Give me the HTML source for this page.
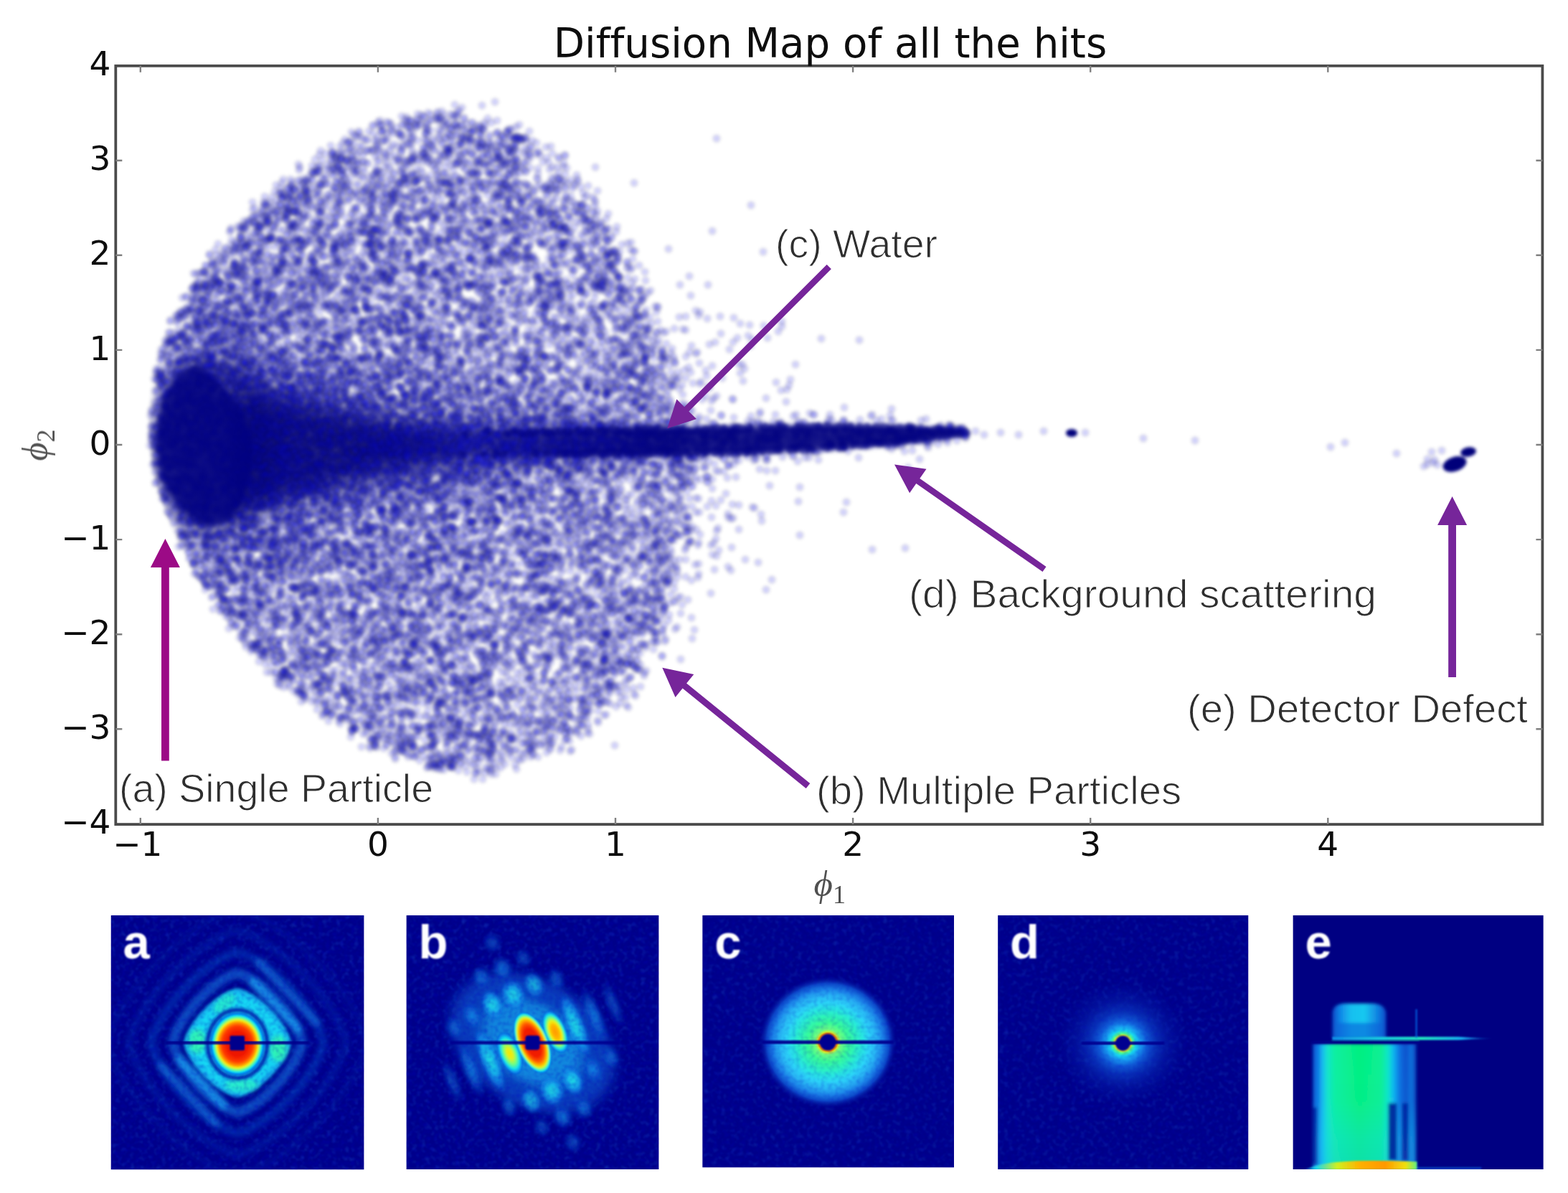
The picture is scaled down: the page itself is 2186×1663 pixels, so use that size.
<!DOCTYPE html>
<html lang="en"><head><meta charset="utf-8"><title>Diffusion Map of all the hits</title>
<style>
html,body{margin:0;padding:0;background:#fff;width:2186px;height:1663px;overflow:hidden}
svg{display:block}
.tk{font-family:"DejaVu Sans","Liberation Sans",sans-serif;font-size:47px;fill:#0a0a0a}
.ti{font-family:"DejaVu Sans","Liberation Sans",sans-serif;font-size:56.2px;fill:#0a0a0a;font-variant-ligatures:none}
.an{font-family:"Liberation Sans","DejaVu Sans",sans-serif;font-size:55.5px;fill:#2e2e2e;stroke:#fff;stroke-width:1.1px;paint-order:fill stroke}
.pl{font-family:"Liberation Sans","DejaVu Sans",sans-serif;font-size:67px;font-weight:bold;fill:#fff}
.ph{font-family:"Liberation Serif","DejaVu Serif",serif;font-style:italic;fill:#505050}
</style></head>
<body>
<svg width="2186" height="1663" viewBox="0 0 2186 1663">
<rect width="2186" height="1663" fill="#fff"/>
<defs><filter id="axb" x="0" y="0" width="2186" height="1240" filterUnits="userSpaceOnUse"><feGaussianBlur stdDeviation="0.7"/></filter></defs><defs><filter id="txb" x="-5%" y="-30%" width="110%" height="160%"><feGaussianBlur stdDeviation="0.55"/></filter></defs><defs><filter id="sb" x="0" y="0" width="2186" height="1240" filterUnits="userSpaceOnUse"><feGaussianBlur stdDeviation="1.9"/></filter><filter id="b6" x="0" y="0" width="2186" height="1240" filterUnits="userSpaceOnUse"><feGaussianBlur stdDeviation="3"/></filter><filter id="b14" x="0" y="0" width="2186" height="1240" filterUnits="userSpaceOnUse"><feGaussianBlur stdDeviation="16"/></filter><linearGradient id="tg" gradientUnits="userSpaceOnUse" x1="560" y1="0" x2="900" y2="0"><stop offset="0" stop-color="#00007e" stop-opacity="0"/><stop offset="1" stop-color="#00007e" stop-opacity="0.9"/></linearGradient></defs><defs><clipPath id="cb"><polygon points="208,620 207,594 208,568 211,543 216,517 222,491 230,466 239,442 251,417 264,394 279,372 295,350 313,329 332,309 352,289 373,270 395,251 418,232 443,213 469,196 498,181 528,169 559,160 591,153 624,150 658,151 690,158 721,172 748,191 773,213 796,237 817,261 836,286 853,311 868,337 883,362 896,387 907,412 918,438 928,463 936,489 943,514 950,540 956,566 961,593 966,620 969,648 971,676 970,704 967,732 962,761 956,790 949,819 941,848 930,878 917,907 901,935 882,961 860,985 836,1007 810,1026 782,1044 753,1059 722,1072 690,1081 657,1083 623,1080 591,1072 560,1062 530,1049 502,1035 476,1019 451,1002 428,985 406,967 385,949 365,931 347,911 331,891 315,871 301,850 287,829 275,808 263,786 252,764 242,741 232,718 224,695 216,670 211,645"/></clipPath></defs><g id="scatter" filter="url(#sb)"><g clip-path="url(#cb)"><g filter="url(#b14)" fill="#000066"><ellipse cx="295" cy="620" rx="80" ry="120" opacity="0.4"/><polygon points="330,555 520,590 820,598 820,636 520,660 330,710" opacity="0.4"/><polygon points="335,535 430,556 520,580 600,600 600,640 520,662 430,692 335,722" opacity="0.45"/></g></g><g fill="none" stroke-linecap="round"><defs><path id="l0" d="M567 174h0m20-1h0m37-2h0m8-6h0m61 20h0m-19-5h0m-14 2h0m-21-6h0m-28 15h0m-36-5h0m-20 0h0m89 6h0m11 1h0m8 5h0m8 7h0m30 2h0m17-13h0m9 0h0m13 25h0m-9-6h0m-19 0h0m-32 3h0m-17 2h0m-38-9h0m-5 9h0m-16-10h0m-14 6h0m-9 9h0m-25 0h0m-38-14h0m-29 0h0m-21 10h0m-29 3h0m24 7h0m29-5h0m2 13h0m35-13h0m33 10h0m3-10h0m71 5h0m13-3h0m30 2h0m19 5h0m9-8h0m11 8h0m21 1h0m44 18h0m-52 3h0m-42-14h0m-2 12h0m-17-13h0m-8 13h0m-4-10h0m-14 7h0m-15 5h0m-18-14h0m-3 10h0m-33-10h0m-11 9h0m-39-8h0m-20 4h0m-36 8h0m-21-7h0m-65 20h0m17-4h0m25-1h0m51 8h0m19-2h0m2-12h0m18 12h0m10-6h0m22 8h0m37-4h0m27 1h0m19 2h0m59 0h0m15-12h0m8 11h0m23 2h0m13-10h0m17 4h0m35-5h0m30 23h0m-20 4h0m-14-12h0m-20 2h0m-64 2h0m-50-1h0m-33 7h0m-42-4h0m-13-4h0m-22 6h0m-32-6h0m-12 6h0m-31-1h0m-15-6h0m-14 5h0m-20-6h0m-27 3h0m-30 10h0m-2-13h0m-2 27h0m21-8h0m14-2h0m9-3h0m19 12h0m13-7h0m13-5h0m14 3h0m20 6h0m26-9h0m0 13h0m76-3h0m10-10h0m17 0h0m21 3h0m98-2h0m11 7h0m47-8h0m8 7h0m10 8h0m4-12h0m9 23h0m-26 3h0m-35-9h0m-19 4h0m-13 4h0m-17-12h0m-30 5h0m-9-2h0m-14 1h0m-26-2h0m-12-2h0m-7 11h0m-34 3h0m-19-11h0m-9 7h0m-5-10h0m-13 1h0m-13-1h0m-5 15h0m-12-4h0m-16-7h0m-25 3h0m-9 6h0m-11-8h0m-12 3h0m-30 4h0m-9-11h0m-11 5h0m-12 0h0m-13 9h0m-5-9h0m-16 8h0m-5 10h0m40 7h0m15-15h0m45 7h0m27 4h0m28-2h0m28-2h0m10-5h0m11 2h0m27-4h0m7 8h0m21-4h0m37-4h0m4 10h0m21-5h0m18 9h0m1-13h0m16 8h0m11-9h0m11 2h0m10 7h0m12 1h0m13-8h0m15-2h0m10 9h0m16-6h0m24 7h0m28-1h0m152-7h0m-114 26h0m-88-11h0m-5 9h0m-19 4h0m-53-6h0m-16 6h0m-9-9h0m-11 4h0m-18-6h0m-43-3h0m-7 9h0m-11-4h0m-73 0h0m-5 9h0m-6-11h0m-34 2h0m-15 7h0m-19 0h0m-22-7h0m-10-5h0m-5 10h0m-17 2h0m-4-11h0m-20 6h0m-9-4h0m-8 10h0m-7-6h0m-9-5h0m-12 11h0m-14 3h0m20 14h0m10-3h0m18 4h0m5-14h0m10 2h0m4 9h0m17 1h0m20-5h0m19 1h0m19-3h0m17 8h0m16-2h0m20 1h0m13-5h0m14 6h0m24-7h0m13 5h0m19 0h0m70-8h0m25 4h0m28-5h0m3 11h0m20-2h0m1-10h0m11 10h0m57-11h0m9 4h0m37-2h0m9 22h0m-7-8h0m-28 7h0m-28-2h0m-19-4h0m-22 1h0m-57 12h0m-8-15h0m-16 0h0m-27 6h0m-16-5h0m-19 2h0m-3 11h0m-19-1h0m-10-1h0m-34-11h0m-11 10h0m-9-6h0m-71 10h0m-4-12h0m-12 12h0m-2-11h0m-14 4h0m-14-8h0m-2 10h0m-18 1h0m-13-1h0m-20 5h0m-19-3h0m-16-4h0m-16 1h0m-8-6h0m-11 8h0m-12 3h0m2 14h0m18-2h0m14 0h0m32-3h0m9 8h0m12-7h0m20-5h0m29 8h0m22-1h0m12-1h0m16 6h0m43-11h0m16 10h0m19-9h0m10-4h0m24 13h0m12-7h0m32 5h0m23-4h0m22 4h0m15-7h0m11-2h0m24 5h0m45 0h0m17 2h0m16-4h0m26 2h0m17 1h0m9 6h0m2-14h0m1 12h0m20-10h0m6 17h0m-16-1h0m-69 8h0m-3-10h0m-1 11h0m-16-12h0m-35 7h0m-14-1h0m-30-6h0m-8 13h0m-2-11h0m-50 9h0m-48-2h0m-14 2h0m-10 2h0m-22 1h0m-23-12h0m-90 1h0m-8 8h0m-12-1h0m-18 0h0m-27-10h0m-17 4h0m-27 0h0m-17 7h0m-10 2h0m-28 2h0m32 10h0m33-5h0m10-3h0m18 8h0m9-8h0m17 1h0m1 12h0m14-14h0m33 14h0m17-1h0m32-4h0m16 5h0m3-10h0m20 2h0m18 5h0m12-6h0m25 3h0m10-3h0m10-4h0m38 8h0m29-4h0m8 7h0m14 1h0m13-7h0m10-4h0m42 3h0m13-5h0m9 8h0m9-8h0m25 10h0m17 0h0m18 5h0m16-8h0m23-6h0m25 3h0m-5 22h0m-57 0h0m-28-4h0m-22 0h0m-22 6h0m-4-8h0m-72 10h0m-14 0h0m-16-3h0m-17-7h0m-47 2h0m-9 7h0m-20-1h0m-20 2h0m-21-3h0m-2-11h0m-14 15h0m-5-14h0m-14 11h0m-9-10h0m-35 12h0m-10-11h0m-2 10h0m-24-11h0m-18 7h0m-26-3h0m-15 2h0m-18 4h0m-11-8h0m-18-3h0m-9 8h0m-10-5h0m-14-4h0m-13 4h0m-4 15h0m21 5h0m11 0h0m2-2h0m10 5h0m17-7h0m3 11h0m22-9h0m32 2h0m25-5h0m27-3h0m11 7h0m13 6h0m8-13h0m51 13h0m16-5h0m20 7h0m2-7h0m20 6h0m8-2h0m12 0h0m22-2h0m28-2h0m30-3h0m117 9h0m14-7h0m23 1h0m44 4h0m10-4h0m16-2h0m42 10h0m-34 5h0m-8 6h0m-54-8h0m-16 1h0m-4 11h0m-40-8h0m-21 5h0m-14-8h0m-20 1h0m-39 7h0m-1-11h0m-12 12h0m-16-11h0m-18 4h0m-16-5h0m-22 0h0m0 5h0m-11 2h0m-11 1h0m-14-9h0m-5 9h0m-21-1h0m-17 0h0m-21-8h0m-17 4h0m-5 11h0m-13-14h0m-21 1h0m-10 10h0m-23-1h0m-21-3h0m-24 3h0m-4-11h0m-14 11h0m-2-10h0m-17 7h0m-13 4h0m-8-10h0m-3 2h0m-17 0h0m-11 2h0m-10 0h0m-10-1h0m-14 3h0m-3 20h0m15-10h0m19 1h0m21 12h0m2-15h0m12 5h0m17 8h0m11-7h0m12 6h0m8 0h0m8-7h0m12 7h0m18-3h0m14 0h0m17-8h0m2 10h0m24 0h0m11-10h0m2 12h0m39-8h0m33-1h0m1 10h0m22-9h0m12 10h0m24-11h0m10 1h0m12 9h0m5-10h0m12 11h0m6-15h0m6 7h0m10-1h0m40-1h0m16 7h0m21-2h0m27-3h0m25-5h0m8 11h0m47-1h0m27-6h0m9 8h0m7-12h0m26 3h0m37 1h0m38 20h0m-78-2h0m-12-2h0m-117-2h0m-12-1h0m-25 1h0m-36 4h0m-23-5h0m-12 9h0m-17 3h0m-32-8h0m-10 4h0m-31-4h0m-15 3h0m-15-9h0m-11 10h0m-19-9h0m-16 3h0m-17 0h0m-15 1h0m-18-1h0m-12-3h0m-6 7h0m-9-5h0m-6 9h0m-16-10h0m-12 12h0m-10-12h0m-10 7h0m-9-5h0m-17 3h0m-24-1h0m-19-1h0m-2 3h0m-4 6h0m-4-2h0m-11-7h0m-17-2h0m-7 7h0m-30 15h0m18 3h0m3-11h0m7 10h0m18-6h0m26 7h0m14-13h0m4 10h0m12 1h0m4-7h0m18 5h0m2-9h0m8 15h0m9-8h0m6 8h0m5-12h0m11 9h0m13-8h0m7 8h0m14-3h0m30-6h0m17 5h0m11-5h0m5 11h0m8-8h0m7-6h0m11 7h0m12-5h0m14 5h0m10 3h0m5-9h0m8 5h0m21 0h0m32 4h0m23 2h0m49 2h0m15 1h0m1-14h0m27 3h0m18 0h0m65-2h0m4 10h0m23-7h0m8 10h0m29-14h0m12 9h0m42 0h0m20-3h0m39-3h0m54-2h0m64 15h0m-125 3h0m-51 9h0m-12-11h0m-14 2h0m-25 6h0m-15-3h0m-10 6h0m-34-2h0m-22 3h0m-9-13h0m-11 4h0m-29-5h0m-11 14h0m-25-5h0m-30 5h0m-12-10h0m-12 8h0m-18-1h0m-13 3h0m-6-13h0m-10 6h0m-12-7h0m-12 12h0m-15-9h0m-28 10h0m-11-6h0m-15-7h0m-6 7h0m-17-2h0m-21-4h0m-10 4h0m-14-3h0m-7 7h0m-11-8h0m-2 11h0m-6-4h0m-2-6h0m-5 8h0m-3 2h0m0 0h0m-11-3h0m-11-3h0m-9 8h0m-2-11h0m-8 6h0m-11 0h0m-19-6h0m-11 1h0m-2 9h0m-2-13h0m-7 7h0m-21 5h0m-5-5h0m-14-2h0m-19 10h0m-4-10h0m-10 4h0m-1-1h0m-16-3h0m-8 9h0m14 6h0m13 10h0m1-12h0m18 7h0m21 3h0m0 1h0m7-11h0m19 1h0m14 4h0m9-7h0m6 10h0m6-9h0m9 14h0m1-12h0m4 9h0m2 3h0m3-5h0m17 1h0m12-6h0m10 6h0m0-6h0m2-2h0m2-3h0m9 8h0m0 2h0m18-8h0m10-1h0m15 1h0m20-1h0m5 12h0m14-4h0m13-5h0m5 8h0m7-9h0m6 5h0m14 3h0m18 0h0m2-2h0m12 4h0m13-4h0m18-8h0m18 9h0m13-5h0m28-4h0m21 0h0m5 10h0m19 1h0m14-6h0m9 4h0m21 2h0m10-7h0m16-1h0m18 11h0m6-12h0m26-1h0m11 3h0m29 1h0m17-6h0m20 1h0m6 9h0m49 19h0m-34-8h0m-32 2h0m-11-5h0m-7 8h0m-17-1h0m-8-7h0m-17 13h0m-15-14h0m-27 7h0m-11 2h0m-10-4h0m-29 5h0m-31-4h0m-23 8h0m-9-14h0m-4 9h0m-19-3h0m-22-2h0m-30-4h0m-7 6h0m-15-5h0m-5 7h0m-5 3h0m-8-6h0m-12-3h0m-10 5h0m-20 4h0m0-4h0m-3-1h0m-8 8h0m-9-12h0m-6 12h0m-6-9h0m-7-2h0m-1-4h0m-1 12h0m-12 1h0m-3-12h0m-7 8h0m-9-9h0m-6 5h0m-3 8h0m-8-8h0m-7 4h0m-6 6h0m-8-4h0m-10-6h0m-1 7h0m-7-8h0m-3 4h0m-7-1h0m-7-3h0m-6 8h0m-3-10h0m-12 0h0m-2 2h0m-8 10h0m-2-4h0m-11-1h0m-3-1h0m-16-8h0m-5 10h0m-6-9h0m-14 5h0m-4-2h0m-2 4h0m-4-3h0m-16-2h0m-12 10h0m-4-11h0m-17 6h0m-18-2h0m6 13h0m10 5h0m10-3h0m2 0h0m12 3h0m14 0h0m9-8h0m0 11h0m13-9h0m0 0h0m0 12h0m13-10h0m15 8h0m2-12h0m13 5h0m11 1h0m9 4h0m10-5h0m14 6h0m4-9h0m5 5h0m6-4h0m4 11h0m7-13h0m8 5h0m1 2h0m22-6h0m9 13h0m5-4h0m10 2h0m9-3h0m10 0h0m18 3h0m12-3h0m15-1h0m16 3h0m15-7h0m13 4h0m12 4h0m13-13h0m8 8h0m9 6h0m4-13h0m20 14h0m2-10h0m2 1h0m18 1h0m7 4h0m13-7h0m3 8h0m22 1h0m4-10h0m13 1h0m11 11h0m1-4h0m10-2h0m17 1h0m1-10h0m19 1h0m15 13h0m2-12h0m31 9h0m10 0h0m10-5h0m13 4h0m17 5h0m27-6h0m18 3h0m18-9h0m3 11h0m17-7h0m129 7h0m89-3h0m114-3h0m129 22h0m-79-2h0m-4 1h0m-8-4h0m-22-5h0m-15 8h0m-12-4h0m-13 1h0m-26-3h0m-27 0h0m-12 4h0m-14 5h0m-63 0h0m-4-9h0m-39 7h0m-73-8h0m-18 1h0m-28 4h0m-35 1h0m-13 4h0m-3-2h0m-3 0h0m-14-9h0m-5 11h0m-8-5h0m-10-1h0m-12 0h0m-15-5h0m-10 3h0m-11 8h0m-8-1h0m-3-7h0m-9-6h0m-3 9h0m-6-1h0m-4-2h0m-1 1h0m-16-1h0m-15-2h0m-11 6h0m-7 3h0m-13-3h0m-5-3h0m-1 6h0m-2-2h0m-12-1h0m-9 2h0m-10-1h0m-6-10h0m-2 2h0m-2 6h0m-1 3h0m-11-10h0m-2 9h0m-12 0h0m-3-10h0m-10 8h0m-12-1h0m-5-2h0m-5 0h0m-3 3h0m0-6h0m-8 4h0m-11-5h0m-1 7h0m-3-10h0m-9 11h0m-1 2h0m-16-2h0m-6 1h0m-1 0h0m-4-11h0m-2 11h0m-8-6h0m-12 5h0m-1-10h0m-10 14h0m-2-10h0m-1 3h0m-7 6h0m-3-5h0m-2-4h0m-10 7h0m-6-3h0m-1-4h0m-14 10h0m-4 0h0m-3-11h0m-23 7h0m-3-9h0m-14 0h0m0 1h0m-11-2h0m-1 10h0m-5-9h0m-6 6h0m-10 6h0m-5-9h0m-1 0h0m-2 7h0m-9 1h0m-8-12h0m-15 7h0m-3 1h0m-3-7h0m-7 2h0m-6 2h0m0 9h0m-5-10h0m-12 3h0m-13 7h0m-2-12h0m-8 7h0m-21 1h0m-14-9h0m-1 3h0m-14 0h0m-20-4h0m-1 9h0m-13 5h0m12 7h0m0-2h0m13 3h0m10-3h0m5 1h0m12-1h0m13 5h0m7 1h0m1-9h0m2 1h0m6 13h0m2-5h0m9 0h0m14 2h0m6-4h0m1-4h0m6 8h0m13 1h0m5-8h0m1-3h0m5-2h0m5 15h0m2-14h0m9-1h0m1 2h0m7 13h0m8-14h0m3 9h0m19-4h0m17-1h0m12-1h0m8-1h0m0 10h0m10-3h0m4-9h0m10 3h0m18-1h0m11 5h0m15-5h0m4 9h0m1-1h0m8-2h0m2 1h0m5 3h0m0 0h0m10-12h0m1 9h0m13-5h0m1 0h0m8 9h0m1-5h0m11-3h0m4 1h0m4-3h0m5 1h0m14 1h0m1 6h0m9-1h0m14-1h0m1-8h0m3-2h0m5 7h0m1 6h0m0-10h0m8 2h0m17 8h0m7-7h0m1 6h0m9 1h0m0-4h0m1 1h0m16-1h0m0-3h0m8 9h0m3-3h0m17-9h0m9 5h0m3-1h0m0-5h0m12 11h0m6-8h0m11 8h0m2-11h0m4 2h0m6 7h0m3-1h0m2-4h0m11-1h0m0 1h0m1 3h0m3 6h0m8-12h0m0 6h0m10 1h0m11 1h0m2 3h0m4-10h0m0-2h0m4 1h0m7 8h0m1 1h0m3-11h0m8 1h0m5 2h0m2 1h0m1 10h0m3-3h0m4-10h0m11 9h0m1-3h0m8 5h0m4 0h0m3-11h0m18 2h0m9 8h0m3-9h0m13-3h0m10 7h0m28-5h0m3 11h0m21-1h0m10-10h0m10 5h0m6 8h0m5-9h0m8 8h0m16-12h0m9 3h0m14 4h0m25 0h0m27-9h0m13 1h0m8 8h0m15 6h0m16-4h0m22-4h0m12-7h0m3 12h0m20-6h0m6-1h0m4 7h0m5-12h0m14 6h0m33-3h0m14 0h0m-78 15h0m-105 3h0m-34 0h0m-49-5h0m-32 8h0m-19 2h0m-21 4h0m-12-13h0m-11 10h0m-11 1h0m-20-3h0m-11 2h0m-5-11h0m-9 10h0m-20-4h0m-9-2h0m-6-1h0m-2 6h0m-11-4h0m-13 8h0m-13-13h0m-5 6h0m-15 3h0m-6 5h0m-2-6h0m-12-6h0m-2 12h0m-3-6h0m-8-4h0m-11 5h0m-2-5h0m-3 5h0m-11 0h0m-4-3h0m-4-4h0m-4 8h0m-2 5h0m0-13h0m-4-2h0m-10 13h0m-3-12h0m-1 6h0m-4-6h0m0 4h0m0-2h0m-6-3h0m-2 11h0m-6-8h0m-7 9h0m-9-11h0m-2 12h0m-8-8h0m-5 7h0m-7 1h0m-13-10h0m-1 0h0m-2-3h0m-6 10h0m-14-4h0m-1-4h0m0 4h0m-4 3h0m0 4h0m-2-12h0m-1 5h0m-2 2h0m-14-5h0m-5 3h0m-4 9h0m-3-10h0m-2 6h0m-8-10h0m-15 7h0m-4 4h0m-11-7h0m-3 5h0m-4-6h0m-7 2h0m-1 3h0m-11 4h0m-2-4h0m-5-3h0m-11 3h0m-10-3h0m-5-4h0m-5 8h0m-8-8h0m-19 5h0m-11 4h0m-19-7h0m0 11h0m-10-2h0m-5-10h0m-2 3h0m-12-4h0m-15 8h0m-15-7h0m-4 12h0m-1 0h0m-7-14h0m-4 0h0m-7 7h0m-7 5h0m-5-6h0m-4-2h0m-17 7h0m-3-10h0m-14 7h0m-17-6h0m-9 9h0m-6-9h0m-8 9h0m-11-12h0m-7 11h0m-20 0h0m-2-10h0m9 23h0m9 6h0m17-10h0m2 0h0m10 0h0m11 2h0m13-3h0m7 7h0m10-9h0m5 9h0m18-7h0m16-1h0m2 12h0m5-8h0m5-4h0m4 11h0m15-9h0m9-1h0m2 1h0m3 1h0m2 8h0m9-10h0m1 0h0m12 1h0m7-4h0m3 15h0m9-7h0m10 3h0m2 2h0m6-5h0m5-1h0m9 7h0m14 1h0m8-4h0m8-9h0m3 4h0m8 7h0m10-2h0m3-4h0m14-1h0m13-1h0m7 8h0m3 1h0m8-13h0m4 11h0m11 3h0m2-12h0m18 4h0m7-1h0m2-5h0m15 7h0m8-6h0m1 11h0m8-7h0m14-5h0m15 2h0m2-3h0m1 5h0m11 2h0m5 8h0m14-9h0m21 3h0m12 2h0m3 4h0m11-13h0m4 2h0m12 0h0m1 1h0m18 3h0m21-8h0m4 8h0m47 3h0m16 1h0m12 0h0m1-11h0m0 1h0m7 0h0m6 9h0m22-2h0m23 0h0m10-3h0m8 7h0m20-2h0m16-4h0m55-5h0m17 0h0m922-2h0m-992 16h0m-11 8h0m-35-6h0m-8 6h0m-26-1h0m-47-2h0m-31-3h0m-19 6h0m-5-8h0m-26 1h0m-2 11h0m-8-9h0m-20 10h0m-26-13h0m-8 6h0m-13 0h0m-6 1h0m-2 8h0m-3-9h0m-23-1h0m-11 10h0m-9-11h0m-2 6h0m-10 2h0m-6-11h0m-5 13h0m-8-5h0m-17-6h0m-14 9h0m-6-11h0m-8 7h0m-13-1h0m-27 4h0m-2-7h0m0-2h0m-13-2h0m-1 7h0m-5 8h0m-10-5h0m-13 4h0m-9-11h0m-8-3h0m-19 12h0m-2 1h0m-9 1h0m-9-5h0m-3 0h0m-8-3h0m-8 1h0m-12 1h0m-2-4h0m-2 11h0m-8-12h0m-3 1h0m0-4h0m-6 6h0m-10-2h0m-1 9h0m-5 2h0m-8-13h0m-1 4h0m-1 4h0m-14 2h0m-1 3h0m-16-9h0m-8-3h0m-1-2h0m0 12h0m-11-5h0m-10 3h0m-6-7h0m-20 9h0m-7-9h0m-5 10h0m-15-11h0m-5 12h0m-15-3h0m-6-2h0m-1 19h0m15-5h0m12 0h0m25 0h0m10 3h0m9-11h0m1 10h0m15 3h0m6-11h0m23-1h0m7 9h0m9-2h0m4 5h0m5-3h0m3-10h0m6 8h0m10 3h0m10-3h0m9 7h0m3-5h0m5-1h0m7 2h0m1 4h0m3-13h0m0 5h0m2-2h0m8 7h0m1-11h0m5 6h0m3 1h0m5-3h0m6 4h0m1 2h0m8-6h0m9 9h0m4-13h0m15 7h0m10 5h0m10-9h0m2 10h0m20-7h0m9 1h0m3-1h0m8 3h0m7-10h0m15 9h0m10-6h0m14 0h0m11 11h0m11-13h0m6 12h0m33-13h0m16 7h0m15-7h0m33 2h0m7 9h0m45-8h0m21 9h0m13-8h0m37-3h0m10 14h0m38-8h0m15 8h0m5-15h0m28 11h0m11-4h0m10-7h0m-39 26h0m-4-8h0m-25 5h0m-64-3h0m-12 1h0m-1 10h0m-11-13h0m-24 9h0m-17-4h0m-8-6h0m-13 6h0m-15 3h0m-12-7h0m-15 4h0m-25-6h0m-26 14h0m-8-7h0m-14-2h0m-10 6h0m-11-1h0m-16-11h0m-7 11h0m-11-1h0m-18 0h0m-14-8h0m-10 5h0m-9 5h0m-22-3h0m-15-1h0m-3-6h0m-7 7h0m-8 5h0m-11-14h0m-1 7h0m-10-5h0m-11 11h0m-24 0h0m-20 0h0m-2-8h0m-9 6h0m-6-9h0m-18 7h0m-10-5h0m-1 5h0m-10-9h0m-8 10h0m-6-8h0m-2 13h0m-16-5h0m-13-6h0m-12 10h0m-4-9h0m-11 1h0m-14 9h0m-11-7h0m-5 17h0m18 0h0m12 5h0m5-9h0m16 2h0m14-1h0m14 3h0m12 2h0m17 4h0m0-10h0m11 1h0m14-6h0m16 10h0m10-2h0m9 7h0m3-10h0m16 4h0m19 5h0m5-10h0m7 5h0m8 5h0m16-2h0m21-4h0m8-4h0m25 3h0m11 1h0m7-8h0m9 4h0m39 3h0m24 3h0m11-3h0m11 0h0m12 7h0m33-8h0m19-6h0m31 3h0m13 7h0m1-10h0m13 2h0m24 12h0m10-11h0m3 10h0m21-3h0m27 5h0m14-13h0m10 4h0m46 8h0m11-2h0m18-1h0m1 16h0m-14-4h0m-31 5h0m-3-9h0m-7 11h0m-21-1h0m-12-6h0m-19 1h0m-17-5h0m-10 10h0m-4-8h0m-48 4h0m-33-9h0m-12 13h0m-1-10h0m-24 10h0m-2-13h0m-37 7h0m-7 8h0m-18-15h0m-12 3h0m-27 3h0m-14 3h0m-16-3h0m-14-2h0m-29 8h0m-45-6h0m-22 0h0m-11 7h0m-11-10h0m-15 2h0m-11 8h0m-1-10h0m-14 1h0m-20 7h0m-11-3h0m-10 6h0m-15-8h0m-36 9h0m-2-10h0m-20 3h0m-13 2h0m-12-1h0m1 12h0m13 8h0m6-12h0m10 5h0m14 7h0m11-1h0m12 2h0m11-8h0m13 0h0m21-4h0m2 13h0m7-7h0m15-6h0m23 8h0m4 5h0m5-12h0m11 0h0m5 2h0m2 5h0m47-5h0m21 1h0m19-1h0m16-2h0m9 10h0m52-4h0m18-2h0m20-3h0m27-1h0m35 11h0m31-4h0m1-10h0m8 5h0m20 1h0m18 1h0m12-2h0m65 5h0m29 3h0m32 2h0m3-12h0m11 2h0m13 6h0m24-7h0m37-4h0m-28 24h0m-42-3h0m-15 5h0m-43-5h0m-23 7h0m-15 1h0m-10-7h0m-64-6h0m-43 8h0m-27-2h0m-19 1h0m-15 1h0m-39 7h0m-4-11h0m-11 8h0m-27-7h0m-13 4h0m-8-8h0m-16 7h0m-23 6h0m-12 1h0m-16-5h0m-21-9h0m-3 9h0m-17-6h0m-10 0h0m-12 1h0m-13 7h0m-13-10h0m-13 9h0m-1-1h0m-6-10h0m-7 9h0m-18 1h0m-16-5h0m-11 7h0m-37-2h0m-4-6h0m-18 4h0m-14 1h0m9 9h0m26 7h0m15 1h0m11-7h0m7 9h0m10-1h0m14-4h0m7 7h0m20-2h0m4-9h0m11 12h0m10-11h0m18 3h0m10 4h0m10-11h0m13 10h0m20-1h0m14 2h0m13-4h0m49-4h0m15 4h0m13-3h0m4 10h0m17-5h0m31-4h0m13-4h0m7 10h0m14-3h0m13-4h0m9-4h0m22 2h0m28 3h0m40 1h0m41 3h0m20 3h0m31-6h0m36 1h0m18 1h0m30 4h0m72 15h0m-45-9h0m-38 4h0m-12-3h0m-20-3h0m-12 6h0m-73 5h0m-38-7h0m-13-3h0m-9 10h0m-4-10h0m-42 1h0m-9 7h0m-27-8h0m-17 7h0m-13 3h0m-22-10h0m-13 2h0m-11 9h0m-9-9h0m-25 1h0m-13 0h0m-15-1h0m-24 9h0m-9-11h0m-5 10h0m-19 4h0m-11-10h0m-10-1h0m-2 9h0m-41-3h0m-22 4h0m-27 0h0m-3-10h0m-21 11h0m-29-7h0m-31 0h0m-16-5h0m7 15h0m24 13h0m1-14h0m22 7h0m60-8h0m1 11h0m11-1h0m54 2h0m31-3h0m34 6h0m17-7h0m9-7h0m10 11h0m9-6h0m17 0h0m22 4h0m29-4h0m42 4h0m67-1h0m7-7h0m11 9h0m36 1h0m37-8h0m10 6h0m19-9h0m12 10h0m16-11h0m40 9h0m16 3h0m136-4h0m-162 16h0m-6-8h0m-8 8h0m-10-1h0m-10-4h0m-11 4h0m-20 3h0m-52 2h0m-39-3h0m-12 6h0m-9-11h0m-10 7h0m-10-10h0m-18 4h0m-39 4h0m-20 2h0m-14-10h0m-19 0h0m-14 9h0m-11-5h0m-12 8h0m-8-11h0m-17 12h0m-13-9h0m-11 1h0m-25 9h0m-8-11h0m-16 0h0m-8 9h0m-22-10h0m-7 8h0m-13 1h0m-4-10h0m-12 0h0m-14 2h0m-5 10h0m-18-6h0m-10-3h0m-18-5h0m-27 21h0m17-1h0m11-1h0m19-2h0m14 3h0m27 4h0m6-8h0m44 4h0m28 6h0m76-8h0m44 11h0m2-13h0m11 15h0m27-8h0m12-5h0m10 10h0m1-10h0m15 11h0m15-10h0m28 10h0m32 2h0m12-8h0m13 3h0m20 1h0m18-10h0m26 3h0m10 11h0m5-9h0m16 2h0m23 3h0m18-6h0m8 7h0m2 12h0m-17 5h0m-10-7h0m-33-5h0m-20 9h0m-52-4h0m-17 7h0m-3-12h0m-28 11h0m-16-4h0m-29-4h0m-28 0h0m-35-3h0m-48 1h0m0 10h0m-18-7h0m-26 6h0m-20-6h0m-31 6h0m-48-5h0m-20-1h0m-16 1h0m-22-3h0m-9 3h0m-47 4h0m-9-9h0m-3 12h0m-11-10h0m17 22h0m23-3h0m11-4h0m12 10h0m14-11h0m1 6h0m10 4h0m12 4h0m7-14h0m17 1h0m18 2h0m8 7h0m41 2h0m10-8h0m14 6h0m15 4h0m13-12h0m30 10h0m35-4h0m24 3h0m51 0h0m11-2h0m25 1h0m28-11h0m20 8h0m16 2h0m40-9h0m50 3h0m10 6h0m37 17h0m-67-6h0m-15-1h0m-24-4h0m-21 12h0m-19-11h0m-31 14h0m-2-12h0m-13-3h0m-16 3h0m-29 12h0m-10-11h0m-10-3h0m-15 7h0m-18-2h0m-8 8h0m-15-3h0m-24-7h0m-8 6h0m-11 0h0m-23-9h0m-13 11h0m-13 0h0m-28-5h0m-17 2h0m-23 1h0m-8-7h0m-31 7h0m-60 5h0m-14-10h0m9 19h0m15 0h0m26 5h0m27-4h0m34-6h0m15 7h0m29-6h0m11 3h0m20-1h0m25 7h0m10 0h0m13-10h0m1 10h0m14-11h0m14-2h0m7 13h0m13-6h0m16-7h0m40 1h0m33 5h0m15-2h0m52 1h0m58-3h0m18 4h0m44-4h0m-21 24h0m-5-10h0m-12 8h0m-6-8h0m-14 1h0m-3 10h0m-20 4h0m-19-1h0m-16-12h0m-20 4h0m-9-3h0m-29 0h0m-15 6h0m-16-3h0m-19 1h0m-25 4h0m-52-3h0m-32 6h0m-37 0h0m-7-12h0m-41 3h0m-12-2h0m-12-2h0m-16 7h0m-17 3h0m-29-5h0m-22-2h0m22 16h0m48 0h0m6 9h0m68-5h0m14 7h0m10-12h0m14 0h0m14 10h0m30 2h0m27-15h0m4 15h0m29-12h0m11 10h0m13-10h0m28 0h0m28 3h0m18 2h0m19 4h0m14-11h0m30 14h0m22-6h0m26 0h0m17-4h0m-32 24h0m-22 0h0m-74-9h0m-21-3h0m-55 13h0m-19-9h0m-46 8h0m-22-3h0m-10 5h0m-5-10h0m-17 6h0m-58-5h0m-21-4h0m-7 8h0m-19-7h0m-17 5h0m-19-7h0m-15 2h0m-14-3h0m26 17h0m5 14h0m15-12h0m47 9h0m13-6h0m26 5h0m15-1h0m14-2h0m21-7h0m26 9h0m12 4h0m23-10h0m16 2h0m10-3h0m9 9h0m36-8h0m17 11h0m2-11h0m34 7h0m17-2h0m15 6h0m21-14h0m12 6h0m11 7h0m29-2h0m8-11h0m-51 22h0m-6 8h0m-4-10h0m-34 6h0m-36 0h0m-78-1h0m-31 5h0m-24-6h0m-48 1h0m-54-1h0m-52 4h0m20 12h0m18 4h0m22-10h0m33-3h0m25 4h0m119 5h0m22-5h0m22 10h0m13 1h0m10-7h0m12 4h0m15 1h0m20-2h0m15 20h0m-2-13h0m-27 9h0m-35 1h0m-34 1h0m-7-13h0m-37 6h0m-18 9h0m-11-3h0m-12-10h0m-4 13h0m-8-11h0m-10-2h0m-14 1h0m-22 7h0m-24 1h0m-62-3h0m-6 11h0m28 6h0m9-8h0m15 7h0m25 3h0m6-9h0m28 2h0m2 10h0m9-7h0m62-5h0m12 10h0m18-11h0m16 7h0m30 2h0m46 13h0m-28-5h0m-27 13h0m-6-7h0m-30-7h0m-41 1h0m-17-2h0m-4 15h0m-20-4h0m-20 1h0m-31-9h0m-2 12h0m-17-9h0m-27-4h0m72 27h0m10-5h0m20 3h0m3-10h0m24 4h0m16-5h0m14 1h0m41 3h0m-49 17h0m-61-5h0"/></defs><g opacity="0.178"><use href="#l0" stroke="#00003c" stroke-width="11"/><use href="#l0" stroke="#0000ff" stroke-width="7"/></g><defs><path id="l1" d="M609 159h0m-79 9h0m49 4h0m40-12h0m18 3h0m20 8h0m15 9h0m-23 3h0m-12-6h0m0 10h0m-44-10h0m-23 8h0m-80-1h0m15 20h0m20-2h0m40-8h0m26 0h0m40 3h0m25-5h0m10 11h0m13 4h0m26-6h0m8-8h0m11 2h0m7 12h0m2-15h0m54 24h0m-17-2h0m-19-1h0m-13 2h0m-26-2h0m-16 7h0m-23-3h0m-15-1h0m-10-5h0m-18-1h0m-4 10h0m-13-8h0m-18-2h0m-4 9h0m-15 0h0m-2-11h0m-91 4h0m-10 2h0m-10-2h0m-19 20h0m16 2h0m10-5h0m28 8h0m27 2h0m45-8h0m28-4h0m9 10h0m4-12h0m21 12h0m8-13h0m24 2h0m11 2h0m28 1h0m9 8h0m10-5h0m55 1h0m9-6h0m98 28h0m-93 0h0m-11-6h0m-11-1h0m-51-3h0m-35 10h0m-1-14h0m-14 12h0m-10 0h0m-15 0h0m-15-5h0m-8 7h0m-3-13h0m-37 0h0m-1 11h0m-14-4h0m-7-9h0m-12 12h0m-65-2h0m-13-10h0m-28 0h0m-22 11h0m-33 7h0m7 10h0m14-10h0m10 10h0m10-2h0m4-10h0m24 1h0m23 5h0m9 4h0m17 0h0m8-7h0m65 8h0m13-4h0m19 0h0m21-2h0m61 10h0m11-15h0m36 7h0m16-6h0m22 7h0m35-3h0m3 23h0m-18-4h0m-50 0h0m-15 0h0m-24 5h0m-37 0h0m-14-6h0m-15 1h0m-13-7h0m-11 4h0m-23 3h0m-19 2h0m-13 4h0m-3-13h0m-12 0h0m-16 13h0m-27-8h0m-26 7h0m-7-10h0m-16 1h0m-25 2h0m-30-4h0m-34 22h0m13-7h0m8 6h0m10-3h0m3 10h0m7-7h0m10-5h0m25-2h0m77 4h0m17 4h0m8-7h0m11 9h0m49-3h0m5 8h0m29-11h0m41 7h0m43-2h0m12-1h0m24-6h0m17 2h0m12 0h0m6 10h0m40-2h0m14 18h0m-30-13h0m-30 12h0m-8-12h0m-7 12h0m-2-10h0m-10 11h0m-26-12h0m-1 10h0m-19-5h0m-13 0h0m-21 2h0m-23-2h0m-11-7h0m-23 3h0m-21 4h0m-23-6h0m-10 1h0m-14 5h0m-44-7h0m-7 13h0m-15-5h0m-23 4h0m-21 1h0m-20-13h0m-18 14h0m-38-7h0m-15-3h0m-18 23h0m3-10h0m7 14h0m13-13h0m10 8h0m9-4h0m20 9h0m9-8h0m14 7h0m12-5h0m14 6h0m9-10h0m32-1h0m4 10h0m29-8h0m1-6h0m12 2h0m36 3h0m17 4h0m15 1h0m26-3h0m10 5h0m33 3h0m11-2h0m18-10h0m10-3h0m18 12h0m11-7h0m14 10h0m28-6h0m17-5h0m4 11h0m18-11h0m66 26h0m-37-13h0m-41 7h0m-21 1h0m-46-8h0m-11 6h0m-14-7h0m-43 15h0m-17 0h0m-5-11h0m-53 3h0m-26 8h0m-25-4h0m-19-8h0m-10 1h0m-11-2h0m-14 8h0m-16-9h0m-9 4h0m-4 0h0m-54-3h0m-16 11h0m-30-3h0m-24 5h0m-36 12h0m9-7h0m13-4h0m36 12h0m34-3h0m16-1h0m28 5h0m1-12h0m26 1h0m4 10h0m14 1h0m35-12h0m11 8h0m104-7h0m8 12h0m18-4h0m21 1h0m11-5h0m5 9h0m6-13h0m16 11h0m19-5h0m27 0h0m15 2h0m11 3h0m13-2h0m10-6h0m15 7h0m17-8h0m5 11h0m9-14h0m14 12h0m-33 9h0m-40 2h0m-39 2h0m-11 1h0m-19-4h0m-60-4h0m-17 8h0m-28-1h0m-20 1h0m-19-6h0m-8 6h0m-30-8h0m-20 9h0m-30 2h0m-2-12h0m-19 8h0m-17-7h0m-3 12h0m-14 0h0m-9-5h0m0-1h0m-2-2h0m-31-7h0m-11 9h0m-12-5h0m-12 0h0m-10 5h0m-15 1h0m-11-4h0m-49 4h0m-9 21h0m12-3h0m10-4h0m10 0h0m11-6h0m24 7h0m14 1h0m12-10h0m18 13h0m6-9h0m20 8h0m12 0h0m20-11h0m5 11h0m21-11h0m28 7h0m23 1h0m15 1h0m3-10h0m19 10h0m29-4h0m19-6h0m0 9h0m10-1h0m27-3h0m14 9h0m58-8h0m12 1h0m22-3h0m7 7h0m21-1h0m24 5h0m22 0h0m13-1h0m8-7h0m9 7h0m12-10h0m21 1h0m78 23h0m-56-7h0m-12-2h0m-16 1h0m-11 4h0m-8 7h0m-31 0h0m-12-6h0m-18 2h0m-36-2h0m-14-2h0m-6 8h0m-54-14h0m-15 1h0m-35-2h0m-2 15h0m-10-4h0m-6-9h0m-34 1h0m-21-2h0m-55 13h0m-6-12h0m-12 1h0m-12 5h0m-18-8h0m-46 5h0m-10 8h0m-26-2h0m-10-6h0m-11 1h0m-1 6h0m-9-7h0m-19-5h0m-9 7h0m-13-3h0m-16-2h0m-5 10h0m-19 8h0m10 11h0m3-11h0m16-1h0m10 4h0m16-4h0m11 5h0m16-1h0m7-6h0m20 4h0m42 8h0m1-10h0m11 7h0m24-2h0m8-6h0m30-2h0m44 0h0m18 4h0m10 5h0m16-4h0m20-2h0m11-1h0m7 11h0m22 1h0m4-9h0m20 9h0m10 1h0m21-7h0m63 5h0m15-12h0m11 5h0m10-1h0m14 1h0m29 5h0m15-5h0m17 1h0m15 7h0m10-11h0m5 13h0m-69 13h0m-41-2h0m-33 2h0m-35-4h0m-11-2h0m-32 5h0m-14-1h0m-16-1h0m-11 3h0m-5-9h0m-27-1h0m-22 7h0m-11 5h0m-21-2h0m-23-13h0m-4 13h0m-26-6h0m-13 5h0m-13-11h0m-11-1h0m-14 13h0m-46-7h0m-7 9h0m-23-1h0m-5-13h0m-16 4h0m-20 6h0m-34-2h0m-30-7h0m0 11h0m-15-8h0m-16 11h0m39 8h0m10 5h0m4-12h0m10 3h0m8 8h0m2-12h0m6 4h0m14 0h0m4 10h0m8-2h0m1-5h0m22 5h0m17-6h0m13 5h0m25-10h0m9 14h0m9-7h0m20 3h0m15-2h0m11 2h0m22-11h0m0 10h0m27-4h0m10-6h0m13 7h0m8-7h0m8 9h0m19-4h0m29-4h0m46 5h0m15 9h0m11-10h0m84 3h0m16 6h0m12-3h0m9-7h0m45 0h0m22 10h0m10-6h0m12 2h0m15-10h0m-26 18h0m-53 2h0m-26-3h0m0 11h0m-38-8h0m-26 6h0m-13 3h0m-17-13h0m-35 11h0m-16-7h0m-19 1h0m-20 7h0m-33-8h0m-15 0h0m-18-4h0m-16 0h0m-11 14h0m-17-9h0m-10 6h0m-33 3h0m-7-8h0m-15 4h0m-14-2h0m-22 1h0m-16-6h0m-25 1h0m-22 4h0m-15 0h0m-11 7h0m-4-9h0m-14 5h0m-3-4h0m-9 4h0m-10 4h0m-22-4h0m-15-6h0m-16 8h0m4 15h0m10-9h0m2 12h0m10-13h0m33 9h0m17-7h0m7 10h0m13-3h0m17-9h0m15 4h0m3 9h0m13-15h0m1 13h0m15-12h0m1 13h0m47-2h0m10-6h0m10-3h0m55-3h0m14 14h0m20-5h0m5-7h0m5 10h0m18-4h0m12-8h0m10 10h0m23-2h0m13-5h0m25 2h0m19 4h0m13-2h0m26 8h0m12-1h0m41 0h0m13-8h0m11 8h0m2-13h0m72 10h0m12-5h0m28-5h0m58 12h0m-14 4h0m-29 4h0m-28-5h0m-47 7h0m-25-6h0m-3 13h0m-74-14h0m-9 10h0m-45 4h0m0-13h0m-11 12h0m-18-10h0m-25 8h0m-31-6h0m-23-4h0m-10 14h0m-11-9h0m-14-2h0m-11 10h0m-28-7h0m-10-7h0m-15 4h0m-9 7h0m-12-11h0m-8 11h0m-6-11h0m-5 12h0m-15-11h0m-13 12h0m-12-13h0m-14 13h0m-12-5h0m-6 7h0m-26-9h0m-11 3h0m0-7h0m-7 8h0m-21-1h0m-16 3h0m-3-11h0m-14 2h0m-16 1h0m-11 5h0m-18 4h0m-11-8h0m-4 17h0m12 1h0m14-2h0m5 8h0m7-7h0m20 6h0m11-9h0m1 4h0m2-2h0m5 10h0m7-7h0m10-3h0m11 2h0m6 3h0m5-6h0m8 11h0m6-11h0m10-3h0m1 11h0m7-4h0m20-2h0m4 2h0m12-2h0m17 5h0m10-2h0m1-9h0m4 12h0m1 1h0m3-1h0m1-9h0m9 7h0m19-10h0m5 10h0m10 2h0m4-9h0m10 4h0m43 4h0m16-11h0m0 12h0m2-2h0m14 1h0m14 4h0m9-6h0m0 1h0m23 3h0m14-6h0m24-1h0m71-6h0m3 15h0m6-13h0m13 3h0m27-3h0m27 1h0m42 4h0m25-5h0m13 1h0m17 10h0m66 9h0m-29-4h0m-29 2h0m-15 1h0m-12 8h0m-17-1h0m-12-10h0m-20 13h0m-5-15h0m-8 10h0m-4-4h0m-15 8h0m-11-10h0m-33-2h0m-17 7h0m-27 5h0m-14-7h0m-15-4h0m-5 8h0m-13-4h0m-12 2h0m-9-8h0m-2 9h0m-13 1h0m-16-3h0m-6 7h0m-5-13h0m-5 8h0m-9 5h0m-8-5h0m-13-2h0m-16-1h0m-14-3h0m-13 8h0m-5-12h0m-5 14h0m-17-13h0m-6 9h0m-14-5h0m-8 8h0m-5-13h0m-14 4h0m-2 1h0m-8 8h0m-6-9h0m-10 4h0m-17 2h0m-1 0h0m-9 5h0m0-14h0m-4 11h0m-13 3h0m-7-9h0m-5 0h0m-10-5h0m-13-1h0m-1 10h0m-3-3h0m-4 4h0m-6-10h0m-1 13h0m-2-7h0m-10-2h0m-12-1h0m-8 10h0m-22-7h0m-7-1h0m-5-5h0m-8 8h0m-2 4h0m-11-8h0m-1 9h0m-14-14h0m-12 17h0m16 7h0m23 4h0m7-8h0m13 4h0m4 5h0m8-3h0m6 2h0m11 2h0m5-9h0m11 5h0m32 4h0m4-13h0m6 8h0m8-9h0m3 10h0m14-2h0m2-3h0m12 6h0m9-7h0m1 10h0m13-11h0m8 5h0m7 4h0m2-10h0m2 11h0m7-4h0m3-8h0m2 11h0m13-5h0m12-4h0m3 12h0m24-6h0m23-4h0m5 4h0m9 4h0m19-7h0m9 7h0m1-10h0m9 5h0m18 4h0m16-1h0m5-8h0m47 12h0m4-8h0m17-1h0m7 9h0m9-10h0m10 6h0m23-7h0m15 11h0m7-15h0m22 4h0m33 6h0m9 4h0m26-10h0m20 9h0m18 0h0m9-11h0m94 26h0m-47 1h0m-10-13h0m-1 12h0m-12 3h0m-23-9h0m-13 8h0m-38-7h0m-9 7h0m-11-4h0m-36-3h0m-12 0h0m-19 0h0m-19-5h0m-17 8h0m-11-2h0m-14 0h0m-29 2h0m-20 0h0m-7-7h0m-12 2h0m-24 2h0m-15-7h0m-11 5h0m-17-2h0m-12 3h0m-10 1h0m-12 1h0m-18 0h0m-11-1h0m-2-5h0m-13 11h0m-13-13h0m-7 6h0m-3 5h0m-19-4h0m-13-4h0m-6 7h0m-1-2h0m-2-3h0m-9 10h0m-16-10h0m-12 10h0m-1-12h0m-10-3h0m-11 8h0m-11 0h0m-6 4h0m-5-4h0m-10-7h0m-15 6h0m-15 6h0m-8-9h0m-4 9h0m-21-11h0m-14 13h0m-11-13h0m-1-1h0m-2 12h0m-11-9h0m-13-3h0m0 17h0m8 7h0m12 6h0m6-15h0m1 8h0m2-5h0m15 5h0m13 7h0m1-10h0m4-4h0m15 7h0m11 0h0m8-6h0m7 12h0m13-11h0m6-2h0m1 14h0m10-9h0m11-5h0m2 12h0m3-7h0m6-1h0m5 8h0m1-5h0m15 1h0m6-9h0m7 12h0m11-4h0m7 4h0m3-5h0m13-7h0m0 13h0m16 0h0m15 1h0m0-10h0m10 2h0m7-5h0m9 3h0m5-1h0m14 11h0m9-6h0m17 5h0m1-10h0m9 1h0m14 4h0m11 3h0m3-11h0m12 12h0m14-10h0m1 13h0m2-10h0m8 0h0m11 5h0m6 4h0m1-4h0m1-10h0m9 5h0m13 2h0m12 8h0m2-4h0m7-8h0m17 4h0m29-3h0m0 11h0m11-9h0m15 2h0m10-4h0m16-1h0m11 9h0m15-7h0m10 1h0m8 9h0m4-8h0m16 7h0m32-14h0m1 14h0m56-3h0m27-1h0m14 2h0m21 3h0m52-4h0m113-3h0m66 2h0m124 16h0m-1 1h0m-12-1h0m-6-5h0m-15 3h0m-11 7h0m-10-6h0m-9-5h0m-11-1h0m-23 9h0m-5-2h0m-5-2h0m-9 5h0m-14-5h0m-29 6h0m-9-9h0m-26 3h0m-15 3h0m-10 3h0m-37-14h0m-6 13h0m-40-3h0m-20-9h0m-8 12h0m-5-9h0m-30 10h0m-36 1h0m-29-11h0m-6 3h0m-9-1h0m-9-6h0m-8 10h0m-14-1h0m-1 0h0m-15-9h0m-6 8h0m-3-1h0m-7-6h0m-4 5h0m-15 7h0m-11-2h0m-10-9h0m-1 6h0m-4 2h0m-1-3h0m-25 2h0m-11-3h0m-10 3h0m-3 3h0m-8 2h0m0-14h0m-10 9h0m-3 4h0m-2-2h0m-9-7h0m-1 3h0m-7-1h0m-3 0h0m-1 9h0m-4-1h0m-8-2h0m-7-8h0m-11 7h0m-6-7h0m-10 5h0m0 3h0m-3-2h0m-6-8h0m-12 13h0m-9-9h0m-9 9h0m-7-6h0m-11 4h0m-1 2h0m-7-11h0m-5 11h0m-11-10h0m-12-3h0m-1 10h0m-1-5h0m-17 2h0m-15-9h0m-1 5h0m-3 8h0m-7-7h0m-3 9h0m-5-11h0m-7 7h0m-11-8h0m-9 1h0m-18 3h0m-2 7h0m-10-4h0m-2 1h0m-13-5h0m-11 2h0m-10-5h0m-3 0h0m-2 6h0m-5 4h0m-4 2h0m-1-15h0m-5 9h0m-4-8h0m0 2h0m-7 12h0m-6-7h0m-3-1h0m-13 2h0m-6 5h0m-7-6h0m-18-2h0m-3 9h0m-8-4h0m-3-4h0m-11-3h0m-1-1h0m-9 1h0m-3 8h0m-8-11h0m-10 9h0m-5 1h0m-10-7h0m-10-1h0m-19 6h0m-11 13h0m12 7h0m1-9h0m11 9h0m6-11h0m8 13h0m3-11h0m11 1h0m9-5h0m5 8h0m13 7h0m12-10h0m18 6h0m11-11h0m2 1h0m5 12h0m6-9h0m1-4h0m6 14h0m8-14h0m1 0h0m1 3h0m6 4h0m9 7h0m10-4h0m9 2h0m4 2h0m2-11h0m13 3h0m10 2h0m13-4h0m15 7h0m1 2h0m7-8h0m11-4h0m1 8h0m12-6h0m0-3h0m12 8h0m13 0h0m0 2h0m5-10h0m1 1h0m1 13h0m2 1h0m1-5h0m6-4h0m8 6h0m4-10h0m10 4h0m0 2h0m5 3h0m9-11h0m15 9h0m3 1h0m15-1h0m5-2h0m14 8h0m2-11h0m3 5h0m13 0h0m4 6h0m4-11h0m7 11h0m1 0h0m7-9h0m9 8h0m3-11h0m3-1h0m3 4h0m9 5h0m12-6h0m1-3h0m10 2h0m2 6h0m1-10h0m5 7h0m2-4h0m5 10h0m7-2h0m5 3h0m7-7h0m13-1h0m3-5h0m7 6h0m4 7h0m7-5h0m3 4h0m4-11h0m0 2h0m0-1h0m5 6h0m5 2h0m4-2h0m18 0h0m3-2h0m3-2h0m5-5h0m6 15h0m2-13h0m11 13h0m3-3h0m12-6h0m4 7h0m4 1h0m3-1h0m0-11h0m17 11h0m1-13h0m4 0h0m1 8h0m2-1h0m8-7h0m2 13h0m7-12h0m8 3h0m2-1h0m9 1h0m7 10h0m10-7h0m47-6h0m10 8h0m16-9h0m19 4h0m8 11h0m10-14h0m11 4h0m37 10h0m45-12h0m0 11h0m19-10h0m24-4h0m11 6h0m11 3h0m27 1h0m9-5h0m6 4h0m5-8h0m12 1h0m16 6h0m-123 8h0m-90 4h0m-40 9h0m-16-1h0m-70-8h0m-10 11h0m-8-2h0m-9-9h0m-11-3h0m-15 4h0m-4 9h0m-10-13h0m0 9h0m-2 4h0m-3 0h0m0-10h0m-10 4h0m-14-7h0m-7-1h0m-8 4h0m-7 6h0m-3-10h0m-7 6h0m-12-6h0m-13 11h0m-15-3h0m-2-2h0m-12 0h0m-14-6h0m-4 10h0m-5 2h0m-9 3h0m-2-14h0m-6 8h0m-1-5h0m-3 2h0m-7 9h0m-5-11h0m-1 0h0m-6-3h0m-8-1h0m-13 8h0m-10-3h0m-2 5h0m-12 3h0m-1 2h0m-1-6h0m-6-9h0m-14 13h0m0-12h0m-3 12h0m-4-10h0m-6 1h0m-5 7h0m-11-5h0m-11-3h0m-8 7h0m-1-6h0m-4 2h0m-4 0h0m-9-1h0m-11 2h0m-3-4h0m-6 8h0m0-4h0m-3-7h0m0 9h0m-6-5h0m-7 7h0m-5-3h0m-1-8h0m-4 10h0m-9 3h0m-2 0h0m-1-2h0m-12-8h0m-5-3h0m-1 12h0m-13 1h0m-1-11h0m-9 6h0m-9 4h0m-14 2h0m-4-12h0m-18 9h0m-5 4h0m-4-15h0m-17 7h0m-3 5h0m-2-4h0m-2 2h0m-2 0h0m-7-6h0m-2 4h0m-3 4h0m-8 2h0m-2 1h0m-4-8h0m-5-5h0m-7 13h0m-1-11h0m-2-2h0m-2-1h0m-2-1h0m-11 10h0m-8-9h0m0 13h0m-14 0h0m-2-11h0m-2 3h0m-8-5h0m0 9h0m-15 1h0m-6-8h0m-12 11h0m-5-8h0m-38-3h0m-3 12h0m-14-5h0m-1 11h0m19 7h0m9-4h0m8-7h0m14 2h0m32 12h0m3-10h0m6 0h0m4 4h0m3 6h0m6 0h0m12-8h0m12 6h0m2-10h0m11-1h0m1 4h0m18-5h0m2 11h0m9-6h0m11 3h0m17-3h0m14 5h0m14-1h0m5-4h0m15 5h0m14-1h0m9 4h0m2-4h0m8 2h0m6-3h0m1-9h0m3 7h0m21 7h0m18-6h0m14-2h0m0 8h0m2-12h0m4 12h0m2 0h0m11-14h0m10 4h0m0-4h0m3 5h0m3-2h0m12-1h0m8-1h0m3 13h0m6-14h0m17 15h0m8-7h0m11-2h0m4 3h0m13-6h0m11 5h0m13 7h0m3-11h0m15-1h0m3 10h0m9-9h0m13 4h0m27 5h0m1-12h0m22 4h0m22-2h0m13 2h0m25-5h0m12 0h0m4 12h0m41-3h0m12 5h0m3-11h0m17 6h0m6-8h0m18-1h0m19 10h0m282 2h0m719-2h0m-1043 10h0m-29 0h0m-18 10h0m-30-8h0m-15-6h0m0 15h0m-14-14h0m-13 6h0m-18-7h0m-12 5h0m-3 1h0m-10-6h0m-16 8h0m-9-8h0m-21 4h0m-17 6h0m-5-4h0m-8 3h0m-22 4h0m-9-8h0m-5 10h0m-10-14h0m-1 12h0m-10-4h0m-14 0h0m-3 0h0m-4-8h0m-3 10h0m-3 4h0m-22-3h0m-4-12h0m-7 3h0m-1-2h0m-3 5h0m-28-4h0m-8 6h0m-11 0h0m-20-7h0m-1-1h0m-1 12h0m-9-6h0m-4 6h0m-14-8h0m-6 5h0m-10 2h0m-2-9h0m-1 13h0m-9-7h0m-15-4h0m-8-4h0m-9 6h0m-2-5h0m-8 4h0m-12-1h0m0 11h0m-9-3h0m-1-10h0m-10 11h0m-4-12h0m-6 8h0m-3-7h0m-2-2h0m-3 11h0m-7 4h0m-6-15h0m-6 13h0m-9 1h0m-1-10h0m-3 5h0m-3 4h0m-3-11h0m-11 12h0m-35-6h0m-17 4h0m-26-3h0m-9 3h0m-5-6h0m-10-4h0m23 27h0m9-10h0m24 3h0m2 4h0m16-6h0m7 8h0m8-10h0m10 6h0m10-1h0m14 5h0m3-7h0m4 1h0m10 6h0m1 1h0m4-10h0m1 6h0m4 5h0m10-7h0m14 2h0m10-1h0m2 3h0m2-6h0m3 10h0m3-15h0m4 3h0m16-3h0m0 9h0m1-9h0m4 10h0m7-7h0m4 9h0m0-11h0m1 0h0m8 6h0m10-1h0m16 0h0m10 3h0m6-9h0m15 10h0m17-9h0m10 9h0m6-9h0m7 5h0m15 7h0m0-13h0m10 4h0m9 10h0m12-8h0m13 4h0m4-9h0m15 2h0m17 5h0m35 5h0m7-9h0m18-1h0m9 12h0m6-13h0m16 11h0m8-8h0m8 8h0m30-10h0m15 11h0m11-4h0m18-10h0m37 12h0m44-9h0m20-1h0m25 2h0m226 24h0m-67-1h0m-164-3h0m-39 7h0m-29-14h0m-7 8h0m-24-6h0m-50 8h0m-16-5h0m-11 2h0m-17 1h0m-21-2h0m-9 7h0m0-12h0m-24 8h0m0-5h0m-29 1h0m-15-6h0m-1 12h0m-11-5h0m-1 6h0m-14 1h0m-5-9h0m-12-1h0m-14-4h0m-5 10h0m-20-3h0m-22-4h0m-18 0h0m-12 4h0m-12-4h0m-12-2h0m-6 9h0m-10-5h0m-13 0h0m-5 10h0m-11-11h0m-18 0h0m-14-2h0m-8 6h0m-10-8h0m-1 10h0m-13-4h0m-5 6h0m-6-6h0m-14 5h0m-15 2h0m-3-10h0m-7 9h0m-1-7h0m-2-4h0m-9 10h0m-5-10h0m-11 9h0m-15-3h0m-12-3h0m-1 10h0m-14 1h0m-6-11h0m-14 6h0m-21-5h0m9 25h0m0-11h0m23-3h0m7 10h0m7-7h0m6-1h0m7 5h0m7 6h0m11-9h0m15-1h0m13 5h0m9-3h0m13-1h0m5-2h0m15 11h0m5-9h0m7 10h0m21-6h0m1-4h0m11-3h0m2 10h0m8-8h0m3 11h0m9-10h0m3-3h0m12 11h0m13-5h0m17 7h0m12 0h0m0-10h0m4 0h0m13-4h0m14 11h0m24-3h0m11-5h0m20 1h0m25 3h0m6 8h0m16-3h0m46-2h0m22-10h0m11 14h0m21-9h0m11-1h0m13 3h0m30-2h0m17 10h0m8-12h0m10 9h0m22-10h0m11 12h0m63-7h0m34-5h0m18 8h0m79-7h0m-27 15h0m-67-2h0m-10 7h0m-34-7h0m-35 10h0m-8-7h0m-7 11h0m-22-11h0m-27 3h0m-42 0h0m-4 9h0m-11-12h0m-29-3h0m-1 9h0m-19 2h0m-9-5h0m-9-1h0m-9 2h0m-20 1h0m-3 4h0m-26 3h0m-24-6h0m-8-8h0m-11 4h0m-10-5h0m-6 13h0m-18-5h0m-14 3h0m-25-11h0m-6 12h0m-29-1h0m-7-9h0m-11 7h0m-18-4h0m-29 3h0m-10-6h0m-6 7h0m-19 5h0m-19-12h0m-6 12h0m-5-11h0m-4 7h0m-6-8h0m-1 13h0m-9-5h0m-10-9h0m-29 4h0m-7 9h0m-8-8h0m-11-3h0m-13 3h0m3 14h0m34 8h0m16-3h0m1-2h0m12-4h0m9 7h0m12 2h0m25 3h0m6-10h0m7 8h0m14-13h0m20 5h0m14-3h0m3 10h0m12-11h0m3 12h0m16-3h0m44-4h0m14-3h0m11-3h0m13 8h0m15 3h0m12 1h0m38-8h0m4 11h0m11-7h0m23-8h0m14 2h0m17 0h0m12 8h0m4-10h0m33 7h0m11 3h0m14-3h0m28 0h0m19-3h0m23 2h0m13 9h0m21-1h0m22-8h0m30 8h0m11-5h0m56-7h0m27 13h0m-62 1h0m-10 14h0m-4-10h0m-11 6h0m-16 4h0m-27-13h0m-22 13h0m-25-12h0m-19 5h0m-10 1h0m-34-8h0m-7 10h0m-19 5h0m-8-11h0m-23-3h0m-23 1h0m-1 11h0m-11-4h0m-23 6h0m-8-5h0m-26 1h0m-23 0h0m-24-6h0m-17-2h0m-28 8h0m-16 4h0m-1-11h0m-14 1h0m-20 2h0m-20 0h0m-4 3h0m-11-1h0m-16-6h0m-13 2h0m-9-4h0m-11 4h0m-10 3h0m-19 1h0m-3-8h0m-12 5h0m-9 7h0m-15 0h0m-6-10h0m-11-3h0m-10 9h0m-16 0h0m-13-6h0m37 27h0m6-9h0m11 10h0m18-2h0m12-8h0m4 10h0m25-7h0m10-7h0m8 12h0m5-12h0m5 10h0m23-10h0m15 7h0m26-6h0m6 11h0m18-5h0m45 1h0m17-8h0m8 14h0m15-6h0m23-9h0m2 14h0m8-6h0m18 0h0m32-4h0m18 3h0m26-1h0m43 7h0m11 1h0m9-9h0m11 4h0m35 0h0m84 4h0m17-1h0m13 2h0m135 2h0m-113 13h0m-24 2h0m-33-2h0m-70-11h0m-22-1h0m-12 1h0m-16-1h0m-7 11h0m-41-9h0m-26 8h0m-7-9h0m-11 7h0m-7-8h0m-21 5h0m-14-1h0m-32 4h0m-20 3h0m-11-2h0m-50-3h0m-9 2h0m-14-6h0m-10 2h0m-41-4h0m-29 10h0m0-11h0m-12 6h0m-22-1h0m-9 4h0m-18-6h0m-3 10h0m-16 0h0m-18 0h0m-11-2h0m-11-1h0m-27-9h0m8 18h0m14 1h0m26 4h0m11 2h0m11-4h0m37 0h0m18-3h0m38 10h0m14-6h0m54 8h0m11-1h0m16-9h0m14 7h0m10-5h0m24 0h0m12-4h0m24 8h0m11 3h0m5-9h0m13 7h0m17-9h0m10 7h0m43 0h0m12-8h0m17 10h0m7-7h0m89-1h0m77 9h0m16-2h0m-11 12h0m-34 3h0m-51-9h0m-28 7h0m-11-8h0m-31 3h0m-8 6h0m-22-5h0m-37 4h0m-9-7h0m-21 7h0m-39 5h0m-16-5h0m-18-1h0m-12-7h0m-16 2h0m-17 5h0m-20-7h0m-3 9h0m-2-3h0m-65-4h0m-16 8h0m-11 0h0m-9-10h0m-13 3h0m-33 8h0m-10-1h0m-8-8h0m-10 1h0m-40-3h0m-3 12h0m14 9h0m19 1h0m10 1h0m15 4h0m26-11h0m14 1h0m19 1h0m1 12h0m21-14h0m57 5h0m69 3h0m45 2h0m36-3h0m19 3h0m51 2h0m8-12h0m10 3h0m8 11h0m22-2h0m2-10h0m10 2h0m16 11h0m6-9h0m21 2h0m25-7h0m8 5h0m15-6h0m31 11h0m1-11h0m16 1h0m6 14h0m-34 8h0m-16 6h0m-12-13h0m-19 7h0m-66 7h0m-2-12h0m-80 7h0m-24 4h0m-37-1h0m-28-9h0m-28 6h0m-17-4h0m-24-4h0m-19 3h0m-48 0h0m0 11h0m-25-6h0m-2-9h0m-29 12h0m-7-10h0m-27 7h0m-40 3h0m-7-9h0m-14 5h0m62 17h0m29 3h0m17-5h0m15-2h0m12 4h0m35-9h0m17 12h0m12-3h0m22-7h0m4 10h0m34-8h0m0 10h0m30-7h0m12-2h0m31 3h0m29 5h0m8-7h0m30 6h0m4-12h0m15 15h0m10-9h0m27 9h0m27-6h0m20 2h0m20-10h0m20 0h0m17 13h0m7-10h0m11-3h0m13 1h0m-1 16h0m-14-2h0m-25 3h0m-26 2h0m-18 1h0m-32-6h0m-29 6h0m-14 5h0m-24-2h0m-57 3h0m-1-10h0m-9 5h0m-18-2h0m-4 9h0m-7-11h0m-25 6h0m-12-3h0m-16 7h0m-23-10h0m-8 9h0m-20-6h0m-8 8h0m-19-11h0m-12-2h0m-12 1h0m-35 2h0m-27 1h0m-64-5h0m3 19h0m10-3h0m5 11h0m20-7h0m33 6h0m40-2h0m29 1h0m13 3h0m6-8h0m16 8h0m12-5h0m36-1h0m17 6h0m6-9h0m9 0h0m1 12h0m47-14h0m7 9h0m49 4h0m23-12h0m25 13h0m15-11h0m12 8h0m33-4h0m19-7h0m18 13h0m10-9h0m16 4h0m12 22h0m-16 0h0m-1-9h0m-10 6h0m-27-8h0m-5 10h0m-40-12h0m-26 9h0m-13 1h0m-28-9h0m-23 9h0m-18-5h0m-16-1h0m-39 5h0m-14-11h0m-3 11h0m-34-1h0m-10-9h0m-7 10h0m-6-11h0m-6 12h0m-15-10h0m-19-2h0m-23 7h0m-23-1h0m-13 6h0m-18-11h0m-11 14h0m-5-10h0m-37 8h0m-2-12h0m6 30h0m10-3h0m6-11h0m34 0h0m63 7h0m14-2h0m7 8h0m18-7h0m17 0h0m10 0h0m21-7h0m29 4h0m67-3h0m21 14h0m27-1h0m46-4h0m8-7h0m32 0h0m21 1h0m22 4h0m29 21h0m-41-7h0m-21 5h0m-1-11h0m-10 4h0m-46 7h0m-30 2h0m-38 2h0m-25-14h0m-13 3h0m-11 8h0m-20-9h0m-31 11h0m-6-8h0m-15 6h0m-16 2h0m-12-9h0m-26 8h0m-28-3h0m-28-4h0m-16 0h0m-12 0h0m-24 3h0m-27 5h0m27 11h0m10-7h0m14 13h0m14-14h0m26 1h0m21 8h0m38 5h0m15-8h0m17 1h0m13-4h0m35 8h0m12-4h0m10-5h0m31-3h0m6 7h0m54 8h0m53-11h0m0 10h0m11-11h0m5 10h0m12-5h0m29-7h0m24 22h0m-42-6h0m-8 14h0m-9-10h0m-45 3h0m-97-2h0m-50 0h0m-10-6h0m-12 0h0m-56 9h0m-16 3h0m-3-10h0m-9 8h0m-29 2h0m-38 10h0m26 4h0m9 2h0m37-5h0m42-6h0m14 2h0m9 4h0m10 0h0m32 3h0m76 0h0m50 5h0m21-8h0m45 17h0m-13-6h0m-12 13h0m-17-15h0m-17 6h0m-23-6h0m-13 2h0m-48 8h0m-16-9h0m-5 13h0m-16-13h0m-17 10h0m-5-10h0m-13 2h0m-18 7h0m-27-6h0m-36 6h0m-16-9h0m-15 5h0m28 16h0m30 8h0m15-6h0m40 2h0m63-4h0m13-3h0m31 3h0m29 9h0m18 0h0m9-2h0m25-4h0m-75 11h0m-20 5h0m-11-2h0m-9 3h0m-27-5h0m-9-2h0m-8 9h0m-21-1h0m-33 1h0m-46-9h0m-14-3h0m74 30h0m11-5h0m22 0h0m0-3h0m56 8h0m34-4h0m-27 13h0m-23-3h0m-49-3h0"/></defs><g opacity="0.178"><use href="#l1" stroke="#00003c" stroke-width="11"/><use href="#l1" stroke="#0000ff" stroke-width="7"/></g><defs><path id="l2" d="M634 146h0m-6 13h0m-83 13h0m42-12h0m26 5h0m62 6h0m31 12h0m-32-2h0m-22-1h0m-24-2h0m-55 3h0m-13 8h0m-34 2h0m-48 8h0m12 7h0m11-2h0m11-8h0m17 10h0m5-9h0m12 8h0m22-5h0m14-4h0m8 10h0m5-10h0m7 8h0m13-3h0m6-8h0m8 11h0m24-11h0m19 6h0m30-7h0m17 6h0m1-3h0m14 2h0m2 12h0m-27 0h0m-14 14h0m-1-12h0m-14 2h0m-26-4h0m-15 7h0m-19-1h0m-97 3h0m-34 3h0m-13-11h0m-8 10h0m-23-4h0m-29 13h0m30 8h0m19-3h0m11 4h0m10-6h0m74 5h0m8-12h0m34-1h0m36 3h0m27-1h0m10 3h0m11-1h0m26 0h0m21 10h0m32-12h0m-54 16h0m-8 7h0m-16-7h0m-18 12h0m-3-13h0m-15 12h0m-10-1h0m-8-6h0m-38 5h0m-24-5h0m-13 8h0m-9-14h0m-30 4h0m-23-2h0m-15 6h0m-55 4h0m-34 19h0m18-7h0m24-1h0m12-1h0m10 9h0m51-3h0m13-10h0m30 12h0m19-13h0m27 8h0m11-9h0m4 11h0m18 3h0m14-8h0m39 1h0m17-2h0m14-3h0m25 1h0m7 8h0m22-3h0m0 20h0m-10-5h0m-16 6h0m-16-10h0m-16 9h0m-2-10h0m-18 1h0m-28 10h0m-70 1h0m-3-10h0m-10 5h0m-11-6h0m-27-2h0m-12 5h0m-10 1h0m-20-7h0m-13 4h0m-11 5h0m-48-9h0m-17 4h0m-19 8h0m-38 8h0m18 8h0m11-7h0m14 8h0m5-12h0m10 7h0m16-8h0m21 7h0m28-2h0m46 5h0m10 3h0m2-12h0m31 8h0m39 6h0m27-14h0m14 1h0m43 6h0m12-6h0m4 13h0m27 0h0m24-5h0m3-6h0m13 5h0m15-9h0m54 22h0m-15-4h0m-41 7h0m-10-7h0m-1 12h0m-24-8h0m-19 5h0m-17-1h0m-29-6h0m-36-3h0m-7 9h0m-13 0h0m-40 5h0m-18-1h0m-15-4h0m-13 2h0m-36-3h0m-16-4h0m-46 6h0m-29-6h0m-6 9h0m-34-7h0m-11 4h0m-23-7h0m-5 24h0m42-2h0m33 5h0m30-4h0m17-2h0m35-7h0m19-1h0m4 12h0m5-11h0m62 13h0m17-2h0m9-3h0m52-8h0m3 11h0m10-3h0m16-7h0m2 11h0m28-6h0m75-4h0m24-3h0m12-1h0m14 2h0m4 13h0m35 15h0m-8-11h0m-43 3h0m-18-2h0m-26 4h0m-16-3h0m-11-4h0m-40 5h0m-42 4h0m-38-10h0m-14 2h0m-12 12h0m-17-4h0m-51 5h0m-10-5h0m-10-9h0m-9 7h0m-31-6h0m-1 13h0m-15-7h0m-20 0h0m-26-2h0m-11 2h0m-14 2h0m-5-9h0m-29 1h0m-21 5h0m-20 2h0m-33 11h0m11 11h0m4-9h0m14-3h0m18 4h0m13 6h0m8-10h0m33 6h0m1 2h0m23 2h0m26-5h0m23 7h0m14 0h0m19-3h0m11-9h0m59 0h0m51 7h0m17-6h0m17 3h0m27-3h0m6 7h0m10-1h0m17-8h0m5 10h0m65-9h0m23 3h0m31 5h0m18 4h0m6-8h0m14 12h0m-27 4h0m-17-2h0m-21-5h0m-25 1h0m-25 1h0m-14 3h0m-44-3h0m-39 1h0m-30 7h0m-10-6h0m-10 8h0m-23-11h0m-8 10h0m-8-7h0m-11 2h0m-17 0h0m-56-1h0m-38 7h0m-16 3h0m-12-11h0m-18-1h0m-9 10h0m-8-7h0m-5 8h0m-21-5h0m-23-5h0m-14-4h0m-2 15h0m-26-4h0m-11 2h0m-11-1h0m-7 18h0m27-3h0m9-4h0m28-6h0m22 14h0m38-8h0m25-3h0m18 7h0m11 0h0m15-5h0m25-1h0m18 10h0m8-11h0m18-3h0m8 8h0m6-7h0m19 3h0m16 5h0m18 4h0m26-5h0m57-7h0m13 6h0m11 5h0m4-13h0m37 0h0m14 9h0m22 2h0m53-10h0m7 8h0m53 22h0m-33-15h0m-22 3h0m-12-2h0m-18 6h0m-23-4h0m-5 9h0m-30-8h0m-17 9h0m-21-10h0m-21 7h0m-14-6h0m-30-4h0m-25 6h0m-9 7h0m-10 0h0m-65-1h0m-25-2h0m-11 5h0m-15-7h0m-55 2h0m-18-10h0m-48 12h0m-12-2h0m-14-3h0m-13 1h0m-8-6h0m-31 5h0m-10-3h0m-11 5h0m19 11h0m12-1h0m5 10h0m11-9h0m21 6h0m23-3h0m10 0h0m15-7h0m7 9h0m10 6h0m13-7h0m7-8h0m3 9h0m22 2h0m12-1h0m11 2h0m4-9h0m19 3h0m15 8h0m14 0h0m23-7h0m16-6h0m7 9h0m19 1h0m13-1h0m20 4h0m23-14h0m23 11h0m9-11h0m9 13h0m34-13h0m10 6h0m20 9h0m23-11h0m23 9h0m17-4h0m49-9h0m19 1h0m11 8h0m132 18h0m-138-6h0m-11 7h0m-15 0h0m-18-12h0m-3 12h0m-12-4h0m-44-7h0m-11 9h0m-10-9h0m-40 5h0m-27 5h0m-21 1h0m-16-12h0m-16 7h0m-24 8h0m-8-10h0m-21 9h0m-10-14h0m-16 8h0m-12-4h0m-9 6h0m-44-9h0m-14 6h0m-16 6h0m-37-2h0m-35-6h0m-6 10h0m-24-14h0m-2 13h0m-12 0h0m-5-12h0m-18 4h0m-15 7h0m-12-5h0m-13 2h0m-12-8h0m-17-1h0m-10 7h0m8 23h0m5-9h0m11-3h0m7 10h0m10-10h0m4 1h0m20 8h0m12-10h0m12 6h0m10 3h0m2 0h0m22 1h0m5-12h0m18 3h0m4 11h0m10-12h0m18 5h0m6 8h0m9-14h0m10-1h0m42 0h0m10 4h0m11-2h0m8 11h0m7-10h0m10 3h0m13-4h0m3 13h0m15-1h0m14-1h0m23-4h0m19-5h0m20-4h0m24 6h0m13-6h0m4 11h0m30 0h0m17-10h0m20 14h0m4-15h0m10 12h0m18-4h0m11 2h0m5-10h0m13 14h0m0-13h0m15 7h0m41 2h0m32 2h0m11 3h0m-31 4h0m-29 5h0m-18-3h0m-25 10h0m-35-1h0m-36-10h0m-22 11h0m-9-10h0m-9 7h0m-22-6h0m-10 1h0m-38-2h0m-15 0h0m-13 4h0m-14 0h0m-48-8h0m-14 12h0m-24-13h0m-26 1h0m-1 11h0m-2-1h0m-7-7h0m-10-1h0m-10 12h0m-59-7h0m-9 5h0m-20-8h0m-11 2h0m-13 6h0m-8-12h0m-18 12h0m-5-10h0m-9 4h0m-12 6h0m-25-1h0m-12-6h0m-2 7h0m-1-13h0m-1 26h0m11-6h0m18 1h0m12 5h0m16-10h0m5 11h0m10 2h0m11-8h0m25 2h0m17 0h0m26 5h0m33-6h0m9-3h0m9 12h0m18-1h0m1-13h0m50 12h0m40-4h0m15 2h0m24-8h0m4 11h0m6-10h0m11 10h0m23 0h0m35-13h0m16 12h0m4-11h0m42 2h0m0 10h0m47-7h0m12-7h0m22 10h0m52-8h0m3 11h0m11-3h0m20-3h0m9 6h0m84 17h0m-53-8h0m-7 7h0m-32-10h0m-15 6h0m-24-4h0m-12-5h0m-33 9h0m-25-9h0m-35 0h0m-26 9h0m-8-9h0m-13 8h0m-66 0h0m-39 1h0m-41 1h0m-24-3h0m-10-7h0m-6 10h0m-20-6h0m-24 3h0m-12-4h0m-10 6h0m-10-2h0m-7 5h0m-15-10h0m-16 5h0m-11 2h0m-18-9h0m-4 14h0m-13-13h0m-1 12h0m-11-8h0m-2 2h0m-3 5h0m-12-10h0m-11-1h0m-7 14h0m-13 0h0m-6-14h0m-5 12h0m-5-8h0m-11 1h0m-8 6h0m-10-2h0m-15 0h0m-17-8h0m-10 21h0m10 7h0m19-1h0m2-8h0m17 3h0m10-4h0m15 10h0m2-5h0m14 4h0m6-6h0m17-3h0m11 7h0m6-11h0m6 13h0m11 2h0m1-9h0m5 2h0m16 2h0m6-9h0m3 10h0m8 3h0m3-10h0m12 7h0m10-8h0m10 9h0m15-5h0m16 7h0m11-5h0m5-9h0m8 9h0m14-1h0m11 5h0m23-6h0m7 8h0m5-14h0m6 8h0m20-8h0m7 13h0m10-9h0m17-3h0m13 8h0m19-6h0m12-1h0m73 2h0m12-1h0m16 10h0m10-9h0m29 5h0m25-6h0m32-4h0m5 11h0m11-11h0m8 11h0m1-11h0m20 14h0m3-14h0m11 11h0m124 8h0m-97 7h0m-16 3h0m-17 2h0m-48-10h0m-19 4h0m-18-1h0m-1-8h0m0 14h0m-28-4h0m-19 0h0m-29-3h0m-19 5h0m-13-3h0m-14-4h0m-14 7h0m-10-10h0m-22 13h0m0-12h0m-10 3h0m-14 3h0m-11 4h0m0-13h0m-8 7h0m-24 4h0m-9-5h0m-20 4h0m-25-4h0m-14 6h0m-15 0h0m-15-11h0m-11 7h0m-11 3h0m-15 1h0m-2 1h0m-6-5h0m-19 6h0m-3-10h0m-8 11h0m-10-1h0m-11-1h0m-15-9h0m-9 5h0m-11 0h0m-2-2h0m-7 4h0m-4-7h0m-6 9h0m-9-7h0m-4 8h0m-7-12h0m-12 8h0m-6-9h0m-15 0h0m-3 10h0m-6-5h0m-8 9h0m-1-12h0m-18 6h0m-9-9h0m-20 2h0m0 16h0m9 9h0m2-11h0m2 2h0m1 6h0m4 1h0m11 1h0m0-5h0m16 7h0m5 2h0m15-7h0m2 4h0m8-10h0m11 14h0m10-13h0m8 9h0m10-1h0m15 1h0m2-2h0m7-8h0m7 10h0m4-6h0m5 3h0m3 0h0m8-8h0m4 15h0m15-4h0m13-2h0m13-1h0m10-5h0m16-1h0m5 11h0m7 0h0m6-12h0m8 8h0m32-4h0m17-4h0m11 10h0m18 0h0m16-3h0m10 3h0m6-3h0m10-1h0m10 8h0m12-3h0m18 0h0m2-10h0m18 6h0m18-3h0m18-3h0m7 8h0m29 0h0m14 1h0m14-5h0m25 0h0m48-1h0m13-3h0m14 11h0m34-5h0m104 0h0m-79 20h0m-20-8h0m-6 9h0m-6-8h0m-30 4h0m-25 1h0m-14-6h0m-19 6h0m-10-3h0m-12 8h0m-13-15h0m-19 5h0m-12 9h0m-12-11h0m-26 7h0m-9-6h0m-14-4h0m-3 14h0m-8-3h0m-21 4h0m-8-9h0m-17 3h0m-9 3h0m-11-8h0m-19 9h0m-10-11h0m-20 12h0m-26-8h0m-11 2h0m-8-7h0m-7 11h0m-6-9h0m-12 8h0m-20-10h0m-2 9h0m-3 0h0m-14-7h0m-9 4h0m-11-1h0m-4 4h0m-8 0h0m-14-1h0m-12 0h0m-11 6h0m-3-9h0m-13-2h0m-8 6h0m-9 3h0m-1-8h0m-4 10h0m-12 0h0m-7-9h0m-3 9h0m-8-6h0m-9 1h0m-10-1h0m-10-5h0m-8 10h0m-15-11h0m-9 6h0m-10 5h0m-6 8h0m23 5h0m8-8h0m5 12h0m2-1h0m13-9h0m0 10h0m2-8h0m11-3h0m17 7h0m10-2h0m30 3h0m9-12h0m9 5h0m6 10h0m8-11h0m2 9h0m3-8h0m7-2h0m0 5h0m15 6h0m0-11h0m0 7h0m14 4h0m11-13h0m1 8h0m12-7h0m13 6h0m7 2h0m1-10h0m21 3h0m10 6h0m11-1h0m10 6h0m9-11h0m2 12h0m9-12h0m14-1h0m2 13h0m9-4h0m3 4h0m0-8h0m13-4h0m2 9h0m11 0h0m18-11h0m2 14h0m6-14h0m3 14h0m12-15h0m4 10h0m2-8h0m24 12h0m0-1h0m10 2h0m11-8h0m8 6h0m10-7h0m14-4h0m21 8h0m1 2h0m14-7h0m4 9h0m5-14h0m9 6h0m16 8h0m8-14h0m6 8h0m3 2h0m12-5h0m17 5h0m0 3h0m2-9h0m4 9h0m17 0h0m27-7h0m8 7h0m17-12h0m38 4h0m81 1h0m36-5h0m19 11h0m3-10h0m48-2h0m112 3h0m104 28h0m-8-8h0m-11 4h0m-1-10h0m-13 13h0m-14-4h0m-17 2h0m-10-1h0m-18 1h0m-14 0h0m-29 0h0m-13-4h0m-10-5h0m-7 11h0m-4-11h0m-35 0h0m-17 9h0m-7-7h0m-5 9h0m-17-3h0m-11 4h0m-19-2h0m-38-10h0m-9 6h0m-1 0h0m-70 1h0m-16-5h0m-12-2h0m-13 11h0m-4-11h0m-3 10h0m0 0h0m-10-4h0m-16-8h0m-9 5h0m-21 4h0m-1-9h0m-2 9h0m-6 4h0m-6-9h0m0 2h0m-10-1h0m-3 9h0m-6-15h0m-10 8h0m-1 7h0m-6-10h0m-9 3h0m-2 0h0m-10 3h0m-9-9h0m-3 13h0m-5-14h0m-6 11h0m-11-1h0m-12-1h0m-4 3h0m-1-13h0m-15 13h0m-5-10h0m-6 3h0m-8 2h0m-4 1h0m-12 3h0m-16-6h0m-9-5h0m-6 8h0m-2-4h0m-2 6h0m-6-9h0m-6 8h0m-4 5h0m-4-13h0m-14 8h0m-6-6h0m-3 9h0m-7-7h0m-10-4h0m-9 10h0m-6-8h0m-7 6h0m-1 3h0m-2 0h0m-1 1h0m0-3h0m-9-11h0m-10 10h0m-9-2h0m-14 1h0m-7-8h0m-10 11h0m-11 1h0m-4-10h0m-6 11h0m-14-4h0m-12-3h0m-8-7h0m-6 8h0m-9 4h0m-4-11h0m-14 10h0m-1-5h0m-4-3h0m-6 1h0m-2 10h0m-4-13h0m-5 6h0m-7-3h0m-1 8h0m0-3h0m-7-3h0m-6 2h0m-2 4h0m-4-7h0m-3 9h0m-2-1h0m-9-2h0m-7-10h0m-4 4h0m-2 8h0m-8-7h0m-18-2h0m-5 10h0m-7-8h0m-15 3h0m-24-3h0m-15-2h0m-10 7h0m-6 11h0m19 7h0m4-11h0m6 8h0m3 5h0m2-13h0m8 10h0m5-11h0m11 5h0m7-1h0m10 5h0m14 5h0m10-10h0m7 8h0m10-12h0m2 4h0m4 4h0m2-3h0m2 5h0m5-3h0m9 7h0m5-15h0m7 15h0m17-1h0m1-2h0m3-1h0m8-1h0m9 1h0m11-3h0m2-4h0m9 11h0m5-10h0m7 8h0m4-4h0m1-5h0m8 9h0m5-9h0m7 7h0m11-4h0m18 7h0m7-11h0m1-1h0m2-2h0m9 3h0m1 10h0m16-9h0m1 11h0m3 0h0m6-12h0m1-3h0m1 9h0m0 6h0m7 0h0m0-5h0m2-5h0m9 4h0m10 6h0m6-13h0m5-1h0m0 0h0m6 6h0m5 7h0m3-9h0m5 7h0m7-1h0m0-2h0m7-1h0m0 5h0m1-13h0m4 15h0m7-5h0m13 0h0m10-8h0m0-1h0m6 1h0m1 5h0m1 2h0m5 3h0m3 0h0m3-7h0m3 0h0m1-3h0m7 1h0m3 3h0m9-4h0m0 13h0m8-3h0m3-2h0m7-1h0m16 1h0m0-8h0m4 8h0m5-4h0m1-1h0m7 8h0m3-7h0m20 3h0m11 3h0m5-11h0m3 7h0m6-8h0m1 15h0m2-6h0m3-8h0m5 14h0m1-13h0m1 6h0m0 7h0m0-2h0m3-2h0m7-10h0m4 10h0m2-4h0m7 7h0m6-9h0m2 6h0m0-3h0m6 0h0m3 5h0m8-3h0m4 4h0m2-3h0m2-2h0m2-4h0m1 1h0m6 6h0m5 0h0m1-12h0m12 2h0m4 2h0m0 6h0m3-10h0m3 8h0m6 3h0m13-9h0m11 13h0m7-8h0m13 6h0m7-13h0m11 9h0m15 2h0m5-11h0m11 1h0m12 1h0m10 3h0m25-3h0m12 5h0m23-2h0m38 4h0m40 4h0m17-6h0m45 1h0m13-5h0m4 11h0m9-10h0m5 9h0m4-13h0m7 7h0m27-4h0m12 5h0m710 12h0m-716-4h0m-168 0h0m-20 0h0m0 12h0m-62-10h0m-12 3h0m-29 7h0m-29 3h0m-37-2h0m0-3h0m-7-1h0m-18-1h0m-16-1h0m-13-2h0m-16 9h0m-1-13h0m-2 8h0m-10 6h0m-1-11h0m-6-4h0m-8 9h0m-14-4h0m-3 3h0m-9-8h0m-7 9h0m-4-4h0m-4 7h0m-3-12h0m-5 9h0m-13-8h0m-4 13h0m-4-10h0m-10-3h0m-10 4h0m-12-2h0m-1 10h0m-12-3h0m-7-7h0m0 1h0m-4 9h0m-8-13h0m-1 4h0m-4 6h0m-14-7h0m-3 4h0m-10 8h0m-13-7h0m-12-3h0m-4 10h0m-8-9h0m-7 7h0m-9-7h0m-2 2h0m-12-1h0m-1-7h0m-1 13h0m-5 2h0m-3-9h0m-8-4h0m-3 9h0m-2-6h0m-4-4h0m-2 0h0m-2 10h0m-8-9h0m-5 9h0m-4 0h0m-3 2h0m-9-7h0m-1 0h0m-4 4h0m-6-1h0m-4-8h0m-5-1h0m-2 4h0m-1-4h0m-9 8h0m-9-4h0m-3 11h0m-7-3h0m-12-5h0m-12 2h0m-19-1h0m-20 1h0m-10-2h0m-12 0h0m-1 1h0m-8 0h0m-1-8h0m-4 1h0m-3 7h0m-9-7h0m-2 5h0m-10 6h0m-12-3h0m-10 0h0m-10-3h0m-2 6h0m-10 1h0m-13-7h0m-15 5h0m-8-5h0m-9-6h0m-5 9h0m-11-4h0m-3 5h0m-10-2h0m-26 7h0m-3-10h0m6 18h0m16-2h0m12 3h0m2 0h0m8-2h0m15 6h0m14-5h0m14-4h0m10 10h0m1-3h0m8-10h0m7 15h0m6-12h0m0-1h0m6 6h0m3 0h0m11 0h0m4 5h0m5-4h0m5 3h0m9-4h0m0-6h0m6 1h0m1 11h0m15-9h0m0 2h0m7 0h0m5-6h0m2 6h0m13 6h0m3 1h0m1-8h0m6-2h0m4 5h0m9-4h0m4 9h0m3-10h0m11 3h0m13 0h0m9 8h0m1-11h0m6 4h0m3-3h0m7 9h0m7-12h0m2 0h0m4 9h0m9 4h0m2-13h0m5-2h0m6 11h0m1-11h0m1 13h0m3 0h0m6-5h0m9 7h0m8-10h0m9 3h0m15 2h0m16-6h0m18 2h0m7-2h0m10 8h0m7-8h0m11 6h0m16-5h0m2-4h0m3 1h0m26 3h0m17 10h0m11-9h0m4-6h0m13 5h0m3 5h0m10 4h0m12-8h0m10 3h0m13 5h0m38-6h0m12 5h0m14-12h0m1 2h0m10 1h0m14 1h0m11 2h0m23 1h0m12-8h0m5 14h0m10-14h0m0 14h0m26-11h0m37-2h0m34 13h0m931-7h0m-981 10h0m-60 8h0m-16 3h0m-26-9h0m-24 1h0m-10-4h0m-11 7h0m-19-5h0m-9 11h0m-8-9h0m-10 2h0m-26 8h0m-23 1h0m-47-13h0m-16 1h0m-10 8h0m-14-11h0m-11 5h0m-4 0h0m-5 7h0m-9-7h0m-11 6h0m-6-9h0m-11 1h0m-2 12h0m0-11h0m-25 3h0m-11 0h0m-10 1h0m-11-1h0m-10-1h0m-9 4h0m-21-4h0m-17 9h0m0-9h0m-8-6h0m-12 13h0m-2-10h0m-12-3h0m-20 9h0m-15 2h0m-4-9h0m-16 2h0m-4 7h0m-8-7h0m-13 4h0m-2 3h0m-1 2h0m-1 2h0m-7-8h0m-15-2h0m-24-4h0m-1 7h0m-10 7h0m-2-2h0m-9 1h0m-9-13h0m-8 11h0m-12 2h0m-8 1h0m-4-9h0m0 7h0m-19 2h0m-7-9h0m-8 4h0m-19-2h0m-2 12h0m1 11h0m11-3h0m14-10h0m3 10h0m18-4h0m9-3h0m14 8h0m12-2h0m5-10h0m7 9h0m18-3h0m12-2h0m10 0h0m6 8h0m3 1h0m3-13h0m6 9h0m2-7h0m2 6h0m14-4h0m15 4h0m12-7h0m0 10h0m4-11h0m2 11h0m8-7h0m5 9h0m1-10h0m4-1h0m4 9h0m4-8h0m7 10h0m3-14h0m6 6h0m12 4h0m22 0h0m2 2h0m1-5h0m13 8h0m13-1h0m1-13h0m13 3h0m10-3h0m12 4h0m11 6h0m10-10h0m4 13h0m10 0h0m5-10h0m18 3h0m38 8h0m16-1h0m5-11h0m12 1h0m15-4h0m4 13h0m12-7h0m28 3h0m25-2h0m11 5h0m20 0h0m35-7h0m43-1h0m19-1h0m25 10h0m12-7h0m46 3h0m12 16h0m-61-4h0m-18 7h0m-12-5h0m-13-7h0m-42 5h0m-6 10h0m-50-9h0m-6-5h0m-15 13h0m-9-8h0m-13 9h0m-21-13h0m-18 6h0m-23-1h0m-9 6h0m-37-3h0m-25 2h0m-9-8h0m-12 2h0m-2 7h0m-13-5h0m-19-4h0m-1 10h0m-10-11h0m-17 3h0m-37-2h0m-10 7h0m-2-11h0m-11 14h0m-7-10h0m-12 8h0m-9-4h0m-10 2h0m-9-2h0m-14-5h0m-12 1h0m-4 10h0m-2-5h0m-3 2h0m-4-9h0m-6 11h0m-5-9h0m-9 5h0m-12 0h0m-2 5h0m0-14h0m-6 15h0m-3-15h0m-3 6h0m-8 8h0m-3-12h0m-9 8h0m-12-5h0m-17 0h0m-15 3h0m-19-6h0m-1 12h0m-11-2h0m-25 1h0m22 10h0m14 4h0m18-8h0m14 4h0m18 4h0m7-9h0m10 7h0m12-3h0m18 1h0m15 2h0m23-3h0m13-2h0m22-2h0m2 11h0m14-9h0m2 11h0m17-2h0m1-10h0m13 11h0m13-1h0m3-9h0m27-3h0m9 12h0m10-6h0m13 4h0m51-1h0m19 4h0m31-4h0m11-8h0m9 11h0m24-6h0m22-2h0m39 4h0m20 3h0m6-10h0m4 13h0m13-4h0m11-3h0m22-1h0m38 5h0m33-2h0m20-9h0m63 0h0m17 11h0m-57 19h0m-46-6h0m-16-9h0m-25 3h0m-14 9h0m-10-11h0m-7 11h0m-4-10h0m-9 3h0m-14 8h0m-16-3h0m-40-2h0m-19-4h0m-20-3h0m-25 2h0m-2 10h0m-32-4h0m-39-8h0m-21 0h0m-28-1h0m-19 3h0m-41 7h0m-16-1h0m-29-4h0m-19 8h0m-26-3h0m-3-9h0m-16-1h0m-10 3h0m-8 11h0m-4-10h0m-27-3h0m-12 8h0m-3-3h0m-2-5h0m-11 4h0m-15 1h0m-18 4h0m-6-9h0m-6 14h0m-14-9h0m-14-4h0m-1 27h0m8-13h0m5 10h0m20-1h0m9-2h0m10 2h0m3 0h0m1-1h0m5-1h0m11-7h0m6 14h0m11-11h0m6 8h0m3-6h0m3-5h0m19 3h0m12 8h0m22-4h0m1 5h0m8 2h0m9-10h0m14 6h0m19-3h0m25-3h0m16-1h0m9 4h0m9 2h0m4-8h0m22 13h0m28-6h0m27 0h0m23-3h0m16-2h0m10 9h0m15-5h0m17-5h0m32 7h0m10-2h0m17 6h0m12-8h0m6 8h0m17-8h0m38 3h0m24 3h0m11 3h0m25-5h0m12-6h0m21 7h0m10-6h0m19-3h0m10 3h0m35 5h0m54-7h0m-28 29h0m-43-8h0m-33-6h0m-3 14h0m-10-10h0m-84 0h0m-12 3h0m-27-8h0m-34 8h0m-12 0h0m-13-3h0m-19 0h0m-17-4h0m-1 12h0m-13-12h0m-13 13h0m-39 1h0m-3-12h0m-9 7h0m-13-7h0m-12 2h0m-11 5h0m-27-9h0m-5 14h0m-37-6h0m-30-6h0m-12 10h0m-18 1h0m-8-8h0m-15 8h0m-7-9h0m-14 6h0m-6-10h0m-4 9h0m-7-8h0m-10 2h0m-7 9h0m-13 0h0m-1-12h0m-9 9h0m-12-2h0m-9 5h0m-20 1h0m-10-5h0m-12-7h0m-1 11h0m-23-5h0m26 15h0m14 4h0m10-2h0m33 1h0m26 0h0m11-7h0m16 5h0m21-4h0m14 7h0m26-7h0m11 9h0m17-10h0m15 1h0m19 7h0m16-2h0m34-4h0m16-5h0m22 10h0m15 2h0m12-11h0m10 8h0m6-9h0m5 9h0m17-6h0m6 8h0m21-11h0m28 1h0m11 11h0m9-7h0m15 3h0m10 2h0m39 3h0m41-5h0m41 2h0m25 6h0m-4 9h0m-76-1h0m-77 3h0m-15-7h0m-37-4h0m-15 8h0m-11-2h0m-12 6h0m-3-12h0m-24 10h0m-10 5h0m-13-8h0m-28-5h0m-10 6h0m-16-3h0m-38-1h0m-23-3h0m-5 11h0m-19-9h0m0 10h0m-40 0h0m-1-12h0m-20 9h0m-14-7h0m-20 1h0m-10 8h0m-7-8h0m-15 5h0m-23-6h0m-12 8h0m-14-8h0m-4 12h0m-26-12h0m-9 13h0m13 2h0m13 5h0m10 6h0m16-1h0m12-5h0m12-1h0m22-3h0m14 4h0m22-5h0m17 8h0m15 5h0m38-14h0m22 10h0m14 1h0m8-8h0m12 0h0m16-4h0m17 13h0m18-6h0m19-5h0m17 2h0m8 10h0m80-9h0m26-4h0m9 5h0m8 9h0m1-15h0m14 15h0m15-9h0m47 3h0m11 6h0m43-13h0m30 4h0m20 5h0m-8 12h0m-89 7h0m-4-9h0m-12-4h0m-6 10h0m-39 0h0m-31 0h0m-37 0h0m-12-4h0m-32-1h0m-8 8h0m-16-9h0m-10 4h0m-13 0h0m-11-1h0m-15-3h0m-12 0h0m-28 7h0m-6-8h0m-10-4h0m0 15h0m-16-6h0m-13-2h0m-19 8h0m-10-10h0m-3 9h0m-17-12h0m-2 10h0m-18-1h0m-20-4h0m-4-5h0m-35 13h0m-14-14h0m-14 14h0m-7-8h0m-34 0h0m-8 8h0m14 4h0m11 10h0m15-11h0m25 10h0m9-4h0m20-5h0m7 11h0m11-11h0m14-2h0m49 14h0m28-1h0m12-9h0m21 5h0m26-9h0m11 12h0m40-11h0m13 3h0m11-5h0m9 5h0m8 10h0m17-4h0m10 3h0m41-14h0m5 12h0m43 2h0m10-4h0m21 5h0m4-12h0m11 2h0m10-5h0m5 11h0m23-4h0m34-2h0m23 0h0m11-1h0m8 9h0m14-7h0m-30 24h0m-10-5h0m-17-5h0m-8 9h0m-16-11h0m-21 0h0m-32 10h0m-26-3h0m-26-6h0m-10 12h0m-51-1h0m-7-11h0m-17 8h0m-46 0h0m-13-6h0m-11-4h0m-15 13h0m-11-2h0m-23-3h0m-16 4h0m-47-5h0m-20 7h0m-22-3h0m-6-8h0m-25-4h0m-4 9h0m-35-8h0m-27-1h0m-12 12h0m-12-5h0m6 15h0m15-1h0m35 5h0m2-10h0m36 2h0m7 9h0m21 1h0m31-4h0m29 1h0m11-9h0m30 11h0m26 0h0m26-1h0m6-10h0m33 13h0m4-12h0m81 14h0m3-12h0m6 9h0m15-2h0m25-1h0m61 0h0m11 4h0m49 3h0m-11 0h0m-16 7h0m-19-1h0m-3-3h0m-6 11h0m-22-10h0m-12 2h0m-30-3h0m-61-3h0m-34 6h0m-8 6h0m-13-9h0m-29 12h0m-51-1h0m-28-6h0m-16 1h0m-14 2h0m-10 4h0m-11-11h0m-18 10h0m-22-13h0m-17 9h0m-15-3h0m-23-3h0m-30 10h0m-13-13h0m-19 0h0m9 23h0m7-8h0m11 12h0m17-8h0m34 8h0m17 3h0m9-11h0m12-1h0m34 11h0m38-2h0m10-2h0m24 0h0m18-8h0m18 1h0m10 1h0m9 8h0m20-5h0m46 7h0m19-8h0m30-6h0m45 9h0m30 5h0m21-7h0m27 2h0m21 14h0m-10 1h0m-17 1h0m-10 1h0m-19 4h0m-61-12h0m-16 2h0m-71-3h0m-67 4h0m-20 2h0m-12-7h0m-38 10h0m-28-8h0m-44 5h0m-10-4h0m-5 9h0m-28-6h0m-21-4h0m-15 11h0m-2-11h0m8 27h0m4-9h0m17 2h0m21 8h0m0-13h0m14 12h0m43-13h0m20 14h0m7-14h0m31 4h0m12-1h0m11 2h0m11 8h0m12-5h0m16 5h0m9-13h0m26 14h0m25-6h0m64-6h0m22 9h0m23-3h0m34-7h0m2 6h0m21 7h0m21-11h0m28 0h0m-32 24h0m-32 1h0m-16-6h0m-20 2h0m-14 5h0m-24-6h0m-37-3h0m-19 10h0m-12-9h0m-10 9h0m-13-13h0m-19 12h0m-7-12h0m-1 7h0m-11 0h0m-16-1h0m-10-1h0m-15 5h0m-45-11h0m-21 14h0m-12-9h0m-15-3h0m-9 11h0m-16-6h0m-16 0h0m-9 6h0m-34-11h0m7 17h0m15 0h0m23 1h0m36 6h0m10-3h0m11 6h0m21-11h0m7 8h0m11 0h0m17-9h0m3 10h0m26-1h0m26 5h0m34-10h0m36-1h0m29-3h0m79 5h0m33 5h0m20 0h0m13 14h0m-74 2h0m-13 2h0m-31-4h0m-41-8h0m-37 6h0m-14-1h0m-15 2h0m-68 7h0m-12-10h0m-30-2h0m-71 1h0m-11 9h0m14 3h0m18 8h0m46-6h0m15 7h0m13 6h0m67-8h0m20 1h0m13 1h0m43-5h0m8 5h0m65-8h0m30 5h0m48-1h0m-106 14h0m-50 12h0m-12-10h0m-19-1h0m-10 7h0m-4-11h0m-42 1h0m-31 6h0m-32 1h0m-20-4h0m-22 0h0m-1-4h0m52 24h0m14 6h0m3-12h0m8 10h0m13-10h0m22 9h0m18-2h0m30-6h0m12-2h0m18 9h0m19 3h0m10-12h0m78 5h0m-46 22h0m-3-10h0m-16 7h0m-15 1h0m-26 0h0m-15-6h0m-39 11h0m-21-5h0m-23-5h0m-40 5h0m5 8h0m34 2h0m18 10h0m13-12h0m13 11h0m19-10h0m31-1h0m12 12h0m-6 9h0m-34-3h0m-12-2h0"/></defs><g opacity="0.178"><use href="#l2" stroke="#00003c" stroke-width="11"/><use href="#l2" stroke="#0000ff" stroke-width="7"/></g><defs><path id="l3" d="M610 156h0m-50 18h0m27-7h0m25 3h0m110 20h0m-14-5h0m-64 3h0m-8-7h0m-11 7h0m-32-2h0m-21-10h0m-11 28h0m14-10h0m48 12h0m21-4h0m28-2h0m14 3h0m10-5h0m11 5h0m41-4h0m-32 24h0m-21-4h0m-68-5h0m-13 3h0m-14 4h0m-25 1h0m-39-10h0m-54 11h0m-35-13h0m-6 23h0m37 2h0m17-4h0m10-5h0m3 13h0m50-7h0m54-2h0m33-2h0m24 0h0m42 8h0m16-4h0m9-8h0m49 8h0m21 21h0m-27-12h0m-72 5h0m-11-4h0m-1 12h0m-10-11h0m-19 0h0m-14 3h0m-34 7h0m-38-8h0m-3 10h0m-14-8h0m-22-3h0m-27 3h0m-26 2h0m-12 3h0m-22-3h0m-17-6h0m-14 12h0m-35 15h0m18-11h0m19 10h0m23-11h0m19 4h0m21 6h0m64-5h0m9-5h0m17 13h0m25-6h0m24-4h0m43 0h0m9-5h0m21 8h0m17-4h0m25 10h0m19-9h0m2 10h0m14-6h0m56 1h0m-86 13h0m-22 4h0m-17-4h0m-11-3h0m-26 10h0m-11 0h0m-1-11h0m-24-1h0m-3 9h0m-56 2h0m-24-8h0m-12-4h0m-4 8h0m-15 4h0m-25-9h0m-81 0h0m-1 11h0m-12-10h0m-26 5h0m-10 12h0m10 0h0m40 5h0m19-9h0m18 10h0m41 3h0m62-5h0m40-5h0m49 4h0m87 6h0m20-3h0m1-10h0m20 9h0m43-1h0m44 18h0m-22-1h0m-14-1h0m-42-9h0m-1 14h0m-11-6h0m-54 5h0m-10-9h0m-26 4h0m-13 4h0m-21-6h0m-9 8h0m-10-12h0m-69 10h0m-25-5h0m-73-1h0m-14 3h0m-26 1h0m-12-3h0m-10-5h0m-24-1h0m-4 8h0m-13-2h0m-8-4h0m-10 5h0m5 8h0m13 10h0m14 4h0m20-2h0m17-11h0m6 9h0m22-11h0m43 15h0m27-11h0m9 1h0m12 2h0m34 1h0m30-4h0m1 10h0m10-12h0m7 9h0m18-9h0m33 6h0m8 7h0m27-10h0m71 7h0m44-5h0m35 5h0m22 9h0m-29 9h0m-14-9h0m-16 9h0m-26-7h0m-27-2h0m-18 5h0m-16 5h0m-2-15h0m-11 14h0m-18-11h0m-14 7h0m-10 3h0m-27 1h0m-21 0h0m-11-7h0m-27-4h0m-21 2h0m-12-1h0m-15-4h0m-4 10h0m-13-5h0m-25 10h0m-24-4h0m-13-7h0m-19-1h0m-16 9h0m-19-9h0m-5 10h0m-32 1h0m-20-7h0m-9 3h0m-41 8h0m20 12h0m14 0h0m16-5h0m7-8h0m9 9h0m22 3h0m9 2h0m19-11h0m10 5h0m18 3h0m36-3h0m17 3h0m27-11h0m6 10h0m18 1h0m16-11h0m6 14h0m5-14h0m21-1h0m67 8h0m25-5h0m26 5h0m16 1h0m15-4h0m45 10h0m32-7h0m11-5h0m8 5h0m11-2h0m9-5h0m3 13h0m18 8h0m-16 9h0m-38-5h0m-79-2h0m-36 6h0m-11-12h0m-21 4h0m-38-4h0m-18 6h0m-29-6h0m-1 12h0m-22-5h0m-14 1h0m-6 5h0m-8 0h0m-34-13h0m-11 3h0m-19 6h0m-14-7h0m-22 8h0m-53-3h0m-50-2h0m-10 1h0m-54 5h0m15 14h0m11 1h0m25 1h0m8-12h0m12-1h0m18 8h0m2-5h0m20 12h0m21-1h0m20-11h0m5 11h0m9-6h0m21-5h0m13 9h0m23-12h0m9 8h0m13-2h0m11-3h0m18 7h0m38 4h0m28-11h0m9 5h0m17-5h0m14 10h0m5 1h0m13 1h0m13-2h0m20-6h0m25-6h0m24 1h0m16 10h0m27 0h0m18-4h0m12 2h0m11 3h0m8-6h0m20 5h0m41 12h0m-12-4h0m-19-4h0m-23 12h0m-40-5h0m-60-4h0m-7 10h0m-42-5h0m-21 3h0m-54 3h0m-11-8h0m-30 6h0m-55-7h0m-13-2h0m-13 2h0m-16 2h0m-30 0h0m-9-2h0m-10 7h0m-13 0h0m-52 2h0m-19-5h0m-11-4h0m-11 9h0m-42-8h0m-11 9h0m-18 16h0m7-14h0m10 9h0m22 0h0m18 0h0m22 4h0m57-8h0m19 2h0m14-1h0m10 0h0m18 1h0m9 3h0m9-4h0m18 4h0m17 4h0m9 0h0m22-15h0m12 14h0m12-4h0m5-8h0m14 8h0m27 5h0m22-14h0m29 6h0m10-2h0m3 10h0m32-7h0m14-2h0m38 6h0m22-12h0m44 7h0m33-5h0m22 24h0m-18 0h0m-13-5h0m-22 0h0m-26 7h0m-60 3h0m-11-3h0m-10 0h0m-18 1h0m-14-10h0m-29 0h0m-36 4h0m-61-2h0m-23 5h0m-11 1h0m-21 3h0m-28 0h0m-34-12h0m-8 8h0m-15-2h0m-19-4h0m-12 1h0m0 8h0m-25-4h0m-12-3h0m-11 2h0m-10-2h0m-17 6h0m-10-3h0m-11 1h0m-14-4h0m-6 9h0m-20-6h0m-11-1h0m8 23h0m15-10h0m11 5h0m2 0h0m11-4h0m17-2h0m5-2h0m2 13h0m9-11h0m10 5h0m10 1h0m11-7h0m8 7h0m10-3h0m15-3h0m11 2h0m14 0h0m14-3h0m15 3h0m12 4h0m11-8h0m22 9h0m14 1h0m10-5h0m13-3h0m18 7h0m11-5h0m15 7h0m10-5h0m14 3h0m19-10h0m33-1h0m5 10h0m29-5h0m15-2h0m25 8h0m23 0h0m28-8h0m12 5h0m10 0h0m25 2h0m17-10h0m9 14h0m30-12h0m197 21h0m-154-7h0m-29 2h0m-38 10h0m-26 1h0m-79 0h0m-25-7h0m-12-6h0m-5 12h0m-20-5h0m-9-3h0m-17 11h0m-41-6h0m-10-9h0m-9 8h0m-13 4h0m-64-12h0m0 12h0m-38 0h0m-13-6h0m-41 3h0m-29-8h0m-21-1h0m-15 10h0m-8-9h0m-8 10h0m-20-3h0m-21-2h0m-2 3h0m-14 5h0m-31-1h0m-14-3h0m-1 4h0m-9-1h0m22 13h0m11-1h0m12-2h0m12-3h0m1 8h0m5 0h0m8-12h0m4 12h0m7-7h0m15 0h0m11-1h0m3 9h0m19-7h0m12-6h0m11 2h0m14 4h0m17 0h0m34-6h0m10 12h0m9-11h0m7 6h0m14-6h0m16 3h0m22 10h0m13-12h0m8 8h0m15-10h0m25 7h0m18 8h0m14-9h0m31 6h0m43-5h0m31 2h0m26-9h0m4 15h0m22-7h0m15-3h0m14-4h0m15 13h0m40-10h0m8 10h0m16-13h0m37 13h0m39-12h0m-64 16h0m-14-1h0m-39 2h0m-21 10h0m-45-8h0m-49 0h0m-2 10h0m-7-7h0m-11-6h0m-15 6h0m-17-6h0m-36 2h0m-28 2h0m-1 1h0m-3 7h0m-19-8h0m-28 9h0m-13-6h0m-32-5h0m-14-3h0m-24 10h0m-10-8h0m-26 7h0m-13 2h0m-6-4h0m-11 4h0m-8-11h0m-7 10h0m-13-9h0m-12-2h0m-18 10h0m-12-1h0m-8 6h0m-6-15h0m-10 3h0m-2 11h0m-13 1h0m-8-3h0m-3 1h0m-7-9h0m-17-1h0m-10 5h0m-12 3h0m-25-5h0m-3 11h0m2 10h0m20-3h0m15-6h0m12 1h0m6 9h0m5-9h0m4 8h0m16 1h0m12-3h0m10 6h0m0-6h0m6-7h0m3 2h0m4 9h0m13 2h0m1-13h0m8 13h0m1 0h0m4-11h0m14 0h0m5 11h0m12-5h0m11-1h0m23 3h0m16-3h0m8-8h0m21 5h0m22-3h0m13 10h0m1-13h0m15 11h0m7-10h0m5 8h0m22-1h0m24-4h0m21 3h0m23 7h0m13-5h0m22-4h0m10-1h0m9-3h0m24 3h0m25 7h0m16-10h0m8 10h0m14-6h0m11 0h0m14-2h0m11 5h0m48-8h0m10 7h0m11 8h0m5-12h0m17 5h0m20 2h0m24 4h0m46-2h0m-64 14h0m-14-10h0m-14 11h0m-5-10h0m-9 12h0m-25-6h0m-12-2h0m-24 7h0m-14-1h0m-8-8h0m-51 0h0m-18 4h0m-21 8h0m-12-11h0m-13 2h0m-24-4h0m-9 1h0m-13 2h0m-25 3h0m-20-8h0m-10 0h0m-12 6h0m-28-3h0m-15 7h0m-27 2h0m-12-7h0m-15 1h0m-11-4h0m-13 7h0m-1-4h0m-8-5h0m-8 5h0m-10 10h0m0-10h0m-13 7h0m0 0h0m-4 2h0m-11-4h0m-21 3h0m0-13h0m-9 15h0m0-6h0m-16 1h0m-11-2h0m-14 2h0m-11 2h0m-14 0h0m-5-11h0m-14 7h0m-19 0h0m-10 0h0m-16-2h0m3 14h0m11 10h0m4-10h0m20 5h0m12-3h0m20 1h0m9 4h0m2-1h0m14-7h0m6 8h0m9-2h0m10 6h0m7-7h0m13 1h0m7 1h0m3-10h0m0 15h0m3-5h0m4 2h0m7-3h0m5 4h0m7 1h0m3-11h0m15-1h0m9 12h0m2-14h0m11 2h0m9 9h0m6-10h0m6 8h0m11 0h0m4-9h0m7 14h0m12-6h0m28-4h0m7 11h0m7-15h0m5 13h0m11-12h0m9 6h0m7-6h0m16 1h0m3 13h0m0-13h0m11 2h0m10 8h0m15 1h0m7-11h0m16 1h0m4 9h0m7-11h0m3 12h0m13-10h0m34 6h0m42-7h0m54 13h0m35-13h0m28 8h0m18 0h0m20-7h0m21 10h0m309 13h0m-325-6h0m-26 5h0m-7-9h0m-16 8h0m-19 4h0m-26-10h0m-23 1h0m-16 11h0m-8-14h0m-10 15h0m-30-11h0m-13 11h0m-9-8h0m-8-7h0m-16 13h0m-4-11h0m-11 4h0m-14 5h0m-25 0h0m-27-3h0m-11 5h0m-9-5h0m-15-8h0m-17 7h0m-11-7h0m-18 1h0m-9 10h0m-1-9h0m-11-1h0m0 1h0m-2 0h0m-3 13h0m-6-12h0m-1 4h0m-16-2h0m-5 8h0m-3 0h0m-10-13h0m-1 4h0m-15 10h0m-2-3h0m-14 3h0m-9 0h0m-4-11h0m-7 3h0m-9 7h0m-3-12h0m-2 2h0m-17 0h0m-7 4h0m-11-2h0m-10 6h0m-4-2h0m-1 4h0m-16-6h0m-7 5h0m-2-9h0m-20 11h0m-6-13h0m-10 4h0m-4-5h0m-1 13h0m-9-4h0m0 0h0m-13-9h0m-7 7h0m-19 4h0m-9-5h0m-3 24h0m11 0h0m10-12h0m10 13h0m2-10h0m12 0h0m5 8h0m19-7h0m1 6h0m11 1h0m8-6h0m10-6h0m6 13h0m3-7h0m7-3h0m15 10h0m9-6h0m0-6h0m3 7h0m0-4h0m3 7h0m3-3h0m6-8h0m4 13h0m11-14h0m12 9h0m11 5h0m1-13h0m13 10h0m2 4h0m1-7h0m12-1h0m16 3h0m20-3h0m7-6h0m4 1h0m7-2h0m14 7h0m9 1h0m18-1h0m6-5h0m18 0h0m13 0h0m11 12h0m5-11h0m26-2h0m11 5h0m18-3h0m13 11h0m13-6h0m13-3h0m16 6h0m6-11h0m28 5h0m15 6h0m1-3h0m6-3h0m22 2h0m12 1h0m4 6h0m1-14h0m18 0h0m2 14h0m13-4h0m10-9h0m54 6h0m12 5h0m8-11h0m13 10h0m18 0h0m179 2h0m39-3h0m15 2h0m109-2h0m171 15h0m-115 6h0m0-9h0m-7 3h0m-4-2h0m-1 8h0m-1-13h0m-9 6h0m-12 2h0m-16-2h0m-4 3h0m-16-5h0m-33 8h0m-17-6h0m-16 6h0m-90-11h0m-4 12h0m-14-12h0m-6 12h0m-26-5h0m-20-7h0m-16 10h0m-3-10h0m-13 3h0m-7 8h0m-55-6h0m-20 6h0m-15-11h0m-10 2h0m-7 8h0m-13-10h0m-10 9h0m-7-11h0m-7 10h0m-17-7h0m-1 11h0m-8-15h0m-7 10h0m-11 4h0m-6-7h0m-13 7h0m-14 0h0m-4 1h0m-6-7h0m-10 3h0m-12-8h0m-3-3h0m-7 11h0m-4-9h0m-6 5h0m-1 6h0m-5-9h0m-9 6h0m-13 4h0m-10 0h0m-10-13h0m-5 13h0m-3-6h0m-23 2h0m-3-3h0m-4-1h0m-6-3h0m-15-1h0m0 2h0m-1 8h0m-7-2h0m-7-8h0m-8 10h0m-4-6h0m-11-3h0m-1 9h0m-10 3h0m-8-12h0m-1 1h0m-2 7h0m-2-7h0m-4-3h0m-6 8h0m-1-4h0m-2 2h0m-11-6h0m-1 10h0m-15-6h0m-21-5h0m0 12h0m-11-5h0m-9 7h0m-8-8h0m-10 1h0m-10 5h0m-1-6h0m-5-3h0m-3 11h0m-3 0h0m-6-10h0m-11 10h0m-1-9h0m-5 7h0m-2-1h0m-17 2h0m-2-1h0m-9-5h0m-1 2h0m-19 0h0m-1-9h0m-6 10h0m-6-10h0m-13 14h0m-6-13h0m-5 13h0m-5-1h0m-18-8h0m-7 10h0m-11-8h0m-11-4h0m-12 7h0m-8 5h0m-22-7h0m-14 1h0m-12 2h0m-1 10h0m7 10h0m10-14h0m3 13h0m1-10h0m10-4h0m3 6h0m7-5h0m17 12h0m8-8h0m11 9h0m1-12h0m13 8h0m10-1h0m3-1h0m11-1h0m4 2h0m6 6h0m6-7h0m4 7h0m5 0h0m3-14h0m5 14h0m5-11h0m13 5h0m7-7h0m8 7h0m20-5h0m3 0h0m7 11h0m8-11h0m13-4h0m7 9h0m17-3h0m2-5h0m3 14h0m7-6h0m7-7h0m10 5h0m11 3h0m10-10h0m2 9h0m4-1h0m1 3h0m17-6h0m1 7h0m3 2h0m10 0h0m3-9h0m1 2h0m2-4h0m9 11h0m8-5h0m12 0h0m10-6h0m2 1h0m11-1h0m7 1h0m9-2h0m1 11h0m1-1h0m13-1h0m1-10h0m9 4h0m6-4h0m0 7h0m5 4h0m5-1h0m1-8h0m4 6h0m5-4h0m2-5h0m2 1h0m0 11h0m18-6h0m15 6h0m3-4h0m8 2h0m2-8h0m6 11h0m1 2h0m2-10h0m10 10h0m4-9h0m13 0h0m9 7h0m1 2h0m12-7h0m13 2h0m3 0h0m5 5h0m8-15h0m0 11h0m2-10h0m1 12h0m14-9h0m0 5h0m5-1h0m4-5h0m5 9h0m5 1h0m6-7h0m11 3h0m10 5h0m7-12h0m7 13h0m21-10h0m12 7h0m13-7h0m19-1h0m11-2h0m2 10h0m9-2h0m1-10h0m35 0h0m9 8h0m27-2h0m10-1h0m11-1h0m6-3h0m46 2h0m32 9h0m17 0h0m11-9h0m7 7h0m37-3h0m10 3h0m12-5h0m5 9h0m12-11h0m24 4h0m53-4h0m509 12h0m92 9h0m-675-4h0m-188 0h0m-41-2h0m-19 7h0m-44 1h0m-20 5h0m-3-10h0m-12 10h0m-2-1h0m-8-11h0m-6 8h0m-12 0h0m-3-11h0m-16 4h0m-8 11h0m-4-11h0m-8 6h0m-7-8h0m-1 4h0m-2 2h0m-1-1h0m-14-2h0m-3 3h0m0-3h0m-22-2h0m-14 7h0m-12-2h0m-14-2h0m-11 4h0m0-10h0m-2 0h0m-1 1h0m-6 1h0m-8 3h0m0 10h0m-11-4h0m-1-7h0m-3 5h0m-10 5h0m0-9h0m-6 3h0m-14-1h0m-6-2h0m-10-5h0m-6 2h0m-1 11h0m-9-1h0m-2-5h0m-10 2h0m-1 3h0m-3-9h0m-10-3h0m0 5h0m-12 0h0m-9 2h0m-13 8h0m-2-11h0m-8 10h0m-6-10h0m-6 7h0m-3-11h0m-15 7h0m-6-3h0m-6 9h0m-1-2h0m-7-8h0m-2 12h0m-3-12h0m-6 6h0m-8-1h0m-3 1h0m-5-9h0m-4 3h0m-1 9h0m-1-10h0m-6 0h0m-1 1h0m-12 5h0m-2-5h0m-8 7h0m-1-10h0m-9 11h0m-5-10h0m-5 12h0m-21-13h0m-2 14h0m-13-13h0m-12 8h0m-15 1h0m-3-10h0m-2 11h0m-7-1h0m-3-9h0m-1 2h0m-8 3h0m-13 2h0m-14-6h0m-2 8h0m-11-3h0m-1-6h0m-3 13h0m-6 0h0m-15-3h0m-7-8h0m-10 6h0m-1 2h0m-8-7h0m-7 8h0m-37 1h0m-2-13h0m-15 0h0m-15 9h0m-9 1h0m5 12h0m12-6h0m1 12h0m10-12h0m15 8h0m12-1h0m15-2h0m10 7h0m3 0h0m9-6h0m0 2h0m1 7h0m16-9h0m11 3h0m0 4h0m3 0h0m2-1h0m2 0h0m1 1h0m0-2h0m13-9h0m1 12h0m5-6h0m6-2h0m9 9h0m1-10h0m6 1h0m3 0h0m2-5h0m8 11h0m0-6h0m11 7h0m4-4h0m0-4h0m5-3h0m8 13h0m6-12h0m4 9h0m0-10h0m1 12h0m8 1h0m0-11h0m13 8h0m11-12h0m4 9h0m7-7h0m5 11h0m2-8h0m4-1h0m7-3h0m10 3h0m14 0h0m17 1h0m13-2h0m2 10h0m14-7h0m6 8h0m1-14h0m11 1h0m10 5h0m18 9h0m11-9h0m14-2h0m10-3h0m0 12h0m11-12h0m9 2h0m3-1h0m9 7h0m16-9h0m1 2h0m13-2h0m13 3h0m8 1h0m6 0h0m14 3h0m9 2h0m7-7h0m5 8h0m16-1h0m13-7h0m24-1h0m16-1h0m11 4h0m14-4h0m48 14h0m19-6h0m24 3h0m9-6h0m14 8h0m1017-12h0m-1037 21h0m-49 1h0m-17 0h0m-11 2h0m-22-8h0m-8 9h0m-16-7h0m-29-3h0m-21 5h0m-8 7h0m-19-6h0m-23-4h0m-18-2h0m-18 5h0m-16 2h0m-9 5h0m-4-12h0m-11 5h0m-12 3h0m-11-7h0m-11 4h0m-12 3h0m-16-5h0m-4 2h0m-2 6h0m-6-9h0m-9 13h0m-18-10h0m-16 10h0m-4-14h0m-14 0h0m-1 14h0m-11-13h0m-10 0h0m-11-2h0m-1 10h0m-14-5h0m-10 9h0m-5-9h0m-19 6h0m-1-10h0m-26 3h0m-11 8h0m-7-6h0m-8 1h0m-1 2h0m-6-6h0m-4-1h0m-2 9h0m-9 4h0m-1-6h0m-8 5h0m-5 1h0m-24-8h0m-3-4h0m-16 7h0m-27-1h0m-6-9h0m0 4h0m-15 9h0m-9-6h0m-12 3h0m-19-2h0m0 20h0m17-1h0m7-5h0m4 9h0m0-15h0m20 5h0m11 2h0m11-7h0m5 9h0m12 1h0m3 1h0m6-11h0m11 4h0m3-2h0m10-1h0m7 7h0m10 5h0m11 0h0m5-3h0m11-9h0m12 12h0m11-11h0m1 4h0m10 6h0m2-11h0m5 11h0m4-5h0m3 4h0m4-11h0m14 9h0m22-3h0m13-2h0m16 7h0m9-3h0m18 2h0m10-1h0m12-9h0m12 4h0m8 8h0m16-4h0m7-5h0m15 8h0m18-9h0m15 1h0m8 9h0m3-10h0m29 5h0m5-4h0m10 0h0m5 9h0m9-9h0m5 9h0m14-4h0m20-4h0m36 9h0m4-13h0m8 14h0m30-2h0m13-11h0m11 7h0m26-3h0m33 5h0m43-10h0m61 31h0m-72-12h0m-27 5h0m-25-1h0m-32-4h0m-11 9h0m-2-12h0m-27 0h0m-16 13h0m-11-4h0m-31-5h0m-8 8h0m-1-12h0m-17 6h0m-14 9h0m0-10h0m-32-1h0m-11-4h0m-21 8h0m-9 3h0m-48-7h0m-15 0h0m-25 3h0m-10-6h0m-8 9h0m-12-6h0m-12-2h0m0 13h0m-20-4h0m-12-2h0m-2-4h0m-15-3h0m-1 11h0m-10 2h0m-5-9h0m-10-4h0m-11 10h0m-19-9h0m-7 4h0m-20-7h0m0 10h0m-3-4h0m-6-2h0m-2 10h0m-4-12h0m-1 10h0m-8 2h0m-4-3h0m-12-6h0m-1-5h0m-5 15h0m-8-7h0m-6-8h0m-6 6h0m-14 1h0m-20 8h0m-3-12h0m-11 3h0m-31 0h0m-13 0h0m11 15h0m16-5h0m18 4h0m5 3h0m3 0h0m20 3h0m10-8h0m8 9h0m7-11h0m2 13h0m24-9h0m11 11h0m18-14h0m7 6h0m13-5h0m16-2h0m27 9h0m14 2h0m25 2h0m9-9h0m33 4h0m15 1h0m9-6h0m5-1h0m9 2h0m10 8h0m5-8h0m35-1h0m31 7h0m15-8h0m22 1h0m17 2h0m12-4h0m41 7h0m15 1h0m7-7h0m8 6h0m24 3h0m19 1h0m13-6h0m37-1h0m50 3h0m35-6h0m-5 18h0m-23 6h0m-57 3h0m-23-9h0m-9 7h0m-9-11h0m-20 9h0m-12 4h0m-13-5h0m-33 5h0m-21 2h0m-2-10h0m-49-4h0m-11 2h0m0 12h0m-21-8h0m-19-7h0m-16 1h0m-20-1h0m-8 12h0m-20-3h0m-17-9h0m-21 2h0m-21 12h0m-14-9h0m-12 3h0m-9 3h0m-19-4h0m-13-1h0m-10 9h0m-7-15h0m-6 11h0m-5-8h0m-11 6h0m-12-5h0m-13-1h0m-23 9h0m-10-12h0m-4 13h0m-11-2h0m-3-9h0m-11 3h0m-37 1h0m0-1h0m-13 4h0m-2-9h0m-11 8h0m-10-6h0m10 21h0m32 5h0m2-10h0m10 2h0m13-2h0m0 12h0m17-3h0m11 2h0m20-5h0m11-3h0m10 2h0m13 7h0m5-10h0m8 7h0m8-6h0m11 0h0m24-2h0m42 8h0m10-7h0m5 10h0m1-11h0m23-3h0m26 8h0m24-3h0m19 10h0m14-4h0m10-6h0m35-1h0m49-1h0m8 7h0m8-8h0m24 7h0m11 6h0m31-13h0m25 11h0m23-6h0m35 5h0m36-8h0m5 11h0m13-8h0m13 3h0m13-5h0m42-1h0m217 26h0m-253-10h0m-7 7h0m-31-3h0m-12 0h0m-16 3h0m-21-4h0m-15 6h0m-10-8h0m-19 1h0m-31 1h0m-7-7h0m-40 3h0m-18-2h0m-9 4h0m-19 5h0m-21-6h0m-17-2h0m-12 11h0m-29-3h0m0-10h0m-21 10h0m-13 1h0m-27-10h0m-16 4h0m-15-1h0m-27 4h0m-21 3h0m-20 4h0m-8-14h0m-21 4h0m-7 9h0m-19-4h0m-12 3h0m-12-3h0m-3-3h0m-7 4h0m-3-10h0m-14 12h0m-8-8h0m-15 3h0m-14 0h0m-26-1h0m-15-1h0m-18 3h0m8 16h0m11 4h0m8-11h0m12-1h0m23 8h0m4-9h0m10 14h0m8-11h0m17 3h0m12 4h0m7-7h0m14 7h0m13 2h0m7-7h0m8 8h0m21-1h0m23 3h0m8-12h0m12 1h0m1 10h0m3-8h0m24-3h0m51 2h0m9-5h0m21 15h0m6-11h0m9 10h0m3-11h0m17 7h0m8-8h0m9 5h0m24-6h0m4 12h0m21-9h0m21-3h0m9 12h0m14-9h0m24-2h0m4 11h0m9-6h0m17 5h0m10-7h0m21 7h0m20-5h0m27 8h0m15-4h0m26-3h0m10-3h0m5 13h0m-17 2h0m-53 10h0m-8-6h0m-16-6h0m0 10h0m-11 1h0m-16-2h0m-58-10h0m-2 14h0m-7-9h0m-11 2h0m-36-8h0m-8 7h0m-15 8h0m-8-15h0m-15 8h0m-16 5h0m-38-1h0m-19-9h0m-34 8h0m-14 3h0m-12-11h0m-17 8h0m-49-8h0m-7 10h0m-8-8h0m-17 7h0m-18-10h0m-14 2h0m-19 4h0m-12-7h0m-9 6h0m-10 3h0m-26 3h0m-9-12h0m-12 3h0m-8 5h0m-15-6h0m15 27h0m18-14h0m24 11h0m1-9h0m27-1h0m1 12h0m13 2h0m6-12h0m30 0h0m16 11h0m13-14h0m23 10h0m10 0h0m24-5h0m29-3h0m24 4h0m27 3h0m12-6h0m12 11h0m31-9h0m35 1h0m9 7h0m40-12h0m19-1h0m27 14h0m45-2h0m113 1h0m17-6h0m-10 13h0m-28 0h0m-8 10h0m-31-13h0m-22-1h0m-24 15h0m-42-6h0m-17-3h0m-20-4h0m-27 1h0m-46 9h0m-12 2h0m-7-9h0m-10-3h0m-12 5h0m-38-3h0m-10 5h0m-11-2h0m-17-5h0m-1-1h0m-5 12h0m-15-8h0m-11-3h0m-7 11h0m-11-10h0m-30 9h0m-17 0h0m-18-1h0m-13-4h0m-19 3h0m-76-8h0m-12 0h0m0 14h0m14 11h0m5-10h0m16 8h0m9-2h0m15 1h0m9-5h0m27 8h0m10-1h0m10 5h0m10-5h0m17-2h0m49 3h0m19-4h0m22 8h0m13-1h0m17-12h0m17 12h0m23-11h0m18 10h0m10-13h0m6 15h0m28-3h0m32 0h0m14 1h0m14 1h0m23-1h0m26-7h0m8 7h0m28-3h0m18 2h0m14-8h0m35 7h0m20 1h0m2-12h0m19 2h0m27-2h0m-23 16h0m-18 10h0m-10 1h0m-13-7h0m-6 10h0m-20-12h0m-77 5h0m-13-4h0m-89 1h0m-2 10h0m-24 0h0m-20-7h0m-27-7h0m-2 12h0m-15-3h0m-17 0h0m-12-2h0m-23 2h0m-20 3h0m-4-9h0m-22 4h0m-42 4h0m-14-5h0m-21 5h0m-33-9h0m-5 10h0m-25-9h0m-13 3h0m-22-1h0m37 11h0m23 15h0m14-14h0m14 10h0m19-1h0m36-7h0m12 9h0m16 1h0m2-13h0m14 15h0m22-11h0m19 4h0m29 0h0m18-2h0m21-3h0m31-3h0m73 10h0m21-6h0m20 9h0m5-11h0m43 10h0m16-11h0m16 9h0m3-10h0m54 9h0m70 17h0m-53 5h0m-33-11h0m-35 5h0m-11-6h0m0 11h0m-20-4h0m-18 1h0m-14 0h0m-11-10h0m-26 2h0m-13 10h0m-28-1h0m-29-3h0m-11 0h0m-11-8h0m-11 7h0m-9 6h0m-7-10h0m-25 10h0m-3-13h0m-9 11h0m-13-9h0m-18 1h0m-10 5h0m-19 5h0m-11-3h0m-32 1h0m-20-6h0m-26 1h0m-8-7h0m-14 3h0m-28 9h0m-12 1h0m-9-10h0m-11 0h0m-17-3h0m2 17h0m16 4h0m21 2h0m9 4h0m17-7h0m22 4h0m35 2h0m32-1h0m22 5h0m10-5h0m25 1h0m23-5h0m5 8h0m30-7h0m19 3h0m17-4h0m27 6h0m14 3h0m3-9h0m43 5h0m36-1h0m45 6h0m31 0h0m3-9h0m14 8h0m34-13h0m28 17h0m-41 13h0m-5-15h0m-11 13h0m-53 1h0m-11-4h0m-31-7h0m-19 3h0m-7-6h0m-1 15h0m-14 0h0m-34-13h0m-7 7h0m-53-6h0m-21-3h0m-26 0h0m-15 15h0m-8-6h0m-26 4h0m-7-10h0m-7 7h0m-20 0h0m-18-9h0m-13 12h0m-12-6h0m-11-2h0m-25-3h0m-14 3h0m-6 9h0m-14-7h0m-10 3h0m-13 4h0m-4-11h0m18 22h0m11 3h0m4-5h0m20 6h0m7-9h0m19-1h0m18 4h0m14 7h0m47 0h0m21-2h0m15-5h0m18 1h0m17 2h0m22-7h0m8 11h0m53 1h0m84-15h0m31 6h0m21 7h0m18-6h0m10 1h0m10-2h0m14 2h0m32 6h0m-21 4h0m-17 9h0m-14-2h0m-50-5h0m-15 1h0m-12 2h0m-13 2h0m-37 1h0m-43 0h0m-9-10h0m-7 6h0m-8-6h0m-16 9h0m-25-5h0m-5 9h0m-16 1h0m-30 1h0m-21-9h0m-15 4h0m-18 3h0m-1-12h0m-25 10h0m-18-10h0m-4 10h0m-31 2h0m-18-8h0m-23 4h0m38 17h0m24-3h0m16-3h0m17 1h0m44 6h0m36 2h0m22-5h0m16 0h0m23 3h0m19-9h0m23-1h0m3 13h0m11-1h0m20-4h0m8 6h0m3-12h0m36-1h0m18 5h0m26-7h0m97 10h0m-22 10h0m-43 0h0m-30 1h0m-57 4h0m-41 2h0m-17 3h0m-30-8h0m-11-3h0m-16 2h0m-9 1h0m-13 0h0m-55-5h0m-12 6h0m-39-7h0m-8 25h0m18 3h0m16-2h0m28-1h0m12-8h0m20 6h0m16-1h0m17-2h0m18 6h0m13 2h0m19-4h0m13 2h0m35-3h0m22-1h0m26 5h0m28-6h0m18 5h0m8 8h0m-9 5h0m-11 1h0m-41 3h0m-14 4h0m-23-2h0m-11 1h0m-13-2h0m-11 1h0m-31 2h0m-16-2h0m-17-7h0m-11-4h0m-18 9h0m-9-6h0m-14 4h0m-20-6h0m-9 7h0m-14-2h0m-29-2h0m39 17h0m14-7h0m15 7h0m17-1h0m28-2h0m3 11h0m16-12h0m21 12h0m18-14h0m58 4h0m17 6h0m31 1h0m-4 13h0m-12 6h0m-12-11h0m-8 7h0m-47-3h0m-48 4h0m-40-12h0m-4 14h0m-16-13h0m-14 4h0m38 23h0m9-3h0m11-3h0m11 7h0m11-6h0m48 2h0"/></defs><g opacity="0.178"><use href="#l3" stroke="#00003c" stroke-width="11"/><use href="#l3" stroke="#0000ff" stroke-width="7"/></g><defs><path id="l4" d="M591 163h0m24 1h0m23-4h0m21 11h0m79 12h0m-7 8h0m-21-10h0m-10 8h0m-45-4h0m-9-4h0m-18-2h0m-10-3h0m-38 0h0m-35 6h0m-13 0h0m-43 15h0m60 4h0m10-9h0m14 10h0m17 4h0m38-9h0m12 5h0m32-9h0m13 13h0m32-13h0m44 12h0m-8 12h0m-32 5h0m-3-14h0m-9 4h0m-13 10h0m-9-1h0m-29-6h0m-16 1h0m-20-8h0m-24 6h0m-16 0h0m-32 2h0m-75 5h0m-14 2h0m-27 16h0m10-1h0m34 0h0m8-9h0m12-5h0m46 12h0m30-10h0m7 9h0m27 0h0m1-11h0m24 4h0m15 7h0m43-1h0m19-7h0m9 6h0m11-5h0m75 22h0m-34 1h0m-21-1h0m-44 1h0m-24-8h0m-4 10h0m-15-7h0m-10-3h0m-12 5h0m-28 4h0m-34 0h0m-24 2h0m-25-1h0m-12-2h0m-43 3h0m-21-9h0m-26 8h0m-37 16h0m19-5h0m15 0h0m23-7h0m11-1h0m16 9h0m34-2h0m8 7h0m30-5h0m52-6h0m5 10h0m13-5h0m7-7h0m34 4h0m11-3h0m25 9h0m15-6h0m47 3h0m25-7h0m34 19h0m-4 11h0m-54-4h0m-20-9h0m-11 10h0m-59-6h0m-16-6h0m-24 0h0m-33 5h0m-26-2h0m-21 4h0m-20-1h0m-35-6h0m-61 13h0m-13-9h0m-5 10h0m-11 0h0m-18 0h0m-5-11h0m-12 7h0m-6 16h0m16 1h0m11 2h0m6-8h0m23 2h0m11 7h0m21-9h0m9 9h0m12-12h0m32 9h0m14-1h0m18-10h0m1 15h0m8-11h0m18 2h0m14 8h0m28-8h0m5 5h0m4-11h0m10 4h0m18 4h0m75-5h0m11 10h0m28 0h0m10-2h0m67 14h0m-11-5h0m-40 8h0m-16 3h0m-8-8h0m-35 2h0m-8 5h0m-4-10h0m-9-3h0m0 10h0m-20-5h0m-12-2h0m-25 4h0m-14-6h0m-74 0h0m-56 3h0m-10 4h0m-47-6h0m-1 9h0m-20-7h0m-9 8h0m-10-2h0m-29-4h0m-26 1h0m-13 5h0m25 6h0m17 10h0m24-7h0m18 7h0m8-13h0m1 11h0m33-11h0m15 8h0m14 2h0m11-4h0m17 0h0m10-6h0m32 4h0m14 1h0m12-1h0m12 5h0m31 3h0m1-12h0m10 5h0m15 0h0m11 5h0m4-10h0m34 11h0m13 2h0m30-2h0m9-3h0m34-6h0m36-1h0m1 13h0m18-14h0m8 9h0m12 22h0m-11-1h0m-42-2h0m-8-6h0m-10 7h0m-5-12h0m-5 9h0m-6-10h0m-43 14h0m-23-8h0m-10 0h0m-25 1h0m-69-7h0m-19 14h0m-7-8h0m-24 2h0m-11-7h0m-12 6h0m-18-3h0m-42 3h0m-3 3h0m-7-9h0m-14 13h0m-2-11h0m-31 8h0m-10-8h0m-11 6h0m-33 1h0m-14 4h0m-3-10h0m-24 1h0m12 13h0m33 7h0m18-2h0m47 5h0m30-4h0m36 3h0m16-11h0m11 14h0m16-12h0m24 9h0m10 0h0m43 2h0m21-1h0m16-3h0m7-7h0m12 6h0m9 4h0m4-9h0m26-1h0m16 7h0m12-1h0m61 6h0m14 0h0m19-9h0m10 0h0m29 9h0m-21 4h0m-9 8h0m0-10h0m-46 7h0m-26-7h0m-26 2h0m-44 1h0m-43 12h0m-28-13h0m-12 6h0m-14 4h0m-9-8h0m-10-4h0m-18 8h0m-14 4h0m-13-11h0m-16 11h0m-19-7h0m-30-3h0m-8 13h0m-2-10h0m-10-2h0m-17 8h0m-22-11h0m-4 11h0m-21-10h0m-8 9h0m-33-4h0m-15-3h0m-9 9h0m-12-2h0m-15 10h0m3 10h0m48-11h0m10 10h0m20-7h0m25 5h0m19 3h0m5-9h0m11 4h0m11-8h0m2 12h0m30-11h0m10 0h0m35 6h0m12-3h0m6 8h0m20-9h0m18-2h0m4 9h0m31-4h0m32 8h0m18-4h0m40-1h0m11-7h0m11 3h0m14-4h0m9-2h0m1 8h0m14 6h0m8-8h0m13 5h0m25-7h0m14 11h0m8-7h0m10 1h0m14-7h0m19 8h0m11 10h0m-28 9h0m-1-12h0m-18 6h0m-31 7h0m-33-1h0m-32-6h0m-23 1h0m-45-2h0m-16-2h0m-26 6h0m-4-8h0m-14 4h0m-11 4h0m-19-2h0m-18 7h0m-21-3h0m-44-9h0m-22 2h0m-16 8h0m-23-3h0m-9-7h0m-11 9h0m-27-6h0m-12 4h0m-15-1h0m-8 1h0m-29 3h0m-10-2h0m-6-7h0m-33-4h0m-12 0h0m-1 10h0m8 10h0m9 3h0m18-2h0m5 10h0m7-8h0m19 1h0m35 0h0m13 3h0m24-10h0m2 14h0m10-5h0m11 2h0m18-1h0m14-2h0m9 6h0m5-12h0m28 8h0m64-1h0m46-5h0m59 5h0m12-3h0m30 1h0m18-3h0m21 6h0m8-10h0m9 11h0m46 3h0m47-8h0m78 19h0m-56-2h0m-11 4h0m-10 2h0m-24-7h0m-13 7h0m-36-13h0m-22 10h0m-16-4h0m-26 7h0m-1-10h0m-44 3h0m-19-6h0m-10 0h0m0 10h0m-22 0h0m-16-10h0m-35 5h0m-16 5h0m-9-9h0m-20 12h0m-28-9h0m-20-3h0m-24 11h0m-6-9h0m-30 2h0m-39 6h0m-11-2h0m-14-3h0m-20 4h0m-6-8h0m-8 7h0m-12-5h0m-17-2h0m-4 11h0m-7-7h0m-14 2h0m-6-9h0m-10 6h0m-12 5h0m-15 3h0m20 11h0m18-4h0m8-1h0m6-3h0m16 13h0m8-14h0m7 11h0m4-9h0m19 7h0m20-4h0m17-1h0m14 0h0m8 7h0m23-11h0m16 3h0m42 10h0m4-10h0m10 12h0m6-12h0m15 7h0m19-2h0m18-8h0m1 14h0m18 1h0m24 0h0m15-4h0m52-6h0m11 0h0m18-1h0m8 11h0m20-12h0m45 0h0m21 8h0m31-8h0m41 8h0m47-8h0m182 4h0m-198 20h0m-21 3h0m-15-4h0m-16 4h0m-3-12h0m-14 9h0m-17-1h0m-23 0h0m-37-7h0m-56 1h0m-19 9h0m-50-10h0m-4 10h0m-13-4h0m-20-3h0m-43-4h0m-53 13h0m-9-10h0m-9 5h0m-25 5h0m-60-10h0m-18-4h0m-17 0h0m-12 1h0m0 12h0m-10-12h0m-15 7h0m-14-3h0m-7 1h0m-8-4h0m-20 8h0m-11-8h0m-14 9h0m-4-12h0m18 21h0m14 6h0m15-11h0m6 11h0m12-7h0m13 9h0m15-2h0m10 0h0m10-11h0m13 4h0m11-3h0m11 14h0m5-9h0m10 1h0m28-6h0m32-1h0m10 7h0m80-4h0m8 6h0m8-9h0m8 9h0m17-8h0m21 9h0m69 3h0m17-10h0m30 3h0m28 7h0m50-9h0m17 1h0m9 8h0m47-1h0m17-5h0m14 0h0m109 0h0m-122 18h0m-10 3h0m-20-12h0m-19 0h0m-55 5h0m-10 4h0m-15-9h0m-5 9h0m-12 1h0m-12 3h0m-9-10h0m-29 7h0m-16 0h0m-65-9h0m-37 2h0m-10 7h0m-14 1h0m-21 3h0m-9-13h0m-14 1h0m-14 1h0m-15 9h0m-14-6h0m-12-4h0m-12 2h0m-11 11h0m-34-5h0m-8-6h0m-2 9h0m-3-11h0m-23 7h0m-8-7h0m-9 3h0m-5 9h0m-6-8h0m-14-2h0m-1 11h0m-11-1h0m-16-9h0m-8 7h0m-10-11h0m-4 2h0m-10 3h0m-13-3h0m-5 10h0m-25 18h0m3-7h0m16 2h0m15-6h0m15 5h0m7 5h0m11-4h0m9-4h0m2-4h0m5 12h0m12 0h0m16-3h0m12 4h0m9-15h0m4 10h0m9-3h0m16 0h0m17 6h0m1-3h0m8-5h0m19 0h0m6 6h0m15-3h0m1 3h0m20 0h0m8-8h0m9-3h0m3 6h0m5-1h0m5 4h0m15-3h0m10 4h0m20 3h0m10-7h0m7 8h0m7-9h0m22 2h0m10 7h0m20-12h0m15 6h0m20 5h0m26 2h0m14-4h0m16-4h0m13-2h0m27 0h0m28 4h0m13-5h0m40-4h0m12 6h0m19 4h0m21-4h0m9 8h0m7-8h0m13-3h0m9-3h0m2 12h0m33 3h0m76-7h0m-85 22h0m-4-14h0m-88 13h0m-7-9h0m-10 7h0m-19-1h0m-33-4h0m-39-6h0m0 10h0m-34 4h0m-8-11h0m-5-3h0m-10 4h0m-40 9h0m-11 0h0m-7-8h0m-19 1h0m-2 2h0m-21-3h0m-13 6h0m-19 1h0m-26 3h0m-9-11h0m-11-3h0m-9 9h0m-8-6h0m-15 9h0m-3-10h0m-8 11h0m-5-9h0m-3 3h0m-7 1h0m-14-6h0m-19-2h0m-9 14h0m-6-8h0m-5 5h0m-4-3h0m-5-5h0m-24 4h0m-9-6h0m-2 6h0m-5 0h0m-12 5h0m-8-9h0m0 4h0m-11-6h0m-15 12h0m-9-9h0m-5 9h0m-6-9h0m-10 3h0m-7-4h0m-8 3h0m-11-2h0m-2 2h0m-13 8h0m-4-12h0m-8 6h0m0 19h0m27-2h0m5-9h0m6 9h0m8-8h0m10 13h0m12-3h0m18-8h0m18 2h0m24 4h0m15-4h0m4 1h0m4-7h0m7 13h0m3-11h0m7 9h0m1-10h0m9 8h0m6 3h0m2-9h0m3 12h0m7-2h0m8-9h0m12-4h0m5 15h0m1-8h0m8-4h0m11 4h0m12 8h0m10-2h0m6 1h0m10-5h0m10 5h0m6-13h0m13 6h0m14 5h0m21-6h0m10 8h0m4-9h0m11 0h0m8 6h0m1-10h0m19 10h0m10 2h0m37-7h0m13-3h0m16-1h0m22 12h0m38-4h0m20 0h0m37 5h0m19-12h0m14 0h0m37-2h0m3 14h0m6-14h0m13 7h0m185-8h0m-29 30h0m-144 1h0m-9-5h0m-12-4h0m-31-6h0m-19 6h0m-10 7h0m-47-2h0m-16-7h0m-10 4h0m-13-5h0m-11 0h0m-6 9h0m-6-8h0m-18-4h0m-8 1h0m-14 11h0m-20 0h0m-17-4h0m-10 1h0m-21 3h0m-10-10h0m-6 4h0m-4 2h0m-11 3h0m-19 1h0m-5-9h0m-14 11h0m-11-4h0m-11-1h0m-19-6h0m-17 3h0m-23 5h0m-13-8h0m-9 10h0m-12-12h0m-8 9h0m-10 2h0m-18-5h0m-6 4h0m-5 3h0m-6-7h0m-8-4h0m-7 11h0m-7-13h0m-5 8h0m-8-1h0m-2-1h0m-11-5h0m-5 11h0m-17-12h0m-3 9h0m-6-5h0m-2-1h0m-6 9h0m-17-4h0m-9-6h0m-8 9h0m-16-6h0m-1 2h0m-2 4h0m-12-8h0m-3 18h0m7 8h0m4-13h0m13 3h0m5 9h0m10 2h0m9-6h0m14-2h0m14 5h0m5 0h0m18-6h0m10-6h0m4 1h0m14 11h0m4-1h0m6-7h0m4 4h0m12 4h0m4-6h0m10-2h0m1-4h0m9 1h0m3 10h0m6-1h0m1-1h0m18-1h0m10 5h0m10-3h0m12-1h0m17 4h0m2-10h0m14 3h0m8 9h0m14-12h0m12 12h0m8-6h0m11 5h0m16-7h0m14-1h0m9 7h0m0 0h0m10-10h0m6 10h0m5-6h0m0-4h0m12 8h0m13 4h0m1-10h0m3 7h0m19-7h0m13 9h0m1-10h0m16 6h0m11-2h0m11 0h0m8-8h0m15 11h0m15-3h0m9 1h0m5 5h0m24-7h0m2 7h0m20-1h0m13-12h0m14 7h0m33 1h0m14-5h0m25 5h0m11 6h0m56-7h0m23 6h0m10-11h0m151-1h0m85 8h0m106 16h0m-3-2h0m-5 6h0m-7-7h0m-10 0h0m-14-2h0m-7 9h0m-18-3h0m-11 2h0m-3-7h0m-30 2h0m-7 6h0m-6-7h0m-19 8h0m-44-6h0m-22-6h0m-11 10h0m-46-6h0m-10-1h0m-55-3h0m-3 12h0m-11-6h0m-24 4h0m-1-5h0m-36-2h0m-20 4h0m-22 4h0m-8-9h0m-10 10h0m-10-14h0m-9 7h0m-2-3h0m-9-1h0m-9 6h0m-7-8h0m-6 0h0m-18 13h0m-1-5h0m-17-10h0m-4 8h0m-2 2h0m-5-7h0m-7 10h0m-8-11h0m-3 11h0m-5-2h0m-5-1h0m-11 1h0m-6-5h0m-9 8h0m-2-10h0m-12 8h0m-5 3h0m0-6h0m-1 3h0m-11-8h0m-2 4h0m-9 6h0m-12 0h0m-1-4h0m-1-5h0m-14 9h0m-4-9h0m-2-1h0m-7-4h0m-3 15h0m-9-11h0m-1 6h0m-14-5h0m-1-5h0m-12 11h0m-7-6h0m-2-2h0m-9 11h0m-4 0h0m-15-9h0m-12 4h0m-1 6h0m-6-8h0m0 8h0m-16-10h0m-8 10h0m-11-10h0m-10 1h0m-1 9h0m-8-5h0m-8-9h0m-4 9h0m-1 5h0m-17-14h0m-6 13h0m-3-6h0m-5-6h0m-5 4h0m-2 5h0m-7 1h0m-5-8h0m-9 1h0m0-3h0m-7 8h0m-4-5h0m-6 4h0m-5-2h0m-8-6h0m-1 5h0m-1 7h0m-1-1h0m-3-11h0m-11 12h0m-11-7h0m-12-3h0m0 8h0m-3-7h0m-1-4h0m-8 15h0m-9-12h0m-1-3h0m-9 10h0m-1-5h0m-10 5h0m-18 0h0m-6-10h0m-5 15h0m-12-3h0m-11 1h0m-15-12h0m-4 13h0m-14-5h0m-3 0h0m-5 3h0m-1 3h0m-2-11h0m-8 16h0m3 10h0m22-6h0m2 2h0m2-3h0m23-1h0m15 5h0m14 3h0m15-4h0m6 2h0m8-7h0m10-4h0m9 8h0m10 3h0m7-7h0m4 9h0m9-10h0m4 9h0m0-13h0m11 6h0m3-5h0m2 5h0m9 9h0m1-5h0m7-7h0m13 7h0m7-7h0m11 2h0m10 2h0m9 2h0m3 2h0m11-8h0m2 7h0m4-10h0m11 2h0m7 7h0m13-7h0m5 9h0m7 2h0m4-3h0m16 1h0m3-11h0m1 3h0m2 1h0m7 2h0m2-6h0m14 3h0m9 2h0m2 7h0m6-9h0m3-3h0m5 2h0m4 3h0m15 7h0m4-10h0m8 1h0m1 3h0m0-1h0m12 7h0m0-8h0m14 4h0m10 0h0m5 0h0m14-3h0m1 1h0m3-5h0m8 11h0m2 2h0m10-4h0m7 4h0m1-14h0m0 11h0m4-1h0m2 1h0m10-7h0m1-3h0m6 7h0m1 6h0m1-2h0m0-5h0m0 8h0m6-5h0m2-8h0m18 11h0m10-6h0m9 3h0m5-2h0m5-4h0m4 3h0m3 4h0m3-8h0m9 6h0m4 0h0m6 2h0m3 3h0m0-12h0m6 4h0m9 2h0m0-5h0m7 8h0m4-6h0m4 9h0m4-4h0m2-9h0m2 2h0m10 8h0m7-11h0m0 15h0m1-1h0m10-14h0m3 11h0m9 3h0m16-10h0m0 11h0m10-4h0m12-11h0m2 12h0m9-5h0m11-5h0m21-2h0m1 6h0m0-3h0m24 7h0m12 3h0m2-12h0m21 12h0m13-12h0m16 2h0m2 2h0m9-3h0m5 13h0m21-15h0m8 9h0m55-4h0m20-2h0m14 9h0m22-3h0m20-9h0m12 1h0m12 2h0m15 1h0m5 9h0m20-11h0m281 1h0m-397 27h0m-21-14h0m-17 1h0m-27 1h0m-74 7h0m-18-2h0m-38-6h0m-17 6h0m-18 4h0m-14-7h0m-28 10h0m-15-5h0m-28 5h0m-10-11h0m-1-3h0m-11 14h0m-3-7h0m-3-6h0m-4 7h0m-11-1h0m-19 1h0m-16-8h0m-10 5h0m-9 4h0m-3-9h0m-9 8h0m-13 3h0m-10-9h0m-8 12h0m-2-11h0m-4-1h0m-5 0h0m-3 1h0m-3 4h0m-8 6h0m-6-12h0m-9 7h0m-12 2h0m0-10h0m-12 7h0m-10 5h0m-3-11h0m-9 3h0m-6 3h0m-5-2h0m-5 2h0m-9 4h0m-4-10h0m-5 8h0m-16-6h0m-1-2h0m-8 13h0m-7-12h0m-2 8h0m-4-9h0m-1 3h0m-1 9h0m-11-12h0m-2 0h0m0 3h0m-4 1h0m-3 5h0m-9 1h0m-2-1h0m-4-8h0m-6 10h0m-8-7h0m-5 2h0m-9 1h0m-2 1h0m-1 0h0m-2-4h0m-10 3h0m-4-6h0m-6 1h0m0 12h0m-12-14h0m-7 13h0m-7-11h0m-8 9h0m-9-6h0m-5-3h0m-6 2h0m-7 3h0m-4 7h0m-3-5h0m-3-6h0m-7 9h0m-4-8h0m-1-1h0m-10 2h0m-10-2h0m-7 6h0m-9 2h0m-1 3h0m-6-5h0m-2-3h0m-12-1h0m-1-2h0m0 0h0m-9 0h0m0 4h0m-14-5h0m-5 11h0m-6-9h0m-2 1h0m-17 0h0m-17 9h0m-4-9h0m-10-2h0m-4 6h0m-6-4h0m-2-2h0m-10 5h0m-22-9h0m0 20h0m12-4h0m9 11h0m12-8h0m15 7h0m25-9h0m7 11h0m0-3h0m5-8h0m18 12h0m7-13h0m6 10h0m4 4h0m1-13h0m12 4h0m9 5h0m12 3h0m7-12h0m1 8h0m7 5h0m0-9h0m5-1h0m10 11h0m2-2h0m5-13h0m11 8h0m15 2h0m6-2h0m13 2h0m11 3h0m9-6h0m11-6h0m1 12h0m1-10h0m7 0h0m11 10h0m14-2h0m7-7h0m11 5h0m9 3h0m13-9h0m28 7h0m11-5h0m4-5h0m11 5h0m9 8h0m11 0h0m3-12h0m19 14h0m0-10h0m2-3h0m14 7h0m2-6h0m17 4h0m11-5h0m20 8h0m2-9h0m8 7h0m13-7h0m13 4h0m17 7h0m11 3h0m5-15h0m1 2h0m4 13h0m2-14h0m10 9h0m11-9h0m15 0h0m12 10h0m17-2h0m25-7h0m42 0h0m12 1h0m68 5h0m54-7h0m934 7h0m-923 8h0m-111 14h0m-9-14h0m-14 8h0m-28-8h0m-22 2h0m-2 10h0m-10-11h0m-12 6h0m-17 1h0m-12-2h0m-13 7h0m-9-12h0m-31 9h0m-17 2h0m-14 3h0m-10-15h0m0 12h0m-17-4h0m-22 2h0m-17-1h0m-20-8h0m-18 7h0m-12-8h0m-2 12h0m-19-5h0m-5 5h0m-14-8h0m-16 5h0m0-2h0m-12 8h0m-4-10h0m-9-4h0m-11 9h0m-3-9h0m-9 3h0m-6-1h0m-14 3h0m-14 8h0m-5-11h0m-7 6h0m-8-7h0m-17 5h0m-14-4h0m-7 7h0m-14-8h0m-6 9h0m-5-9h0m-7 12h0m-15-8h0m-3-2h0m-9 4h0m-4 1h0m0-5h0m-14 1h0m-6 10h0m-3-6h0m-10 1h0m-11 1h0m-8 2h0m-6-2h0m-6-1h0m-5-10h0m-10 13h0m-8-6h0m-9-4h0m-3 11h0m-6-8h0m-20 2h0m-9 4h0m-11-6h0m-5 8h0m-13-1h0m18 9h0m7 7h0m23-3h0m5-8h0m1 4h0m1 7h0m7-6h0m12 3h0m1-8h0m14 6h0m24 1h0m4-5h0m4-4h0m1 2h0m11 1h0m0 2h0m5-1h0m3 9h0m3-11h0m10 3h0m11-5h0m2 5h0m12-1h0m2 10h0m3 1h0m3-12h0m9 8h0m10-3h0m0-5h0m14 4h0m12-4h0m11-1h0m3 11h0m12 0h0m11-2h0m9-5h0m2 9h0m13-8h0m16-1h0m17-4h0m5 8h0m9-10h0m14 9h0m9-9h0m2 10h0m8-8h0m8 8h0m5-5h0m14 3h0m11-7h0m21 3h0m12-3h0m13 3h0m8 8h0m2-11h0m8 3h0m7 8h0m11-4h0m6-7h0m11 5h0m13 1h0m22 5h0m18 1h0m10 1h0m16-2h0m45-2h0m10-1h0m24 1h0m15 0h0m12-8h0m13 6h0m13-1h0m12-6h0m10 5h0m150 1h0m-194 24h0m-9-13h0m-14 12h0m-50-4h0m-24 1h0m-20 2h0m-18-7h0m-19 1h0m-19 3h0m-9-5h0m-19 5h0m-19-1h0m-10-4h0m-9 6h0m-15-9h0m-17 10h0m-13-6h0m-16-1h0m-15 0h0m-10-5h0m-14 10h0m-14 4h0m-6-14h0m-14 12h0m-7-11h0m-13 7h0m-9 0h0m-13-1h0m-6-2h0m-9 10h0m-5-9h0m-18 4h0m-12-7h0m0 10h0m-12 1h0m-2-12h0m-15 2h0m-11 10h0m-2-10h0m-22-2h0m-7 8h0m0-8h0m-3-2h0m-3 11h0m-1-11h0m-5 1h0m-1 13h0m-7-5h0m-10-5h0m-3 10h0m0-1h0m-11 2h0m0-7h0m-3-7h0m-17 2h0m-10-1h0m-14 9h0m-9-10h0m-12 10h0m-19-11h0m-11 23h0m9 8h0m4-14h0m12 7h0m16-7h0m1 10h0m11-5h0m8 7h0m22-13h0m4 13h0m18-10h0m3 8h0m5-7h0m2 5h0m10-5h0m10 0h0m12 3h0m11-7h0m14 14h0m13-3h0m19 0h0m23-6h0m11 9h0m8-6h0m6-2h0m16-2h0m13 3h0m6-1h0m16-2h0m8 8h0m15-3h0m17 0h0m21 2h0m6-7h0m40 0h0m12 5h0m13-4h0m3 9h0m9-6h0m19-7h0m46 10h0m90-1h0m63 5h0m0-10h0m24-2h0m117 1h0m-97 26h0m-54-1h0m-12-8h0m-25-3h0m-13 9h0m-36-5h0m-25 8h0m-31-9h0m-4 9h0m-18-10h0m-18-3h0m-25 6h0m-16 2h0m-18 0h0m-32 6h0m0-14h0m-11 8h0m-21-7h0m-5 13h0m-10-13h0m-11 8h0m-20 2h0m-16-9h0m-10 11h0m-12 1h0m-20-10h0m-18 3h0m-14-4h0m-12 3h0m-28-7h0m-7 1h0m-5 0h0m-1 5h0m-5 9h0m-10-9h0m-35 5h0m-8-7h0m-3-3h0m-7 4h0m-20-3h0m-22-2h0m-10 5h0m-13 2h0m-10 3h0m-12 16h0m10 0h0m13-2h0m13 3h0m3-11h0m2 13h0m7-4h0m9 0h0m7-3h0m4 1h0m11-3h0m10-3h0m3 10h0m17 3h0m4 1h0m2-10h0m13 9h0m2-13h0m8 14h0m16-15h0m5 9h0m12 4h0m6-10h0m3 10h0m21 2h0m22-11h0m21 0h0m12-4h0m8 9h0m18 1h0m8-8h0m15 13h0m19-10h0m18 9h0m27-3h0m47-5h0m15-2h0m34 7h0m4-10h0m16 8h0m28-1h0m22 4h0m17-11h0m29 6h0m15 6h0m30-6h0m37-6h0m18 13h0m-6 13h0m-11-1h0m-68 2h0m-19-9h0m-20 10h0m-35-2h0m-15-11h0m-11 6h0m-66 9h0m-4-12h0m-23 10h0m-24-1h0m-7-7h0m-10 6h0m-10-11h0m-2 10h0m-18-1h0m-17-9h0m-25 14h0m-3-12h0m-13 6h0m-15 0h0m-34-1h0m-10 4h0m-29-2h0m-16 4h0m-20-12h0m-13 11h0m-9-6h0m-13-3h0m-7 8h0m-9-7h0m-12 0h0m-13 11h0m-13-13h0m-19 9h0m-8-7h0m-26 8h0m-11-2h0m23 9h0m29 9h0m11 2h0m35-8h0m13 7h0m17-3h0m11 2h0m22-12h0m4 10h0m10-2h0m23-4h0m10 10h0m14-5h0m8-5h0m13-1h0m18 3h0m11 0h0m46 3h0m10-6h0m18 0h0m6 9h0m15-6h0m12 2h0m16-5h0m15 9h0m10-4h0m14 4h0m46-7h0m11-5h0m12 13h0m5-10h0m21 4h0m30 5h0m12-11h0m5 10h0m30-7h0m10 0h0m8 9h0m23-7h0m22 4h0m18-7h0m103 9h0m-99 11h0m-9 6h0m-19 1h0m-28-12h0m-21 6h0m-19-4h0m-9 4h0m-16 3h0m-21-11h0m-42 9h0m-86-1h0m-11 1h0m-11-6h0m-16 10h0m-19-7h0m-20 0h0m-10-5h0m-31 8h0m-23 5h0m-7-11h0m-15 12h0m-7-8h0m-7-6h0m-11 1h0m-10 8h0m-11-3h0m-11 3h0m-9-8h0m-21 0h0m-27 5h0m-18 1h0m-16 2h0m-11-2h0m-13-7h0m-15 14h0m-10 0h0m-31-11h0m5 14h0m3 11h0m16 1h0m29-7h0m11-4h0m13 2h0m17-2h0m43-1h0m16-2h0m37 14h0m34-4h0m16 0h0m23-2h0m9-4h0m18-4h0m11 0h0m5 9h0m21-9h0m21 12h0m16-6h0m32-3h0m10 1h0m10 10h0m48 1h0m2-15h0m26 7h0m23 3h0m10-4h0m29-2h0m28-1h0m4 11h0m25-10h0m15 9h0m28-6h0m12-3h0m11 0h0m17 1h0m-50 23h0m-45 2h0m-76-12h0m-12 9h0m-12-4h0m-16-4h0m-47 2h0m-59 2h0m-20 1h0m-19-5h0m-8 8h0m-17-8h0m-26-1h0m-6 7h0m-7-9h0m-20 1h0m-11 4h0m-9 1h0m-13 8h0m-4-10h0m-21 8h0m-32-7h0m-7 8h0m-6-10h0m-11-2h0m-11 3h0m-17 5h0m-14-9h0m-11 12h0m-7-8h0m-19 1h0m-26 1h0m-9 21h0m6-8h0m30 1h0m17 8h0m28 0h0m22-1h0m10-9h0m13 5h0m8 8h0m7-7h0m7 7h0m6-13h0m13 12h0m21 0h0m38-6h0m8-6h0m45 4h0m19 4h0m40-10h0m1 10h0m10-10h0m58 4h0m16 6h0m42 0h0m11-4h0m38 7h0m12-1h0m18 2h0m19 0h0m9-6h0m24 0h0m8 6h0m50-10h0m-34 16h0m-24 5h0m-24 4h0m-24-6h0m-20 1h0m-14 3h0m-18-3h0m-13-8h0m-8 11h0m-17-9h0m-9-1h0m-10 3h0m-5 10h0m-11-2h0m-17 1h0m-24-7h0m-32-2h0m-9 8h0m-28 0h0m-29-3h0m-19-4h0m-9 4h0m-5-9h0m-19 6h0m-2 9h0m-11-8h0m-33 1h0m-11-3h0m-39 4h0m-19 2h0m-28 4h0m-12-4h0m-12 1h0m-12-3h0m-10-2h0m-12 0h0m9 11h0m8 7h0m29 4h0m29-10h0m18 7h0m19 5h0m3-9h0m43 9h0m4-11h0m29 3h0m33 3h0m19-5h0m3 10h0m13-2h0m37-3h0m58-3h0m18 3h0m17 2h0m26 2h0m16-8h0m21 8h0m28-9h0m21 2h0m25-2h0m41 10h0m11 1h0m-38 6h0m-9 4h0m-22-9h0m-14 5h0m-24-1h0m-27 0h0m-53 1h0m-16 0h0m-13 3h0m-19 2h0m-11-11h0m-10 11h0m-33-1h0m-30 5h0m-23 0h0m-6-10h0m-16 5h0m-3-10h0m-15 7h0m-24-2h0m-19 3h0m-11 5h0m-52 2h0m-5-15h0m-8 15h0m-18-7h0m-15-1h0m-9 6h0m-36-13h0m24 17h0m13 9h0m20 4h0m14-2h0m22-1h0m10 4h0m10-13h0m9 0h0m12 12h0m16-10h0m10 4h0m13-2h0m20-5h0m25 10h0m6-9h0m19 4h0m25-1h0m13 5h0m17-5h0m41 6h0m13-6h0m17-3h0m28 11h0m21-7h0m12-1h0m20 8h0m23 1h0m33-13h0m15-1h0m33 9h0m-17 21h0m-25-6h0m-28 6h0m-8-5h0m-44-8h0m-35 7h0m-27 6h0m-22-10h0m-34-1h0m-31 10h0m-34-1h0m-17 3h0m-3-9h0m-22 7h0m-10-9h0m-9 11h0m-20-10h0m-13 0h0m-11 8h0m-21-10h0m-6 11h0m-11 1h0m-22-15h0m-14 13h0m-11-5h0m-13-5h0m-13 0h0m10 22h0m19-2h0m8 7h0m17 0h0m8-9h0m106 9h0m83-5h0m12-8h0m42-1h0m7 10h0m67-10h0m17 4h0m75-4h0m6 10h0m9-4h0m26 9h0m21-8h0m-44 23h0m-7-8h0m-31 9h0m-4-9h0m-8-6h0m-38 8h0m-96 7h0m-16-5h0m0-10h0m-18 2h0m-26 0h0m-16-1h0m-22 6h0m-31 5h0m-13-6h0m-18 4h0m-60-5h0m-16 5h0m-52-9h0m34 22h0m32-4h0m29 5h0m7-8h0m18 10h0m54 1h0m8-11h0m36 0h0m42 15h0m19-1h0m21-6h0m19 6h0m11-5h0m21-8h0m16 5h0m10 7h0m110-1h0m4 14h0m-42 5h0m-14-12h0m-11 9h0m-16-11h0m-65 12h0m-7-7h0m-28 8h0m-10-10h0m-20 11h0m-45-10h0m-11-5h0m-27 2h0m-40 0h0m-21 0h0m-33-2h0m-26 4h0m-2 25h0m5-12h0m15 5h0m11 5h0m9-11h0m21 5h0m27-3h0m26-1h0m42 2h0m8 8h0m58-4h0m20 1h0m16-2h0m12 4h0m11-5h0m11 8h0m16-4h0m13-7h0m19 7h0m-48 19h0m-46-11h0m-16 7h0m-16 6h0m-19 0h0m-13-7h0m-9-5h0m-29 11h0m-16-6h0m-40-3h0m-15 11h0m-18-11h0m-19 2h0m-20-5h0m92 20h0m13-2h0m43-1h0m12 5h0m15 0h0m13-4h0m13 5h0m13 7h0m9-8h0m13 1h0m24 4h0m3-11h0m22 9h0m12 1h0m-4 10h0m-25 6h0m-49-2h0m-12 1h0m-9-4h0m-48 4h0m-18-5h0m-12-3h0m-17-1h0m-16 6h0m-8-5h0m-29-2h0m77 19h0m6 7h0m6-2h0m17 5h0m5-8h0m13 7h0m13 18h0"/></defs><g opacity="0.178"><use href="#l4" stroke="#00003c" stroke-width="11"/><use href="#l4" stroke="#0000ff" stroke-width="7"/></g><defs><path id="l5" d="M521 175h0m39-13h0m22 6h0m27-2h0m35 8h0m75 3h0m-1 13h0m-9-10h0m-41 0h0m-47-4h0m-25 4h0m-25-3h0m-18 1h0m-22 5h0m-45 15h0m87 0h0m65 5h0m5-10h0m15 1h0m19 10h0m14 0h0m5-8h0m18 8h0m18-11h0m8 11h0m39 17h0m-17-1h0m-29-3h0m-13 5h0m-17 0h0m-8-5h0m-31-9h0m-21 12h0m-13-12h0m-37 7h0m-18-1h0m-55-6h0m-22 7h0m-29 0h0m-23 16h0m27 1h0m8-7h0m10 7h0m37 6h0m37-11h0m10-3h0m12 12h0m34-3h0m29 4h0m7-9h0m7 9h0m6-11h0m12-2h0m0 15h0m48-3h0m36 0h0m-16 6h0m-121 11h0m-12 1h0m-17-10h0m-16 5h0m-13 3h0m-21-9h0m-25 5h0m-48-4h0m-14-1h0m-26-3h0m-2 10h0m-44 12h0m16-2h0m38 10h0m9-14h0m9 11h0m17-7h0m42 10h0m10-1h0m23 1h0m1-14h0m66 12h0m18-11h0m5 12h0m17 1h0m9-8h0m26 6h0m7-9h0m12-3h0m5 10h0m67-6h0m-18 18h0m-8-6h0m-12 7h0m-23 0h0m-15-2h0m-65 8h0m-15 0h0m-22-12h0m-16 7h0m-30 6h0m0-14h0m-22 13h0m-31-12h0m-44 11h0m-38-5h0m-9-7h0m-14 2h0m-55 29h0m4-13h0m17 10h0m13-6h0m13 2h0m11 0h0m15 4h0m50-1h0m21-5h0m13 8h0m10 1h0m18-9h0m20 4h0m11 5h0m19-7h0m14 2h0m20-3h0m54-4h0m39-3h0m6 8h0m14-4h0m19 2h0m3 3h0m9-3h0m22-3h0m25 4h0m8-6h0m26 16h0m-15 1h0m-13 4h0m-29 7h0m-7-12h0m-4 12h0m-15-6h0m-25-4h0m-18 0h0m-11 4h0m-19 3h0m-18 4h0m-1-13h0m-13 12h0m-6-8h0m-42-3h0m-6 10h0m-18-10h0m-20 10h0m-13-9h0m-10 6h0m-11 5h0m-8-6h0m-31 3h0m-25-4h0m-19 0h0m-39 3h0m-27 1h0m-21-9h0m-6 9h0m20 17h0m12 1h0m13-6h0m15-5h0m17-2h0m12 14h0m11-10h0m25 6h0m29-4h0m12 8h0m27-5h0m26-8h0m19 14h0m19-1h0m9-5h0m19-9h0m67 4h0m21 3h0m16-5h0m51 9h0m28-7h0m10 6h0m9-7h0m90 24h0m-76 1h0m-16-1h0m-19-11h0m-14 14h0m-22-12h0m-21 6h0m-31 1h0m-12-5h0m-5 10h0m-7-10h0m-32-4h0m0 12h0m-12-3h0m-19 6h0m-35-7h0m-30-8h0m-18 5h0m-12 3h0m-18-1h0m-25 2h0m-19-9h0m-13 11h0m-14-1h0m-40-1h0m-5-9h0m-12 14h0m-3-12h0m-53 0h0m-10 0h0m-5 13h0m-6-14h0m-15 10h0m-17 16h0m56 2h0m4-11h0m17 1h0m21-1h0m23 10h0m16-8h0m5 10h0m34 1h0m48-15h0m4 11h0m30-10h0m14 11h0m1-10h0m32 3h0m54 4h0m30 6h0m9-7h0m5-8h0m10 5h0m25 3h0m77 3h0m18-3h0m20 5h0m6 10h0m-14 5h0m-22-12h0m-21 15h0m-25-13h0m-25 13h0m-9-15h0m-5 13h0m-30-5h0m-43-8h0m-35 8h0m-2-5h0m-16 8h0m-25-5h0m-12 4h0m-13 4h0m-11-10h0m-9 8h0m-10-5h0m-14 0h0m-10-5h0m-13 5h0m-44 6h0m-14 1h0m-26-1h0m-14-13h0m-9 8h0m-11-6h0m-40 7h0m-9-7h0m-14 9h0m-20 4h0m-16 11h0m10 5h0m17-5h0m19-8h0m11 2h0m18 5h0m12-3h0m19 9h0m9-5h0m9-3h0m12 6h0m10-6h0m35 4h0m10-11h0m23 7h0m53-2h0m57-1h0m30 5h0m27 6h0m6-7h0m7-6h0m8 11h0m29-4h0m28-2h0m17 4h0m22-4h0m37-1h0m9-5h0m20 14h0m0-2h0m23-9h0m100-3h0m26 12h0m-97 10h0m-20-3h0m-63 0h0m-28 2h0m-11 8h0m-14-8h0m-14-1h0m-19 9h0m-7-9h0m-14 1h0m-46-5h0m-14 2h0m-23 1h0m-25-4h0m-34 10h0m-45-5h0m-21-4h0m-10 0h0m-10 7h0m-12-4h0m-23 4h0m-12-3h0m-20 4h0m-32 0h0m-12-8h0m-6 12h0m-15-10h0m-22 0h0m-18-3h0m-24 14h0m-9-11h0m-7 10h0m7 16h0m16 0h0m21-2h0m13-6h0m18-5h0m27 9h0m16-7h0m5 12h0m12-12h0m25 7h0m13 5h0m19-6h0m16 2h0m16-10h0m11 15h0m16-10h0m6 10h0m11-3h0m17-11h0m29 1h0m15-2h0m16 6h0m10 6h0m5-11h0m35 2h0m6 8h0m17-2h0m7-9h0m17 1h0m55 0h0m1 10h0m25-2h0m39-1h0m21 4h0m32-4h0m99 16h0m-89 5h0m-3-13h0m-46 15h0m-14-5h0m-26-6h0m-55 10h0m-19-14h0m-42 13h0m-1-9h0m-9 6h0m-16-4h0m-12 4h0m-57-1h0m-8-8h0m-11 11h0m-5-12h0m-10 4h0m-8 10h0m-9-9h0m-20 9h0m-38-13h0m-62 4h0m-15-2h0m0 10h0m-3-1h0m-9 2h0m-13-6h0m-10 1h0m-14-7h0m-9-2h0m-12 7h0m-11-4h0m-4 11h0m-3-4h0m-12 0h0m-20-1h0m-32-2h0m24 21h0m9-9h0m18 2h0m5 10h0m9-9h0m13 3h0m1-4h0m10 0h0m1 8h0m9-8h0m13 3h0m13-3h0m12 10h0m16-2h0m22-8h0m27-1h0m9-3h0m22 0h0m17 12h0m5-13h0m21 7h0m9 2h0m12 5h0m11-11h0m26 7h0m13 1h0m40-8h0m38 2h0m15 7h0m11-10h0m53 10h0m11-11h0m13 6h0m27 1h0m29 3h0m43 2h0m55 1h0m-17 7h0m-10-4h0m-38 12h0m-10-3h0m-25 5h0m-25-2h0m-56-1h0m-10-1h0m-40-10h0m-24 7h0m-22-2h0m-5 8h0m-35-6h0m-18 3h0m-9-6h0m-23 5h0m-5-10h0m-35 10h0m-18-4h0m-18 5h0m-9-3h0m-16-5h0m-10 1h0m-7 8h0m-15-2h0m-37-6h0m-13 6h0m-13 2h0m-26-7h0m-19 9h0m-7-9h0m-9 10h0m-3-13h0m-8 6h0m-13 6h0m-20-9h0m-5 10h0m-9-7h0m-10 2h0m-11 20h0m34-5h0m28-1h0m24 0h0m18-4h0m10 1h0m8-4h0m14 12h0m8-8h0m12 1h0m9 4h0m13-9h0m5 13h0m12-13h0m24 6h0m17 3h0m13-6h0m53 6h0m22-7h0m14 1h0m27 2h0m14 1h0m18-6h0m14-1h0m53 7h0m12-7h0m24 9h0m21 6h0m9-9h0m24-4h0m11 12h0m38 0h0m13-3h0m12-3h0m11 3h0m31-10h0m17 7h0m10 12h0m-11 11h0m-14-7h0m0-4h0m-53 4h0m-14 5h0m-13-6h0m-40 7h0m-19 0h0m-1-13h0m-23 4h0m-15-2h0m-21-2h0m-4 13h0m-10-3h0m-18 2h0m-26-3h0m-26-4h0m-37-6h0m-10 8h0m-36 4h0m-17-4h0m-14-6h0m-19 11h0m-11 2h0m-5-11h0m-26 6h0m-9-10h0m-8 14h0m-26-9h0m-2 10h0m-15-10h0m-6 2h0m-22-2h0m-4 10h0m-5-13h0m-3 8h0m-10 3h0m-3-12h0m-16 7h0m-14 7h0m-3-14h0m-14 10h0m-1-11h0m-12 3h0m-10 2h0m-9 1h0m-18 19h0m15-4h0m11-3h0m16 1h0m6 10h0m9-11h0m20 3h0m17 0h0m3 5h0m4 1h0m6-7h0m7 10h0m17-11h0m1 11h0m16 0h0m5-12h0m10 7h0m10 4h0m20-2h0m8-3h0m5 1h0m20 3h0m2-10h0m22 8h0m10-3h0m13 2h0m16-6h0m7 10h0m17-10h0m12 10h0m33-7h0m10 6h0m12-12h0m14 0h0m22 11h0m11-2h0m11 4h0m20-8h0m16 10h0m5-15h0m10 0h0m5 10h0m7-9h0m21 9h0m47-3h0m48 0h0m11-4h0m12 9h0m10-7h0m11 7h0m12-5h0m44 7h0m60 1h0m-73 9h0m-16-5h0m-74 8h0m-24-4h0m-25-2h0m-4 10h0m-13-1h0m-16-2h0m-17-6h0m-11-6h0m-13 5h0m-18 4h0m-11-5h0m-8 10h0m-23-8h0m-13 3h0m-11 1h0m-12-3h0m-21-2h0m-5 8h0m-21-13h0m-40 4h0m-8 5h0m-17-8h0m-3 10h0m-10-6h0m-16 0h0m-15 5h0m-4-9h0m-2 12h0m-10-7h0m-15-3h0m-10 10h0m-16-6h0m-8 5h0m-17-10h0m-11 10h0m-10-4h0m-10 2h0m-8-9h0m-2 14h0m-5-7h0m-10 6h0m-2-7h0m-12-4h0m-10 2h0m-10 8h0m-3-13h0m-9 11h0m-1-3h0m-16 2h0m-13 2h0m-7-10h0m-9 13h0m-11-10h0m3 20h0m3-1h0m29 0h0m9 7h0m14-7h0m2 3h0m24-8h0m22 7h0m25 4h0m4 0h0m2-8h0m22-4h0m16 5h0m10 7h0m0-1h0m2-11h0m8 12h0m10-1h0m11-12h0m2 14h0m8-10h0m11-2h0m1 8h0m19-6h0m1 10h0m8 0h0m9-7h0m20-5h0m2 10h0m11-11h0m14 7h0m11-6h0m15-2h0m1 11h0m1-4h0m11 3h0m4 0h0m7-4h0m16-1h0m8 9h0m7-13h0m14 7h0m10 6h0m1-10h0m14 6h0m5-10h0m20 12h0m25-9h0m22-3h0m11-1h0m13 10h0m28 0h0m54-1h0m13-9h0m14 1h0m12 0h0m9 5h0m9 5h0m25-4h0m22-1h0m27 7h0m43 0h0m74 3h0m-176 10h0m-9-2h0m-18 3h0m-11-4h0m-35 7h0m-6-12h0m-16-1h0m-17 1h0m-20 8h0m-9-7h0m-34 0h0m-27-3h0m-10 3h0m-19 3h0m-15 3h0m-14 1h0m-20 4h0m-7-9h0m-17 9h0m-3-14h0m-9 4h0m-12 5h0m-10 4h0m-20-12h0m-19 10h0m-3-11h0m-1 2h0m-11 5h0m-7-1h0m-2 9h0m-6-9h0m0-2h0m-12 9h0m-10 0h0m-20-8h0m-14 4h0m-17 1h0m-10-1h0m0-2h0m-13 3h0m-4 5h0m-2-4h0m-4-3h0m-17-5h0m-11-2h0m-3 13h0m-18-4h0m-5 4h0m-1 0h0m-2 0h0m-1-12h0m-16-1h0m-6 2h0m-1 12h0m-11-1h0m-1-12h0m-14 9h0m-9-7h0m-2 9h0m-9-4h0m-4-9h0m-12 3h0m-2-1h0m-2 11h0m-8-13h0m-15 2h0m-13 25h0m12 2h0m1-10h0m12 0h0m0 11h0m12-4h0m13-3h0m20-1h0m10 7h0m17-5h0m15-7h0m15 13h0m4-5h0m5 1h0m11 4h0m6-7h0m7 8h0m0 0h0m1 0h0m5-11h0m5 8h0m5 1h0m3-8h0m4 1h0m12 7h0m4-9h0m7 7h0m2 4h0m10-4h0m14-6h0m7 9h0m4-14h0m4 11h0m10-4h0m14 1h0m2-8h0m12 7h0m9 8h0m18-14h0m24 8h0m12 3h0m2-8h0m22-1h0m13 6h0m9 6h0m14-10h0m14 8h0m17-1h0m4-1h0m18-11h0m10 5h0m2 9h0m14-4h0m11-9h0m10 12h0m6-4h0m8-7h0m8 6h0m31 2h0m11-1h0m31-5h0m30 2h0m10-4h0m9 4h0m56 8h0m43-9h0m30-2h0m45 12h0m13-1h0m47-12h0m11 11h0m55-4h0m173 21h0m-12-8h0m-12-3h0m0 10h0m-13-6h0m-5 0h0m-14 2h0m-17 4h0m-10-2h0m-21 0h0m-12-1h0m-29 4h0m-10-1h0m-32-4h0m-6-8h0m-7 9h0m-12-7h0m-15 12h0m-31-14h0m-7 9h0m-9-7h0m-1 9h0m-25-3h0m-71 4h0m-33 1h0m-20-1h0m-18-1h0m-16-11h0m-1 12h0m-14 0h0m-10-3h0m-2-9h0m-4 13h0m-10-6h0m-5 5h0m-8-13h0m-3 4h0m-6 10h0m-2-6h0m-1-4h0m-12 6h0m-1 4h0m-5-5h0m0-3h0m-7-2h0m-1 10h0m-14-14h0m-3 5h0m-14 10h0m-1-10h0m-12 7h0m0-10h0m0-2h0m-10 2h0m-8 6h0m-9 7h0m-10-8h0m-11-4h0m-13 12h0m-10-8h0m-6 6h0m-2-13h0m-2 10h0m0 1h0m-12-8h0m-1 10h0m0-9h0m-2 0h0m-4-1h0m-4-1h0m-3 5h0m-4 2h0m-14-6h0m-1 9h0m-11-3h0m-10-6h0m-6 10h0m-1-1h0m-3 2h0m-3-12h0m-3 5h0m-4 1h0m-6 4h0m-2-6h0m-10-5h0m-6 12h0m-7-11h0m-4 7h0m-7 4h0m-4-4h0m-3-7h0m-2 10h0m-11 2h0m-10-2h0m-10-7h0m-3 9h0m-7-11h0m-4 4h0m-12-1h0m-15 9h0m-12-14h0m-7 8h0m-7 6h0m-2-2h0m-14-4h0m-6-4h0m-13-3h0m-16 8h0m-14 2h0m-3-7h0m-11 0h0m-18 5h0m-10-9h0m-11 9h0m-7-10h0m-16 8h0m-7-8h0m-2 14h0m-3-2h0m-15-3h0m-10 3h0m-7-1h0m-17 1h0m-13 0h0m-8-8h0m-1 11h0m12 7h0m15 3h0m21-9h0m14 5h0m8 7h0m4-1h0m1-11h0m12 1h0m2 10h0m21-7h0m12 7h0m1-4h0m1 0h0m1-5h0m6-1h0m4 12h0m1-4h0m4-5h0m0 6h0m10-3h0m1-2h0m11 8h0m7-10h0m3 12h0m10-15h0m3 11h0m1-2h0m1 0h0m5-7h0m10-1h0m3 5h0m18 8h0m8-2h0m2-3h0m9-5h0m2 5h0m16 5h0m3-2h0m1-11h0m2 7h0m3 1h0m1 5h0m13-10h0m1-2h0m0 12h0m22-6h0m3 7h0m7-7h0m6-5h0m8 6h0m4-8h0m6-1h0m3 9h0m17-4h0m5 8h0m1-4h0m1-9h0m3 15h0m9-9h0m0-1h0m10 3h0m8-7h0m0 7h0m1-6h0m0 9h0m13 4h0m6-3h0m4-6h0m9-3h0m2 10h0m8-4h0m0-4h0m1 9h0m2-7h0m11 2h0m6-1h0m2 0h0m5-5h0m16 5h0m10 6h0m4-12h0m6 6h0m1 6h0m1-5h0m1-1h0m12 4h0m4 1h0m1-10h0m5 6h0m14 3h0m5-9h0m8-1h0m8-1h0m9 5h0m10-4h0m5 10h0m3-3h0m15 1h0m11 1h0m9-9h0m2 7h0m4 5h0m3-8h0m1 7h0m4-10h0m8 1h0m11 5h0m11 1h0m5-2h0m8 5h0m4-10h0m16 3h0m23 3h0m15 1h0m9-3h0m13 4h0m20-3h0m7-8h0m9 9h0m6-9h0m5 15h0m16-5h0m17-2h0m15-2h0m19-6h0m18 3h0m45 9h0m9-8h0m21 0h0m30-2h0m14 1h0m22 5h0m13-4h0m9 6h0m17-2h0m23-3h0m563 4h0m-697 7h0m-49 2h0m-1 12h0m-41-12h0m-35 4h0m-10-1h0m-25 7h0m-34-5h0m-14 8h0m-23-8h0m-3 8h0m-9-12h0m-6 7h0m-8-10h0m-17 11h0m-5-11h0m-1 3h0m-3 2h0m-18 3h0m-2-3h0m-7-4h0m-6 13h0m-2-13h0m-4-1h0m-5 4h0m-8-2h0m-10 7h0m-12-7h0m-12 10h0m-2-4h0m-12-6h0m-2 8h0m-1-1h0m-4 0h0m-7-8h0m-6 8h0m-2 6h0m-3 0h0m0-13h0m-3 0h0m-9 5h0m-14-2h0m-7 9h0m-6-5h0m0 2h0m0-7h0m-6-3h0m-5 9h0m-9-3h0m-4 0h0m-6-7h0m-6 4h0m0 10h0m-8-14h0m-6 12h0m-5 1h0m-6 0h0m-3-6h0m-5 0h0m-8 6h0m-10-1h0m-4-11h0m-9 0h0m-4 12h0m0-10h0m-2 1h0m-7-4h0m-1 2h0m-10-1h0m-13 7h0m-1 0h0m-19-2h0m-9 4h0m-13-4h0m-12-2h0m-11-2h0m-2-2h0m-7 11h0m-5-8h0m0 2h0m-3-1h0m-2 11h0m-1-11h0m-12 11h0m-12-1h0m-8-5h0m-21 0h0m-22 1h0m-5-8h0m-2 12h0m-2-9h0m-10-2h0m0 0h0m-1 10h0m-9-3h0m-4-4h0m-5-1h0m-5 4h0m-1-7h0m-9 9h0m-3-11h0m-8 2h0m-3 6h0m-7-8h0m0 1h0m-1 14h0m-3-8h0m-8 4h0m-3 0h0m-9 2h0m-2-13h0m-10 5h0m-7 8h0m-3-3h0m-1-7h0m-20 0h0m-12 0h0m-11 2h0m0 9h0m-10-1h0m-5-10h0m-10 5h0m-9-8h0m-12 2h0m-2 18h0m17 1h0m11-4h0m13 11h0m30-11h0m11 9h0m12 4h0m7-6h0m10 5h0m0-6h0m5 7h0m15-12h0m3 6h0m6 2h0m2-8h0m4 9h0m9-7h0m15 1h0m9 8h0m1-5h0m2-4h0m5-1h0m9 7h0m14 3h0m9-6h0m4-1h0m4-4h0m7 11h0m12-13h0m1 14h0m6-7h0m12 2h0m18-1h0m9-8h0m3 12h0m3-11h0m3 3h0m4-2h0m2 2h0m15-4h0m7 9h0m9 6h0m4-1h0m4-13h0m1 0h0m12 2h0m6 9h0m10 1h0m2-12h0m5 14h0m6-11h0m18-1h0m9 12h0m5-5h0m15 2h0m9-9h0m3-1h0m7 5h0m10-3h0m1 9h0m14-1h0m2 3h0m2-14h0m7 0h0m15 7h0m10-1h0m10-3h0m2-2h0m13 6h0m4-5h0m9 7h0m2-8h0m24 6h0m11-2h0m10-5h0m21 5h0m9 5h0m26-5h0m13-4h0m28 6h0m62-7h0m43 6h0m89-4h0m886 2h0m-1005 23h0m-23-3h0m-12-2h0m-21-4h0m-35-2h0m-41 3h0m-17 0h0m-14 8h0m-16-2h0m-7-8h0m-12 3h0m-18 0h0m-21 0h0m-21 1h0m-16 9h0m-8-6h0m-15 0h0m-15-3h0m-10 4h0m-6-9h0m-15 13h0m-8-10h0m-11 6h0m-11 0h0m-19 1h0m-12 0h0m-14 1h0m-2-11h0m-19 14h0m-9-14h0m-6 10h0m-14-9h0m-4 10h0m-12-3h0m-6-7h0m-8 9h0m-14-9h0m-19 3h0m-18 1h0m-6 6h0m-3-6h0m-3-3h0m-12 6h0m-6 0h0m-20 5h0m-2-3h0m-1-3h0m0-3h0m-2 9h0m-16-11h0m-24 5h0m-4-8h0m-6 9h0m-8-7h0m-1 6h0m-9-3h0m-8 7h0m-16 2h0m-12 1h0m0-10h0m-25 8h0m-12-1h0m-10 0h0m-11 0h0m-5-12h0m10 23h0m15 7h0m26-3h0m2-10h0m9 10h0m5 0h0m25 3h0m4-10h0m13-2h0m8 8h0m12-8h0m11 2h0m1-3h0m9 10h0m1-11h0m9 3h0m1-3h0m2 8h0m12 6h0m7 0h0m2-14h0m7 10h0m17-5h0m1 8h0m3-4h0m10 1h0m6-8h0m12 12h0m9-2h0m0-12h0m10 5h0m10 2h0m7 8h0m7-10h0m11 2h0m14-5h0m20 8h0m4-9h0m5 0h0m5 3h0m23 8h0m19-6h0m29 9h0m10-5h0m12-4h0m22 7h0m14-8h0m22 6h0m1-4h0m14-7h0m22 14h0m2-9h0m26-4h0m8 5h0m10 1h0m32 8h0m10-12h0m12 9h0m38-6h0m20 0h0m12 7h0m36 0h0m115-8h0m-131 25h0m-53-4h0m-36 1h0m-25-2h0m-23-6h0m-4 10h0m-59-2h0m-15-7h0m-13 6h0m-17-5h0m-12 7h0m-23-11h0m-6 12h0m-6-7h0m-12 3h0m-16-9h0m-11 8h0m-13-2h0m-26 0h0m-9 6h0m-7-8h0m-11-2h0m-10 9h0m-3-10h0m-16 11h0m-3-10h0m-20 8h0m-10-4h0m-13 9h0m-3-13h0m-16-1h0m-13 5h0m-17 2h0m-9-4h0m-21 10h0m-8-9h0m-2 0h0m-3 10h0m-3-2h0m-12-12h0m-11-1h0m-5 10h0m-15-7h0m-3 5h0m-34-4h0m-5 10h0m-9-11h0m-11 9h0m-11-5h0m-29-1h0m16 11h0m9 5h0m21-3h0m4 3h0m22 2h0m11 7h0m0-15h0m9 12h0m5-11h0m11 11h0m16-4h0m6-8h0m11 6h0m11 1h0m10 1h0m16-7h0m14 8h0m13-6h0m11 7h0m15-7h0m12 12h0m14-14h0m14 0h0m5 7h0m26 0h0m18-7h0m1 10h0m1-2h0m0 6h0m6-9h0m24 6h0m0-11h0m26 12h0m10-10h0m22 5h0m14 1h0m13 2h0m20-4h0m19-7h0m10 6h0m12-3h0m2 11h0m40-1h0m21-7h0m15 5h0m10-8h0m15 12h0m18-8h0m10-3h0m14 9h0m46-3h0m10-5h0m18 1h0m114 7h0m-135 7h0m-18 6h0m-16 2h0m0-12h0m-38 9h0m-8-5h0m-28 6h0m-15 5h0m-24-14h0m-15 11h0m-10-4h0m-63-5h0m-8 8h0m-8-5h0m-19 0h0m-23-6h0m-15 0h0m-44 3h0m-29 5h0m-9-6h0m-8 5h0m-8 7h0m-5-14h0m-6 8h0m-9-8h0m-32 9h0m-17-3h0m-12 6h0m-17-12h0m-9 12h0m-13-12h0m-3 13h0m-11 0h0m-4-9h0m-9 3h0m-16-3h0m-10 9h0m-2-5h0m-5-1h0m-2 7h0m-14-4h0m-3-3h0m-9 5h0m-16-1h0m-7-8h0m-6-3h0m-6 13h0m-5-11h0m-2 1h0m-22-3h0m3 21h0m9 9h0m6-14h0m4 11h0m18-9h0m9 9h0m9-3h0m17-1h0m16 8h0m0-11h0m17 3h0m13-2h0m9-2h0m15 9h0m17-5h0m12 3h0m9-9h0m2 9h0m18 3h0m4-12h0m20 0h0m18 0h0m6 10h0m10-7h0m6 0h0m1 0h0m9 7h0m17-3h0m15-2h0m17 1h0m15-7h0m8 8h0m23-6h0m11 2h0m3 10h0m10-5h0m44-7h0m29 1h0m24 4h0m5 8h0m45-8h0m18 8h0m11-10h0m9-5h0m19 6h0m25 2h0m10 2h0m12-2h0m28-6h0m36 3h0m61 22h0m-29-3h0m-17-4h0m-10-2h0m-9 13h0m-19-14h0m-19 3h0m-14 8h0m-35-9h0m-14 0h0m-13 5h0m-19 3h0m-13 2h0m-16-2h0m-13-6h0m-12-1h0m-43 8h0m-23-11h0m-30 10h0m-19-4h0m-20 4h0m-12-9h0m-10 7h0m-8-9h0m-36 0h0m-16 0h0m-16 5h0m-19 2h0m-11-4h0m-12 12h0m-11-11h0m-16 10h0m0-12h0m-23 8h0m-13 5h0m-8-3h0m-6-11h0m-9 1h0m-2 0h0m-10 5h0m-11-6h0m-5 10h0m0-5h0m-16-2h0m-3 0h0m-3 9h0m-9-13h0m-1 10h0m-7-6h0m-2 4h0m-11 2h0m-10-1h0m-13-6h0m-1 7h0m-17-9h0m-7 9h0m-9-3h0m4 13h0m10 9h0m15-7h0m9 3h0m11 2h0m23-2h0m24 6h0m13-2h0m9-7h0m19-1h0m8 8h0m36-2h0m15-2h0m53-3h0m7 7h0m14-10h0m18 1h0m12-2h0m6 11h0m8-7h0m11 7h0m1-9h0m22 7h0m31-4h0m28 2h0m10-9h0m16 15h0m48-12h0m11 7h0m10 0h0m19-3h0m19 0h0m11 6h0m12 0h0m7-10h0m10 0h0m24 7h0m12-1h0m13-3h0m35 5h0m9 10h0m-32 4h0m-29-6h0m-16 3h0m-8 6h0m-29 1h0m-21-9h0m-11 1h0m-30 3h0m-21-4h0m-10-2h0m-15 13h0m-47-7h0m-10 2h0m-12 3h0m-51-1h0m-24-1h0m-9-8h0m-21 3h0m-7 8h0m-25-11h0m-10 9h0m-15-8h0m-10-3h0m-13 3h0m-15 3h0m-9 0h0m-17-4h0m-23 7h0m-5-8h0m-6 1h0m-11 4h0m-10 6h0m-13-6h0m-31 7h0m-12-11h0m-9 10h0m-27 9h0m19 1h0m19-6h0m7 8h0m13-8h0m3 14h0m20-5h0m19-7h0m14-2h0m18 10h0m72 0h0m10-5h0m5 9h0m10-8h0m17-3h0m12 5h0m45 2h0m18-4h0m43-1h0m43 7h0m4-11h0m8 12h0m49-12h0m18 2h0m36 3h0m16 7h0m23-4h0m74 2h0m11-8h0m39 5h0m-49 19h0m-13 2h0m-25-6h0m-24-8h0m-47 5h0m-8 6h0m-14-10h0m-9 5h0m-17 1h0m-97 5h0m-13 3h0m-15-9h0m-20-3h0m-47 0h0m-3 10h0m-12-7h0m-31-3h0m-16 6h0m-14 0h0m-29-3h0m-14-4h0m-6 12h0m-4-9h0m-23 0h0m-51 3h0m-9-5h0m-13 7h0m-30-8h0m-18 0h0m18 14h0m10 10h0m14-1h0m10-4h0m17 1h0m30 7h0m18-1h0m12-10h0m42 5h0m11-3h0m12 1h0m26 2h0m17 0h0m17-3h0m8 7h0m24-8h0m21 5h0m11-8h0m25 6h0m38 0h0m43 0h0m21 8h0m17-5h0m16-4h0m14-2h0m12 9h0m15-12h0m11 10h0m16-10h0m40 3h0m12 4h0m19 7h0m23 11h0m-7-6h0m-51 12h0m-23-7h0m-13 0h0m-25 2h0m-21-1h0m-8-7h0m-23 1h0m-11 2h0m-9 8h0m-18-10h0m-27-1h0m-16 1h0m-18 6h0m-21 1h0m-15 0h0m-20-5h0m-13 3h0m-12 4h0m-6-9h0m-18 2h0m-18 6h0m-9-10h0m-20 7h0m-11 5h0m-6-9h0m-13 0h0m-16 8h0m-15-7h0m-8 9h0m-13-13h0m-16 7h0m-33-3h0m-23-1h0m-3 10h0m-9-9h0m-12 6h0m-17-5h0m3 22h0m10-3h0m14 3h0m32-10h0m9 1h0m27 0h0m43 4h0m29-7h0m10 8h0m26 4h0m15 2h0m19-11h0m33 4h0m51 2h0m17-9h0m11 10h0m23 4h0m7-8h0m14-4h0m7 13h0m4-9h0m18 0h0m17 7h0m5-11h0m14 2h0m3 11h0m13-10h0m15-2h0m12 10h0m50-5h0m32-8h0m2 9h0m40 4h0m-27 5h0m-36 12h0m-19-14h0m-15 11h0m-1-10h0m-36 4h0m-22 9h0m-44-2h0m-35-5h0m-10 3h0m-13-2h0m-22 0h0m-35-7h0m-50 11h0m-12-7h0m-20 1h0m-9 9h0m-7-7h0m-10-1h0m-15-7h0m-8 12h0m-26-12h0m-42 5h0m-36 8h0m-9-8h0m-10 1h0m-23 13h0m10-2h0m4 9h0m4 3h0m11 0h0m18 0h0m9-12h0m11 4h0m26-4h0m13 3h0m8 8h0m16-12h0m38 14h0m11-8h0m17-4h0m17-1h0m4 9h0m19 0h0m25-4h0m18-6h0m4 9h0m36 2h0m21-9h0m20 6h0m17 6h0m3-10h0m43 10h0m61-8h0m28-3h0m4 26h0m-22-5h0m-13-4h0m-17 8h0m-1-9h0m-27-1h0m0 12h0m-22-8h0m-13 8h0m-22-4h0m-18-1h0m-9-9h0m-11 8h0m-13-7h0m-32 7h0m-25 7h0m-2 0h0m-7-15h0m-52 12h0m-12 2h0m-17-7h0m-34-5h0m-25 3h0m-14 5h0m-8-6h0m-9 7h0m-17-9h0m0 13h0m-45 0h0m-6 10h0m22-1h0m4 5h0m9 1h0m1-13h0m45 13h0m74 1h0m5-11h0m36-2h0m64-1h0m20 4h0m8 6h0m9 4h0m10-14h0m1 11h0m15-10h0m14 1h0m31 3h0m91 2h0m25 6h0m36-8h0m-9 25h0m-33-2h0m-14-11h0m-18 8h0m-16-10h0m-27 5h0m-31 1h0m-10 2h0m-11 4h0m-21-5h0m-40-2h0m-8 10h0m-10-6h0m-13-3h0m-33 5h0m-10-11h0m-21 8h0m-52-3h0m-8 5h0m-17-7h0m-43 9h0m-31 8h0m27 3h0m17 6h0m20-9h0m10 11h0m2-14h0m29-1h0m9 13h0m9-4h0m7-7h0m14 3h0m19 6h0m29-10h0m12 3h0m40 9h0m7-12h0m18 7h0m100 2h0m7 5h0m24-4h0m16-10h0m19 20h0m-12 0h0m-29 0h0m-25 3h0m-19-8h0m-28 12h0m-30-4h0m-26 0h0m-23 6h0m-9-11h0m-12-3h0m-14 12h0m-12-1h0m-42 3h0m-1-12h0m-62 5h0m-19 1h0m-16-1h0m-21 13h0m13 1h0m18 0h0m32-3h0m11 6h0m20-6h0m66 13h0m15-6h0m50 6h0m14 0h0m19-8h0m12 6h0m13 2h0m10-3h0m18-9h0m0 11h0m13-2h0m17-10h0m18 8h0m35-6h0m-57 26h0m-35-11h0m-7 9h0m-10-1h0m-84-9h0m-18-2h0m-31 7h0m-23 4h0m-20-10h0m-5 14h0m-16 0h0m-26-13h0m-7 13h0m-15-6h0m37 8h0m30 10h0m10-11h0m5 10h0m31-9h0m23 1h0m10 0h0m11 12h0m23-14h0m11 12h0m28-7h0m35 3h0m10 6h0m-45 7h0m-34 2h0m-24 1h0m-71 0h0m-13 2h0m35 7h0m10 10h0m9-5h0m40 4h0m6-10h0m28 3h0m-13 16h0m-20 2h0"/></defs><g opacity="0.178"><use href="#l5" stroke="#00003c" stroke-width="11"/><use href="#l5" stroke="#0000ff" stroke-width="7"/></g><defs><path id="l6" d="M644 150h0m-47 7h0m-65 17h0m10-3h0m25-8h0m29 8h0m12-6h0m23-4h0m19 11h0m63 8h0m-14 9h0m-87-8h0m-17 3h0m-49-3h0m-60 26h0m7-7h0m18-6h0m52 9h0m9-11h0m32 2h0m10 0h0m11 13h0m17-9h0m13 4h0m11-3h0m12 7h0m41-1h0m4-13h0m27 19h0m-46 5h0m-11-3h0m-21 7h0m-26-6h0m-40-4h0m-14 10h0m-19-1h0m-82 0h0m-16-1h0m-10 18h0m8-8h0m38-1h0m15 11h0m0-13h0m10 8h0m108-1h0m49 3h0m8-10h0m31 1h0m54 26h0m-63 3h0m-2-15h0m-56 3h0m-10-2h0m-15 10h0m-17-3h0m-11-1h0m-25 1h0m-9 6h0m-3-9h0m-7 10h0m-17-4h0m-31 3h0m-45-12h0m-4 9h0m-31-11h0m-9 6h0m-26 4h0m-9 19h0m9 0h0m21-9h0m12 1h0m46-3h0m25 8h0m25-4h0m11 7h0m80-1h0m7-9h0m9 6h0m30-3h0m23-6h0m11 0h0m9 14h0m12-2h0m33-5h0m21 1h0m33 5h0m-23 9h0m-36 6h0m-24-2h0m-32-8h0m-20 12h0m-11-13h0m-34 1h0m-41 5h0m-21-4h0m-8 10h0m-18-2h0m-25-8h0m-9 5h0m-9 1h0m-60-7h0m-20 9h0m-2-10h0m-13 6h0m-34 7h0m-17 14h0m49-5h0m10 4h0m30-11h0m22 15h0m25-13h0m26 3h0m80 5h0m13 2h0m24-12h0m10 10h0m18 0h0m47-5h0m8 8h0m17 0h0m27 1h0m13-6h0m17 4h0m9-6h0m29 22h0m-7-9h0m-19 2h0m-14 10h0m-18-7h0m-16 7h0m-13-3h0m-10-1h0m-9 2h0m-20-13h0m-9 9h0m-13 0h0m-9-8h0m-11 3h0m-11-2h0m-5 11h0m-22-11h0m-39 12h0m-2-14h0m-13 0h0m-10 2h0m-14 6h0m-19-2h0m-10 9h0m-8-8h0m-30 7h0m-11-3h0m-13 2h0m-11-9h0m-6-2h0m-22 5h0m-12 3h0m-20-8h0m-14-1h0m-8 9h0m-23 4h0m-17 3h0m23 9h0m18 0h0m14 1h0m15 3h0m3-13h0m30 2h0m18 5h0m28 2h0m17-8h0m11 1h0m17 7h0m21-3h0m16-5h0m15 2h0m31 0h0m24 9h0m3-12h0m11 1h0m19 9h0m13-10h0m9 11h0m31-11h0m171 17h0m-39 10h0m-7-12h0m-24 3h0m-21-2h0m-6 7h0m-13 1h0m-12-3h0m-35-2h0m-14 9h0m-3-1h0m-25-7h0m-10 10h0m-24-11h0m-28 11h0m-9-15h0m-16 1h0m-5 9h0m-17-2h0m-8-6h0m-9 11h0m-3-13h0m-15 3h0m-3 9h0m-14-8h0m-9 0h0m-29-1h0m-1 3h0m-16 2h0m-14-3h0m-32-3h0m-3 10h0m-14-3h0m-58-4h0m-9 6h0m-22 15h0m35-3h0m8 8h0m14 0h0m11-10h0m15-3h0m33 11h0m7-12h0m25 1h0m9 7h0m12-8h0m13 7h0m24-5h0m19 8h0m12-3h0m23-5h0m41 6h0m51 1h0m14 1h0m4-9h0m11 13h0m17-6h0m15-4h0m12-1h0m32 3h0m16-4h0m4 12h0m33-15h0m13 14h0m24-8h0m19 18h0m-26 0h0m-29-8h0m-13 2h0m-33 12h0m-10 0h0m-34-14h0m-24 12h0m-24-6h0m-12 7h0m-42-1h0m-2-11h0m-24 0h0m0 11h0m-16-12h0m0 11h0m-19-6h0m-15 2h0m-14 4h0m-17 4h0m-17-7h0m-21 3h0m-19-6h0m-31 2h0m-8 8h0m-14-15h0m-19 5h0m-8 8h0m-20-4h0m-29-6h0m-13 0h0m-10 11h0m-12-9h0m-18 5h0m10 11h0m8 5h0m10-2h0m9 7h0m2-12h0m18-3h0m15 9h0m17-2h0m33-1h0m31-6h0m9 8h0m17 6h0m29 1h0m2-9h0m14 9h0m13-6h0m10-8h0m5 10h0m14-3h0m34 2h0m32-7h0m23 11h0m9-4h0m52-1h0m14-5h0m39-2h0m11 10h0m14 2h0m53-5h0m14-7h0m17-1h0m11 2h0m5 28h0m-15-14h0m-16 9h0m-9-5h0m-30-5h0m-16 2h0m-22 5h0m-19-1h0m-68-5h0m-12 0h0m-32 14h0m-9-12h0m-5 12h0m-12-11h0m-24 10h0m-10-9h0m-31 10h0m-19-2h0m-34-1h0m-19-7h0m-24 10h0m0-10h0m-18-3h0m-14-2h0m-20 1h0m-5 13h0m-27-9h0m-38 9h0m-12-4h0m-15-1h0m-12-6h0m-12-1h0m-12-1h0m-2 19h0m10 2h0m8 7h0m28-5h0m17 5h0m19-9h0m9 6h0m3-10h0m5 15h0m6-14h0m12 4h0m26 5h0m4-9h0m16 10h0m55-5h0m9 6h0m15 0h0m36 3h0m22-7h0m7 7h0m10-2h0m17-8h0m44 7h0m14-1h0m15-5h0m11-6h0m24 1h0m8 9h0m9-7h0m25 9h0m8-8h0m8 10h0m12-12h0m5 13h0m57-6h0m12-3h0m36-3h0m26 16h0m-16 6h0m-12-3h0m-16 2h0m-7-8h0m-7 12h0m-99-1h0m-42 0h0m-17 3h0m-4-13h0m-22 2h0m-15 12h0m-5-9h0m-15 1h0m-14-4h0m-29 7h0m-13-1h0m-18-3h0m-8 5h0m-19-2h0m-6-8h0m-10 9h0m-12 5h0m-31-11h0m-10 2h0m-50 0h0m-26 0h0m-12 7h0m0-12h0m-28 3h0m-12-2h0m-11 10h0m-12-8h0m-10 6h0m-8-7h0m-39 2h0m-12 7h0m27 7h0m13 10h0m1-12h0m11 2h0m9 6h0m8-8h0m16 1h0m4 4h0m10-3h0m4 9h0m6-10h0m7 11h0m4-10h0m6 1h0m25 2h0m6 8h0m13-14h0m4 13h0m21 2h0m7-11h0m26 0h0m46 7h0m10-4h0m16-2h0m16 8h0m18-8h0m49 4h0m14-7h0m2 10h0m28-9h0m9-3h0m52 12h0m21-3h0m19-6h0m18 5h0m32-7h0m8 13h0m35 1h0m4-12h0m10-1h0m38 10h0m144-6h0m80 18h0m-102-4h0m-38-3h0m-113 13h0m-12-2h0m-18-1h0m-17-6h0m-42 5h0m-13-9h0m-54 8h0m-51-8h0m-16 13h0m-12-1h0m-19 2h0m-25-14h0m-9 7h0m-16-3h0m-3-2h0m-14 3h0m-42 7h0m-9 1h0m-11-6h0m-23-5h0m-10 2h0m-44 10h0m-40-11h0m-16-3h0m-2 11h0m-27-5h0m-8-7h0m-8 12h0m-5-12h0m-12 5h0m-18-1h0m0 11h0m-5-8h0m-1 7h0m-10-8h0m-8-6h0m-19 4h0m-13 11h0m-3-8h0m-2 19h0m11-3h0m16-7h0m15 9h0m3 2h0m14 4h0m10-5h0m11 0h0m7-8h0m14 8h0m27-10h0m62 8h0m13 2h0m11-2h0m8-7h0m14 6h0m42 8h0m18-3h0m11-12h0m12 9h0m15-9h0m13 4h0m11 9h0m1-10h0m15 5h0m43 3h0m137-2h0m22-6h0m12 10h0m15-8h0m18 0h0m16 6h0m22-1h0m29-3h0m49 4h0m74-9h0m-122 15h0m0 14h0m-23-4h0m-40-11h0m-6 13h0m-9-4h0m-9-6h0m-26-2h0m-65-1h0m-15 10h0m-3-10h0m-30 4h0m-57 2h0m-8 8h0m-7-10h0m-11-4h0m-4 12h0m-16 2h0m-14 1h0m-12-2h0m-8-6h0m-15 0h0m-8 8h0m-13-9h0m-19 0h0m-16 5h0m-4-9h0m-23 1h0m-13 8h0m-12-1h0m-10 0h0m-18 5h0m-10-13h0m-12 4h0m-7-1h0m-6 10h0m-3-13h0m-21 12h0m-10-3h0m-10 1h0m-6-10h0m-15 5h0m-16 5h0m-3-4h0m-15 3h0m-4-10h0m-11-1h0m-13 11h0m-12-2h0m-11 22h0m8-11h0m12 11h0m8-10h0m10-5h0m10 14h0m8-6h0m4-7h0m8 5h0m2 5h0m8-5h0m2 4h0m1 1h0m4-9h0m10 0h0m2 9h0m1 4h0m9-8h0m12 2h0m2-2h0m18-5h0m15 4h0m9 7h0m9 0h0m4-13h0m2 10h0m9 5h0m16-1h0m1 1h0m9-4h0m12-1h0m23 2h0m14-4h0m10 1h0m27 2h0m22 1h0m5-10h0m9 4h0m14 9h0m12-7h0m34-5h0m47 11h0m10-2h0m8-10h0m18-2h0m15 5h0m12-1h0m16 8h0m1-11h0m17 1h0m12 2h0m25 5h0m34 6h0m4-15h0m40 6h0m30-2h0m17 11h0m62 12h0m-74 2h0m-16-11h0m-18 11h0m-6-13h0m-8 12h0m-4-11h0m-5 12h0m-11 0h0m-25-10h0m-5 9h0m-27-7h0m-10-1h0m-9 10h0m-15-9h0m-13 6h0m-10-10h0m-28 5h0m-6-3h0m-4 10h0m-48-12h0m-22 1h0m-18 9h0m-21-8h0m-12 9h0m-14-2h0m-15 0h0m-12-9h0m-2 10h0m-13-2h0m-10-2h0m-13-5h0m-13 11h0m-25-9h0m-10 6h0m-12-3h0m-13 0h0m-17 4h0m-7-2h0m-24-1h0m-7-8h0m-10 4h0m-5 8h0m-12-5h0m-4 5h0m-1-3h0m-12-7h0m-1 9h0m-10 0h0m-7-7h0m-8 11h0m-5-10h0m-6 2h0m-2 7h0m-29-8h0m-5-2h0m-12 8h0m-12-3h0m-10-9h0m11 25h0m23 0h0m2 4h0m11-7h0m5 9h0m4-13h0m17 9h0m22-6h0m9 5h0m10-10h0m13 8h0m9 4h0m5 2h0m8 1h0m1-15h0m2 8h0m12-5h0m2 10h0m16-5h0m8-7h0m2 9h0m6-3h0m7 2h0m19-1h0m15 1h0m16-7h0m11 9h0m13-5h0m10 6h0m2-10h0m11 8h0m14-5h0m5 8h0m12-3h0m15-6h0m5 11h0m13-12h0m2 12h0m11-4h0m2-8h0m1 3h0m26 3h0m29-8h0m7 12h0m20-13h0m7 14h0m17-6h0m10-3h0m14-5h0m22 3h0m7 12h0m26-11h0m10-4h0m31 4h0m8 8h0m13-3h0m53-5h0m12 11h0m12-7h0m10-6h0m29 20h0m-30 4h0m-9-6h0m-40-3h0m-42 7h0m-31 2h0m-18-4h0m-4 9h0m-12-6h0m-16 1h0m-20-7h0m-19 3h0m-10-6h0m-6 10h0m-19 4h0m-23-6h0m-17 1h0m-12-5h0m-20 10h0m-1-13h0m-12 0h0m-22 9h0m-19-4h0m-7 7h0m-3-12h0m-17 11h0m-7-1h0m-5-2h0m-6-3h0m-3-4h0m-3 0h0m-18 4h0m-19-6h0m-11 7h0m-7-1h0m-5 4h0m-12-4h0m-17-2h0m-8-4h0m-4 10h0m-3 1h0m-7 2h0m-3-5h0m-35 2h0m-3-7h0m-6 10h0m0 0h0m-18-7h0m-17-2h0m-17 5h0m-20-2h0m-31 0h0m-15-2h0m-13 12h0m18 0h0m13 10h0m10 0h0m1-11h0m9 13h0m4-13h0m5 7h0m7-7h0m4 10h0m13-1h0m9 5h0m6-14h0m6 11h0m9-8h0m2 10h0m3 0h0m14-2h0m7-7h0m6 9h0m4-11h0m8 6h0m8 3h0m3-4h0m1-6h0m10 6h0m2-3h0m5 3h0m6 6h0m5-10h0m4 9h0m7 1h0m7-12h0m6 14h0m8-9h0m11-3h0m9-3h0m8 7h0m11-4h0m13 5h0m14-3h0m5 3h0m21-2h0m25 8h0m6-11h0m8 2h0m12 7h0m15-9h0m1 12h0m3-15h0m6 2h0m13 0h0m3 2h0m2 9h0m9-3h0m27-7h0m26 2h0m10 9h0m11-14h0m12 5h0m20-5h0m4 9h0m19 6h0m26-6h0m19 6h0m5-15h0m12 13h0m8-12h0m13 11h0m7-12h0m13 1h0m11 14h0m20-4h0m25 2h0m29-4h0m25-1h0m127 4h0m22-10h0m379 25h0m-170-3h0m-1-3h0m-9 6h0m-12-5h0m-14-2h0m-23 8h0m-12-8h0m-8 8h0m-13 3h0m-11-4h0m-4 0h0m-39 0h0m-10-3h0m-7-8h0m-9 3h0m-8 6h0m-22-8h0m-15 7h0m-39-7h0m-18 1h0m-10-1h0m-14 3h0m-20 6h0m-6 4h0m-24-8h0m-11 2h0m-17 1h0m-14 6h0m-3-12h0m-7 10h0m-9-4h0m-10 4h0m-11-6h0m-8 6h0m-10-2h0m0 3h0m-12 1h0m-7-3h0m-10-9h0m-9 5h0m-15 1h0m-9 4h0m-10-4h0m-4-1h0m-2 2h0m-6-4h0m-2 5h0m-4-4h0m-12 4h0m-2-11h0m-8 6h0m-9 6h0m-10 1h0m-9-10h0m-5 3h0m-7 2h0m-7 4h0m-2-11h0m-4 11h0m-6-3h0m-3-3h0m-5-1h0m-23 1h0m-1 2h0m-14-4h0m-5 2h0m-5-3h0m-12-1h0m-2 4h0m-5 8h0m-9-6h0m-5 4h0m-5 3h0m-12-11h0m-3 6h0m-2-9h0m-10 12h0m-15-6h0m-2 3h0m-3 3h0m-3-7h0m-1 8h0m-7-5h0m0-1h0m-7-1h0m-6 4h0m-3-9h0m-14 0h0m-1 5h0m-2 3h0m-8-10h0m-5 7h0m-4-3h0m-13 5h0m-1-9h0m-2 14h0m-8-8h0m-12 8h0m-1-2h0m-3-12h0m-10 3h0m-12 12h0m0-11h0m-9 0h0m-2 10h0m-1-7h0m-2 2h0m-9-1h0m-14 5h0m-12-10h0m-2-2h0m-13 2h0m0 10h0m-9-3h0m-1-10h0m-1 5h0m-7 7h0m-10-6h0m-7 9h0m-5-14h0m-9 8h0m-10 5h0m-4-12h0m-5 5h0m-6-6h0m-5 5h0m-8 7h0m-11-2h0m-15-4h0m-3 0h0m-5 7h0m-2-1h0m0 1h0m-9-6h0m-5 2h0m-10 3h0m-7-10h0m-8 7h0m-6-9h0m0 10h0m-17-7h0m9 14h0m17-1h0m2 2h0m10 5h0m10 0h0m25 1h0m3-5h0m1 9h0m7 2h0m4-7h0m8 4h0m15 1h0m8-3h0m2-4h0m5-5h0m7 12h0m3-8h0m1 1h0m7 8h0m3 0h0m0-8h0m11-2h0m11 5h0m8-5h0m1 10h0m3-1h0m7 2h0m14-14h0m1 10h0m2 1h0m15-7h0m10 6h0m8-9h0m6 13h0m4-1h0m1 0h0m5-2h0m7-12h0m2 2h0m3 10h0m4-10h0m12 11h0m7-13h0m0 1h0m11-1h0m5 7h0m2 6h0m2-11h0m2 12h0m4-11h0m1-2h0m2 13h0m2-11h0m9 4h0m0 3h0m2 2h0m4-12h0m3 13h0m0-10h0m11 0h0m2 5h0m4 2h0m10 1h0m9-8h0m0 10h0m10-7h0m1 4h0m1-4h0m1 1h0m5 4h0m1 1h0m6 1h0m5-7h0m2-1h0m0-1h0m9 0h0m2-3h0m1 0h0m11 3h0m3 7h0m5-9h0m0 5h0m2 2h0m0 1h0m5 4h0m3-11h0m6 3h0m1 8h0m5-11h0m11 11h0m2-11h0m9 3h0m2 4h0m6-1h0m2-4h0m3 10h0m2-14h0m1 12h0m7 2h0m6-15h0m3 13h0m6-6h0m2-3h0m7 2h0m1 5h0m2-3h0m6-4h0m16 5h0m11-8h0m4 10h0m2-4h0m14 4h0m10-4h0m7 0h0m3-3h0m10 6h0m1 4h0m5-2h0m5-6h0m1-3h0m0 0h0m5 6h0m1-9h0m0 4h0m9 9h0m3-10h0m17 6h0m15 2h0m3-3h0m2 3h0m5-1h0m9-4h0m20 8h0m7-7h0m36 2h0m15-2h0m11-7h0m11 7h0m12-5h0m19 7h0m19 3h0m8-10h0m4 10h0m14-11h0m20-1h0m9 14h0m15-10h0m32 5h0m15-7h0m12 3h0m27-4h0m0 13h0m13-4h0m14-3h0m18 2h0m17-6h0m34 8h0m10-11h0m28 0h0m-164 21h0m-44 2h0m-9-5h0m-7 12h0m-38-10h0m-16 10h0m-26-11h0m-62 5h0m-11 4h0m-15 3h0m-9-5h0m-10-5h0m-17-1h0m-14-2h0m-21 9h0m-13 1h0m0-9h0m-1 8h0m-9-5h0m-11 1h0m-3 5h0m-6-2h0m-10 2h0m-7-8h0m-6 7h0m-1-8h0m-2 0h0m0-3h0m-7 2h0m-4 9h0m-3-6h0m-6-4h0m-4 5h0m-10-5h0m-4 6h0m-1-3h0m-3 6h0m-9-6h0m-11 4h0m-4-2h0m-4 1h0m-12-5h0m-2 6h0m0-6h0m-11 7h0m-6-9h0m-3 9h0m-1 0h0m-2 2h0m-3-10h0m-1 1h0m-6 12h0m-6-10h0m0 8h0m-6 3h0m-18-7h0m-14-5h0m-7 8h0m-2-7h0m-4-3h0m-1 11h0m-8-8h0m-1 9h0m-12-9h0m-4 9h0m-9-10h0m-5 2h0m-4-4h0m-3 14h0m-4-6h0m-2-9h0m-6 6h0m-9 3h0m-6-8h0m-1 7h0m-1 3h0m-2 0h0m-5 3h0m-7-13h0m-4 10h0m-8-4h0m-5 8h0m-6-4h0m-4-8h0m-1 3h0m-8 8h0m-1 0h0m-1-11h0m-2-1h0m-8 5h0m0 2h0m-5 6h0m-14-11h0m-11 7h0m-20-3h0m-3-2h0m-12 1h0m-11-3h0m-3 5h0m-1-2h0m-4 3h0m-9-5h0m-6 7h0m-4 0h0m-1-3h0m-7 1h0m-4 2h0m-7 0h0m-1-2h0m-3-3h0m-6 6h0m-4-10h0m-8 5h0m-10 2h0m-1-1h0m-16 2h0m0-6h0m-13 4h0m-8 1h0m-21-2h0m-9 4h0m-2-12h0m-16 2h0m-10 8h0m-10 4h0m-5-12h0m-12 11h0m-4-10h0m17 21h0m18 0h0m13-3h0m22 9h0m6-8h0m8-5h0m3 1h0m6 13h0m11 0h0m4-11h0m9 0h0m1-4h0m0 12h0m1-11h0m11 3h0m0 11h0m9-9h0m16 3h0m16 0h0m2 5h0m0-9h0m11 1h0m1 3h0m6-2h0m1-4h0m16 1h0m10 1h0m5 8h0m2-8h0m9-2h0m1 11h0m19-6h0m6-8h0m5 12h0m6-8h0m12 8h0m10 1h0m1-10h0m10 11h0m2-12h0m19-1h0m3 4h0m7 8h0m10-2h0m3-3h0m4-5h0m7 6h0m18-2h0m2 2h0m0-4h0m7 2h0m17 0h0m11 3h0m5 1h0m2 0h0m16-3h0m11 0h0m3 2h0m6-1h0m4-7h0m7 8h0m12 4h0m13-5h0m10-3h0m9 6h0m3-12h0m3 4h0m8 2h0m10 5h0m10-9h0m0 10h0m9-3h0m13-8h0m18 10h0m2-6h0m12 6h0m10 4h0m8-11h0m13 8h0m19-6h0m11 8h0m11-7h0m50-1h0m67-6h0m20 2h0m39 14h0m-55 10h0m-36 2h0m-44-12h0m-10 12h0m-66 0h0m-19-6h0m-36 6h0m-20-1h0m-2-10h0m-12 6h0m-46 1h0m-9 6h0m-5-8h0m-14 2h0m-23 5h0m-9-6h0m-8-3h0m-4 3h0m-6 7h0m-14-7h0m-10 8h0m-1-11h0m-17-2h0m-12 11h0m-4-12h0m-21 5h0m-9 9h0m-4-12h0m0 6h0m-1-8h0m-14-1h0m-5 11h0m-13-4h0m-11-1h0m-15 3h0m-16-7h0m-10 11h0m-2-13h0m-22 11h0m-1-2h0m-4 5h0m-9-13h0m-8 7h0m-6-2h0m-2-1h0m-7 1h0m-2-1h0m-5 8h0m-1-4h0m-9-3h0m-3 3h0m-2 2h0m-9-6h0m-8-2h0m-3 6h0m-12 5h0m-13-6h0m-19 2h0m-17-5h0m-20 5h0m-7-9h0m-6 13h0m-9-14h0m-14 14h0m-18-6h0m1 14h0m14 2h0m19-3h0m14 1h0m15 0h0m19 3h0m3-4h0m13-2h0m5 11h0m11-12h0m9 6h0m3-4h0m10 0h0m5 5h0m0 5h0m8-10h0m5 3h0m0-1h0m11-6h0m11 10h0m3-2h0m10-7h0m5 4h0m4 10h0m3-2h0m2-3h0m0-9h0m12 12h0m10-9h0m19 0h0m3 0h0m10 11h0m4-1h0m3-11h0m8 6h0m19-1h0m19 1h0m8-6h0m8 3h0m2 2h0m7-7h0m3 4h0m14 10h0m6-2h0m5 0h0m9-8h0m12 1h0m16 9h0m7-8h0m27-2h0m27 2h0m11-3h0m9 4h0m11-2h0m20 1h0m19 3h0m6-10h0m24 10h0m31 4h0m3-13h0m14 0h0m46 8h0m7-9h0m10 9h0m17-4h0m16 2h0m15-7h0m-4 31h0m-22-8h0m-19 5h0m-10 2h0m-23-6h0m-16-5h0m-37 8h0m-13 3h0m-3-10h0m-7 11h0m-4-11h0m-63 4h0m-26-1h0m-20-7h0m-16 14h0m-19 1h0m-1-15h0m-31 9h0m-5-8h0m-19 6h0m-13 5h0m-19-9h0m-1 4h0m-38 6h0m-13-12h0m-1 12h0m-19-4h0m-21 2h0m0-9h0m-11 5h0m-15 2h0m-26-4h0m-13 7h0m-10-3h0m-2-1h0m-2-6h0m-10 7h0m-2 6h0m-6-5h0m-8-7h0m-19 6h0m-7 0h0m-8-8h0m-31 4h0m-4 3h0m0 5h0m-2-5h0m-8-8h0m-14 6h0m-12-5h0m-12 2h0m-16 5h0m29 14h0m13-3h0m4 5h0m6 4h0m5-12h0m8 7h0m10 4h0m8-9h0m3 11h0m12 0h0m2-13h0m9 5h0m21-3h0m4 1h0m21 0h0m13 12h0m5 0h0m13-2h0m7-10h0m8 9h0m21-6h0m12 7h0m14-13h0m16 3h0m8 11h0m33-9h0m13 6h0m6 3h0m3-13h0m11 0h0m15 5h0m25 9h0m10-6h0m15 6h0m29-9h0m12 0h0m18 4h0m12-3h0m11-2h0m22-5h0m16 7h0m21-2h0m58 1h0m16 9h0m13-12h0m31 4h0m31 5h0m19-4h0m15-5h0m106 19h0m-102 9h0m-42-5h0m-21-6h0m-13 7h0m-56-10h0m-10 1h0m-8 9h0m-19-9h0m-31 13h0m-16-2h0m-16-13h0m-33 7h0m-19 0h0m-11-4h0m-8 11h0m-9-6h0m-17 6h0m-40-8h0m-18 5h0m-28-5h0m-34-1h0m-15 9h0m-16-8h0m-6 9h0m-4-10h0m-19-3h0m-3 10h0m-14 1h0m-17-6h0m-16-1h0m-15-6h0m-2 13h0m-28 2h0m0-12h0m-1 1h0m-14 11h0m-1-14h0m-16 14h0m-5-10h0m-24-2h0m-16 8h0m-17-9h0m-11-1h0m1 17h0m9 6h0m11-2h0m16 3h0m19-6h0m1 10h0m17-3h0m9-4h0m11 7h0m22-9h0m18 6h0m17 1h0m0-10h0m2-1h0m24 5h0m15 3h0m21-2h0m29 5h0m14 3h0m4-9h0m16-2h0m2 12h0m9-8h0m12 0h0m30 4h0m4-11h0m13 0h0m1 13h0m19-3h0m2-9h0m16 11h0m1-10h0m16 6h0m53 4h0m18-6h0m9 3h0m12-2h0m10 7h0m19-14h0m44 5h0m26 6h0m9-10h0m34 7h0m15-3h0m23 5h0m23-1h0m-7 8h0m-25 14h0m-17-13h0m-15 10h0m-15 0h0m-9-9h0m-20 11h0m-13-8h0m-7 8h0m-9-9h0m-28 0h0m-18-1h0m-17 2h0m-10 6h0m-46 3h0m-19-8h0m-13-1h0m-5 8h0m-14-8h0m-8 8h0m-29-6h0m-28 4h0m-14-7h0m-11 10h0m-31-3h0m-10-5h0m-25 1h0m-13-5h0m-7 7h0m-10-7h0m-15 6h0m-7-7h0m-9 7h0m-12-7h0m-21 3h0m-12 6h0m-4-11h0m-13 2h0m-9-1h0m-7 12h0m-11-6h0m-18-5h0m-14 11h0m-13-6h0m-10-5h0m-14 23h0m10-7h0m13 5h0m16 7h0m3-9h0m19 4h0m44 1h0m5-1h0m13 0h0m11 4h0m1-10h0m13-2h0m6 10h0m7-6h0m35 7h0m15-11h0m10 10h0m4-11h0m1 2h0m12 5h0m17 3h0m15-6h0m12 11h0m22-2h0m12-8h0m10-4h0m14 13h0m13-4h0m26-10h0m9 9h0m26-4h0m40 1h0m11 0h0m29 3h0m20-2h0m19 1h0m10-8h0m24 9h0m85 4h0m16-6h0m60-2h0m-101 14h0m-29-1h0m-15 3h0m-24-5h0m-55 8h0m-17-6h0m-15 1h0m-35 1h0m-16 10h0m-15-11h0m-13 0h0m-9 6h0m-14-7h0m-45 0h0m-14 5h0m-11 0h0m-10 6h0m-32-5h0m-12 6h0m-23-8h0m-17-6h0m-11 7h0m-11 6h0m0-11h0m-11 0h0m-3 9h0m-10-8h0m-15 4h0m-13 2h0m-12-7h0m-10 2h0m-16-1h0m-4 8h0m-10-10h0m-15 5h0m-14-2h0m-2 0h0m-9-4h0m-21 27h0m6-11h0m18 0h0m1 14h0m11-12h0m12 3h0m11 0h0m18 3h0m12-6h0m18 1h0m15 1h0m11 0h0m61 5h0m8-5h0m4 10h0m16-2h0m24 0h0m3 2h0m8-14h0m29 4h0m15 0h0m11 9h0m3-13h0m26 15h0m1-14h0m17 3h0m22 0h0m18 9h0m12-3h0m44-5h0m96 8h0m0-11h0m11 11h0m9-2h0m43-5h0m27 0h0m66 21h0m-76-10h0m-15 8h0m-20-2h0m-9 5h0m-17-4h0m-36-1h0m-27-2h0m-13 1h0m-11-3h0m-10 7h0m-10-6h0m-15 0h0m-12 1h0m-16 4h0m-38-6h0m-6 11h0m-24-1h0m-24-12h0m-7 6h0m-46-6h0m-1 13h0m-39-14h0m-19 7h0m-8 8h0m-15-5h0m-14-4h0m-24 3h0m-14-7h0m-3 12h0m-8-13h0m-22 12h0m-22-8h0m-16-2h0m-16 3h0m-11 1h0m-11-2h0m-11 5h0m-13-8h0m18 25h0m8-5h0m12 0h0m14 8h0m11-8h0m6 3h0m7 3h0m45 3h0m14-4h0m44 1h0m37-4h0m29 3h0m73 4h0m14-14h0m8 6h0m64-6h0m3 10h0m11-3h0m23 5h0m23 2h0m10-9h0m6 8h0m24-10h0m19-1h0m27 9h0m45-3h0m22-7h0m36-1h0m-29 19h0m-15 5h0m-19 2h0m-10-3h0m-16-2h0m-30 6h0m-3-10h0m-11 1h0m-16 5h0m-3-7h0m-27 1h0m-40 3h0m-12 4h0m-23-3h0m-38 4h0m-27-2h0m-24 2h0m-13-4h0m-13 2h0m-15-5h0m-1 11h0m-11-9h0m-16-1h0m-14 4h0m-28 0h0m-14 0h0m-29 7h0m-11-15h0m-24 10h0m-14 0h0m-12 3h0m-21-7h0m-28 2h0m-14-3h0m-17-1h0m-10-3h0m25 18h0m26 2h0m15 9h0m50-10h0m24 9h0m20-10h0m34-1h0m0 10h0m25 2h0m14-3h0m42-1h0m16 0h0m13 5h0m28-2h0m24-2h0m28 0h0m21-6h0m16 6h0m25-8h0m42 8h0m21-8h0m6 12h0m35-11h0m10-1h0m21 3h0m29 3h0m25-8h0m-8 19h0m-10 3h0m-24-6h0m-40 5h0m-11-4h0m-13 9h0m-19 1h0m-16-4h0m-25-4h0m-15 3h0m-44 5h0m-21-9h0m-9 9h0m-6-8h0m-17 7h0m-24-2h0m-50-4h0m-18 4h0m-15-1h0m-8 4h0m-10-7h0m-8 6h0m-23-4h0m-27 8h0m-13-3h0m-33 2h0m-27-5h0m-32-1h0m-8 17h0m22-1h0m41 2h0m10-2h0m11 6h0m37-4h0m2-10h0m31 0h0m18 1h0m10 10h0m10-6h0m10 5h0m15-9h0m2 2h0m31 9h0m16-4h0m22-7h0m19 11h0m25 1h0m2-11h0m30 10h0m11-5h0m15-6h0m35 2h0m12 3h0m16 8h0m10-3h0m26-11h0m23 6h0m30 1h0m23 12h0m-40 12h0m-18-6h0m-12 5h0m-12-12h0m-23 7h0m-30-3h0m-28-3h0m-26 12h0m-6-11h0m-24-1h0m-8 5h0m-14 3h0m-38-3h0m-15 0h0m-11-1h0m-23 3h0m-26-10h0m-4 11h0m-40-5h0m-26 2h0m-9-8h0m-29 5h0m-27 4h0m-12 1h0m-55-9h0m31 21h0m9 9h0m8-11h0m10 0h0m59-2h0m9 2h0m15-2h0m24 13h0m23-12h0m17-2h0m36 3h0m11 2h0m13 7h0m18-2h0m33 2h0m22-4h0m54 4h0m2-11h0m14 11h0m36-8h0m17-4h0m0 14h0m9-7h0m31-4h0m4 21h0m-27-6h0m-8 12h0m-23 0h0m-44-9h0m-28 6h0m-3-10h0m-78 3h0m-13 9h0m-9-6h0m-24-6h0m-13-1h0m-16 0h0m-16 7h0m-42 6h0m-14-10h0m-56 3h0m-9-3h0m-10 7h0m-6-10h0m-13 13h0m-25-11h0m63 14h0m13 8h0m8-9h0m10 5h0m28 6h0m10 1h0m26-4h0m17 7h0m12-11h0m16 10h0m9-7h0m17 5h0m13-9h0m17 5h0m12 5h0m17-2h0m14-4h0m18 5h0m12-9h0m7 9h0m32-12h0m61 2h0m11 13h0m12-9h0m34 1h0m-37 12h0m-36-2h0m-3 14h0m-13-4h0m-26-10h0m-12 8h0m-18-5h0m-32 6h0m-29-6h0m-17 8h0m-31-1h0m-22-2h0m-27-7h0m-33 6h0m-8-6h0m-11 9h0m-43 0h0m-19-3h0m-13-2h0m-19-4h0m-15 0h0m36 14h0m36 15h0m16-13h0m5 9h0m17 4h0m16-5h0m13-1h0m14-3h0m54 1h0m20-5h0m36 6h0m40 0h0m19 2h0m21 1h0m23 4h0m33-7h0m-24 19h0m-19-3h0m-9-4h0m-40 7h0m-16-9h0m-35 3h0m-21 10h0m-13-15h0m-10 14h0m-35-9h0m-13-1h0m-31 0h0m-46 0h0m13 19h0m33-4h0m2 9h0m10 0h0m36-12h0m25 9h0m43-2h0m13-7h0m5 13h0m6-8h0m19 0h0m27 4h0m6 10h0m-61 9h0m-8-9h0m-11 6h0m-20 6h0m-33-2h0m-11-10h0m-1 11h0m-11-10h0m-32 3h0m50 22h0m12-8h0m11-3h0m37 5h0m13 8h0m50-14h0m-57 29h0"/></defs><g opacity="0.178"><use href="#l6" stroke="#00003c" stroke-width="11"/><use href="#l6" stroke="#0000ff" stroke-width="7"/></g><defs><path id="l7" d="M640 154h0m-113 16h0m12 0h0m23 4h0m7-7h0m12-1h0m9-4h0m12 5h0m45-3h0m29 11h0m17-7h0m14 16h0m-24 4h0m-12 0h0m-11-10h0m-30 2h0m-33 9h0m-49-3h0m-13-5h0m-39 8h0m-22 15h0m7-10h0m74 10h0m43-2h0m23-9h0m5 14h0m16-8h0m6-7h0m18 14h0m20-7h0m11 5h0m30-8h0m13 10h0m48 11h0m-72-7h0m-18 8h0m-13-7h0m-36 1h0m-11-2h0m-47 4h0m-13 4h0m-22 3h0m-12-3h0m-25-7h0m-10 0h0m-31 4h0m-9 7h0m-34 9h0m7 7h0m29-6h0m28-3h0m25 5h0m18-2h0m29-8h0m24 1h0m28 0h0m16 2h0m27-3h0m39 5h0m14 2h0m29 17h0m-29 4h0m-59-11h0m-24 4h0m-44 2h0m-11 5h0m-19-10h0m-17 7h0m-45-4h0m-15 10h0m-1-15h0m-19 5h0m-30 6h0m-11 3h0m-17 0h0m11 8h0m25 4h0m23-4h0m13 5h0m18 1h0m33-8h0m21 7h0m5-9h0m43-1h0m13-1h0m10 0h0m2 13h0m37-8h0m40 5h0m4-10h0m13 15h0m51-14h0m51 2h0m227 27h0m-229-14h0m-14 15h0m-18-7h0m-58 2h0m-34-8h0m-28 6h0m-34 2h0m-27 0h0m-16-10h0m-25 4h0m-18 3h0m-15-6h0m-15-1h0m-2 13h0m-43-2h0m-1-10h0m-10 5h0m-24-1h0m-13 3h0m-13 0h0m-15-6h0m-4 13h0m-22-1h0m-17-4h0m6 20h0m16-5h0m11 0h0m16 3h0m9-6h0m37 1h0m50-6h0m37 7h0m33-6h0m14 12h0m10-1h0m5-4h0m15 2h0m10-5h0m3 9h0m10-3h0m12-7h0m14 3h0m16 2h0m9-6h0m11 7h0m12-11h0m41 4h0m16-3h0m11 11h0m17 2h0m13-4h0m9 2h0m33-2h0m-12 13h0m-20 4h0m-30 2h0m-12-6h0m-34-7h0m-14 6h0m-24-3h0m-19 10h0m-6-8h0m-5 9h0m-7-13h0m-62 1h0m-41 10h0m-2-11h0m-9 6h0m-16-5h0m-12-2h0m-10 0h0m-5 9h0m-23-1h0m-23-8h0m-19 6h0m-27 8h0m-7-9h0m-43-5h0m-1 7h0m-11 0h0m-32 7h0m40 4h0m19 1h0m10 11h0m12-14h0m39 3h0m4 12h0m29-10h0m13 5h0m17-6h0m12 11h0m6-14h0m17 1h0m5 13h0m44-13h0m3 12h0m4-4h0m18 4h0m7-14h0m14 12h0m5-11h0m13 4h0m11 6h0m22 3h0m18-11h0m29 6h0m21-5h0m79 1h0m-40 13h0m-14-2h0m-1 10h0m-9 4h0m-17-12h0m-29-1h0m-23 14h0m-25-9h0m-14-1h0m-12-4h0m-9 3h0m-9 5h0m-7-9h0m-33 8h0m-10 3h0m-15-10h0m-20 13h0m-27-2h0m-38-4h0m-13-6h0m-4 10h0m-38-9h0m-23-3h0m-4 9h0m-49-7h0m-15 4h0m-8 8h0m-27-2h0m43 18h0m17-14h0m2 13h0m17-6h0m14 7h0m45-1h0m32-7h0m48 1h0m9-5h0m16 7h0m10 2h0m18-10h0m25 14h0m32-12h0m26 10h0m34 1h0m17-7h0m13-1h0m12-1h0m15 3h0m26 2h0m37-1h0m17-5h0m21 0h0m11-2h0m4 10h0m21-3h0m9 9h0m-31 11h0m-12-9h0m-14 3h0m-62 8h0m-59-8h0m-34 2h0m-35 5h0m-12-5h0m-4-3h0m-18 5h0m-24-8h0m-12 2h0m-25 6h0m-11 4h0m-4-14h0m-6 11h0m-19-11h0m-3 10h0m-29-8h0m-34 6h0m0 0h0m-55-1h0m-46 1h0m-8-7h0m-2 11h0m-13 2h0m-6-15h0m-19 4h0m-8 27h0m13-14h0m6 8h0m14 1h0m23-6h0m0 10h0m17-4h0m3 5h0m12-9h0m2 9h0m7-12h0m20 2h0m4 9h0m11-9h0m28-3h0m25 4h0m14-5h0m10 5h0m15 0h0m13 2h0m22 3h0m39-11h0m11 4h0m6 11h0m18-4h0m10-9h0m14 11h0m7-7h0m8 8h0m12-11h0m36 3h0m45-5h0m18 12h0m12-6h0m33-6h0m14 4h0m12 2h0m60 0h0m48 6h0m-87 9h0m-25-2h0m-26-4h0m-29 12h0m-16-3h0m-15-9h0m-16 9h0m-10-7h0m-41 10h0m-10-3h0m-5-9h0m-36 6h0m-8 8h0m-34-13h0m-31 0h0m-32 6h0m-14 0h0m-11 0h0m-12 3h0m-11-1h0m-15-8h0m-12-1h0m-5 15h0m-9-12h0m-59 8h0m-13-1h0m-13-8h0m-29 2h0m-9 4h0m-16 1h0m0-9h0m-25 3h0m-15 11h0m23 3h0m8 5h0m22 9h0m12-13h0m11 2h0m10 9h0m27-11h0m12 11h0m7-8h0m14 9h0m1-13h0m14 4h0m37 9h0m7-9h0m14 10h0m4-8h0m35 0h0m30-6h0m10 6h0m9 3h0m5-10h0m9 10h0m9 5h0m11-7h0m25 5h0m10-10h0m14 3h0m69 3h0m4-9h0m31 8h0m10-4h0m35 11h0m36-5h0m18 1h0m28-9h0m14 0h0m76 15h0m-95-1h0m-23 9h0m-42 5h0m-58-8h0m-51-4h0m-19 8h0m-85 3h0m-15-7h0m-17 3h0m-17 4h0m-18-4h0m-11 4h0m-7-13h0m-15 8h0m-67-3h0m-9-5h0m-3 13h0m-18-6h0m-10 2h0m-27-8h0m-14 1h0m-10 5h0m-21 3h0m-12 3h0m-5-13h0m-8 8h0m-10-4h0m0 11h0m-10-3h0m-11-11h0m-16 14h0m15 8h0m12-1h0m18 0h0m31 3h0m13 3h0m5-11h0m6 14h0m5-9h0m15 2h0m8-7h0m15 3h0m8 6h0m8 5h0m0-12h0m21 2h0m20 4h0m9-9h0m15 2h0m9 7h0m20 0h0m7-9h0m7 14h0m10 0h0m8-9h0m17 8h0m10 1h0m6-10h0m23-3h0m7 14h0m78-9h0m90-6h0m10 11h0m23-7h0m45 6h0m18-9h0m8 9h0m13-7h0m21 6h0m40 1h0m150-10h0m-62 23h0m-118 4h0m-10-7h0m-18 1h0m-15 8h0m-9-6h0m-10 3h0m-62-1h0m-4-9h0m-63 0h0m-11 10h0m-12-5h0m-18 3h0m-11 1h0m-16-8h0m-6 8h0m-13 6h0m-18 0h0m-1-11h0m-27 2h0m-16 5h0m-89-8h0m-12-1h0m-30-1h0m-11 7h0m-12-6h0m-5 12h0m-36-10h0m-42 4h0m-10-5h0m-10 7h0m-11-7h0m-8 10h0m-20-11h0m-9 7h0m-8-7h0m-15 7h0m-11 7h0m18 9h0m35 6h0m27-9h0m10-1h0m19 1h0m31-4h0m5 11h0m21-4h0m31-5h0m19 3h0m9-6h0m9 4h0m9-2h0m46-2h0m39 0h0m14 5h0m10-6h0m14 12h0m13-4h0m10 3h0m32-6h0m15 2h0m36 8h0m86-11h0m2 11h0m29-9h0m34 8h0m23 1h0m1-11h0m14-4h0m9 14h0m31 6h0m-11-3h0m-16 14h0m-17-11h0m-3 11h0m-12-6h0m-6-9h0m-10 14h0m-12 0h0m-16-6h0m-43 5h0m-10 0h0m-17-13h0m-12 3h0m-10 2h0m-8 7h0m-8-8h0m-74 6h0m-19-5h0m-14 8h0m-5-10h0m-22 6h0m-16 2h0m-11-9h0m-22 3h0m-11-1h0m-11 10h0m-10-10h0m-16 6h0m-19-5h0m-5 4h0m-9-4h0m-13 1h0m-9 6h0m-11-3h0m-23-1h0m-13-8h0m-1 10h0m-15-2h0m-12-3h0m-3 6h0m-9-6h0m-4 7h0m-11-11h0m-14-1h0m-4 14h0m-8-6h0m-11 3h0m0 2h0m0-11h0m-8-2h0m-3 11h0m-1 3h0m-2 1h0m-12-11h0m-11-3h0m-7 7h0m-16 3h0m-4-11h0m-9 22h0m1 9h0m14-4h0m13-3h0m8 7h0m9-5h0m11 3h0m12-1h0m8 3h0m5-13h0m17 5h0m1 7h0m10-12h0m18 12h0m1-7h0m9-5h0m2 12h0m0-10h0m12 3h0m8-5h0m3 5h0m16 8h0m1-10h0m2 1h0m10-2h0m1 9h0m26-13h0m2 1h0m5 13h0m11-14h0m6 11h0m11-11h0m10 12h0m15-1h0m17 4h0m3-5h0m11 4h0m12-6h0m16-4h0m10 2h0m22-1h0m29 5h0m15-3h0m39 3h0m22 5h0m21-15h0m7 9h0m30-8h0m112 3h0m10 4h0m11 4h0m10 2h0m10-1h0m12-6h0m40-7h0m140 25h0m-111 3h0m-96-3h0m-21-7h0m-5 11h0m-37-7h0m-9 8h0m-6-11h0m-31 3h0m-12 1h0m-18-4h0m-25 3h0m-22 5h0m-25-5h0m-15-6h0m-12 15h0m-42-1h0m-3-13h0m-31 2h0m-22 8h0m-11-9h0m-2 10h0m-19-6h0m-24-1h0m-17 3h0m-19 6h0m-3-9h0m-13 4h0m-5 6h0m-6-7h0m-9-8h0m-7 15h0m-2-3h0m-13 3h0m-1-2h0m-9-4h0m-7-8h0m-24 5h0m-5 4h0m-4 1h0m-7-10h0m-5 1h0m-6 3h0m-8 8h0m-5-13h0m-12 5h0m-13 3h0m-8 5h0m-17-6h0m-25 5h0m-18-9h0m-6-2h0m-3 8h0m6 14h0m3-2h0m8 1h0m17 8h0m6-14h0m12 1h0m15 6h0m19 1h0m10 7h0m9-8h0m14-7h0m7 11h0m12 1h0m8 2h0m2 1h0m6-11h0m1 4h0m11-5h0m2 0h0m12 6h0m3 4h0m13 0h0m16-5h0m8 6h0m12-13h0m6 9h0m17-8h0m22 9h0m2-10h0m9 5h0m7 7h0m11-4h0m4-9h0m12 9h0m18-6h0m0 11h0m9-10h0m18 2h0m9-4h0m2 13h0m18 0h0m8-7h0m22 1h0m14 2h0m12-2h0m28 0h0m15 0h0m7-9h0m12 8h0m11 2h0m29 0h0m53-8h0m14 5h0m40-2h0m16 3h0m24 5h0m37 14h0m-10-1h0m-10-3h0m-12 6h0m-19-6h0m-10-5h0m-2 10h0m-21-11h0m-4 14h0m-16-6h0m-9-5h0m-18 3h0m-15 6h0m-21-4h0m-23-8h0m-8 7h0m-12-3h0m-12 4h0m-17-6h0m-7 7h0m-3-1h0m-21-3h0m-10-1h0m-6 9h0m-19 1h0m-13-10h0m-6 10h0m-14-7h0m-10 2h0m-4-4h0m-12 3h0m-8-8h0m-8 12h0m-17 1h0m-11-12h0m-9 7h0m-11 6h0m-9-8h0m-10 4h0m0 2h0m-9-5h0m-6 7h0m-15-13h0m-3 10h0m-8 3h0m-3-3h0m-1-12h0m-8 6h0m-2-2h0m-18 10h0m-13-6h0m-9 5h0m-3 1h0m-7-4h0m-8-7h0m-1 12h0m-4-2h0m-5-8h0m-1 10h0m-9-7h0m-15 3h0m-9-8h0m-4 2h0m-8 5h0m-2 5h0m-8-8h0m-19 4h0m-9-9h0m-12 5h0m-11-2h0m-11-3h0m-1 1h0m-12 0h0m-7 10h0m-5-8h0m-7-5h0m-11 5h0m-11-5h0m-10 19h0m13 11h0m17-10h0m7 7h0m14-1h0m4 4h0m3 0h0m5-12h0m11 13h0m4-8h0m0-5h0m12 12h0m1-14h0m9 11h0m13 3h0m1-11h0m10 3h0m22-2h0m0-1h0m3 0h0m1 12h0m7-8h0m2 4h0m4 0h0m13-1h0m5-10h0m7 9h0m3 5h0m9-1h0m1-11h0m19 6h0m14 3h0m14-9h0m0 10h0m2-1h0m8-8h0m14 7h0m11-3h0m10 0h0m0 4h0m17-4h0m20 7h0m4-10h0m11 1h0m10 6h0m10-8h0m9 9h0m9-6h0m13-5h0m6 0h0m14 5h0m15-6h0m1 11h0m24-4h0m18 8h0m13-15h0m0 14h0m15-3h0m12 2h0m17-5h0m9 6h0m25 0h0m2-13h0m15 5h0m21 0h0m13 5h0m4 3h0m15-12h0m12 12h0m9-4h0m31 4h0m36-3h0m14-3h0m48 6h0m52-10h0m9 7h0m79-9h0m81 0h0m144 23h0m-18 3h0m-7-8h0m-10 1h0m-9 5h0m-6-8h0m-16 8h0m-11 3h0m-11-1h0m-4-10h0m-16 13h0m-9-8h0m-11 4h0m-19-1h0m-21-2h0m-22 2h0m-53 4h0m-7-11h0m-14 2h0m-18 9h0m-36-13h0m-22 12h0m-40 2h0m-5-9h0m-23 4h0m-9-3h0m-27-3h0m-11 7h0m-14-1h0m-2 0h0m-7-5h0m-9 8h0m-10-3h0m-9 4h0m-8-14h0m-5 10h0m-6-9h0m-4-1h0m-3 13h0m-4-5h0m-4 3h0m-6-11h0m-2 15h0m-8-14h0m-11-1h0m-9 12h0m-11-4h0m-12 0h0m-26 2h0m-17 4h0m-2-7h0m-11-7h0m0 14h0m-1-9h0m-21 3h0m-17-6h0m-13 8h0m-6-8h0m-2 12h0m-1 1h0m0-10h0m-9 2h0m-1 3h0m-9 1h0m-7-9h0m-8 6h0m-3-7h0m-8 13h0m-5-14h0m-2 7h0m-5 7h0m-6-2h0m-4-9h0m-4 2h0m-2 10h0m-11-10h0m-4 10h0m-9-3h0m-9-4h0m-8 4h0m-5-11h0m-11 7h0m-2-3h0m-2 10h0m-15-9h0m-9 8h0m-3-10h0m-8 6h0m-7-8h0m-2 10h0m-14-6h0m-5 3h0m0-1h0m-12-8h0m-11 11h0m-3-11h0m-10 0h0m-5 10h0m-7 2h0m-5-3h0m-14 3h0m-4-9h0m-9 9h0m-15-6h0m-3 7h0m-4-8h0m-4-1h0m0 8h0m-11-7h0m-1-4h0m-4 2h0m-5 6h0m-26 5h0m-17-5h0m-8 1h0m-5 4h0m-17-8h0m-11-3h0m-8 12h0m-17-13h0m22 23h0m9-9h0m5 5h0m11 7h0m13-7h0m1 1h0m9-1h0m3-4h0m8 8h0m8 1h0m13-8h0m16-2h0m10 2h0m3 12h0m4-2h0m5 1h0m4 2h0m1-10h0m3 2h0m0-5h0m4 9h0m0-11h0m7 7h0m15-4h0m10 8h0m1-3h0m8 7h0m6-10h0m4-5h0m15 11h0m13-8h0m2 10h0m8-2h0m5-7h0m3 3h0m4 7h0m13-6h0m13 5h0m6-13h0m7 7h0m10-2h0m10 10h0m11 0h0m1-3h0m1 2h0m2-12h0m6 10h0m10-3h0m10-2h0m2 0h0m11 8h0m2-11h0m8 7h0m5-2h0m11 1h0m6-9h0m2 2h0m9 5h0m9 4h0m7-8h0m10 1h0m10 10h0m0-3h0m0-9h0m2 1h0m6 8h0m4-11h0m1 3h0m3 9h0m10 1h0m0-11h0m1 9h0m3-12h0m5 9h0m2 1h0m3-10h0m10 11h0m2 1h0m5-5h0m8-7h0m6 12h0m4-9h0m3 9h0m12-11h0m0 14h0m1-9h0m1 5h0m0 1h0m10-3h0m5-8h0m3 13h0m3-11h0m7 8h0m10 0h0m9-8h0m7 9h0m8-1h0m10-3h0m2 0h0m1 3h0m7 0h0m3-10h0m6 1h0m2 1h0m3 6h0m13 5h0m12-5h0m8 0h0m8 0h0m2-4h0m6 6h0m5-2h0m17-8h0m5 6h0m5-7h0m1 11h0m15-8h0m2 11h0m9-10h0m15 9h0m21-4h0m8-8h0m13 7h0m16-1h0m30 4h0m3-9h0m10 6h0m17 1h0m15-2h0m9 8h0m10-6h0m38 2h0m13-6h0m13-4h0m9 6h0m20 2h0m20-1h0m16-1h0m12 0h0m33 1h0m-244 16h0m-46-6h0m-24 8h0m-16 4h0m-17 1h0m-5-2h0m-12-7h0m-10 2h0m-16-4h0m-8-4h0m0 0h0m-6 7h0m-10 6h0m-1-9h0m-8-2h0m-9 6h0m-16-7h0m-2 6h0m-15 0h0m-9-5h0m-1 3h0m-8 1h0m-4 4h0m-4-9h0m-5 10h0m-2-4h0m-6 7h0m-7-9h0m-6 1h0m-3 5h0m-9 4h0m-1-5h0m-5 5h0m-11-5h0m-10-7h0m-16 4h0m-12-7h0m-3 3h0m-3-2h0m-1 12h0m-8-1h0m-3-1h0m-1-7h0m-13 8h0m-11 1h0m-19-10h0m-11-1h0m-1 9h0m-4-1h0m-9-10h0m-4 2h0m0 2h0m-10-1h0m-1 0h0m-4 5h0m-1-6h0m-3 2h0m-14 1h0m-13 4h0m-4 0h0m-7-8h0m-3 13h0m-12-3h0m-3 0h0m-10-6h0m-3 2h0m-1 0h0m-4-1h0m-8 5h0m-1-1h0m0-9h0m-9 0h0m-6 11h0m-4-9h0m-8 9h0m-9-9h0m-1 11h0m-17-5h0m-5-8h0m-7 11h0m-4 0h0m-7 1h0m-11-7h0m-11-1h0m-12 4h0m-7-9h0m-5 7h0m-6 7h0m-1-11h0m-2 12h0m-3-11h0m-18 0h0m-8 1h0m-8-3h0m-1 5h0m-8 2h0m-2-1h0m-2-8h0m-3 11h0m-13 4h0m-2-10h0m-1-4h0m-9 2h0m-9 12h0m-16-8h0m-18-2h0m-19-3h0m-12 13h0m-12-13h0m-1 21h0m12 1h0m12-1h0m11 0h0m4-1h0m6 0h0m8 6h0m31 1h0m2-11h0m2 0h0m15 7h0m12-7h0m12 0h0m6 9h0m6-10h0m4 9h0m3 3h0m5-8h0m16 9h0m1-1h0m1-12h0m9-1h0m0 12h0m5 1h0m6 1h0m3-13h0m0 2h0m1-1h0m3 7h0m5-6h0m5-3h0m9 14h0m0-14h0m6 8h0m11 0h0m13-2h0m0 7h0m11 0h0m11-1h0m12-5h0m4 0h0m5-2h0m1 2h0m15 2h0m0-5h0m3 1h0m1 2h0m23-3h0m2 10h0m7-3h0m2-4h0m6 0h0m12-1h0m17-2h0m15 8h0m8-11h0m3-1h0m9 9h0m11 2h0m1 3h0m1-7h0m13 2h0m8-7h0m14 9h0m7-7h0m9 10h0m5-13h0m4 9h0m29-6h0m19-1h0m17 8h0m11 4h0m7-15h0m8 8h0m12-8h0m1 12h0m29-1h0m1-10h0m9 5h0m9 5h0m37-9h0m19-1h0m14 10h0m11 1h0m12-1h0m20 3h0m57 11h0m-42-1h0m-33 2h0m-20-4h0m-44 8h0m-19-1h0m-1-11h0m-23 4h0m-9 9h0m-39-11h0m-4 3h0m-14 2h0m-19 5h0m-24-12h0m-30 3h0m-16 3h0m-9-2h0m-11 7h0m-5-12h0m-7 14h0m-7-11h0m-13 5h0m-11 3h0m-5-10h0m-23 4h0m-4 1h0m-15-2h0m-2 9h0m-15-8h0m-12 6h0m-2-6h0m-2 5h0m-2 0h0m-2-11h0m-2 3h0m-3-3h0m-13 4h0m-11-2h0m-8-1h0m-3 11h0m-1-11h0m-5 6h0m-20 0h0m-11-6h0m-6 10h0m-1 4h0m-2-1h0m-10-3h0m-3-9h0m-18-2h0m-5 15h0m-3-15h0m-4 8h0m-11-6h0m-2 8h0m-7 3h0m-8-6h0m-6 5h0m-8-8h0m-5 8h0m-8-8h0m-13 0h0m0 11h0m0-10h0m-9-3h0m-3 0h0m-5 9h0m-17-6h0m-4 8h0m-10 2h0m-11-13h0m-26 6h0m-8 6h0m-1-10h0m-15 10h0m-5-11h0m-14 15h0m27 11h0m28-9h0m7 10h0m3-14h0m12 11h0m13-4h0m13 1h0m13-4h0m1 4h0m5-7h0m12 11h0m6-9h0m15 2h0m4-3h0m2 7h0m12-9h0m1 12h0m14-4h0m12 4h0m8 0h0m8-9h0m2 11h0m1-1h0m5-10h0m5 8h0m9-9h0m6-2h0m18 0h0m11 1h0m17 12h0m0-5h0m9-4h0m4 11h0m10-13h0m12 5h0m11-3h0m6-3h0m10 10h0m1-4h0m15 5h0m6-7h0m10 7h0m6-10h0m11 1h0m18 6h0m48-3h0m10 1h0m24-3h0m25 9h0m24-4h0m37-6h0m13 1h0m9 10h0m73-10h0m18 7h0m25 4h0m11-8h0m12-1h0m47 10h0m-20 10h0m-31-3h0m-60 0h0m-39-7h0m-9 6h0m-25 3h0m-20 6h0m-6-14h0m-12 12h0m-10-6h0m-54 1h0m-14 7h0m-9-4h0m-9-5h0m-10 7h0m-28-4h0m-10 0h0m-4-8h0m-21 0h0m-9 4h0m-1 0h0m-11 5h0m-14 2h0m-10-7h0m-9 5h0m-9-3h0m-24-7h0m-5 15h0m-21-7h0m-8 7h0m-2-4h0m-6-6h0m-12 6h0m-1-3h0m-13 5h0m-1-5h0m-1 4h0m-8-12h0m-2 1h0m-1 3h0m-4 5h0m-13 1h0m-15-2h0m-3-7h0m-3 5h0m-5 8h0m-2-11h0m-10 1h0m-13 8h0m-9-7h0m-8 10h0m-3-13h0m-19 13h0m-6-10h0m-13 5h0m-24-6h0m-14 4h0m-11 7h0m-14-15h0m-24 15h0m-5-8h0m17 9h0m4 12h0m7-8h0m12-4h0m5 13h0m7-10h0m16 1h0m17 2h0m11 3h0m5-9h0m20 5h0m10-1h0m14 9h0m23 2h0m10-5h0m13-1h0m25-6h0m17 3h0m12 9h0m14-13h0m18 11h0m18 2h0m2-10h0m19 6h0m2-4h0m33 7h0m22-9h0m12-2h0m6 11h0m9-7h0m20-3h0m14 0h0m10 5h0m24 3h0m32 1h0m49-7h0m25 7h0m22-9h0m10-2h0m10 13h0m11-12h0m34 2h0m15-2h0m7 11h0m17-14h0m8 15h0m-11 5h0m-33 0h0m-15 10h0m-3-13h0m-17 4h0m-30-4h0m-7 11h0m-36 1h0m-2-12h0m-48 11h0m-34-4h0m-18-5h0m-10 3h0m-9 6h0m-12-5h0m-35 4h0m-4-11h0m-15 1h0m-18 8h0m-11-3h0m-5 1h0m-5-1h0m-20 0h0m-14 7h0m-23-4h0m-13-6h0m-8 10h0m-27-11h0m-15 3h0m-14 8h0m-14-9h0m-12 8h0m-17-5h0m-12 8h0m-13-8h0m-7-7h0m-9 8h0m-10-5h0m-3 10h0m-17-11h0m-33 11h0m-10-8h0m-5-5h0m-4 9h0m-9 18h0m12-3h0m17-2h0m7 9h0m19 0h0m6-6h0m6-2h0m25-3h0m16 2h0m8 6h0m13-6h0m23 7h0m8-12h0m22 4h0m31-5h0m2 15h0m31-11h0m15 3h0m18 4h0m13-10h0m20 1h0m16 4h0m19 1h0m6 8h0m11-12h0m13-3h0m1 12h0m16-7h0m33 1h0m15 9h0m23-5h0m14 3h0m68-2h0m35 2h0m9-3h0m12-3h0m24 3h0m23-2h0m44 3h0m312 17h0m-368-9h0m-13 12h0m-15-8h0m-31-1h0m-10 3h0m-11 1h0m-9-4h0m-41 1h0m-23 1h0m-60 6h0m-11-13h0m-9 4h0m-11 0h0m-47 7h0m-23-11h0m-11-1h0m-22 13h0m-13 1h0m-13-6h0m-18 2h0m-11 1h0m-9-6h0m-29-3h0m-7 8h0m-9 5h0m-13-9h0m-3 1h0m-22 2h0m-17-5h0m-8 11h0m-9-10h0m-14-2h0m-3 2h0m-3 9h0m0-3h0m-8-10h0m-12 1h0m-26 8h0m-12 0h0m-14-9h0m9 18h0m10 7h0m17-1h0m3-6h0m14 4h0m8-7h0m15 11h0m17-2h0m14 0h0m5-8h0m9 6h0m9-3h0m15 1h0m7 9h0m30-12h0m10 4h0m12 6h0m20 0h0m16 2h0m56-6h0m10-1h0m7-7h0m8 8h0m3 7h0m24-7h0m10-3h0m9 0h0m31 5h0m14-2h0m22 1h0m14-8h0m13 10h0m20-8h0m15 5h0m50-6h0m3 11h0m36-3h0m33-3h0m13-6h0m24 7h0m11 5h0m-10 12h0m-24 2h0m-24-6h0m-9-5h0m-1 10h0m-16-1h0m-22 2h0m-26-5h0m-25 8h0m-25-12h0m-11 8h0m0-10h0m-61 10h0m-21-3h0m-14 0h0m-20-6h0m-20-1h0m-13 11h0m-13-8h0m-47 8h0m0-10h0m-19 7h0m-33-6h0m-29-1h0m-12 10h0m-10-3h0m-15 6h0m-10-4h0m-2-10h0m-19 1h0m-1 11h0m-10-7h0m-16-1h0m-17-1h0m-4 11h0m-9-13h0m-12 7h0m-11 4h0m-5-9h0m-15 6h0m-20-7h0m13 21h0m13-7h0m15 7h0m14 4h0m1-10h0m17 9h0m13-6h0m1 9h0m21-11h0m6 10h0m19-12h0m24 15h0m4-12h0m27 8h0m50-9h0m7 12h0m33-9h0m5 10h0m11-15h0m5 13h0m10-9h0m26 1h0m42 3h0m24-2h0m13-3h0m10 7h0m12 5h0m13-14h0m22 6h0m36 6h0m48 1h0m8-9h0m21 6h0m45-6h0m10 6h0m12-4h0m17-6h0m131 21h0m-138-6h0m-32 14h0m-27-3h0m-27-6h0m-55 7h0m-18-7h0m-6-2h0m-6 5h0m-8-8h0m-3 11h0m-33-6h0m-32-5h0m-18 10h0m-24-1h0m-20-8h0m-28 10h0m-50-9h0m-16-2h0m-36 12h0m-8-8h0m-11 11h0m-4-10h0m-11 8h0m-16-5h0m-11 2h0m-20-5h0m-42-3h0m-11 8h0m-25-8h0m-22 9h0m-9-5h0m-12-6h0m21 21h0m7 10h0m19-14h0m13 12h0m14 1h0m16-7h0m47 8h0m25-2h0m26-2h0m25-10h0m29 12h0m5-11h0m21 8h0m43-1h0m13 0h0m18-5h0m22 0h0m62 1h0m16 5h0m23 5h0m9-11h0m1 10h0m12-5h0m29 5h0m14-2h0m7-7h0m27-1h0m2 11h0m26-10h0m33 2h0m37 4h0m-2 12h0m-39 1h0m-40 4h0m-42 1h0m-33-7h0m-11-4h0m-26 6h0m-7-3h0m-6 6h0m-10-7h0m-19-3h0m-18 1h0m-7 10h0m-15-6h0m-12 9h0m-22-2h0m-11-7h0m-37 6h0m-18-3h0m-14 2h0m-10-4h0m-9-7h0m-14 15h0m-3-9h0m-11 9h0m-22-8h0m-11 1h0m-17-3h0m-58 5h0m-11-8h0m-6 11h0m-34-7h0m-10 8h0m-15-7h0m29 10h0m37 3h0m12 6h0m9-10h0m14 15h0m32-3h0m17-7h0m58 6h0m13-3h0m23-3h0m12 10h0m53-5h0m25 1h0m12 2h0m36-13h0m12 4h0m43-2h0m13 3h0m20 5h0m10-6h0m50 8h0m12 1h0m15-13h0m8 6h0m19-4h0m9 11h0m20-3h0m-29 20h0m-5-14h0m-15 5h0m-10 2h0m-16 2h0m-13 3h0m-12-6h0m-23 2h0m-16-4h0m-12 11h0m-8-10h0m-27 7h0m-48 3h0m-1-13h0m-20 1h0m-32-1h0m-10 3h0m-22 7h0m-20 2h0m-24-1h0m-9-12h0m-16-1h0m-16 8h0m-35 5h0m-5-9h0m-5 10h0m-46 1h0m-23-4h0m-10 2h0m-28-1h0m-17-12h0m-26 10h0m-2 12h0m12 2h0m21-7h0m6 10h0m28 0h0m32 2h0m18 1h0m12-1h0m47-13h0m90 8h0m12-3h0m11 5h0m19-2h0m26 4h0m11-10h0m19 7h0m12-3h0m53-6h0m11 2h0m47 13h0m10-15h0m16 10h0m26 0h0m-21 15h0m-14-9h0m-4 12h0m-24-12h0m-15 8h0m-15-4h0m-26 3h0m-34 1h0m-38-6h0m-19 2h0m-73 4h0m-31-6h0m-7 12h0m-45-12h0m-18-2h0m-43 15h0m-25-12h0m-8 8h0m-28-10h0m-24 5h0m14 19h0m16 0h0m10-7h0m4 9h0m15-9h0m37 11h0m13-5h0m21 4h0m9-4h0m24 2h0m20 1h0m31-2h0m22 2h0m18-7h0m27 10h0m31-4h0m45-2h0m11-5h0m8 10h0m48-1h0m10 3h0m9-8h0m12-4h0m12 7h0m51-6h0m-39 25h0m-47 0h0m-44-11h0m-21 1h0m-73-3h0m-8 7h0m-13-3h0m-4 0h0m-9 6h0m-15-3h0m-23-4h0m-9 10h0m-14 2h0m-5-15h0m-38 0h0m-10 13h0m-67-9h0m-4 10h0m-26-5h0m-23-7h0m19 16h0m41-2h0m27 7h0m18-4h0m33 7h0m36 1h0m21-7h0m10 9h0m6-12h0m19 7h0m23-8h0m8 7h0m19 8h0m5-9h0m12 1h0m15-4h0m1 11h0m9-7h0m28 5h0m28 3h0m10 0h0m48-8h0m3 15h0m-80 9h0m-19-11h0m-7 9h0m-37-2h0m-25-1h0m-51-6h0m-9 7h0m-26 3h0m-4-10h0m-70 4h0m-12-5h0m-15 9h0m-11-11h0m-27 3h0m31 18h0m31 5h0m22-9h0m14 5h0m14-6h0m13 0h0m62 7h0m7-8h0m18 0h0m25 1h0m2 10h0m17-5h0m16-6h0m17 6h0m20 5h0m19 4h0m21-8h0m19-1h0m9-5h0m-31 29h0m-1-14h0m-26 9h0m-18-6h0m-22 1h0m-25 10h0m-22-2h0m-17-7h0m-22 2h0m-24 8h0m-9-10h0m-5 9h0m-70-11h0m-10 0h0m-26 9h0m30 5h0m1 14h0m17-10h0m39 9h0m44-3h0m6-11h0m13 3h0m27 10h0m16-8h0m31-1h0m23 8h0m28-4h0m8-5h0m9 14h0m-66 5h0m-9-3h0m-24 2h0m-15 3h0m-28 2h0m-64 4h0m-17-13h0m-10 7h0m48 17h0m15-3h0m13-4h0m1 11h0m15-4h0m44-8h0m-1 16h0m-22 5h0"/></defs><g opacity="0.178"><use href="#l7" stroke="#00003c" stroke-width="11"/><use href="#l7" stroke="#0000ff" stroke-width="7"/></g><defs><path id="l8" d="M532 175h0m41-7h0m22 6h0m29-1h0m11-1h0m30 3h0m56 15h0m-39 1h0m-14-4h0m-33 2h0m-42-3h0m-25-9h0m-12 9h0m-11-10h0m-47 15h0m-37 12h0m25-5h0m36-2h0m18-4h0m29 9h0m25 5h0m51-14h0m11 4h0m14 11h0m32-15h0m16 10h0m61 17h0m-41-4h0m-23-2h0m-21 1h0m-14 2h0m-13 7h0m-31-2h0m-12-9h0m-27 8h0m-38-9h0m-21 6h0m-11-2h0m-13-6h0m-28 14h0m-10-2h0m-12-4h0m-8 13h0m9 6h0m10 1h0m24-10h0m7 8h0m50-10h0m33 0h0m110 1h0m5 10h0m17-10h0m29 9h0m40-1h0m40-1h0m-51 16h0m-54-8h0m-22 7h0m-23-8h0m-6 14h0m-14-12h0m-38 0h0m-7 13h0m-18-5h0m-30-8h0m-6 8h0m-27-10h0m-83 10h0m-7-10h0m-21 9h0m-14 15h0m18 3h0m12 3h0m31-1h0m7-10h0m11 7h0m32 2h0m7-10h0m10 12h0m10 0h0m0-12h0m33 4h0m52-3h0m28 6h0m33-5h0m17 4h0m16-7h0m18 8h0m15-4h0m16-3h0m23 5h0m31 24h0m-3-12h0m-37 0h0m-18 8h0m-49-5h0m-14 7h0m-8-13h0m-6 13h0m-9-2h0m-5-11h0m-31 8h0m-19 2h0m-15 4h0m-11 0h0m-55-4h0m-11 3h0m-18-4h0m-52 6h0m-9-15h0m-5 11h0m-18 4h0m-11-3h0m-7-11h0m-15 0h0m-4 10h0m-7-7h0m-23 9h0m-16 17h0m20 1h0m28-8h0m15 0h0m27 2h0m22-1h0m16 7h0m15-13h0m15-1h0m29 8h0m20 3h0m13-12h0m7 14h0m11-10h0m41 8h0m21-11h0m14 5h0m20 1h0m16 0h0m16-1h0m30-5h0m9 8h0m10-1h0m9-5h0m12 1h0m11 3h0m10-7h0m28 29h0m-18-9h0m-32 10h0m-21-11h0m-22 0h0m-21-2h0m-21 5h0m-9 6h0m-13-4h0m-10-4h0m-65-4h0m-50 6h0m-43 2h0m-10 6h0m-2-9h0m-42 7h0m-7-7h0m-5 9h0m-24-13h0m-14 5h0m-10-4h0m-17 12h0m-24-3h0m-13-5h0m-9 19h0m14 2h0m28 3h0m41 0h0m17-12h0m12 6h0m10 2h0m25-5h0m33 5h0m10-9h0m21 13h0m21-12h0m46 2h0m11 10h0m9-12h0m8 10h0m10-10h0m11 8h0m22 1h0m35-1h0m58-10h0m80 29h0m-13-5h0m-40 1h0m-20-7h0m-12 8h0m-19-8h0m-21 7h0m-26 0h0m-23-2h0m-23-1h0m-48-4h0m-2 12h0m-8-10h0m-10-3h0m-15-1h0m-17 0h0m-30 9h0m-4-9h0m-17 4h0m-19-1h0m-25 1h0m-16 0h0m-9 8h0m-11-12h0m-10 14h0m-20-2h0m-5-8h0m-12 4h0m-24 7h0m-18-5h0m-10-7h0m-27 1h0m22 23h0m24 0h0m40-5h0m7 9h0m20-3h0m33-6h0m17-6h0m8 13h0m50-4h0m21-3h0m22 3h0m53-7h0m17 4h0m3 9h0m21-3h0m11-1h0m12-1h0m16-9h0m21 9h0m20-4h0m28 7h0m7-10h0m22 7h0m49-9h0m14 6h0m-7 19h0m-35-5h0m-40 6h0m-101-8h0m-34 12h0m-11-2h0m-11-1h0m-30-6h0m-9 7h0m-9-8h0m-32-3h0m-17 5h0m-21 1h0m-63 2h0m-3-9h0m-9 13h0m-12-4h0m-11 2h0m-18 3h0m-2-11h0m-15 9h0m-28-7h0m-7 7h0m-12-5h0m-24 1h0m-13-7h0m-11 23h0m23-5h0m12 9h0m32 2h0m2-13h0m13 6h0m11-1h0m19 2h0m26 0h0m31-6h0m11 5h0m11 4h0m26-1h0m16 3h0m9-10h0m13-4h0m15 1h0m39 12h0m18-12h0m19 6h0m27 4h0m11 2h0m26-3h0m1-10h0m24 0h0m42 5h0m10-5h0m14 7h0m51 6h0m4-11h0m8 13h0m2-14h0m24 11h0m16 5h0m-11 8h0m-7-7h0m-12 2h0m-23 3h0m-12 2h0m-9-5h0m-27 4h0m-7-7h0m-6 10h0m-10-5h0m-14 4h0m-74 1h0m-32-5h0m-17 1h0m-62-7h0m-18 2h0m-4 11h0m-10 2h0m-40-2h0m-6-4h0m-22-7h0m-21 10h0m-6-10h0m-23 3h0m-14 0h0m-18 9h0m-1-4h0m-19-1h0m-29-9h0m-10 10h0m-17-9h0m-19 2h0m-10 3h0m-4 23h0m3-12h0m11 1h0m13 7h0m39-4h0m10-5h0m4 11h0m8-8h0m10 12h0m3-10h0m14-2h0m21 3h0m6 8h0m15-4h0m23-5h0m11 6h0m29 3h0m6-12h0m18 11h0m49-9h0m43 3h0m19 4h0m24 1h0m12 0h0m22 1h0m5-13h0m45 11h0m10-7h0m11 4h0m8-7h0m6 9h0m22 3h0m34 1h0m16-1h0m15 0h0m12-8h0m47 6h0m73 17h0m-30-3h0m-68-1h0m-8 7h0m-28-2h0m-36-3h0m-56-6h0m-42 1h0m-17 2h0m-8-7h0m-77 5h0m-27 3h0m-8-6h0m-17 4h0m-8 8h0m-5-11h0m-79 1h0m-37 2h0m-26 4h0m-8-8h0m-10 3h0m-9 9h0m-22-7h0m-15 1h0m-14-6h0m-12-2h0m-9 15h0m-1-3h0m-11-7h0m-20-4h0m-6 14h0m-15-3h0m-6-10h0m25 24h0m11-7h0m36 0h0m8 8h0m9-5h0m12-1h0m13 6h0m35-4h0m9-3h0m14 6h0m8-7h0m12 3h0m22 2h0m34-5h0m28-3h0m16 13h0m21 2h0m4-12h0m29-2h0m31 3h0m30 10h0m13-9h0m16 8h0m30-3h0m44-2h0m9-7h0m18 8h0m22-2h0m11 5h0m17-4h0m37 0h0m13 4h0m10 1h0m54-2h0m80-8h0m-10 26h0m-105 2h0m-39-6h0m-17-1h0m-25-4h0m-23-3h0m-19 14h0m-18-12h0m-22 11h0m-35-2h0m-13-3h0m-15-3h0m-39 5h0m-25-7h0m-27-3h0m-5 8h0m-12-6h0m-12 11h0m-29-7h0m-18 3h0m-16-9h0m-21 4h0m-11-3h0m-3 10h0m-20 1h0m-24-4h0m-46-6h0m-31 1h0m-9 5h0m-9-5h0m-13 0h0m-4-2h0m-3 9h0m-11 2h0m-4-10h0m-10 7h0m-27 4h0m-10-12h0m-6 5h0m-6 1h0m-3 10h0m10 1h0m13 7h0m26-6h0m22 9h0m17-1h0m7-9h0m15 6h0m9-8h0m4 13h0m16-3h0m13 3h0m7-9h0m14-4h0m10 5h0m12 6h0m17-5h0m15 0h0m16 5h0m28-5h0m19-1h0m23-5h0m5 13h0m30-7h0m11-3h0m21 0h0m36 11h0m5-10h0m11-4h0m25 3h0m13 0h0m28 6h0m15 1h0m16-11h0m26 10h0m21-10h0m9 7h0m47 0h0m24-3h0m15 0h0m16 4h0m11 4h0m95 16h0m-109-7h0m-21-2h0m-10 7h0m-8-10h0m-2 11h0m-49-3h0m-25-2h0m-29 2h0m-16-7h0m-31 2h0m-15-3h0m-13 7h0m-36 0h0m-26 0h0m-22-5h0m-22 0h0m-11 9h0m-13-1h0m-26-1h0m-17-7h0m-11-2h0m-13 4h0m-12 5h0m-23-4h0m-19 4h0m-17 4h0m-17-7h0m-5 9h0m-5-9h0m-17 2h0m-9-4h0m-12 6h0m-13 1h0m-14-3h0m-8-6h0m-22 11h0m-10 2h0m-4-13h0m-8 11h0m-3-12h0m-10 8h0m-10-6h0m-5-2h0m-6 9h0m-7-4h0m-10-3h0m-16 25h0m25-7h0m5 8h0m15-10h0m16 4h0m10 6h0m21-2h0m8-11h0m1 5h0m12 0h0m11-5h0m0 14h0m14-1h0m16-7h0m21 7h0m1-9h0m2 11h0m10-6h0m15 1h0m4-1h0m14 4h0m7-9h0m23 2h0m17-3h0m0 7h0m16-9h0m17 12h0m36-4h0m28 3h0m10-3h0m22-9h0m10 0h0m3 9h0m32 6h0m9-13h0m9 7h0m37-3h0m34 5h0m84-10h0m20 2h0m9 8h0m8-7h0m12 7h0m21-8h0m43 22h0m-15 0h0m-37-2h0m-41 7h0m-24-10h0m-13 2h0m-13-5h0m-9 10h0m-43 4h0m-9-11h0m-16-4h0m-9 10h0m-22-7h0m-16 1h0m-35 10h0m-41-8h0m-8 9h0m-28-12h0m-30-3h0m-1 9h0m-14 2h0m-27-7h0m-17 4h0m-2 4h0m-3-11h0m0 1h0m-11 10h0m-15-9h0m-6 8h0m-10-7h0m-20-1h0m-5 8h0m-19 3h0m-3-6h0m-6-8h0m-15 10h0m-6 4h0m-13-2h0m-9-5h0m-7-6h0m-4-1h0m-14 5h0m-14 4h0m-2-9h0m-18 1h0m-4 3h0m-14 1h0m-18 9h0m-9-9h0m-10 4h0m0 8h0m4 7h0m11-7h0m18 9h0m1-7h0m7-1h0m1 12h0m9-6h0m13 5h0m7-9h0m3 10h0m11-2h0m7-4h0m0-4h0m8 8h0m11-11h0m2 12h0m12-6h0m10 1h0m2-5h0m8 7h0m1 5h0m5-7h0m4-3h0m2 3h0m5 5h0m5-5h0m9 3h0m3-4h0m1-1h0m12 2h0m2 6h0m10-13h0m1 10h0m10 1h0m6-2h0m21 0h0m10-5h0m1 9h0m10 1h0m8-7h0m8 7h0m2-15h0m14 4h0m13 1h0m6 9h0m26-7h0m8-6h0m17 8h0m39-4h0m13 3h0m25-4h0m12 2h0m59 0h0m23 8h0m13 1h0m7-10h0m25-1h0m22 2h0m15-6h0m3 11h0m5-4h0m15-2h0m3 9h0m13-5h0m5-9h0m8 11h0m10-8h0m115 9h0m-67 7h0m-11 8h0m-16-2h0m-26-2h0m-53 4h0m-54-2h0m-10-2h0m-28 0h0m-11 2h0m-12 2h0m-18-11h0m-7 9h0m-12 4h0m-3-13h0m-25 9h0m-30-8h0m-4 13h0m-8-14h0m-13 13h0m-8-7h0m-9 9h0m-3-7h0m-19 2h0m-11-2h0m-17-8h0m-6 7h0m-13-1h0m-11 0h0m-4 0h0m-14 0h0m-13 4h0m-11-2h0m-12-3h0m-7 7h0m-11-5h0m-1-3h0m-9 3h0m-11 8h0m-9-14h0m-10 5h0m-3 2h0m-18-5h0m-2 7h0m-12-1h0m-14-4h0m-4-2h0m-6 3h0m-11 9h0m-7-7h0m-10-1h0m-10 0h0m-16-1h0m-9-2h0m-27-2h0m-2-2h0m-5 15h0m-3-12h0m-11 11h0m-14-6h0m-9 6h0m4 17h0m16-6h0m12 3h0m11-2h0m9 5h0m4-15h0m7 8h0m7-8h0m6 9h0m9-4h0m1 10h0m10-3h0m11-10h0m0 2h0m2 0h0m13 7h0m7-1h0m11-7h0m4 11h0m2-2h0m6-11h0m3 7h0m5-1h0m4-3h0m2 4h0m7-7h0m7 2h0m5 11h0m10-2h0m1-11h0m11 7h0m16 5h0m1-12h0m8 7h0m2 7h0m8-5h0m11-9h0m4 7h0m11 1h0m8-5h0m15 9h0m2-12h0m2 6h0m8 0h0m10-7h0m6 10h0m12-7h0m14 12h0m0-12h0m15 6h0m16 4h0m15-2h0m10-1h0m7 5h0m10-7h0m0-1h0m11-1h0m13-3h0m10 5h0m13-8h0m3 15h0m5-8h0m20 4h0m13-3h0m12 1h0m12-3h0m8 7h0m9-6h0m15 7h0m11-11h0m1 10h0m14-1h0m30-7h0m16 6h0m15 3h0m13-2h0m13-7h0m20-4h0m17 9h0m11-3h0m19 5h0m8-9h0m122 12h0m32-3h0m84-3h0m15-5h0m181 23h0m-50-1h0m-1-2h0m-4 3h0m-14 0h0m-15-6h0m-18 2h0m-13 3h0m-2 3h0m-10-12h0m-21 8h0m-22 1h0m-12-1h0m-13 1h0m-23 0h0m-49-3h0m-17 6h0m-24 1h0m-21-8h0m-24 6h0m-16-3h0m-12 5h0m-38-12h0m-15 9h0m-10-2h0m-13 0h0m-25 5h0m-3-7h0m-4-2h0m-10 10h0m-5-14h0m-7 7h0m-21 3h0m-10-5h0m-11 6h0m-4-11h0m-19 5h0m-13 2h0m-1-8h0m-13 4h0m0 11h0m-1-4h0m-5 1h0m-5-5h0m-14 5h0m-6-2h0m0 2h0m-4-3h0m-10 1h0m-9 4h0m-6-10h0m-2 7h0m-6 0h0m-10-6h0m-7 7h0m-8-8h0m-5 11h0m-1-2h0m-2-1h0m-8-4h0m-8 5h0m-3-4h0m-4-7h0m-8 5h0m-13 0h0m-3 8h0m-3-15h0m-10 8h0m-1 6h0m-1-1h0m-23-2h0m-5-6h0m-5 8h0m-1 1h0m-16-7h0m-3 2h0m-2 1h0m-1 1h0m-3-8h0m-5 6h0m-5 4h0m-1-1h0m-10-2h0m-2 3h0m-9 1h0m-4-9h0m-12-2h0m-11 2h0m-16 3h0m-15 6h0m-4-6h0m-12-7h0m0 9h0m-17 2h0m-6-1h0m-16-11h0m-1 15h0m-2 0h0m-7-11h0m-16 5h0m0-3h0m-3 7h0m-8-9h0m-3 0h0m-3-2h0m-4 9h0m-1-10h0m-2 3h0m-1 10h0m-10-8h0m-10 2h0m-14 4h0m-6-11h0m-2 0h0m-9 14h0m-5-8h0m-17 3h0m-18-5h0m-17 4h0m-22 2h0m-8-8h0m-5 10h0m-5-10h0m-5 12h0m-3 10h0m24-1h0m14-4h0m11 0h0m11-4h0m0 11h0m10 0h0m1-10h0m16 13h0m7-9h0m15 0h0m8 2h0m10 1h0m9 5h0m5-8h0m6 5h0m13-7h0m13 4h0m2-3h0m1 10h0m3 0h0m7-9h0m4 7h0m27-3h0m10-1h0m11 0h0m2-4h0m15 3h0m2-3h0m13-3h0m6 8h0m7-6h0m2-2h0m9 8h0m7-4h0m7 6h0m7 0h0m5-11h0m10 6h0m1 7h0m1-4h0m2 6h0m0-6h0m1-7h0m8 11h0m9-13h0m15 3h0m8 8h0m1-4h0m7 8h0m0-6h0m3-7h0m0 3h0m1 3h0m3-7h0m5 5h0m1-4h0m5 0h0m0 12h0m14-5h0m8-7h0m2 9h0m6 2h0m3-6h0m10 7h0m6-5h0m1-6h0m12 4h0m7 7h0m9-14h0m5 10h0m3 2h0m1 3h0m2-11h0m8 11h0m4-6h0m14 6h0m1-1h0m10-9h0m2 0h0m9 10h0m14-9h0m17 6h0m2-7h0m13 4h0m3 6h0m9-5h0m4 3h0m3-13h0m13 12h0m2-7h0m9 2h0m3-1h0m11-2h0m11 2h0m0 5h0m9-11h0m10 13h0m38-10h0m6 8h0m9-2h0m9 4h0m11-7h0m23-6h0m18 10h0m27 1h0m32 1h0m2-11h0m17 4h0m8 7h0m42-3h0m27 2h0m13-6h0m26 3h0m13-4h0m11 3h0m12 3h0m20-2h0m11-3h0m27 2h0m43-1h0m332 0h0m330 16h0m-819-6h0m-72 11h0m-53 4h0m-13-7h0m-39-2h0m-21-6h0m-14 13h0m-5-11h0m-24 2h0m-9 5h0m-4-9h0m-18 2h0m-5 1h0m-4 10h0m-10-2h0m-8-7h0m-1 3h0m-1-2h0m-2-3h0m-14 11h0m-8-9h0m-3 5h0m-4 3h0m-3-12h0m-7 14h0m-3-13h0m-14 8h0m-3-1h0m-13-3h0m0 0h0m-11 1h0m-18-2h0m-4 1h0m-3 9h0m-10-4h0m-8-6h0m-2 11h0m-13-5h0m-1 0h0m-6-5h0m-6-1h0m-1 3h0m-8 7h0m-3-1h0m-1-12h0m-12 4h0m-15 9h0m-5-10h0m-12 11h0m-11-5h0m-9 1h0m-12-6h0m-9 5h0m-14 3h0m-2-9h0m-4-2h0m-5 9h0m-10-7h0m-9 10h0m-7-13h0m0 10h0m-2-2h0m-1 5h0m-3-6h0m0 4h0m-9-7h0m-4 7h0m0-6h0m-2-5h0m-9 2h0m-9 2h0m-7 8h0m-3-2h0m-4-6h0m-4 8h0m-1-12h0m-7 6h0m-1 0h0m-9-5h0m-13 4h0m-16 6h0m-7-12h0m-11 1h0m-10 8h0m-10 5h0m-8-8h0m-6 8h0m-3-1h0m-2-9h0m-2 0h0m-7 2h0m-5 0h0m-1-6h0m-1 8h0m-2 1h0m-5-9h0m-3 12h0m-6-9h0m-2 8h0m-9-6h0m-12 3h0m-1 0h0m-12-2h0m-1 2h0m-2 4h0m-12-11h0m0 5h0m-10 0h0m-18 5h0m-10 1h0m-9-6h0m-7 8h0m-8-7h0m-13-4h0m-21 12h0m-8-14h0m-5 23h0m17 0h0m7-8h0m7 13h0m11-10h0m4 9h0m15-3h0m20 2h0m9 2h0m2-10h0m12-2h0m6 5h0m9-3h0m2 10h0m1-1h0m6-10h0m5 2h0m2 6h0m4 1h0m5-9h0m2 9h0m5-2h0m2-3h0m10 0h0m10-4h0m2 4h0m9 4h0m1-9h0m2 14h0m0-3h0m13-1h0m2-5h0m4-3h0m6 7h0m10-3h0m8-5h0m1 4h0m3 3h0m4 2h0m15-2h0m10 2h0m6 1h0m5-12h0m0 0h0m7 4h0m3 11h0m2-14h0m9 5h0m7 2h0m12 0h0m10-2h0m12 3h0m2-7h0m9 11h0m0-3h0m1 1h0m2-10h0m19 10h0m10 4h0m5-9h0m15-3h0m5-2h0m8 13h0m2-13h0m5 2h0m5 8h0m13-5h0m13 4h0m10-6h0m6 3h0m9 8h0m2-15h0m4 5h0m9 10h0m5-9h0m18-2h0m6 10h0m21-10h0m10 5h0m22-4h0m11 0h0m6 8h0m5-13h0m29 15h0m12-1h0m15 1h0m11-12h0m14 7h0m16-4h0m24-1h0m9-4h0m8 6h0m19 6h0m-20 18h0m-11-13h0m-11 13h0m-11-10h0m-19-2h0m-13-1h0m-44 13h0m-16-14h0m-26 11h0m-4-10h0m-8 6h0m-10-4h0m-28 5h0m-10 3h0m-30-6h0m-1 3h0m-30-5h0m-19-4h0m-7 10h0m-8-1h0m-4 6h0m-2-8h0m-11 1h0m-9 6h0m-1-12h0m-22 0h0m-12 12h0m-5-12h0m-24 0h0m-2 10h0m-14-8h0m-1 11h0m-16-14h0m-1 2h0m0 3h0m-6-6h0m-21 12h0m-19-10h0m-8 13h0m-3-11h0m-17 1h0m-10-2h0m-7 6h0m-11-3h0m-8 4h0m-10-8h0m-3 3h0m-6 4h0m-13-3h0m-9-2h0m-4-1h0m-16 11h0m0-8h0m-2 3h0m-10-1h0m0 4h0m-15-9h0m-9 5h0m-10-2h0m-11 2h0m-11 3h0m-9 4h0m-4-9h0m-9 3h0m-9 5h0m-20-5h0m8 13h0m9 7h0m13-5h0m10 1h0m16-3h0m8 0h0m3 5h0m14-5h0m3 7h0m10-10h0m15 4h0m10 4h0m1-5h0m0-4h0m12 3h0m8 8h0m4-10h0m2 12h0m8-6h0m11-7h0m9 1h0m5 9h0m11-5h0m17-5h0m1 12h0m1-7h0m10-3h0m3-3h0m1 12h0m8-6h0m13-3h0m18 3h0m17 3h0m3-10h0m14 2h0m17 5h0m10-1h0m1 4h0m4-3h0m14-6h0m14 13h0m8-14h0m2 12h0m4-2h0m5 4h0m6-9h0m22 4h0m15 6h0m12-15h0m14 6h0m13-5h0m27 0h0m12 2h0m6 7h0m12 4h0m11-11h0m10 12h0m28-5h0m30-1h0m15 1h0m26-8h0m27 5h0m14-3h0m10 4h0m3-4h0m34 4h0m35-8h0m-52 26h0m-27-9h0m-4 11h0m-28-10h0m-26 11h0m0-13h0m-18 9h0m-23-2h0m-10 8h0m-27-7h0m-39 0h0m-10-2h0m-20-4h0m-2 11h0m-9-9h0m-9 4h0m-7-6h0m-21 9h0m-32-11h0m-11 11h0m-40-9h0m-9 13h0m-5-13h0m-14 8h0m-10-8h0m-13 2h0m-19 8h0m-5-5h0m-14-4h0m-14 8h0m-1-7h0m-12 6h0m-35-7h0m-9 8h0m-11 2h0m-5-11h0m-15 9h0m-3-6h0m-14 7h0m-2-7h0m-5 0h0m-8 6h0m-13-5h0m-6 9h0m-8-5h0m-2-1h0m-20 3h0m-3-3h0m-8-7h0m-8 9h0m-18-6h0m-32-3h0m12 21h0m10-7h0m1 13h0m14-8h0m10 8h0m1-1h0m8-7h0m32 0h0m17 8h0m6-1h0m2-8h0m20-1h0m10 1h0m14 5h0m31 1h0m8-9h0m6 9h0m18-2h0m13 0h0m11-4h0m19-3h0m21 6h0m8-6h0m9 12h0m3-6h0m16-1h0m26 6h0m5-8h0m31 2h0m9-4h0m31 3h0m25-4h0m11 2h0m17 9h0m9-12h0m11 6h0m11 1h0m16-6h0m25 5h0m12 0h0m9 6h0m13-6h0m24 4h0m10-2h0m130 2h0m11-8h0m-21 28h0m-6-13h0m-38 6h0m-18 8h0m-3-10h0m-52 7h0m-13 3h0m-9 0h0m-37-7h0m-10-4h0m-10 8h0m-21-2h0m-27 5h0m-24-10h0m-11-1h0m-14-3h0m-12 5h0m-11-4h0m0 10h0m-15-9h0m-3 11h0m-16-7h0m-9-1h0m-8-5h0m-2 14h0m-27-6h0m-20-1h0m-14 6h0m-12 1h0m-4 0h0m-9-3h0m-15-9h0m-20 5h0m-11-4h0m-8 7h0m-15-1h0m-20 4h0m-8-2h0m-4-12h0m-5 6h0m-2 1h0m-13-4h0m-30 0h0m-7 8h0m-8-9h0m-27 6h0m-31 4h0m-11-4h0m-11 3h0m-1-8h0m-9 21h0m10-5h0m10 8h0m10-1h0m21-1h0m0 0h0m11 6h0m14-2h0m10-13h0m8 13h0m11-5h0m22-7h0m19 13h0m11-13h0m7 11h0m13-2h0m35-7h0m28-1h0m6 10h0m14-2h0m22-3h0m39-1h0m26 8h0m11-11h0m9-3h0m24 12h0m46 2h0m28 1h0m5-9h0m5 3h0m10-5h0m59 5h0m15-5h0m21 10h0m46-12h0m9 9h0m66-5h0m160 4h0m-154 7h0m-25-1h0m-31 11h0m-24-2h0m-9-7h0m-16 12h0m-13 0h0m-22-4h0m-27 3h0m-10-4h0m-7-6h0m-14-3h0m-18 5h0m-16 9h0m-55-8h0m-63 4h0m-10 4h0m-19-2h0m-11-3h0m-8-7h0m-7 8h0m-16-2h0m-11-8h0m-7 12h0m-6 1h0m-6-1h0m-16 1h0m-11-5h0m-16-4h0m-13 1h0m-7 6h0m-8-3h0m-2-1h0m-14-2h0m-10 1h0m-28-6h0m-5 9h0m-12-9h0m-10 2h0m-4 10h0m-13-1h0m-12 3h0m-11-3h0m-11-7h0m-12-2h0m-3 5h0m-10 4h0m-5 18h0m9-5h0m8-8h0m16 2h0m10 2h0m13 7h0m38-6h0m4 10h0m13-9h0m7 8h0m14-1h0m16-12h0m9 12h0m5-8h0m21 2h0m9-6h0m3 12h0m8-11h0m19 5h0m19-3h0m3 10h0m8-6h0m16-2h0m12 2h0m27 0h0m15 5h0m21 1h0m18-7h0m11-4h0m13 4h0m17-2h0m10-5h0m9 1h0m6 12h0m7-11h0m31 9h0m7-6h0m11 2h0m18-5h0m7 11h0m40-1h0m13 2h0m36-4h0m19-6h0m32 2h0m90 16h0m-71 3h0m-39-9h0m-3 14h0m-17-6h0m-24 4h0m-32 3h0m-15-13h0m-19 10h0m-33-11h0m-9 8h0m-2 6h0m0-11h0m-23-3h0m-13 12h0m-4-9h0m-18 10h0m-42-2h0m0-12h0m-17 4h0m-41 2h0m-10 0h0m-22 4h0m-19-1h0m-22-1h0m-19 7h0m-8-12h0m-20 6h0m-49 1h0m-14 1h0m-17-2h0m-12-2h0m-20-3h0m-13-2h0m-3 12h0m-7-9h0m-19 9h0m0-14h0m-10 0h0m-4 10h0m-19 20h0m5-10h0m5 9h0m11 2h0m18-10h0m18 3h0m13 4h0m32-11h0m4 11h0m37 1h0m6-13h0m14 8h0m31-8h0m48 8h0m13-4h0m30-1h0m21 1h0m38 8h0m21-3h0m24-2h0m19 3h0m45-9h0m41 9h0m45 1h0m25-5h0m50 8h0m12-10h0m9 8h0m10 2h0m4 15h0m-50 1h0m-9-7h0m-13 6h0m0-10h0m-15-3h0m-40 7h0m-24 5h0m-9-9h0m-10 6h0m-11-1h0m0-2h0m-8-4h0m-11-1h0m-30 0h0m-37 6h0m-19 0h0m-9 5h0m-19-7h0m-22 9h0m-42-13h0m-17 0h0m-8 11h0m-11-12h0m-29 12h0m-3-11h0m-20-1h0m-3 12h0m-7-12h0m-22 3h0m-13 5h0m-10-4h0m-23 10h0m-33-6h0m-10-6h0m-8 13h0m-26-9h0m-4 11h0m16 3h0m15 4h0m17-1h0m22 0h0m13 4h0m51-8h0m63 2h0m31 7h0m20-12h0m26 0h0m15 10h0m32-9h0m15 5h0m63 2h0m39 5h0m27-2h0m13 4h0m17-7h0m19 2h0m22-3h0m37 3h0m13-2h0m14-4h0m15 2h0m-10 25h0m-5-13h0m-34 13h0m-10-12h0m-15-3h0m-11 13h0m-12-3h0m-8-8h0m-2 11h0m-10 1h0m-6-12h0m-10 7h0m-30-1h0m-10 6h0m-13-9h0m-12 1h0m-48-5h0m-32 9h0m-15-2h0m-15 7h0m-4-15h0m-23 3h0m-22 10h0m-8-9h0m-6 11h0m-3-14h0m-23 4h0m-9 5h0m-5-10h0m-16 13h0m-6-10h0m-16 9h0m-2-11h0m-15 0h0m-8 6h0m-6 8h0m-10-4h0m-22-5h0m-47-6h0m-9 8h0m-18 3h0m-11-6h0m-14-1h0m9 16h0m40 9h0m15-12h0m15 8h0m3-9h0m10 7h0m10-3h0m40 5h0m12-5h0m15 10h0m24-13h0m17 5h0m24 4h0m11 1h0m26-7h0m4 11h0m46-10h0m1 10h0m25-13h0m25 2h0m16 4h0m12 4h0m9-9h0m34 4h0m50 0h0m18-2h0m67 2h0m17 4h0m14 4h0m45-1h0m-51 17h0m-30-14h0m-18 6h0m-9 4h0m-11-9h0m-25 8h0m-11-7h0m-16 10h0m-12-6h0m-16 1h0m-12 2h0m-15-5h0m-2 10h0m-63-12h0m-22 0h0m-15 9h0m-48 0h0m-8-4h0m-27-3h0m-19-4h0m-1 13h0m-65-6h0m-37-7h0m-7 14h0m-22-1h0m-28-2h0m-14 3h0m-25-5h0m13 8h0m7 8h0m12-3h0m10 0h0m9-3h0m25 0h0m33-2h0m10 6h0m37 4h0m26-2h0m0-10h0m44 0h0m13 1h0m10 7h0m18-2h0m13 4h0m44-7h0m28 5h0m31 4h0m58-2h0m37 0h0m26-2h0m56-5h0m-12 21h0m-13 5h0m-24-10h0m-9 5h0m-16-7h0m-9 12h0m-12-6h0m-15 3h0m-26 2h0m-81-1h0m-11-1h0m-7-10h0m-8 15h0m-28-1h0m-29-7h0m-27-6h0m-2 0h0m-6 9h0m-19-4h0m-34-6h0m-20 12h0m-37-10h0m-11 0h0m-13 1h0m-15 10h0m0-13h0m-22 4h0m-32 6h0m32 14h0m36 5h0m7-12h0m5 9h0m11 2h0m42-7h0m35 10h0m16-3h0m6-9h0m19 2h0m13-3h0m8 9h0m31-3h0m10 6h0m40 1h0m12-6h0m102-6h0m11 0h0m14 8h0m37-10h0m8 7h0m22 9h0m-34 9h0m-15 1h0m-39-8h0m-22 2h0m-29-4h0m-19 1h0m-20 11h0m-26-4h0m-18-4h0m-11-2h0m-6 8h0m-35-1h0m-50-8h0m-47-1h0m-61 13h0m-8-7h0m-20 1h0m-29-5h0m25 14h0m11 7h0m46 2h0m7-7h0m13 3h0m32 5h0m30 1h0m14-8h0m11-3h0m11 6h0m8 8h0m23 0h0m14-7h0m15-4h0m10 10h0m18-5h0m24 2h0m10-11h0m6 12h0m29 2h0m34-13h0m21 14h0m36-10h0m3 12h0m-21 12h0m-29 1h0m-16-6h0m-9-4h0m-61 1h0m-94-2h0m-14 12h0m-58-5h0m-18 2h0m-12-7h0m-8 7h0m-5-9h0m-22 6h0m-20-9h0m7 21h0m12 8h0m41 0h0m47-4h0m11 0h0m35 0h0m19-8h0m3 12h0m13-1h0m19-7h0m5 8h0m14-3h0m7-9h0m17 0h0m17 8h0m9 6h0m66-9h0m20 3h0m18 3h0m-49 7h0m-20-1h0m-5 9h0m-11 2h0m-63-1h0m-10-1h0m-21 1h0m-16-2h0m-28 0h0m-13 3h0m-22-10h0m-29-2h0m-14 1h0m-22 12h0m-13-6h0m19 13h0m8 6h0m16 4h0m34-3h0m28 3h0m27-13h0m7 7h0m49-2h0m28-1h0m17 6h0m35-6h0m22 2h0m23-6h0m47 13h0m-116 8h0m-29 0h0m-25-4h0m-7 10h0m-119-6h0m-45-4h0m-12-2h0m92 18h0m16-3h0m1 10h0m10-2h0m11-5h0m64 11h0m-33 2h0"/></defs><g opacity="0.178"><use href="#l8" stroke="#00003c" stroke-width="11"/><use href="#l8" stroke="#0000ff" stroke-width="7"/></g><defs><path id="l9" d="M672 147h0m-153 28h0m49-6h0m31-1h0m19 3h0m18 2h0m49-2h0m39 3h0m-30 10h0m-25 1h0m-12-1h0m-29 4h0m-15-1h0m-32-9h0m-23 7h0m-19 1h0m-36 5h0m-10-3h0m40 8h0m66 5h0m23 6h0m22-6h0m11-3h0m12-2h0m7 6h0m24 1h0m12-11h0m2 14h0m7-13h0m8 0h0m272 0h0m-287 25h0m-20 3h0m-36-8h0m-39 3h0m-28-2h0m-29-2h0m-23 3h0m-8-4h0m-28 0h0m-19 12h0m-18-10h0m-10 1h0m-36 19h0m51-7h0m2 12h0m22-14h0m5 14h0m15-10h0m37-3h0m33-1h0m19 7h0m27 0h0m31 3h0m38-4h0m20 6h0m52-3h0m18 10h0m-13 3h0m-66-4h0m-22 9h0m-47 3h0m-59-1h0m-6-10h0m-12 5h0m-31 2h0m-9-9h0m-45 3h0m-85 11h0m9 7h0m0 6h0m0-7h0m10 5h0m19 3h0m14-13h0m21 5h0m12-4h0m10 2h0m12-1h0m18 7h0m20-3h0m20 1h0m16 5h0m13-3h0m40-8h0m20 10h0m13-8h0m43 6h0m10-2h0m22-6h0m34 4h0m20 11h0m-2 11h0m-36 0h0m-23-8h0m-19 2h0m-20 0h0m-25 1h0m-4 9h0m-15 0h0m-12-9h0m-85 0h0m-2 9h0m-11-5h0m-62 0h0m-21-3h0m-20 1h0m-36-6h0m-11 6h0m-14 2h0m32 10h0m20 6h0m24 2h0m2-11h0m21 13h0m20-3h0m25-3h0m36 5h0m8-10h0m14 1h0m12 3h0m12-2h0m16-2h0m16-2h0m64 7h0m19-4h0m14 0h0m26 6h0m11-8h0m15 8h0m34-1h0m16-1h0m-1 17h0m-18-3h0m-16 4h0m-12 1h0m-9-4h0m-18-3h0m-18 1h0m-10 1h0m-7 8h0m-13-7h0m-20 6h0m-12-3h0m-42-1h0m-28-9h0m-3 12h0m-21-9h0m-48 6h0m-8 6h0m-18-13h0m-39 6h0m-56 2h0m-11-10h0m-25 3h0m-13 9h0m-16-9h0m-9 9h0m-17 7h0m35 4h0m17 7h0m3-13h0m7 12h0m32-2h0m14 4h0m12-14h0m7 13h0m55-11h0m11-3h0m16 12h0m62-3h0m21 5h0m14-10h0m23-4h0m36 8h0m42 0h0m13-1h0m37 0h0m38-5h0m13 11h0m17 0h0m14-10h0m205 28h0m-217 0h0m-22-7h0m-26 0h0m-19-4h0m-27-1h0m-14 2h0m-23-5h0m-33 9h0m-10-5h0m-18 0h0m-26 7h0m-6-9h0m-33 1h0m-8 7h0m-30-7h0m-9 2h0m-13 4h0m-12-1h0m-36-5h0m-11-2h0m-29 8h0m-21-2h0m-47 1h0m-9 7h0m-3-12h0m-21 6h0m-12 1h0m-33 20h0m12-3h0m47-6h0m38 9h0m14-11h0m14 2h0m15 7h0m29-1h0m5-9h0m36-2h0m18 4h0m23-1h0m15-3h0m22 3h0m27-1h0m20 10h0m5-9h0m12 4h0m14 8h0m20-4h0m17 3h0m4-12h0m8 11h0m9-10h0m11 0h0m12 1h0m27 3h0m39-6h0m16 14h0m30-9h0m-31 19h0m-50 5h0m-3-10h0m-7 8h0m-70-6h0m-17-2h0m-15 8h0m-20 0h0m-19-5h0m-21 8h0m0-15h0m-10 12h0m-5-10h0m-40 6h0m-12 5h0m-16 2h0m-8-11h0m-18 11h0m-39-10h0m-13 4h0m-11 0h0m-18-5h0m-18 5h0m-11 5h0m-3-13h0m-26 2h0m-25 9h0m-3-10h0m-26 12h0m-16-2h0m-8 19h0m11-7h0m19 3h0m16 4h0m32-8h0m5-5h0m4 9h0m3-1h0m36 4h0m20 1h0m15 0h0m17-7h0m12 1h0m35-1h0m10-5h0m20 5h0m14-1h0m70-4h0m17-2h0m29 8h0m64 6h0m25-8h0m19 8h0m5-2h0m29-5h0m16-6h0m15 0h0m4 9h0m2 3h0m13-3h0m46 18h0m-23 0h0m-10-3h0m-38-9h0m-18 0h0m-27 2h0m-7 12h0m-9-10h0m-43 6h0m-24-4h0m-22-1h0m-13-4h0m-26 3h0m-18 0h0m-26-1h0m0 11h0m-10-14h0m-18 14h0m-1-13h0m-10 5h0m-18-7h0m-4 15h0m-15-10h0m-26 1h0m-13-2h0m-67 6h0m-18 3h0m-18 1h0m-3-11h0m-13 3h0m-22 8h0m-36-4h0m-8-9h0m-10 3h0m-27 26h0m15-8h0m7 7h0m3-10h0m21 7h0m12-9h0m11 5h0m12 8h0m18-13h0m13 9h0m13 2h0m22-8h0m8 7h0m13-8h0m2 12h0m12-13h0m18 4h0m22 8h0m21-13h0m8 10h0m33-6h0m16 4h0m28 5h0m37-1h0m23-9h0m8 7h0m13 4h0m12-11h0m32 3h0m14 0h0m18-6h0m19 11h0m23-7h0m54 7h0m47-1h0m20 15h0m-11 0h0m-66-10h0m-33 4h0m-44 2h0m-39 1h0m-15-7h0m-1 14h0m-18-4h0m-35 1h0m-24-4h0m-15-5h0m-2 13h0m-23-10h0m-15 9h0m-6-10h0m-13-1h0m-12 11h0m-9-2h0m-35-11h0m-11 12h0m-21-13h0m-61 5h0m-22 4h0m-10-1h0m-14-4h0m-7 2h0m-23 2h0m-9-7h0m-14 13h0m-10-10h0m-4 11h0m-11-6h0m-23 3h0m10 10h0m10 7h0m5 0h0m0-11h0m7 0h0m15 11h0m18-7h0m10-4h0m9 13h0m8-15h0m9 9h0m19 2h0m8-8h0m13 7h0m8-8h0m27-1h0m9 3h0m15 10h0m18-4h0m10 4h0m23-2h0m4-9h0m9 10h0m3-9h0m19 6h0m7-9h0m13 5h0m13 8h0m13-13h0m17 8h0m71-9h0m9 8h0m29-3h0m35-3h0m24 2h0m16 5h0m26 3h0m29-10h0m22 6h0m15-3h0m26-1h0m55 8h0m-38 14h0m-21-5h0m-11-2h0m-47 8h0m-67-9h0m-11 5h0m-10-3h0m-16 0h0m-16 4h0m-29-2h0m-12 0h0m-23-4h0m-28 0h0m-10 3h0m-23-3h0m-5 11h0m-21-2h0m-8-8h0m-42 10h0m-32-10h0m-16 4h0m-40 4h0m-46-3h0m-29 7h0m-14-3h0m-9-3h0m-12 2h0m-13 1h0m-12 1h0m-12-6h0m-15 7h0m-11-4h0m-2-9h0m-15 9h0m-10 1h0m-2 11h0m47 3h0m12 0h0m19 0h0m14-1h0m9-1h0m27 8h0m36-5h0m11 5h0m14-12h0m10 9h0m22-12h0m15 5h0m30 2h0m55 0h0m19 4h0m13-1h0m9-3h0m12 3h0m4-9h0m18 14h0m27-8h0m20-6h0m2 10h0m25-1h0m51-3h0m47 1h0m54-7h0m20 3h0m10-4h0m22 5h0m7 8h0m14-2h0m112 17h0m-96-11h0m-13 6h0m-27 7h0m-1-9h0m-21 6h0m-53-8h0m-15 9h0m-40-11h0m-33 2h0m-5 12h0m-54-4h0m-18-6h0m-18 10h0m-6-8h0m-22 8h0m-1-13h0m-34 5h0m-20-4h0m-3 11h0m-9-10h0m-3 11h0m-16-8h0m-15-6h0m-12 7h0m-20-3h0m-9-5h0m-28 7h0m-14 2h0m-3 6h0m-1-9h0m-28 7h0m-10-8h0m-12-3h0m-23 6h0m-12-8h0m-1 10h0m-9-4h0m-12 8h0m-2-10h0m-13 8h0m-8-11h0m-3 12h0m-2-10h0m-3 12h0m-11-9h0m-12 0h0m-10-4h0m-15 10h0m-5-12h0m-10 24h0m15-1h0m18 7h0m20-9h0m10 9h0m8-7h0m13 1h0m5 5h0m12-2h0m8-9h0m15 12h0m1-4h0m7-2h0m12-7h0m1 10h0m1-6h0m8 10h0m1-10h0m10 1h0m14 6h0m7-9h0m10 8h0m16 2h0m8-12h0m10 0h0m6 10h0m11-11h0m5 10h0m12-4h0m12-1h0m36 1h0m16 5h0m19-1h0m12 2h0m1-10h0m22 5h0m14 6h0m12-9h0m17 5h0m17-9h0m8 13h0m51-4h0m20-7h0m13 12h0m11-11h0m9-3h0m13 3h0m37 8h0m18-8h0m36 8h0m32-2h0m40-5h0m-19 23h0m-4-9h0m-37 0h0m-16 9h0m-10 0h0m-10-8h0m-14 3h0m-25-4h0m-16 11h0m-8-13h0m-28 14h0m-16-7h0m-33 6h0m-21-8h0m-32 7h0m-12-1h0m-25-1h0m-20-8h0m-11-1h0m-19 7h0m-18 4h0m-21-11h0m-13 1h0m-1 9h0m-19-11h0m-12 3h0m-10 2h0m0 3h0m-11 4h0m-17 0h0m-9-11h0m-8 12h0m-12-6h0m-16-2h0m-3 10h0m-17-4h0m-20 0h0m-12-5h0m-20-6h0m-3 10h0m-14-2h0m-2 3h0m-11-4h0m-10 3h0m-3-10h0m-10 9h0m-10-3h0m-18 3h0m-14-8h0m-16 12h0m-6-10h0m10 25h0m13-11h0m7 7h0m10-2h0m0 7h0m9-3h0m4-10h0m5 14h0m8-8h0m29 2h0m10-2h0m10 4h0m9-10h0m10 9h0m15-3h0m9 2h0m4-3h0m11-5h0m0 7h0m10-2h0m3 10h0m11-11h0m1 11h0m10-9h0m0 3h0m16-3h0m17 5h0m3-3h0m9 6h0m6-10h0m12 4h0m6 7h0m3-5h0m12-3h0m25 2h0m13 2h0m10 1h0m2-3h0m16-8h0m8 13h0m5-12h0m16-2h0m27 8h0m12 1h0m31-9h0m18 10h0m10 5h0m35-14h0m30 6h0m10 5h0m32-7h0m30 1h0m12-6h0m12 10h0m19-2h0m21 0h0m87 3h0m182 13h0m-224 4h0m-16-6h0m-44 5h0m-13-10h0m-16 10h0m-7-10h0m-14 8h0m-42-5h0m-7 7h0m-12-2h0m-8-6h0m-25 10h0m-10-8h0m-21 7h0m0-12h0m-33 1h0m-2 10h0m-14-8h0m-22 0h0m-19-2h0m-14 14h0m-8-14h0m-21 11h0m-8-10h0m-14 6h0m-25-2h0m-12 6h0m-2-2h0m-3-9h0m-14 12h0m0-13h0m-12 15h0m-6-9h0m-19 3h0m-10-9h0m-9 14h0m-9-12h0m0 7h0m-1-9h0m-11 5h0m-7 10h0m-2-13h0m-11 10h0m-15-3h0m-1 2h0m-5-10h0m-9 8h0m-8 6h0m-5-13h0m-7 8h0m-13-5h0m-11-1h0m-1 7h0m-4 3h0m-12-8h0m-11-4h0m-1 10h0m-13-8h0m-6 4h0m-9 2h0m-8 5h0m-15-7h0m-8-1h0m-7 8h0m-10-8h0m-19 4h0m18 14h0m9-9h0m8 10h0m10-5h0m16 9h0m10-14h0m3 7h0m4 3h0m3-6h0m1-4h0m7 8h0m10-3h0m7 10h0m2-14h0m8 7h0m9-2h0m9-4h0m3-2h0m4 12h0m12-1h0m5-9h0m3 13h0m1-3h0m9 3h0m8-13h0m6 2h0m8 3h0m13 7h0m13-5h0m1 1h0m6-8h0m6 11h0m9-4h0m5 1h0m6 5h0m5-6h0m11-5h0m11 7h0m13 4h0m6-9h0m10-3h0m16 0h0m6 9h0m6-9h0m10 6h0m16-6h0m20 3h0m5 9h0m5-13h0m2 13h0m3 0h0m7-7h0m14-7h0m2 12h0m9-7h0m13 0h0m12-4h0m2 13h0m15-5h0m16-5h0m14 6h0m14-2h0m6-8h0m10 7h0m13-4h0m2 11h0m16-10h0m18 6h0m12-11h0m18 6h0m18-3h0m30 5h0m17-4h0m24 4h0m9-3h0m10-5h0m0 13h0m13-10h0m142 12h0m287 15h0m-28 1h0m-2-11h0m-9 4h0m-10-8h0m-8 7h0m-17 2h0m-10 6h0m-4-11h0m-16 1h0m-19 7h0m-33-5h0m-17 6h0m-10-4h0m-25 4h0m-21-3h0m-18 2h0m-18-3h0m-51 6h0m-36-7h0m-21-5h0m-19 11h0m-11-13h0m-13 2h0m-13 3h0m-8 8h0m-23 0h0m-7-3h0m-4 1h0m-12 2h0m-1-11h0m-19 10h0m-9-13h0m-3 10h0m-8-8h0m-9-1h0m-2 4h0m-3 9h0m-12-5h0m-5 5h0m-1-14h0m-7 8h0m-1-1h0m-4 5h0m-4-11h0m-2 14h0m-7-13h0m-4 2h0m0 11h0m0-11h0m-13-2h0m-7 11h0m-13-4h0m-2 5h0m-14-3h0m-3-5h0m-6 7h0m0-5h0m-1 4h0m-3-12h0m-1 4h0m-4-1h0m-7 10h0m-4-1h0m-7-12h0m-6 10h0m0 3h0m-17-2h0m-9 1h0m-14-10h0m-5 3h0m-1-2h0m-11 2h0m-13 4h0m-12 5h0m0-10h0m-13 10h0m0-10h0m-9 0h0m-3 10h0m-5-14h0m-6 15h0m-8-8h0m-17-3h0m-9 8h0m-8-7h0m-4-2h0m-3 11h0m-15-6h0m-7-8h0m-5 11h0m-21-1h0m-8-6h0m-9 8h0m-2-4h0m-1 0h0m-15-2h0m-6 2h0m-10-4h0m-11 11h0m-1-7h0m0-8h0m-14 4h0m-4 8h0m-8-12h0m-14 2h0m-2 8h0m-4-10h0m0 0h0m-6 8h0m-11 2h0m-9 4h0m-8-8h0m-10 2h0m-5-7h0m-23 1h0m-3 6h0m-7-8h0m-11 7h0m-16-5h0m-1 13h0m-8-15h0m-10 9h0m-13 0h0m-10 4h0m-5-9h0m-2 25h0m9-5h0m9-4h0m8 6h0m9-3h0m23-7h0m0 12h0m8-3h0m12-3h0m13-6h0m5 13h0m6-12h0m12 3h0m8 4h0m1-3h0m2 6h0m6-4h0m6 4h0m3 3h0m2 1h0m15-2h0m2-12h0m4-1h0m8 2h0m6-1h0m6 13h0m17-6h0m10 1h0m15-7h0m11 11h0m5-11h0m6 6h0m2 1h0m10-5h0m7 10h0m7-10h0m4-4h0m10 5h0m0 2h0m10-2h0m5 9h0m6-3h0m0-1h0m0-5h0m2 10h0m5-4h0m1-1h0m13-1h0m8-6h0m3 0h0m2 5h0m3-4h0m5 10h0m0-13h0m9 8h0m15-4h0m5 7h0m5-6h0m15 8h0m11-3h0m2-7h0m2 10h0m1-1h0m9-6h0m3-6h0m1 6h0m2 8h0m3-14h0m2 6h0m1 6h0m3-10h0m11 12h0m1-10h0m3 4h0m9-2h0m2 2h0m5 0h0m13 5h0m8-5h0m11 3h0m18 0h0m4-11h0m0 5h0m2 8h0m0-13h0m4 3h0m2 11h0m16-6h0m4-2h0m6-1h0m7 4h0m11 0h0m10-1h0m2-5h0m3-4h0m5 14h0m0-7h0m3 5h0m7 2h0m10-1h0m4-5h0m6-2h0m5-2h0m2 4h0m3 6h0m5-6h0m1-5h0m5 5h0m11 5h0m10-3h0m14-3h0m13 5h0m16-9h0m15-1h0m11 2h0m31 8h0m17-9h0m10 5h0m14-2h0m16-3h0m29 0h0m7 0h0m8-1h0m2 11h0m19-2h0m12 1h0m38-1h0m20-7h0m39-1h0m11 5h0m8-7h0m15 12h0m11-10h0m15 0h0m25 1h0m21 1h0m-59 16h0m-88-3h0m-30 3h0m-21 1h0m-31 7h0m-28-8h0m-18 1h0m-17 0h0m-19-1h0m-48 8h0m-13 1h0m-5-13h0m-15 6h0m-26 2h0m-10-2h0m-14 6h0m-1 1h0m-9-7h0m-14-4h0m-7-2h0m-3-1h0m0 6h0m-4-6h0m-12 6h0m-16 1h0m-1 6h0m-5-11h0m-1 4h0m-4-2h0m-3 10h0m-9 0h0m-4-13h0m-1 2h0m-13 2h0m-8 9h0m-6-12h0m-11 5h0m-7 4h0m-1-10h0m-3 6h0m-4-6h0m-14 14h0m-3-10h0m-1 0h0m-12 9h0m-7-5h0m-14 2h0m-2 1h0m-16-2h0m-13 2h0m-8-10h0m-2-2h0m-2 13h0m-10 1h0m0-8h0m-9-1h0m-8 3h0m-3 0h0m-4-6h0m-2 12h0m0-12h0m-6 1h0m-11 4h0m-14 4h0m-3-2h0m-1 4h0m0 2h0m0 0h0m-9-12h0m-4 5h0m-7 1h0m-8-7h0m-2 13h0m-4-12h0m-7 3h0m-5-2h0m-7 9h0m-4-9h0m-7 5h0m-8-8h0m-9 6h0m-14 4h0m-10 3h0m-6-8h0m-3 1h0m-16-7h0m-8 8h0m-1-2h0m-14 5h0m-1-3h0m-1-7h0m-8 9h0m-7-4h0m-2 7h0m-2-9h0m-7-1h0m0-3h0m-3 14h0m-5-10h0m-2 3h0m-10-3h0m-3 1h0m-1 5h0m-8 4h0m-3-13h0m-5 9h0m-14-1h0m-7-8h0m-3 12h0m-11 2h0m-10-9h0m-11-3h0m-17 0h0m-5 7h0m-3-10h0m-5 3h0m-29 5h0m-5 12h0m12 10h0m7-14h0m11 2h0m0 12h0m14-4h0m14 0h0m12-9h0m14-1h0m3 2h0m6 13h0m7-6h0m13-9h0m8 6h0m6 5h0m4-2h0m1-1h0m6-8h0m6 11h0m1-4h0m11 5h0m7-4h0m3-1h0m5 0h0m0 3h0m2-10h0m9 4h0m12-2h0m1 1h0m9 10h0m4-9h0m3 11h0m6-13h0m6 12h0m2-6h0m10 3h0m19-6h0m7 8h0m10-10h0m1-2h0m9 11h0m5 0h0m8-3h0m6-8h0m3 2h0m2 6h0m8 6h0m10-5h0m1-7h0m9 8h0m11 0h0m10-8h0m11-3h0m19 15h0m6-13h0m11-1h0m9 7h0m12-1h0m8-7h0m8 5h0m3 10h0m8-9h0m6-1h0m12-2h0m6 10h0m7-9h0m15 8h0m10 2h0m3-13h0m13 0h0m3 4h0m11 3h0m12-2h0m11 9h0m15-4h0m8-7h0m8 9h0m4-8h0m10 0h0m11 1h0m9-1h0m25 3h0m23-6h0m13 6h0m30-4h0m70-4h0m7 10h0m125-9h0m-139 16h0m-35 0h0m-13 5h0m-10-3h0m-34 7h0m-15 0h0m-52-9h0m-23 11h0m-30-6h0m-16 5h0m-22 1h0m-45-10h0m-14 12h0m-11-13h0m-11 7h0m-20-3h0m-14-2h0m-5 11h0m-13-3h0m-22-10h0m-4 1h0m-1 12h0m-15-5h0m-13-6h0m-6 5h0m-1 2h0m-10-6h0m-5 10h0m-15-6h0m-4-4h0m-17 7h0m-8-10h0m-1 0h0m-12 8h0m-9-6h0m0-2h0m-9 6h0m-16 1h0m-1-4h0m-8 6h0m-1 4h0m-10-2h0m-7-10h0m-12-1h0m-11 13h0m-2-7h0m-3-4h0m-8 6h0m-4 5h0m-6 1h0m-7-7h0m0-6h0m-8 5h0m-3-5h0m-3 11h0m-10-13h0m0 11h0m-10-10h0m-3 0h0m-7 2h0m-2 7h0m-1-2h0m-15-1h0m-8-7h0m-8 9h0m-14 3h0m-16-4h0m-31 4h0m-8-9h0m7 25h0m12-12h0m1 10h0m13-4h0m10-4h0m12 6h0m3 1h0m10 2h0m22-3h0m10-3h0m2-5h0m7 6h0m3 5h0m3-9h0m0-2h0m5 5h0m5 8h0m1-8h0m2 9h0m1-8h0m4-1h0m8 5h0m3 1h0m1-6h0m6 4h0m5 4h0m5 0h0m7-12h0m18 7h0m5-8h0m4 1h0m0 14h0m6-5h0m3-4h0m2-1h0m18 4h0m4 4h0m4-9h0m8 10h0m15-13h0m8 8h0m11-4h0m8 7h0m16-10h0m12 2h0m1 10h0m9-4h0m5-4h0m2-2h0m8 8h0m5-12h0m10 5h0m11 6h0m12-1h0m9-3h0m11 5h0m14 2h0m11-12h0m9 12h0m2-11h0m21 9h0m14 0h0m16-12h0m18 1h0m17 7h0m27-5h0m28-2h0m1 9h0m9 3h0m24-1h0m90-7h0m31-4h0m21 21h0m-55 3h0m-16-7h0m-11 12h0m-37-8h0m-99 8h0m-11-13h0m-16 14h0m-6-7h0m-23 0h0m-23 3h0m-17 0h0m-11 1h0m-12-3h0m-16-5h0m-5 1h0m0 6h0m-12-7h0m-13 11h0m-5-11h0m-15 11h0m-7-7h0m-45 7h0m-15-4h0m-16-3h0m-15-2h0m-7 9h0m-6-9h0m-10-4h0m-6 1h0m-2 9h0m-5-8h0m-25 1h0m-5 9h0m-13-6h0m0 2h0m-14-7h0m-18 3h0m-2 1h0m0 6h0m-11-5h0m-15 7h0m-1-12h0m-10 11h0m-13-13h0m-1 13h0m-25-4h0m-11-9h0m-12 1h0m-14 13h0m-11-4h0m22 20h0m7-13h0m11-2h0m17 0h0m22 6h0m5 3h0m18 4h0m13-12h0m9 9h0m9-9h0m11 1h0m28 7h0m13-6h0m7 7h0m18 2h0m12-7h0m14 2h0m9 6h0m1-13h0m17 8h0m10 3h0m29-7h0m13 11h0m4-12h0m1 9h0m6 1h0m9-4h0m52-6h0m2 12h0m27-14h0m30 4h0m51 10h0m52 0h0m21-9h0m7-6h0m37 2h0m59-1h0m18 3h0m15 2h0m21 8h0m217-4h0m-184 7h0m-38 12h0m-29-7h0m-22 1h0m-33 0h0m-20 1h0m-14 7h0m-5-14h0m-12-1h0m-12 2h0m-67-1h0m-46 5h0m-14 1h0m-13-7h0m-11 7h0m-44 5h0m0-10h0m-16 5h0m-8-7h0m-12 11h0m-12-6h0m-28 1h0m-21 8h0m-17-4h0m-23 4h0m-7-12h0m-10 0h0m-25 8h0m-14-1h0m-10 3h0m0-11h0m-10 4h0m-9 7h0m-5-9h0m-19 6h0m-10 1h0m-11-6h0m-20 1h0m-13 5h0m-19 0h0m-9-7h0m-5 2h0m0 9h0m-15-8h0m-13 2h0m6 18h0m16-1h0m12 4h0m10-1h0m17-5h0m10-7h0m13 13h0m6-11h0m9 4h0m15 0h0m16-2h0m17 7h0m15 4h0m12-14h0m9 6h0m25 0h0m23 2h0m28-3h0m24 7h0m2-13h0m14 13h0m11-9h0m40 6h0m20-7h0m9 7h0m0-10h0m29 6h0m18 5h0m37 2h0m9-10h0m10 4h0m10-1h0m17 4h0m10 2h0m24-7h0m10 10h0m36-6h0m14-7h0m32 3h0m9 4h0m35-5h0m13 5h0m-8 20h0m-16-13h0m-6 9h0m-50 0h0m-10-9h0m-17 6h0m-20 6h0m-53-3h0m-29 0h0m-53-3h0m-40-3h0m-28 1h0m-3 9h0m-12-2h0m-22-5h0m-31 7h0m-24-13h0m-36 9h0m-11 2h0m-11-4h0m-17 1h0m-23 3h0m-20-7h0m-10 11h0m-5-9h0m-10 0h0m-12 5h0m-11-10h0m-7 10h0m-1-6h0m-2-3h0m-14 7h0m-7-6h0m-6 8h0m-18 0h0m-19-3h0m-16-8h0m-1 11h0m-11-4h0m19 14h0m12-1h0m16 2h0m8 6h0m13 2h0m11-5h0m17-2h0m12 6h0m15-3h0m19 1h0m9-5h0m25 2h0m8-7h0m26 2h0m1 10h0m8-7h0m28-6h0m3 13h0m14-9h0m12 1h0m19 2h0m27 1h0m16-4h0m4 11h0m15-5h0m34-8h0m24 5h0m18 0h0m47-2h0m25 10h0m7-12h0m14 8h0m16-8h0m35 4h0m39 6h0m27-5h0m10-6h0m12 4h0m9 4h0m69 16h0m-87-10h0m-52 6h0m-26 8h0m-16-11h0m-30 6h0m-11-2h0m-19-4h0m-15 2h0m-21 10h0m-6-8h0m-15-7h0m-35 5h0m-12 1h0m-26-1h0m-8 9h0m-16-6h0m-3-3h0m-11 0h0m-16 5h0m-15-4h0m-9 7h0m-10-9h0m-17 3h0m-27-7h0m-20 2h0m-63-1h0m-17 0h0m-3 10h0m-11-8h0m-13 5h0m-19-6h0m-29 6h0m-17-5h0m-6 12h0m-21-4h0m-4-11h0m13 19h0m2-1h0m14 6h0m24-4h0m15-2h0m12 2h0m25 9h0m5-9h0m21 7h0m10-7h0m49 11h0m28-12h0m0 10h0m25 0h0m6-9h0m20 4h0m17-1h0m33-5h0m48 13h0m9-14h0m12 6h0m52-7h0m31 1h0m43 11h0m21-11h0m16 12h0m15 1h0m4-12h0m14 6h0m45-4h0m10 8h0m20-2h0m3-10h0m42 0h0m-34 21h0m-63-1h0m-7 7h0m-21 3h0m-7-6h0m-56-2h0m-17 3h0m-10-7h0m-18 2h0m-14 4h0m-15 2h0m-7-8h0m-11 10h0m-23-9h0m-34 12h0m-19-13h0m-21 8h0m-15-2h0m-14-3h0m-9 8h0m-7-8h0m-26 6h0m-40-1h0m-16-5h0m-8 7h0m-8-5h0m-13-7h0m-13 1h0m-17 1h0m-11 13h0m-37-3h0m-20-4h0m-38 6h0m-19-8h0m28 14h0m19 6h0m22-9h0m8 14h0m12-7h0m74-6h0m11 12h0m37-2h0m4-11h0m11 1h0m32 5h0m9-1h0m26-3h0m14 11h0m7-10h0m6 9h0m10-4h0m35 6h0m27-15h0m39 3h0m53 11h0m36-1h0m6-9h0m11 6h0m23 5h0m15-10h0m16 4h0m11-6h0m10 2h0m19-4h0m10 12h0m-14 10h0m-38 8h0m-6-12h0m-59 12h0m-19-11h0m-41 2h0m-13 8h0m-2-12h0m-19-2h0m-55 10h0m-16 3h0m-12-4h0m-16-2h0m-28 4h0m-23-4h0m-9-7h0m-18 4h0m-24 7h0m-20-1h0m-11-4h0m-11-1h0m-25-4h0m-30 5h0m-19 9h0m-13-7h0m-46 5h0m-1-10h0m-13-3h0m-15 0h0m46 22h0m12-5h0m14 1h0m24 5h0m9 3h0m9-7h0m10 11h0m13-2h0m9-11h0m36 5h0m13 0h0m35-6h0m16 7h0m13-1h0m16 3h0m9-3h0m14 6h0m22-7h0m46 5h0m15 3h0m3-12h0m21-1h0m41 1h0m66 4h0m45 1h0m16-2h0m16 7h0m16-7h0m11 26h0m-12-12h0m-6 12h0m-45-11h0m-11 7h0m-4-9h0m-10 3h0m-1 11h0m-11-4h0m0-10h0m-33 4h0m-18 0h0m-44-2h0m-22 2h0m-29 3h0m-13-6h0m-9 5h0m-10 2h0m-29-5h0m-30 1h0m-30 9h0m-8-12h0m-17 12h0m-15-12h0m-30-1h0m-1 10h0m-10-8h0m-15 8h0m-59 1h0m-26-3h0m-19-1h0m-20-6h0m-1 10h0m11 5h0m0 11h0m37-9h0m35-1h0m2 11h0m13-8h0m26 8h0m15 0h0m57-3h0m35 1h0m4-9h0m10 5h0m10 5h0m15-10h0m1 1h0m17 11h0m24-6h0m41-5h0m14-1h0m17 8h0m32-9h0m7 14h0m24-13h0m22 5h0m21 8h0m61-7h0m21 1h0m-29 21h0m-23-6h0m-17-1h0m-19 1h0m-17-4h0m-83 0h0m-16 11h0m-13-12h0m-17 0h0m-4 11h0m-6-13h0m-26 5h0m-13 8h0m-16-10h0m-12 5h0m-102-3h0m-44-3h0m-9-3h0m-7 7h0m-23 2h0m-22 0h0m-13-8h0m-17-1h0m28 30h0m10-2h0m33-6h0m11 6h0m48-12h0m1 13h0m15-4h0m38-5h0m21-1h0m20-2h0m47 6h0m13-4h0m15 9h0m12-4h0m25 1h0m21 1h0m13-5h0m7 9h0m46-10h0m29 1h0m21-1h0m13-1h0m7 6h0m15 11h0m-8 8h0m-14-1h0m-33-10h0m-23 11h0m-7-9h0m-71 12h0m-19-9h0m-28 0h0m-13 9h0m-2-11h0m-9 5h0m-12 0h0m-34-2h0m-18 4h0m-25 0h0m-5-9h0m-22 8h0m-8-7h0m-55-3h0m-11 14h0m-65-2h0m25 12h0m5 0h0m6 4h0m11 1h0m10-7h0m24 6h0m10-8h0m44 0h0m15 7h0m16 4h0m11-1h0m6-12h0m27 7h0m19-6h0m29 6h0m37-8h0m15 4h0m25 7h0m3-10h0m9 7h0m13-6h0m18-1h0m2 12h0m30-1h0m10 1h0m23-6h0m11 10h0m-11 2h0m-51 2h0m-21 3h0m-14 0h0m-64 1h0m-16 1h0m-13-9h0m-1 10h0m-20-11h0m-7 10h0m-13-8h0m-17-1h0m-63 11h0m-7-9h0m-12 8h0m-14-2h0m-8 5h0m-1-11h0m-39 5h0m10 11h0m20 2h0m39 7h0m12-4h0m25-7h0m14 0h0m38-2h0m3 10h0m17-3h0m41 1h0m12 3h0m14-10h0m16 5h0m70-3h0m31-3h0m20 15h0m-15 14h0m-14 1h0m-15-9h0m-8 5h0m-11-3h0m-9-4h0m-57 11h0m-15-9h0m-14 2h0m-23-4h0m-11 7h0m-8-10h0m-13 6h0m-23-2h0m-15 5h0m-24 4h0m-11 0h0m-38-9h0m-14 4h0m27 16h0m12-2h0m12 4h0m18 3h0m10 0h0m26-12h0m7 8h0m28-7h0m13 10h0m18-11h0m11 2h0m32 10h0m18-9h0m24 10h0m15-12h0m23 3h0m7 16h0m-16 1h0m-44 0h0m-53-6h0m-9 7h0m-13-2h0m-25-3h0m-39 0h0m-10 4h0m-10 9h0m-19-11h0m-44-4h0m93 31h0m9-12h0m15 11h0m3-12h0m23 8h0m5-9h0m14 13h0m7-8h0m29-6h0"/></defs><g opacity="0.178"><use href="#l9" stroke="#00003c" stroke-width="11"/><use href="#l9" stroke="#0000ff" stroke-width="7"/></g><defs><path id="l10" d="M616 155h0m-88 19h0m45-5h0m11 5h0m26-11h0m11 4h0m13-7h0m9 15h0m4-9h0m33-1h0m32 24h0m-20-2h0m-23-9h0m-11 6h0m-33 2h0m-24-4h0m-25 9h0m-17-4h0m-39-1h0m-19-1h0m25 17h0m10-8h0m67 9h0m14-4h0m33-7h0m21 14h0m10-5h0m20-1h0m16 2h0m8-10h0m17 4h0m-32 13h0m-19 1h0m-1 10h0m-43 3h0m-23-11h0m-37 5h0m-25 5h0m-19-13h0m-6 12h0m-31-5h0m-12-5h0m-20 11h0m-12-6h0m-45 21h0m38-1h0m16-3h0m13-8h0m8 12h0m74-6h0m39-2h0m53 10h0m9-9h0m14 1h0m21 0h0m13-6h0m42 1h0m-37 29h0m-4-15h0m-18 14h0m-4-11h0m-27 11h0m-19-1h0m-25 1h0m-4-13h0m-10 4h0m-41 4h0m-10 5h0m-27-6h0m-10-3h0m-52 9h0m-41-4h0m-23 19h0m13-11h0m9 7h0m16 5h0m1-12h0m38 2h0m29 2h0m10 3h0m18-6h0m12 5h0m21 0h0m9 5h0m13 0h0m2-12h0m40 10h0m23 0h0m18-2h0m15 5h0m16-10h0m14 5h0m40-7h0m7 7h0m6-8h0m27-1h0m8 29h0m-10-3h0m-57 1h0m-8-9h0m-12 2h0m-21-1h0m-5 12h0m-11-7h0m-28 0h0m-9 4h0m-22 2h0m-23-8h0m-46-3h0m-10-2h0m-9 4h0m-21 8h0m-11-9h0m-22 4h0m-7-8h0m-31 10h0m-17-7h0m-15 5h0m-22-5h0m-2 11h0m-1 17h0m11-4h0m3-10h0m9 6h0m15-3h0m18 4h0m17-3h0m6 9h0m28-12h0m18 10h0m44 2h0m16-11h0m15 7h0m12-10h0m6 8h0m50-1h0m19-2h0m10-1h0m24 0h0m15-1h0m1 11h0m26-11h0m12 6h0m42 0h0m19-1h0m23 23h0m-34-13h0m-29 5h0m-14 2h0m-14 2h0m-25 3h0m-24-7h0m-28-2h0m-77-2h0m-45 7h0m-6-8h0m-27-1h0m-12 6h0m-68 1h0m-63 0h0m-11-3h0m-7 9h0m-23 0h0m-10-3h0m22 9h0m12 8h0m12 1h0m31-1h0m11 2h0m19-9h0m57 7h0m12-8h0m11 7h0m1-11h0m12 7h0m15 8h0m6-11h0m28-3h0m11 7h0m22 6h0m12-2h0m10-2h0m38 3h0m8-6h0m38 8h0m4-13h0m40 11h0m21-10h0m71 28h0m-23-15h0m-20 5h0m-16 2h0m-13-5h0m-46 6h0m-25-1h0m-7 7h0m-7-9h0m-21 1h0m-48 5h0m-8-5h0m-38-3h0m-21 10h0m-20-5h0m-14-1h0m-13-3h0m-32 4h0m-9-8h0m-7 7h0m-17-7h0m-10 3h0m-54 0h0m-35 1h0m-13-1h0m-10 2h0m-14 4h0m-13 10h0m13 0h0m12 12h0m26-6h0m9-5h0m38 5h0m13 4h0m9-10h0m13 3h0m10-4h0m33 1h0m17 3h0m11 7h0m16-10h0m11 11h0m13-12h0m9 5h0m14 1h0m12-8h0m11 14h0m15-4h0m9-5h0m39 3h0m41 3h0m25-9h0m12 7h0m15 2h0m55-1h0m8-7h0m18 11h0m18-8h0m52 21h0m-18-6h0m-31-4h0m-21 13h0m-10-10h0m-19 5h0m-37 3h0m-29-5h0m-76 4h0m-9-4h0m-19 1h0m-25 2h0m-15-1h0m-10-1h0m-10-4h0m-18 5h0m-16 0h0m-15 5h0m-24-3h0m-14-8h0m-11 3h0m-26 0h0m-16 2h0m-16 7h0m-13-10h0m-17 4h0m-27 1h0m-19-4h0m-9 3h0m0 1h0m-30-10h0m-18 12h0m4 16h0m6-8h0m3 10h0m8-12h0m5 10h0m11-10h0m5 11h0m13-12h0m18 13h0m12-10h0m8 7h0m29-3h0m28 0h0m16-7h0m2 11h0m26-11h0m12 0h0m9 5h0m15-5h0m13 11h0m8-8h0m12 3h0m9 7h0m20-7h0m21 5h0m2-10h0m16 0h0m23-2h0m0 10h0m19 1h0m13-8h0m13 10h0m21-4h0m35-6h0m14 9h0m27 1h0m30-3h0m21 2h0m11-1h0m13-3h0m21 13h0m-9 10h0m-28-13h0m-24 3h0m-16-2h0m-2 10h0m-16-6h0m-15-4h0m-13 10h0m-33-13h0m-15 5h0m-35 3h0m-28 6h0m-10-5h0m-6-8h0m-24 4h0m-35 10h0m-18-5h0m-11 0h0m-13 3h0m-10-9h0m-30-1h0m-21 2h0m-24-5h0m-10 7h0m-25 7h0m-21-2h0m-21-1h0m-17-4h0m-32 0h0m-23 6h0m-19-11h0m-1 12h0m-5 12h0m29 4h0m9-2h0m15-3h0m10-7h0m12-2h0m4 12h0m27 3h0m2-10h0m13 3h0m20 0h0m27-2h0m9-6h0m13 11h0m17 3h0m12-3h0m8-8h0m6 12h0m13-11h0m6 10h0m53-4h0m10 2h0m20 2h0m45-7h0m16-3h0m27 6h0m22 5h0m2-13h0m28 5h0m19 3h0m11-1h0m12 4h0m25-2h0m37-4h0m16 0h0m29 5h0m30 1h0m87 12h0m-106-5h0m-7 8h0m-24-2h0m-19-8h0m-20 4h0m-33 7h0m-9-5h0m-40-2h0m-16 0h0m-33-3h0m-15 1h0m-13 2h0m-32 2h0m-36 4h0m-13-2h0m-23 5h0m-6-12h0m-12 2h0m-18 1h0m-42-3h0m-14 8h0m-36 2h0m-22-12h0m-11 6h0m-23-4h0m-33 3h0m-15 0h0m-17 9h0m-19-1h0m-10-2h0m-16-8h0m-16-2h0m8 25h0m13-10h0m0 12h0m15-7h0m27 7h0m9-10h0m9 9h0m2 1h0m5-10h0m13 1h0m10 0h0m3 10h0m19-11h0m6 10h0m19 0h0m26-3h0m30 0h0m22-1h0m24 4h0m21-2h0m12-9h0m6 10h0m11 0h0m11 0h0m34-4h0m19 0h0m12-6h0m39 9h0m23-5h0m52 9h0m21-13h0m32 9h0m29-4h0m31 3h0m25-2h0m13 2h0m139-5h0m40 9h0m113 12h0m-269 5h0m-47-12h0m-85 5h0m-27 2h0m-20 2h0m-12-8h0m-35 9h0m-15-8h0m-16 1h0m-6 8h0m-11-8h0m-52-5h0m-11 3h0m0 4h0m-8 6h0m-17-6h0m-23-7h0m-20 13h0m-18-4h0m-35-6h0m-20 0h0m-2 10h0m-10-5h0m-16-4h0m-45 8h0m-22-13h0m-3 15h0m-42-11h0m-6-1h0m-2 3h0m-6 8h0m-2-11h0m-20 7h0m-19 0h0m-10-6h0m-9 10h0m-12 9h0m20-1h0m27 6h0m16-9h0m7 10h0m18-5h0m11 3h0m1 4h0m4-14h0m11 2h0m10 8h0m11-5h0m12 2h0m20 3h0m11 0h0m8-8h0m10 6h0m8-7h0m13 4h0m18-3h0m26 8h0m22-4h0m12 0h0m15-4h0m22 4h0m11-1h0m25 1h0m11 8h0m2-11h0m18-4h0m12 1h0m16-1h0m22 7h0m37 6h0m33-6h0m48-3h0m8 9h0m14 1h0m16-5h0m43-6h0m0 12h0m19-2h0m4-10h0m92-3h0m-48 27h0m-12-9h0m-18 1h0m-12 4h0m-45 3h0m-70 3h0m-8-10h0m-13 3h0m-11 5h0m-15-6h0m-12-5h0m-24 0h0m-21 0h0m-24 5h0m-14-2h0m-28-1h0m-26 5h0m-8-6h0m-14 2h0m-9 10h0m-20-4h0m-9-9h0m0 11h0m-21-1h0m-10 5h0m-1-14h0m-12 7h0m-17-5h0m-2 10h0m-8-9h0m-19 2h0m-13 3h0m-17 4h0m-16-6h0m-8 8h0m-3-9h0m-1-3h0m-25 5h0m-13-3h0m0 5h0m-10-3h0m-11 0h0m-22 0h0m-5-1h0m-1 8h0m-7 0h0m-6-9h0m-10-5h0m-10 15h0m-2-13h0m-7 7h0m-15-1h0m-10 19h0m4-10h0m14 9h0m11 1h0m16 0h0m2 2h0m13-4h0m3-3h0m3-2h0m0 8h0m3 2h0m10-7h0m13-3h0m0 10h0m1-10h0m9 4h0m13-2h0m14 0h0m10-6h0m1 13h0m2-3h0m12-8h0m2 7h0m15-3h0m18 4h0m15 3h0m14-12h0m31 11h0m12-7h0m14 9h0m30 0h0m8-7h0m9-6h0m5 12h0m20-9h0m11 5h0m13 1h0m10-8h0m9 9h0m18-10h0m9 10h0m29 2h0m6-7h0m15 9h0m20-13h0m10 1h0m16-3h0m35 2h0m10 12h0m38-1h0m16-12h0m9 14h0m17-3h0m7-8h0m14 8h0m19-3h0m193 22h0m-154-12h0m-16 1h0m-20 6h0m-40-5h0m-38 1h0m-10 8h0m-18 1h0m-17-3h0m-17-7h0m-5 8h0m-6-10h0m-15 8h0m-10-2h0m-27 1h0m-18 5h0m-22-6h0m-24 3h0m-16-11h0m-4 10h0m-40 4h0m-12-13h0m-8 11h0m-18-10h0m-22 8h0m-1-10h0m-21 13h0m-7-7h0m-14 4h0m-13-8h0m-8 5h0m-8-5h0m-21 12h0m-13-9h0m-10 5h0m-6 3h0m-1-13h0m-5 13h0m-5-9h0m-12-1h0m-8 8h0m-8-6h0m-1 7h0m-1-12h0m-9 11h0m-3-9h0m-2 3h0m-3-4h0m-1 0h0m-5 1h0m-5 9h0m-15 2h0m-8-10h0m-17 10h0m-7-2h0m-12-2h0m-7-6h0m-14 5h0m-12 5h0m-4-10h0m-15-3h0m6 30h0m5-13h0m2 4h0m12 1h0m9 8h0m3-11h0m2-1h0m3 2h0m1 9h0m21-4h0m1-1h0m3-1h0m30-5h0m4 11h0m5-5h0m4 6h0m16-7h0m11 0h0m1-1h0m10 3h0m12-4h0m15 3h0m12-9h0m5 14h0m2-7h0m2 1h0m1-2h0m10 2h0m10-1h0m9-6h0m11 8h0m9-7h0m8 3h0m10 5h0m12 1h0m14-10h0m1 14h0m7-7h0m16 6h0m2-11h0m11 9h0m15-9h0m5 6h0m12 6h0m12-2h0m12-7h0m26-5h0m11 6h0m14-6h0m1 11h0m19-11h0m35 12h0m1-6h0m12-1h0m13 6h0m18 1h0m57-2h0m23-8h0m11 2h0m22 7h0m10-10h0m30 11h0m15-1h0m72 3h0m76-4h0m-114 14h0m-25-4h0m-34 5h0m-9-9h0m-44 13h0m-13-5h0m-35-1h0m-8-8h0m-13 3h0m-8 6h0m-18-3h0m-20 3h0m-8 6h0m-4-12h0m-15 7h0m-30 0h0m-11-2h0m-28-6h0m-10 10h0m-12-9h0m-2-2h0m-2 14h0m-1-14h0m-14 7h0m-21 0h0m-14-3h0m-6 9h0m-10-7h0m-17-4h0m-10 10h0m-14-4h0m-10-4h0m-23 2h0m-11-4h0m-12 3h0m-10-5h0m-14 13h0m-4-13h0m-10 6h0m-7 8h0m-2-12h0m-10 1h0m-3 10h0m-15-4h0m-11-8h0m-9 10h0m-6-7h0m-6 10h0m-9-6h0m-14-1h0m-12-1h0m-5 8h0m-6-13h0m-5 9h0m-9-11h0m-3 13h0m-25-8h0m-18 6h0m-10 3h0m17 15h0m2-10h0m19 3h0m8 7h0m10-6h0m13 4h0m19-6h0m10-5h0m10 6h0m6 5h0m13-7h0m9-4h0m2 12h0m1-10h0m3 4h0m8 5h0m2 3h0m1-10h0m2 11h0m8-2h0m1 2h0m7-9h0m11 8h0m6-3h0m2 1h0m6 2h0m15-8h0m13 3h0m8 2h0m6-9h0m9 2h0m6 10h0m4-14h0m5 10h0m8-8h0m7 10h0m10-6h0m11 6h0m13-12h0m8 8h0m0 4h0m3-3h0m2-2h0m16 3h0m23-2h0m10-5h0m13 9h0m21 2h0m9-6h0m14-7h0m16 10h0m11 4h0m2-12h0m12 12h0m10-9h0m22 6h0m11-2h0m15-4h0m8 4h0m5 2h0m9-1h0m17-9h0m17 7h0m22-7h0m0 12h0m25-1h0m15 2h0m8-10h0m31-3h0m9 13h0m6-15h0m22 8h0m8 5h0m99-1h0m39 0h0m66 0h0m192 14h0m-12-1h0m-11-7h0m-1 8h0m-10-9h0m-12 12h0m-15-9h0m-15 11h0m-2-12h0m-8 9h0m-10 2h0m-11-6h0m-17 4h0m-13-2h0m-15-2h0m-25 7h0m-45-4h0m-10-1h0m-35 0h0m-10 2h0m-34-7h0m-14 5h0m-34 4h0m-4-9h0m-39 10h0m-31-2h0m-9 0h0m-5-11h0m-6 13h0m-1-5h0m-3 3h0m-3 2h0m-1-14h0m-13 7h0m-27 3h0m-5-4h0m-4-6h0m-6 12h0m-18-5h0m-3-2h0m-4 6h0m-9-10h0m-7 11h0m-5-12h0m-17 11h0m-10-2h0m-13-3h0m-13 0h0m-13-1h0m-8 7h0m-2-13h0m-8 7h0m-6 7h0m-2 0h0m-1-2h0m-9-5h0m-3 2h0m-2 5h0m-3 1h0m-11-1h0m-6-14h0m-7 12h0m-2 3h0m0-1h0m-1-10h0m-11 2h0m-17 9h0m-2-2h0m-4-10h0m-9 10h0m-8-12h0m-3 8h0m-3-5h0m-1 4h0m-13-7h0m-5 10h0m-3 4h0m-1-9h0m-1 5h0m-11-8h0m-15 3h0m-4-5h0m-8 8h0m-2-5h0m-3 2h0m-10 5h0m-4 4h0m-4 0h0m-4-9h0m-12 4h0m-14 0h0m-15-1h0m-7-9h0m-6 15h0m-10-13h0m0 12h0m-13-5h0m-1-2h0m-8-1h0m-5 2h0m-13-1h0m-8-3h0m-3-4h0m-2 2h0m-2 12h0m-5-6h0m-2-2h0m-8 9h0m-2-12h0m-2-3h0m-1 14h0m-10-8h0m-11 9h0m-4-7h0m-12-7h0m-12 10h0m-13 3h0m-1-10h0m-13 8h0m-4-9h0m-9-2h0m-5 5h0m-19-1h0m-14 7h0m-5-9h0m-12 2h0m-8 9h0m5 11h0m12-7h0m1-2h0m3 11h0m12 0h0m10-11h0m14 13h0m2-9h0m13 8h0m7-3h0m15 0h0m6 6h0m5-3h0m3-2h0m8-6h0m3 5h0m14-3h0m14 9h0m2-1h0m7-11h0m6-3h0m5 10h0m8-10h0m3 13h0m7-11h0m2 13h0m7-1h0m1 1h0m2-2h0m1-11h0m1 12h0m7-6h0m2 7h0m15-6h0m14 3h0m8-4h0m3-2h0m3 9h0m1-3h0m9-2h0m8-6h0m11 10h0m19-8h0m12-1h0m0-3h0m9 8h0m3-4h0m7 0h0m2 2h0m8 1h0m0-7h0m2 5h0m5 2h0m3 1h0m9 0h0m5-8h0m8 3h0m7 9h0m2-7h0m10-1h0m13 1h0m8 6h0m10-13h0m2 9h0m6 5h0m14-5h0m21-9h0m1 4h0m7 2h0m3-1h0m3 10h0m6-15h0m2 5h0m10 5h0m1-2h0m3 0h0m4 1h0m5-8h0m9 3h0m1-4h0m6 5h0m4-4h0m2 4h0m2 5h0m6-8h0m10 6h0m9-8h0m2 10h0m5-2h0m6 0h0m9 3h0m9-9h0m4 3h0m12 6h0m0-7h0m0-4h0m23 5h0m1-4h0m6 12h0m0 1h0m2-7h0m7-7h0m7 7h0m16 7h0m7-9h0m6 10h0m0 0h0m5-9h0m1 4h0m3-2h0m8 7h0m11-12h0m3 12h0m12-9h0m20 2h0m26-3h0m16-3h0m10 11h0m5-10h0m11 8h0m32-9h0m11 4h0m19-1h0m28 1h0m15 2h0m19 7h0m1-12h0m30 12h0m1-9h0m23-5h0m5 11h0m11-7h0m10 5h0m11 5h0m15-8h0m29 1h0m6-5h0m33 6h0m5-9h0m20 0h0m-189 17h0m-28 6h0m-18-5h0m-42 10h0m-13-6h0m-15-2h0m-68 0h0m-4 10h0m-25-5h0m-9-7h0m-7 11h0m-41-1h0m-11-1h0m-1-4h0m-1-2h0m-6-3h0m-2 10h0m-10-11h0m-9 1h0m-6 9h0m-2-3h0m-1 2h0m-5-8h0m-10 11h0m0-11h0m-8 5h0m-10 5h0m-2-6h0m-1-4h0m-2 3h0m0-1h0m-6-2h0m-5 1h0m-1 5h0m-14-4h0m-5 5h0m0 6h0m-15-5h0m-14-6h0m-10 7h0m-1-11h0m-1 1h0m-12 7h0m-3 1h0m-2-9h0m-9 2h0m-4 0h0m-5 12h0m-6-4h0m-9 5h0m-1-14h0m-3 3h0m0 6h0m-2 2h0m-5 2h0m-1-12h0m-12 2h0m-5 7h0m-8-9h0m-3 3h0m-7-2h0m-3 4h0m-7-7h0m-2 11h0m-9-8h0m-10 0h0m-4-3h0m-1 7h0m-7-1h0m-1-6h0m-3 8h0m-2 6h0m-6-8h0m-5 7h0m0-11h0m-2-1h0m0 6h0m-3 6h0m-4-12h0m-6 5h0m-2 4h0m-10 0h0m-4-9h0m-1-1h0m-4 1h0m-1 9h0m-10 0h0m-8-6h0m-7 8h0m-3-11h0m-7 11h0m-3-7h0m-11 5h0m-7 5h0m-1-11h0m-13 6h0m-16-3h0m-16-1h0m-8-6h0m-8 13h0m-13 2h0m-2-6h0m-6-8h0m0 12h0m-4-13h0m-3 7h0m-8 2h0m-1-1h0m-10 6h0m0-10h0m-15 4h0m-11-7h0m-3 9h0m-9-6h0m-4 10h0m-10-1h0m-2-10h0m-3 12h0m-10-12h0m-5 12h0m-1-7h0m-5-1h0m-10-7h0m-10 10h0m-10 0h0m-3-8h0m-18 8h0m-9 4h0m-7-11h0m-6 17h0m21 6h0m12-4h0m13 6h0m1-10h0m9 11h0m11-10h0m3 9h0m9-11h0m16-1h0m8 8h0m17 6h0m2-5h0m0-9h0m8 4h0m2 10h0m10-13h0m3 8h0m0 5h0m7-6h0m13-2h0m5-5h0m3 11h0m1 2h0m9-7h0m13-6h0m9 13h0m9-13h0m1 13h0m8-14h0m0 6h0m3 6h0m2-4h0m0 6h0m16-10h0m5 3h0m17 1h0m2-7h0m8 8h0m4-8h0m9 7h0m4 1h0m7 1h0m5-2h0m4-3h0m14 8h0m6-3h0m4 4h0m10-8h0m29-5h0m0 10h0m3-10h0m4-1h0m2 10h0m25-1h0m9 1h0m7 3h0m1-9h0m2-2h0m15 4h0m7 8h0m2-14h0m5 3h0m12 6h0m10-8h0m10 4h0m13 7h0m6-10h0m14 1h0m4 2h0m6 2h0m15-1h0m2-5h0m8 13h0m31-11h0m2 10h0m16 0h0m15 2h0m16-8h0m34 4h0m16-7h0m16 5h0m18 4h0m10-5h0m9 2h0m60-2h0m40-8h0m227 0h0m-342 25h0m-33-6h0m-33-2h0m-27 11h0m-36 2h0m-19-4h0m-2 1h0m-10-6h0m-15 8h0m-13-11h0m-16-1h0m-5 0h0m-24 4h0m-26 4h0m-17 1h0m-12 4h0m-2-9h0m-1 10h0m-9-13h0m-15 3h0m-2 3h0m-10 5h0m-1-11h0m-14-2h0m-3 12h0m-8-6h0m-12 6h0m-5-11h0m-16 4h0m-10-1h0m-4 3h0m-8-6h0m-3 11h0m-10-6h0m-4 1h0m-10-3h0m-9-1h0m-2 3h0m-15-5h0m-11 12h0m-5-9h0m0 3h0m-6-4h0m-6 3h0m-11 1h0m-18 2h0m-10-3h0m-4-3h0m-14 3h0m-15-3h0m-2 5h0m-7-3h0m-4 1h0m-13 4h0m-7 4h0m-2-8h0m-2-2h0m-8 10h0m-4-14h0m-7 8h0m-5-6h0m-12-1h0m-1 11h0m-23-3h0m-13-3h0m-8 7h0m-4-9h0m-18 11h0m-9-1h0m-4-11h0m14 17h0m2-4h0m5 13h0m1-9h0m1-3h0m8 5h0m21 3h0m5-6h0m7 12h0m6-2h0m12-3h0m5 4h0m8-13h0m7 6h0m6 8h0m14-12h0m12 7h0m1-1h0m7 6h0m5-13h0m2 4h0m5 9h0m4-11h0m9 10h0m10-10h0m7-3h0m6 14h0m1 0h0m4-12h0m2 6h0m6 6h0m1-5h0m1-10h0m6 4h0m1 3h0m17-7h0m14 10h0m9-6h0m9 9h0m3-12h0m12 5h0m10 7h0m11-2h0m10 3h0m7-13h0m14 0h0m1 4h0m16 0h0m13 10h0m3-13h0m6-2h0m0 10h0m16-3h0m14-6h0m3 10h0m44 1h0m10-7h0m6-4h0m9 7h0m25-6h0m16 13h0m2-11h0m8 9h0m23-4h0m30 6h0m51-5h0m53-8h0m10 8h0m2-2h0m13-8h0m7 8h0m25-7h0m27-1h0m-70 19h0m-20 12h0m-3-12h0m-31 9h0m-20-8h0m-22-2h0m-2 10h0m-30-9h0m-30-2h0m-11 6h0m-24 8h0m-12-3h0m-12-4h0m-13-1h0m-37 0h0m-13 7h0m-2-13h0m-17 2h0m-4 9h0m-7-9h0m-29 8h0m-21-5h0m-25 2h0m-14-1h0m-17 6h0m-2-13h0m-11 15h0m-12-5h0m-8-4h0m-3-1h0m-9-5h0m0 0h0m-13 10h0m-7-7h0m-9-3h0m-16 7h0m-6-1h0m-3 9h0m-15 0h0m-9-1h0m-8-3h0m-12 2h0m-7-13h0m-3 12h0m-6-5h0m-4 3h0m-16-7h0m-15 10h0m-5-10h0m-9 5h0m-2 5h0m-13-10h0m-10-3h0m-19 14h0m-18-13h0m22 15h0m17 5h0m0 4h0m6 3h0m8-8h0m5 8h0m11-6h0m15 1h0m13-7h0m3 15h0m11-8h0m11-5h0m14 3h0m9-4h0m33 7h0m11-7h0m18 2h0m6 11h0m15-8h0m17-2h0m22 10h0m14-11h0m7 12h0m9-8h0m4 2h0m17-5h0m1 10h0m12-9h0m27-4h0m29 7h0m32 2h0m3-10h0m17 5h0m14 6h0m56 0h0m10-4h0m17 1h0m16-7h0m13 2h0m4 12h0m8-10h0m23-4h0m22 7h0m20-8h0m67 3h0m13 4h0m77-7h0m-15 17h0m-56 0h0m-28 10h0m-12 3h0m-20-5h0m-19 1h0m-12 4h0m-1-12h0m-21 2h0m-43 5h0m-23-5h0m-18 2h0m-68-2h0m-5 9h0m-23-7h0m-12 9h0m-4-12h0m-20-3h0m-7 10h0m-16-5h0m-15 7h0m-1-12h0m-20 1h0m-10-1h0m-37 13h0m-29-4h0m-18-8h0m-14-1h0m-11 8h0m-23-7h0m0 12h0m-9-6h0m-5-5h0m-2 9h0m-6-2h0m-4-9h0m-10 0h0m-12 2h0m-14 1h0m-16-1h0m0 10h0m-3-12h0m-9 5h0m-16 2h0m-15-3h0m-6 8h0m-7-8h0m-12-2h0m-2 11h0m-16-8h0m-10 1h0m-16-5h0m14 27h0m19-7h0m11 9h0m15 0h0m12 1h0m9-11h0m9 7h0m11 4h0m2-15h0m10 13h0m10-10h0m7 9h0m9-8h0m16 0h0m12 2h0m13-1h0m5-3h0m9-1h0m12 11h0m3-10h0m15 6h0m12-4h0m26 1h0m14-2h0m9 10h0m14-11h0m1 11h0m15-4h0m31 0h0m14 6h0m4-11h0m10-1h0m11 7h0m48-5h0m12 7h0m18-4h0m10-3h0m13-4h0m15 0h0m12 4h0m14 8h0m18-3h0m7-8h0m42-2h0m70 3h0m12 5h0m26-2h0m19 0h0m1 13h0m-46 2h0m-36-3h0m-20 2h0m-17-1h0m-11 8h0m-12-8h0m-66 0h0m-12-1h0m-1 13h0m-17-12h0m-13 2h0m-37 7h0m-24-5h0m-12-2h0m-26 5h0m-13-1h0m-40 1h0m-15 0h0m-18-3h0m-16 8h0m-19-14h0m-9 6h0m-10 6h0m-8-5h0m-11-4h0m-13 8h0m-16-8h0m-15 1h0m-6 10h0m-12-3h0m-7-8h0m-1 8h0m-4-4h0m-23 2h0m-2 2h0m-3-3h0m-12 4h0m-13 2h0m-16-4h0m-17-3h0m-30-2h0m2 12h0m7 12h0m10-1h0m8-12h0m12 0h0m8 11h0m21-2h0m38-5h0m8 8h0m9-5h0m13 5h0m12-5h0m16 7h0m31-8h0m26-4h0m13-2h0m13 11h0m9-5h0m58-2h0m23 5h0m20-10h0m2 13h0m31-11h0m20 8h0m11-6h0m20 11h0m22-15h0m11 12h0m13-6h0m12-1h0m12-2h0m11 12h0m10-9h0m30-3h0m11 12h0m25-8h0m44 5h0m25 1h0m71-6h0m-86 18h0m-51 1h0m-13-7h0m-41-2h0m-29 7h0m-8-6h0m-4 8h0m-10-7h0m-11-1h0m-4 0h0m-19 11h0m-72-7h0m-40 3h0m-13-2h0m-10-3h0m-8 10h0m-5-10h0m-13-3h0m-10-1h0m-8 12h0m-8-12h0m-18 4h0m-29-1h0m-25 9h0m-10-3h0m-20 1h0m-24-3h0m-19 6h0m-20-7h0m-20-4h0m-33 4h0m-18 6h0m-14 2h0m40 8h0m18 3h0m24-3h0m13-2h0m10 6h0m38-3h0m7 7h0m66 0h0m25-5h0m7-7h0m11 8h0m14-3h0m13 5h0m49 1h0m25 2h0m19-11h0m20 11h0m16-14h0m7 11h0m39-9h0m12-2h0m2 13h0m21 0h0m23-6h0m22 0h0m10-6h0m2 10h0m37-3h0m50-9h0m-22 21h0m-15 3h0m-19 2h0m-13 1h0m-17-5h0m-35 1h0m-11 7h0m-23 0h0m-1-12h0m-17 4h0m-20-3h0m-12 0h0m-14 3h0m-33 5h0m-1-11h0m-33 12h0m-5-9h0m-18 8h0m-11-4h0m-18 3h0m-24-8h0m-12 2h0m-29 0h0m-32 9h0m-4-11h0m-18 3h0m-8 8h0m-15-7h0m-4 0h0m-21 6h0m-14-10h0m-20 4h0m-19 6h0m-16-3h0m-44 0h0m-6-8h0m-14 0h0m17 26h0m13-8h0m15-3h0m4 9h0m23 4h0m69 1h0m15-7h0m16 6h0m40-11h0m19 1h0m20-3h0m3 14h0m28-8h0m26 5h0m1-11h0m44 13h0m14-12h0m4 14h0m10-3h0m30-5h0m70 1h0m5 6h0m27-7h0m20-5h0m10 11h0m13-8h0m11 7h0m17 1h0m11-12h0m20 2h0m20-1h0m16 5h0m-50 19h0m-27 0h0m-15-8h0m-13 9h0m-15-9h0m-16 10h0m-17-8h0m-25-1h0m-9 5h0m-8-6h0m-12 2h0m-13 9h0m-8-12h0m-25 12h0m-9-11h0m-50 8h0m0-10h0m-68 7h0m-28 5h0m-20-3h0m-15 0h0m-2-6h0m-8 6h0m-10-2h0m-9 7h0m-17-11h0m-15 12h0m-21-12h0m0 11h0m-23-1h0m-4-12h0m-25 6h0m-22 2h0m-14 5h0m-4-12h0m-7 9h0m27 10h0m15 3h0m29-1h0m45 2h0m26 1h0m21-9h0m11 1h0m9 10h0m16-9h0m18 12h0m15-4h0m11-11h0m15 10h0m7-7h0m18 8h0m13-1h0m21-5h0m13-5h0m42 14h0m21-5h0m26-8h0m10 6h0m18-5h0m32 8h0m17-5h0m19-1h0m21 9h0m39-5h0m10-7h0m15 1h0m-1 23h0m-36 5h0m-5-14h0m-31 1h0m-8 6h0m-12-4h0m-28 6h0m-12-3h0m-10-3h0m-33 11h0m-22-5h0m-11 2h0m-21 0h0m-19-9h0m-17 2h0m-10-2h0m-1 13h0m-12-6h0m-15-3h0m-26-3h0m-17 0h0m-16 3h0m-26 9h0m-7-11h0m-38-4h0m-29 12h0m-15-9h0m-29 5h0m-23 6h0m-23-4h0m-28-1h0m21 10h0m10 8h0m70 1h0m7-7h0m16 9h0m17 0h0m16-7h0m22-5h0m6 9h0m31 2h0m16 0h0m13-9h0m7 7h0m17-9h0m4 8h0m12 4h0m24-6h0m14-8h0m47 12h0m8-9h0m12 12h0m11-2h0m16-9h0m36 4h0m26-1h0m24 4h0m55 4h0m4-13h0m53 21h0m-60 3h0m-14 4h0m-32-6h0m-31 7h0m-9-6h0m-23-6h0m-15 4h0m-16-2h0m-27 5h0m-37-8h0m-10 10h0m-4-10h0m-22-1h0m-13 1h0m-23 9h0m-10 1h0m-40 0h0m-15 1h0m-38-3h0m-21-3h0m-43-5h0m-15 3h0m-15 10h0m-33-6h0m13 17h0m29-4h0m20 3h0m4-8h0m13 12h0m44 1h0m30-12h0m39-1h0m23 14h0m16-9h0m16-6h0m12 1h0m0 12h0m15-11h0m19 6h0m82 1h0m87-2h0m16-7h0m30 5h0m-41 17h0m-7 8h0m-25-9h0m-33 4h0m-56-7h0m-46 7h0m-9-7h0m-3 13h0m-11-10h0m-11 4h0m-18-2h0m-16-2h0m-14 4h0m-10 5h0m-32-7h0m-30-1h0m-42 7h0m-35-13h0m-9 11h0m-40 2h0m-13-5h0m31 16h0m54-3h0m35 2h0m27 0h0m32-2h0m9 3h0m37-2h0m44-1h0m13 6h0m8-5h0m27 0h0m50-2h0m22-1h0m36 12h0m17-6h0m33-5h0m-49 27h0m-34-14h0m-26 4h0m-12 8h0m-50 1h0m-8-7h0m-28-5h0m-10 2h0m-10 1h0m-23-1h0m-26 0h0m-67 6h0m-11-6h0m-7 9h0m-15-11h0m-3 11h0m-25-3h0m-9-4h0m-9-5h0m9 16h0m111 4h0m42 5h0m31 0h0m22-5h0m26 10h0m98-11h0m12-1h0m18 17h0m-9 7h0m-20-5h0m-14 0h0m-12-2h0m-55 6h0m-14 3h0m-21 2h0m-28-11h0m-10 4h0m-10 5h0m-1-13h0m-25 6h0m-15-3h0m-21 4h0m-30-7h0m-11 5h0m-25 7h0m27 10h0m27-5h0m15 14h0m2-13h0m12 2h0m18 3h0m11 4h0m26-9h0m26 5h0m20 2h0m68-9h0m25 1h0m-29 18h0m-51 1h0m-34-2h0m-13 12h0m-3-12h0m-16 0h0m-47 0h0m-2 11h0m-8-4h0m-14 6h0m51 10h0m4-9h0m19 0h0m7 9h0m30-9h0m38 4h0m22-2h0m-110 14h0"/></defs><g opacity="0.178"><use href="#l10" stroke="#00003c" stroke-width="11"/><use href="#l10" stroke="#0000ff" stroke-width="7"/></g><defs><path id="l11" d="M690 142h0m-52 14h0m-56 3h0m-18 8h0m15 7h0m21-14h0m14 6h0m19 9h0m36 0h0m-9 7h0m-30 8h0m-14-8h0m-21-2h0m-62 4h0m-19-1h0m-14 0h0m-16 17h0m23-6h0m18 13h0m1-11h0m13 1h0m56 1h0m10 0h0m44-2h0m22 2h0m10 0h0m27 9h0m10-15h0m6 3h0m44 9h0m-21 10h0m-25-2h0m-3 10h0m-45-6h0m-48-1h0m-12 7h0m-19-2h0m-21 1h0m-14-13h0m-6 13h0m-42-11h0m-22 7h0m-13 5h0m-13-10h0m-1 11h0m-14 0h0m11 15h0m47-13h0m32 2h0m97 1h0m17-1h0m23 5h0m10-8h0m20 2h0m98 18h0m-8 7h0m-17-1h0m-13 5h0m-33-15h0m-23 5h0m-89 9h0m-32-13h0m-5 10h0m-22-8h0m-23 12h0m-9-13h0m-23 7h0m-13-8h0m-58 0h0m-21 11h0m-20-2h0m8 14h0m26 4h0m19-11h0m22 6h0m36 4h0m8-10h0m12 1h0m12 12h0m19-1h0m8-13h0m19 10h0m17-4h0m13 0h0m15 7h0m9 1h0m14-9h0m24 3h0m9-5h0m13-3h0m11 9h0m24-6h0m30 7h0m12 3h0m13-6h0m41 15h0m-25 7h0m-67-11h0m-17-1h0m-12 8h0m-14-6h0m-32 5h0m-82-2h0m-23 5h0m-8-7h0m-30-1h0m-32 3h0m-14 0h0m-27 4h0m-18-2h0m-20 1h0m-9 6h0m-6-9h0m-27 12h0m15 9h0m17-1h0m12-4h0m8 8h0m58-7h0m44-2h0m36 10h0m23-8h0m10 7h0m12 0h0m23-4h0m0-10h0m10 4h0m17-3h0m12 4h0m27 7h0m15-8h0m17 4h0m17-6h0m1 12h0m16-7h0m11 4h0m66-5h0m-10 25h0m-11-13h0m-16-1h0m-15 12h0m-11-2h0m-51-7h0m-14 1h0m-22-1h0m-50-2h0m-20 4h0m-33-3h0m-12-1h0m-45 13h0m-17-9h0m-21 4h0m-49-3h0m-31 1h0m-17-4h0m-8 8h0m-7-8h0m-11 9h0m-19-3h0m-20 20h0m11-13h0m3 11h0m26-3h0m16 2h0m54 4h0m18-5h0m17 2h0m11 0h0m18-11h0m13 3h0m12 10h0m7-12h0m3 2h0m39-1h0m61 5h0m10 0h0m47-3h0m29-4h0m4 14h0m71-10h0m38 4h0m22 3h0m-3 19h0m-5-15h0m-15 3h0m-26 3h0m-20-3h0m-25 0h0m-24 9h0m-26 1h0m-27-12h0m-15 0h0m-11 11h0m-6-10h0m-38 8h0m-14-8h0m-9 12h0m-41-8h0m-27 6h0m-10-5h0m-14-5h0m-9-2h0m-16 5h0m-7 6h0m-21 2h0m-23-9h0m-9-4h0m-17 9h0m-25-9h0m-13 2h0m-14 8h0m-15-1h0m-9 4h0m-4 11h0m23 6h0m17-8h0m11 6h0m24-7h0m9 10h0m13-6h0m22-2h0m18-2h0m11-3h0m10 11h0m9-6h0m20-1h0m17 3h0m20-6h0m30-1h0m30 13h0m7-9h0m19-4h0m22 12h0m8-6h0m45-3h0m18-2h0m63 2h0m24 4h0m11-3h0m45 7h0m-15 3h0m-12 13h0m-12-2h0m-5-8h0m-43-1h0m-36 4h0m-12-1h0m-29 9h0m-16-14h0m-23 12h0m-29-6h0m-18 9h0m-20-5h0m-12-4h0m-22-6h0m-7 10h0m-16-2h0m-28-4h0m-10-2h0m-41 5h0m-9 5h0m-9-7h0m-52-2h0m-26 7h0m-29 5h0m-1-12h0m-34-3h0m-9 2h0m-7 17h0m9 10h0m14-7h0m11 8h0m11 1h0m14-8h0m21 2h0m18-8h0m30 12h0m19-7h0m16 0h0m13-2h0m5 8h0m13 0h0m13-10h0m2 10h0m13 2h0m0-12h0m11 5h0m23-4h0m9 2h0m32 8h0m13 1h0m31-11h0m6 11h0m18-14h0m20 10h0m11 1h0m0-10h0m11 11h0m18-2h0m12-4h0m16 6h0m20-10h0m6 9h0m17 0h0m27 4h0m20-8h0m40-6h0m32 27h0m-16-5h0m-15-1h0m-19-5h0m-11-1h0m-24 6h0m-32 3h0m-22 2h0m-30 0h0m-15 0h0m-11-1h0m-45-10h0m-14 2h0m-35 3h0m-15 9h0m-20-1h0m-10-10h0m-21 9h0m-25-8h0m-18 11h0m-9-6h0m-33 1h0m-6-10h0m-15 11h0m-13-10h0m-9 9h0m-30 0h0m-10 2h0m-17-8h0m-24 9h0m-23-8h0m-17 10h0m-15-12h0m-8 27h0m22-2h0m19-1h0m8-7h0m23 6h0m14 4h0m8-14h0m14 7h0m39 2h0m10 6h0m14-10h0m71-4h0m1 10h0m28 1h0m35 3h0m29-9h0m25-4h0m26 6h0m16 2h0m15-8h0m41 13h0m11-14h0m26 6h0m82 0h0m14 8h0m8-13h0m51 9h0m59 8h0m-77 3h0m-8 6h0m-4-9h0m-54 4h0m-11-6h0m-29 0h0m-34 3h0m-68 7h0m-38-2h0m-26-4h0m-12 3h0m-8 7h0m-21-7h0m-21 5h0m-14-7h0m-18 3h0m-19 3h0m-19-12h0m-15 6h0m-13 2h0m-61-3h0m-14 6h0m-20-6h0m-29 5h0m-16-7h0m-17 5h0m-14-1h0m-19-5h0m-3 7h0m-16-2h0m-21 24h0m12-2h0m19-4h0m14 3h0m5-12h0m14 5h0m5 10h0m10-15h0m11 8h0m8-8h0m5 15h0m28-5h0m0 2h0m29-7h0m17 5h0m10-5h0m10 5h0m13-8h0m40 12h0m44-10h0m12 6h0m14-1h0m12-2h0m31 3h0m20-4h0m53 2h0m24-4h0m20 10h0m9-14h0m23 0h0m12 7h0m7 7h0m10-3h0m14-7h0m16 10h0m60-8h0m24 0h0m10 6h0m147 13h0m-52 4h0m-94-4h0m-16 0h0m-70-5h0m-25-4h0m-35 9h0m-28-5h0m-21 11h0m-16-3h0m-14-6h0m-14 1h0m-25 5h0m-20-7h0m-6 8h0m-18-9h0m-8 8h0m-11-6h0m-30 8h0m-10-10h0m-16 1h0m-8 9h0m-5-13h0m-24 6h0m-10-2h0m-1 6h0m-8-3h0m-11 7h0m-3-14h0m-19 6h0m-30 5h0m-26-8h0m-19-2h0m-2 10h0m-21 0h0m-4-7h0m-15 7h0m-8-2h0m-8-2h0m-23 2h0m-10-4h0m-10 1h0m-31 22h0m8-12h0m15 4h0m19 1h0m11 5h0m11 3h0m3-12h0m5 8h0m21 4h0m9 1h0m10-12h0m14 12h0m13-11h0m9 9h0m21-3h0m15-6h0m9 2h0m15 8h0m8-14h0m9 9h0m14-3h0m14 0h0m15 5h0m32-8h0m38 5h0m24-4h0m1 2h0m25 5h0m13-11h0m7 10h0m18 1h0m5-10h0m7 14h0m16-10h0m31 9h0m27-6h0m17-3h0m53-5h0m40 9h0m54 6h0m22-3h0m39-1h0m148 17h0m-168-3h0m-21 6h0m-32-1h0m-19-1h0m-12-3h0m-37-5h0m-20-5h0m-19 14h0m-6-11h0m-17-2h0m-7 9h0m-19 3h0m-16-3h0m-24 2h0m-25-4h0m-13-1h0m-10 1h0m-22 3h0m-13-1h0m-19-10h0m-24 3h0m-8 7h0m-14 3h0m-27-8h0m-15 2h0m-19 4h0m-9-11h0m-11 1h0m-2 0h0m-8 6h0m-15 1h0m-12 0h0m-22 7h0m-13-5h0m-10-9h0m-3 5h0m-10 2h0m-18 4h0m-9-3h0m-41-5h0m-3 7h0m-2-9h0m-4 11h0m-2-1h0m-11 2h0m-19-7h0m-11 3h0m-6-8h0m-8 5h0m-16 11h0m6 10h0m15-9h0m10 1h0m16 7h0m13 4h0m20-8h0m13-6h0m14 7h0m9-8h0m11 7h0m11 8h0m1 0h0m8-9h0m23-2h0m7 7h0m34-2h0m13-1h0m9 0h0m8 5h0m18-8h0m14-4h0m24 9h0m6-10h0m4 12h0m7-9h0m16 9h0m18-7h0m14 1h0m28 6h0m17-5h0m15-4h0m23 11h0m4-9h0m10-4h0m4 10h0m17-1h0m12-1h0m14-7h0m20 6h0m39 7h0m21-1h0m6-12h0m7 11h0m32-4h0m28 1h0m24-2h0m35-1h0m27 0h0m119 14h0m-106 2h0m-37 2h0m-30-2h0m-13-4h0m-8 9h0m-11-1h0m-24-6h0m-26 8h0m-29-6h0m-43 8h0m-10-5h0m-12-10h0m-34 5h0m-51 6h0m-11 3h0m-12-13h0m-17 10h0m-9-11h0m-1 15h0m-22-8h0m-9-5h0m-12 10h0m-36 2h0m-11-5h0m-9-3h0m-12-3h0m-13-1h0m-17 13h0m-11-1h0m-5-11h0m-9 2h0m-12-4h0m-2 7h0m-12-8h0m-1 13h0m-10-5h0m-17 0h0m-15 3h0m-16-8h0m-9 8h0m0-11h0m-13 5h0m-14 4h0m-6-7h0m-4 2h0m-13-3h0m-12 13h0m-13-5h0m-14 5h0m-5-6h0m-21-1h0m-3 19h0m14-8h0m7-1h0m5 1h0m14 9h0m4-8h0m17 10h0m13-13h0m3 13h0m19-6h0m14 6h0m2-10h0m11 9h0m7-11h0m3 14h0m16 0h0m6-12h0m13 1h0m8 7h0m14-2h0m18 2h0m3-7h0m3-1h0m5 9h0m17-2h0m18-9h0m6 10h0m22-4h0m9 8h0m11-3h0m7-11h0m10 2h0m3 11h0m24-6h0m12-1h0m17 5h0m4-7h0m12 0h0m14-3h0m8 7h0m22-2h0m8-5h0m28 4h0m11 5h0m10-5h0m10-5h0m16 10h0m17 4h0m12-10h0m11 7h0m8-11h0m9 12h0m37 1h0m16-13h0m27 11h0m12 3h0m13-8h0m12-2h0m10 6h0m62-3h0m-31 20h0m-3-9h0m-26 3h0m-11-5h0m-21 8h0m-30-7h0m-25 8h0m-15-3h0m-21 4h0m-39 0h0m-18 0h0m-27-7h0m-7 8h0m-12 1h0m-26-2h0m-18-7h0m-13 8h0m-19-6h0m-11 0h0m-9 5h0m-2 4h0m-10-7h0m-19 3h0m-7-7h0m-8 0h0m-36 3h0m-9-3h0m-3 5h0m-15 2h0m0-10h0m-2 12h0m-22-2h0m-6-8h0m-5 1h0m-2 9h0m-7-9h0m-9 4h0m-10-3h0m-9 0h0m-12-2h0m-1 11h0m-6-11h0m-4 4h0m-9 8h0m-3-12h0m-14 6h0m-13-9h0m-10 12h0m-12-7h0m-12 1h0m-5 9h0m-11-14h0m-7 14h0m-1-7h0m-13-3h0m-7 10h0m-9-12h0m-5 10h0m-11-6h0m-11-1h0m-15-1h0m-12 3h0m8 14h0m13 1h0m18 1h0m11 7h0m28-3h0m1-5h0m9 6h0m5-10h0m7 9h0m5-11h0m3 2h0m4 10h0m10-13h0m18 6h0m14 7h0m9-8h0m18 0h0m3 9h0m21-3h0m13 3h0m11-4h0m1-9h0m9 8h0m15-1h0m8 7h0m3-13h0m10 7h0m8-5h0m27 1h0m4 10h0m6-2h0m11-11h0m17 5h0m11-3h0m7 10h0m24-5h0m10 2h0m0-1h0m9-6h0m9 0h0m3 4h0m0 5h0m15-4h0m8-5h0m9 3h0m10 3h0m16 3h0m11-3h0m10-10h0m3 12h0m13-6h0m4 3h0m18-5h0m7 6h0m9-10h0m8 11h0m2-10h0m7 10h0m3-11h0m12 11h0m19-9h0m3 4h0m27-6h0m3 9h0m10 2h0m32 2h0m6-13h0m30 13h0m123 1h0m49-10h0m123 4h0m16 2h0m96 15h0m-2-4h0m-11 3h0m-7 6h0m-6-8h0m-17 6h0m-18-2h0m-3 3h0m-8-7h0m-14 2h0m-11-1h0m-33 1h0m-17 2h0m-64 0h0m-17-2h0m-87-4h0m-13 6h0m-24 5h0m-10 0h0m-8-7h0m-19-2h0m-17 4h0m-20 2h0m-5-12h0m-19 8h0m-9 6h0m-16-1h0m-19-11h0m-7 9h0m-1 1h0m-5-10h0m-11 0h0m-3 11h0m-6-7h0m0-6h0m-8 11h0m-6-8h0m-9 6h0m-25 0h0m-11 1h0m-4 2h0m-4-12h0m-13 3h0m-7 10h0m-10 1h0m-2-11h0m-8 6h0m-15 4h0m-14-5h0m-3 5h0m-4 0h0m-2 2h0m-5-12h0m-5 0h0m0 5h0m-11-5h0m-3 4h0m-3 4h0m-2 0h0m-2 1h0m-12-10h0m-4 5h0m-1 0h0m-1 2h0m-11 3h0m-9-7h0m-5 10h0m-2-1h0m-11-1h0m-3-6h0m-10-5h0m-1-1h0m0 11h0m0-6h0m-12-6h0m-1 10h0m-9 4h0m-9-9h0m-9 10h0m-7-7h0m-9-7h0m-1 2h0m-2 5h0m-10 4h0m-2-9h0m-12 11h0m-1-4h0m-9-3h0m-13 1h0m-3 5h0m-7-7h0m-19 5h0m-3-4h0m-2 2h0m-15-7h0m-11 11h0m-3-4h0m-7-8h0m-7 13h0m-3-7h0m-6 8h0m-2 0h0m-6-9h0m-1 4h0m-4-5h0m-1 7h0m-1-2h0m-8-8h0m-5 11h0m-2-3h0m-9-6h0m-8 7h0m-9 2h0m-6-4h0m-3-3h0m-13 5h0m-7 3h0m-5-2h0m-6-10h0m-4 13h0m-5-2h0m-5-1h0m-1-12h0m-1 13h0m-15-6h0m-2-4h0m-7 2h0m-5-3h0m-2 13h0m-8-5h0m-16 19h0m7-12h0m22 12h0m7-8h0m13 1h0m10 0h0m13 3h0m8 6h0m9-6h0m10 0h0m14-3h0m16-1h0m8 10h0m7-9h0m9 3h0m4-4h0m23 0h0m4 10h0m0 0h0m11-2h0m16-12h0m11 1h0m1 10h0m10-2h0m7-8h0m1 8h0m5 3h0m5-9h0m13 9h0m1-12h0m13 3h0m15 1h0m6-1h0m7 7h0m1-8h0m6 8h0m11-2h0m5 0h0m3-8h0m1 6h0m1 6h0m4-12h0m2 0h0m2 14h0m4-2h0m2-1h0m4-10h0m8 6h0m15-4h0m10 0h0m2 3h0m2 4h0m6 2h0m2-4h0m6-3h0m15-4h0m3 0h0m2 11h0m8 0h0m1-6h0m2 8h0m1-5h0m3-1h0m5-2h0m7 7h0m2-5h0m3-6h0m11 5h0m12-2h0m2-4h0m11 7h0m5 6h0m10-5h0m3-2h0m10 5h0m5-6h0m3 6h0m1-2h0m0-11h0m10 0h0m4 12h0m18-3h0m3-6h0m16 4h0m3-4h0m2 12h0m9-10h0m2 10h0m9-3h0m5 3h0m6-9h0m8 0h0m4-4h0m0 2h0m12 10h0m2-10h0m9 1h0m7 8h0m3-4h0m15 5h0m15-13h0m0 11h0m2 0h0m22-9h0m3 1h0m14 9h0m7-10h0m10 3h0m21 6h0m21-12h0m12 9h0m11-6h0m20 8h0m12 1h0m14-6h0m0-6h0m12 10h0m0-5h0m28-5h0m13 7h0m6 8h0m11-12h0m14 2h0m8 9h0m23-10h0m23 11h0m5-11h0m13 5h0m20 5h0m8-8h0m2-6h0m8 3h0m17 3h0m-103 10h0m-41 5h0m-28-4h0m-44 0h0m-11 10h0m-26-2h0m-22-1h0m-50 1h0m-11 6h0m-9-8h0m-11-3h0m-6-2h0m-7 3h0m-13 1h0m-10 3h0m-12 6h0m0-3h0m-4-8h0m-9 4h0m-21 2h0m-5-10h0m-10 1h0m-7 8h0m-5 2h0m-9 3h0m-1-9h0m-4 7h0m-5-3h0m-1-5h0m-4-4h0m-4 10h0m-3-2h0m0-8h0m-10 3h0m-13-2h0m-7 12h0m0-7h0m-1 4h0m-5 5h0m-10-7h0m0-3h0m-12-1h0m-8 8h0m-1-3h0m-7 2h0m0-8h0m-7 9h0m-3-7h0m-7 0h0m-17-1h0m-7-4h0m-1 14h0m-5 0h0m-9-11h0m-5-1h0m-11 5h0m-5-5h0m-5 1h0m-5-2h0m-5 8h0m-12-4h0m-8 8h0m-3-9h0m-2 9h0m-2-13h0m-2 1h0m-1 2h0m-1 6h0m-2 5h0m-16-10h0m-1 9h0m-6-7h0m-3-1h0m-12 3h0m-1-2h0m-4-2h0m-5 11h0m-9-11h0m-16 11h0m-3-9h0m-4-4h0m-9 3h0m-2 9h0m-3 0h0m-7-14h0m0 8h0m-18 6h0m-1-5h0m-4-3h0m-13 8h0m-15-6h0m-13-7h0m-12 14h0m-9-1h0m0-3h0m-2-10h0m-2 9h0m-4-4h0m-9-5h0m-1 11h0m-5-1h0m-13 0h0m0-10h0m-3 11h0m-3-9h0m-5 8h0m-1 3h0m-3-13h0m-11 5h0m-8 6h0m-5-12h0m-7 14h0m-3-9h0m-8 5h0m-31 4h0m-1-11h0m-8 8h0m-5-11h0m-12 7h0m-19 8h0m-6-15h0m-10 24h0m12 0h0m8 5h0m12-12h0m3 10h0m3-10h0m14 8h0m15 6h0m14-9h0m13 9h0m5-15h0m6 15h0m1-11h0m15 3h0m4-4h0m2 11h0m16-2h0m9 0h0m13 1h0m10-11h0m5 2h0m3 6h0m4 2h0m6 3h0m8-1h0m2-11h0m3-1h0m15 8h0m2 0h0m9-2h0m11-4h0m8 7h0m24-4h0m12-7h0m3 9h0m7-2h0m1 8h0m8-6h0m2-9h0m5 9h0m8 6h0m17-11h0m11 4h0m6-8h0m4 11h0m6-8h0m16-3h0m4 12h0m8-7h0m1-3h0m4 11h0m8-7h0m6-6h0m13 3h0m4 12h0m0-11h0m11 2h0m10-3h0m5 1h0m2 1h0m1-3h0m3 8h0m3-5h0m1 4h0m7 2h0m2-8h0m15 1h0m17 10h0m8-9h0m6-3h0m5 8h0m6-8h0m19 0h0m3 8h0m16 5h0m19-7h0m0-7h0m6 10h0m6-7h0m9 4h0m6-8h0m12 12h0m12-8h0m13 0h0m6-3h0m18 5h0m9-2h0m14 4h0m22-3h0m16 4h0m12 0h0m24 16h0m-29 4h0m-11-7h0m-31-4h0m-35-2h0m-2 13h0m-17-9h0m-18 6h0m-25-8h0m-17 2h0m-11 3h0m-24 7h0m-17-14h0m-26 15h0m-16-14h0m-25 1h0m-2 12h0m-17-4h0m0-10h0m-10 1h0m-5 3h0m-6 0h0m-7 5h0m-3-8h0m-4 8h0m-11-3h0m-22 8h0m-5-6h0m-8-7h0m-6 10h0m-12-8h0m-9 8h0m-5-11h0m-13 14h0m-17-5h0m-10 0h0m-11-7h0m-4 13h0m-1-11h0m-6-3h0m-8 2h0m-4 10h0m-1-13h0m-7 7h0m-17 4h0m-1-10h0m-8 14h0m-1-12h0m-11 12h0m-4 0h0m-6 0h0m-1-15h0m-6 7h0m-10 2h0m-11-6h0m-7 9h0m-1-10h0m-5 4h0m-6 1h0m-4 0h0m-24-5h0m-14 0h0m-5 2h0m-8 8h0m-16-4h0m-17 2h0m-10-3h0m-9 7h0m-11-3h0m-32-3h0m-6 8h0m18 7h0m10 1h0m24-1h0m6 8h0m13-4h0m4 3h0m22-8h0m2 8h0m6-14h0m1 10h0m5-7h0m3 1h0m11-2h0m14 11h0m9-13h0m4 11h0m3-1h0m6-2h0m9-6h0m8-2h0m7 11h0m0-1h0m1-3h0m9-3h0m11 7h0m12-5h0m8 5h0m2 0h0m13-3h0m6-6h0m6 9h0m15 3h0m2-10h0m2-4h0m14 13h0m2-11h0m10 11h0m14-5h0m7 5h0m12-4h0m19-4h0m11 2h0m12 0h0m10 3h0m13-8h0m2 7h0m9 2h0m6-9h0m20-2h0m12 4h0m12 4h0m18-8h0m21 2h0m4 10h0m21 2h0m5 1h0m9-4h0m32-8h0m6 9h0m9-11h0m2 10h0m45-3h0m66-3h0m25 0h0m8 7h0m29 11h0m-27 4h0m-38-9h0m-57 5h0m-21 2h0m-28-3h0m-15 1h0m-31 1h0m-15 0h0m-14 2h0m-19-7h0m-6 9h0m-7-7h0m-19 7h0m-13-2h0m-10-8h0m-6 12h0m-6-2h0m-19 1h0m-12-4h0m-18 2h0m-11 1h0m-17-3h0m-1-9h0m-10 6h0m-1 0h0m-13 7h0m-13-3h0m-18 5h0m-9-9h0m-9 0h0m-19 3h0m-6 0h0m-9-5h0m-20 7h0m-5-11h0m-5 12h0m-9-7h0m-7 7h0m-1-12h0m-16 10h0m-8-10h0m-3 1h0m-2 9h0m-2-9h0m-6 14h0m-9-13h0m-1 11h0m-15-6h0m-10-6h0m-6 12h0m-7-2h0m-7 4h0m-4-12h0m-10 3h0m-18 0h0m-21 3h0m-1-9h0m-10 7h0m-10 4h0m-18-4h0m9 20h0m18-5h0m13 5h0m12-8h0m9 12h0m2-9h0m0-6h0m16 4h0m9 8h0m13-10h0m7 12h0m10-8h0m14 0h0m26-3h0m13 0h0m9 11h0m10-2h0m15 3h0m20-15h0m2 10h0m12 5h0m2-13h0m4 1h0m11 3h0m12-5h0m3 9h0m32-5h0m3 8h0m12-4h0m5-9h0m5 8h0m12 4h0m23-3h0m20 0h0m16 2h0m12 0h0m34 0h0m14-6h0m35 9h0m41-8h0m11 3h0m53-4h0m22 6h0m172 8h0m-67 1h0m-10 2h0m-20 8h0m-20-2h0m-12-2h0m-19 0h0m-29-5h0m-25-1h0m-10 2h0m-12 1h0m-10 5h0m-5-9h0m-13 8h0m-23-9h0m-16 13h0m-15-7h0m-21 0h0m-14-6h0m-22 5h0m-28 6h0m-9-8h0m-13 2h0m-25 0h0m-14-1h0m-16-4h0m-31 0h0m-2 13h0m-30-6h0m-16-2h0m-24 0h0m-28 1h0m-32-1h0m-12 6h0m-24 0h0m-2-11h0m-8 13h0m-6-1h0m-10 0h0m-3-10h0m-19-4h0m-6 8h0m-14 1h0m-9-7h0m-7 7h0m-13-1h0m-13 1h0m12 19h0m19-4h0m18-1h0m9 5h0m6-5h0m14 0h0m41 1h0m22 4h0m2-9h0m19-1h0m6 13h0m7-7h0m4-7h0m6-1h0m7 2h0m2 8h0m32-5h0m40-5h0m31 2h0m16 3h0m11 6h0m12 3h0m18-3h0m30-2h0m25 4h0m12-10h0m22 10h0m29 2h0m23-2h0m22-5h0m20 5h0m15-9h0m1 11h0m10-9h0m33-4h0m3 12h0m20-11h0m10 7h0m41-7h0m23-3h0m60 21h0m-73-2h0m-14 3h0m-23-5h0m-20 3h0m-8 10h0m-3-10h0m-25 0h0m-12 1h0m-54-4h0m-57 4h0m-11-3h0m-19 9h0m-14-10h0m-13 13h0m-18-8h0m-23-4h0m-8 9h0m-48-1h0m-20 2h0m-16-4h0m-23 3h0m-11 3h0m-9-6h0m-14-4h0m-12-1h0m-8 0h0m-8 7h0m-10 2h0m-27-10h0m-9 9h0m-10-6h0m-7 10h0m-4-11h0m-1-2h0m-8 11h0m-6-12h0m-4 9h0m-9-10h0m-4 2h0m-5 12h0m-12-3h0m-18-3h0m-11 1h0m-18 1h0m-5-8h0m1 25h0m11 2h0m12 2h0m5-12h0m15 9h0m24 1h0m14 1h0m31-3h0m16 3h0m10-12h0m10 13h0m18-9h0m21-4h0m19 1h0m6 10h0m20-9h0m9 3h0m17-3h0m12 2h0m14 3h0m11-6h0m2 12h0m14-10h0m32 6h0m12-1h0m15-9h0m19 6h0m9 5h0m11-2h0m12 2h0m18-1h0m25-5h0m31 2h0m17 5h0m19-11h0m20 7h0m22-8h0m33 0h0m7 8h0m11 5h0m8-7h0m9 2h0m8-8h0m12 13h0m31-2h0m13 7h0m-53-1h0m-3 11h0m-87-10h0m-15 2h0m-48-5h0m-21 6h0m-33 9h0m-16-8h0m-41-3h0m-27-2h0m-27 1h0m-2 10h0m-12 2h0m-7-8h0m-37-3h0m-14 0h0m-11-3h0m-8 10h0m-12-4h0m-37 1h0m-17 5h0m-10-7h0m-28 2h0m-26-3h0m-13-1h0m-11 0h0m-31 10h0m-9-9h0m-11 4h0m-29 5h0m12 11h0m10 5h0m9-8h0m15 4h0m10-1h0m13-8h0m4 9h0m34-3h0m15 3h0m28-5h0m9 7h0m73 0h0m15 1h0m19-4h0m31-1h0m48-4h0m23-4h0m32 12h0m12 1h0m49-2h0m9 2h0m7-12h0m10 0h0m24 11h0m37-6h0m19 1h0m15-2h0m78 5h0m-19 12h0m-21 4h0m-38 4h0m-60 0h0m-15-8h0m-8 6h0m-14-9h0m-31 1h0m-21-4h0m-24 11h0m-26-10h0m-11 8h0m-6-9h0m-4 9h0m-18-7h0m-13-1h0m-3 9h0m-9-4h0m-16 3h0m-13-5h0m-3 11h0m-22-7h0m-10 4h0m-9-8h0m-10 7h0m-17-1h0m-11-7h0m-6 8h0m-23 0h0m-15-3h0m-9 4h0m-8-7h0m-18 0h0m-11 1h0m-13-1h0m-10-5h0m-8 12h0m-52-7h0m-13 12h0m16 14h0m1-11h0m16-1h0m12-3h0m20 7h0m5 2h0m9-5h0m10 1h0m54 3h0m23 0h0m14 2h0m19 2h0m10-6h0m64 3h0m17-9h0m15 6h0m12-5h0m24 6h0m18 6h0m3-13h0m26 7h0m34 4h0m19-1h0m13 4h0m0-14h0m25 14h0m37-4h0m7-7h0m4 10h0m29-1h0m14-4h0m22-5h0m27-2h0m4 12h0m15-4h0m31 20h0m-43 2h0m-16-1h0m-13-12h0m-11 10h0m-5-9h0m-79 2h0m-13-1h0m-27 0h0m-26 7h0m-24-8h0m-24 1h0m-37 7h0m-17-2h0m-28-2h0m-20 3h0m-10-3h0m-10-1h0m-16-2h0m-25 2h0m-12 7h0m-20-2h0m-43-2h0m-23 1h0m-9-4h0m-10-5h0m-16 7h0m-15-6h0m-21 8h0m-9-5h0m-7 8h0m-12-7h0m6 18h0m16 4h0m17-2h0m25-2h0m65-7h0m19 4h0m9-5h0m22 14h0m41-11h0m7 10h0m27 2h0m20-2h0m19-3h0m44 1h0m16 0h0m56 4h0m6-13h0m12 1h0m58 4h0m18 0h0m19-1h0m27 7h0m14 2h0m10-9h0m9 4h0m21-2h0m-60 13h0m-21-1h0m-11 8h0m-20-11h0m-24 1h0m-25 11h0m-21 2h0m-19-6h0m-45-5h0m-18 2h0m-9-2h0m-45 8h0m-39-4h0m-12-2h0m-14 9h0m-19-14h0m-11 8h0m-19-5h0m-35 3h0m-15-3h0m-11-4h0m-19 9h0m-43 0h0m-34-3h0m24 13h0m9 9h0m8-7h0m13 6h0m42 0h0m17-11h0m14 10h0m22 5h0m17-1h0m21-9h0m53-4h0m36 4h0m58 6h0m17-8h0m1 10h0m42-7h0m50 8h0m13-7h0m11 2h0m37-1h0m9-6h0m31 4h0m9-4h0m-5 15h0m-12 11h0m-7-9h0m-25 4h0m-22 5h0m-14 1h0m-12-1h0m-28-7h0m-12-2h0m-26 7h0m-13 4h0m-13-4h0m-12 3h0m-12-6h0m-27-1h0m-15 6h0m-20-9h0m-4 10h0m-11-3h0m-10-10h0m-21 1h0m-18 2h0m-6 10h0m-23-13h0m-18 9h0m-22 5h0m-27-4h0m-28-6h0m-19 8h0m-48-12h0m33 24h0m9 7h0m15-13h0m50 4h0m10 5h0m47-1h0m13-7h0m27 1h0m15-1h0m0 12h0m29-1h0m61 1h0m7-11h0m147 1h0m7 7h0m9-1h0m15-11h0m29 2h0m14 8h0m-95 7h0m-45 4h0m-102-3h0m-11 7h0m-9-8h0m-14 6h0m-21 0h0m-40-3h0m-6 10h0m-41-12h0m-22 8h0m-13 3h0m-12-4h0m-12-6h0m-13 7h0m-39-1h0m16 11h0m51 5h0m14 2h0m10 2h0m6-11h0m8 12h0m9-7h0m21 6h0m4-9h0m10 3h0m11 7h0m3-14h0m9 6h0m17 0h0m41 2h0m22-3h0m30 0h0m16 5h0m11 0h0m15-4h0m57 4h0m28 3h0m13-3h0m14-7h0m11-1h0m11 2h0m-25 17h0m-26 3h0m-35 3h0m-17-11h0m-53 11h0m-41-10h0m-16-1h0m-9 12h0m-5-10h0m-22 4h0m-82 4h0m-63 3h0m-11 3h0m32 5h0m21-5h0m12 11h0m10 3h0m29-11h0m41 7h0m8-9h0m11 6h0m38 7h0m39-1h0m11-4h0m32-4h0m29 7h0m45-6h0m-2 12h0m-7 7h0m-15-3h0m-10 4h0m-48-7h0m-31 8h0m-40 4h0m-14-12h0m-9 7h0m-27-7h0m-17 2h0m-10-1h0m-23 2h0m-16-2h0m-33 6h0m-22 0h0m33 19h0m3-10h0m12 11h0m17-10h0m49-1h0m20 11h0m6-9h0m16 9h0m3-12h0m18 4h0m13-2h0m0 10h0m10-1h0m6-9h0m32 9h0m13-9h0m4 11h0m12-13h0m-56 14h0m0 14h0m-36-14h0m-23 12h0m-11-6h0m-28-6h0m-27 1h0m-11 0h0m39 25h0m11-1h0m16 0h0m73 0h0m16 7h0"/></defs><g opacity="0.178"><use href="#l11" stroke="#00003c" stroke-width="11"/><use href="#l11" stroke="#0000ff" stroke-width="7"/></g></g><g clip-path="url(#cb)"><g filter="url(#b14)" fill="#00006e"><polygon points="335,545 430,566 520,588 640,604 640,636 520,656 430,682 335,710" opacity="0.42"/><ellipse cx="300" cy="622" rx="85" ry="118" opacity="0.25"/></g></g><g filter="url(#b6)"><polygon points="272,505 247,523 227,554 219,590 218,620 222,655 233,685 252,710 278,730 306,734 326,720 340,698 348,670 352,640 350,600 342,578 328,558 302,530" fill="#000080" opacity="0.82"/><polygon points="560,604 640,601 720,599 800,598 900,596 1000,595 1100,593 1180,592 1260,594 1310,597 1342,600 1342,606 1310,611 1260,618 1180,625 1100,630 1000,634 900,635 800,636 720,636 640,636 560,636" fill="url(#tg)"/></g><path d="M1348 604h0m-1-2h0m-1 0h0m-3 2h0m-1 0h0m0-3h0m0 0h0m-2 0h0m0 0h0m-1 4h0m-1-4h0m0 0h0m0 0h0m-2 5h0m-2 0h0m-1 0h0m-3 0h0m-3-6h0m-1 0h0m-3 7h0m-2-7h0m-3 0h0m-4-1h0m-5-1h0m-1 2h0m0-2h0m-2 0h0m-1 1h0m-1-1h0m-1 1h0m-1 0h0m0-1h0m-1 1h0m0-1h0m-1 1h0m-8 0h0m-7 0h0m-2 0h0m-9-3h0m-3 2h0m-1-1h0m0 1h0m-1-1h0m-3-2h0m-4 1h0m-5 0h0m-1 1h0m-1-2h0m0 0h0m-1 0h0m-1 1h0m-3 0h0m0 1h0m-1 1h0m-3-2h0m-6 1h0m-3-2h0m-1 1h0m-3-1h0m0 1h0m-1-2h0m-4 1h0m0 2h0m0-3h0m-2 1h0m-2 0h0m0 1h0m-2-2h0m0 0h0m0 0h0m-2 1h0m-11-1h0m-5 2h0m-3 2h0m-1-3h0m-1 1h0m-1-2h0m-11 3h0m-1-4h0m-4 3h0m-3 2h0m0-3h0m-10-2h0m-3 2h0m-1 0h0m-1 1h0m0 1h0m-1 0h0m-2 0h0m-5-2h0m-4 2h0m0-5h0m-3 5h0m-5-2h0m-3-2h0m-1 2h0m-3 0h0m-1 0h0m-2-2h0m-3 2h0m-1 1h0m-2-2h0m-7 1h0m-1-1h0m-3 4h0m-1-4h0m-4-1h0m-7 6h0m-11-4h0m0 2h0m-5 1h0m-3-4h0m-4 5h0m-1 0h0m-1-2h0m-5-1h0m-4 1h0m-2 0h0m-2-3h0m0 2h0m-2 1h0m-2-1h0m-1-1h0m-16 0h0m-1 3h0m-6 1h0m-2-2h0m0 3h0m-3-3h0m-2 3h0m-1-5h0m-1 5h0m-1-3h0m-2-1h0m-1 2h0m0-2h0m-4 2h0m-3 2h0m-9-2h0m-1-2h0m-4 5h0m-3-5h0m0 2h0m-1-2h0m-2 4h0m-1-4h0m-1 4h0m-3-3h0m-4 0h0m-3 2h0m-3-2h0m-9 3h0m-3-1h0m0 0h0m-3 2h0m-9-1h0m0 2h0m-2-2h0m-6 1h0m0-4h0m-2 1h0m0 3h0m-4-1h0m-2-2h0m0-2h0m-4 2h0m-1 3h0m-2-5h0m-5 5h0m-3 0h0m-3 0h0m0 0h0m-1-4h0m-2 5h0m-1-5h0m-2 4h0m-2-5h0m0 2h0m-2 0h0m-4 3h0m-1-2h0m-4-3h0m0 5h0m-7-5h0m-1 5h0m-8-3h0m-3-1h0m-10 6h0m-1-4h0m-2 4h0m-2-4h0m0 4h0m-2-2h0m-7 0h0m-2 2h0m-2-1h0m-1-1h0m0-3h0m-1 0h0m-2 3h0m0-1h0m0 1h0m-2-4h0m-6 2h0m-2 1h0m-3 2h0m-4-4h0m-5 1h0m-10 3h0m-1-3h0m-3 0h0m-2 3h0m0 1h0m-9-1h0m-4-4h0m-10 4h0m-5 2h0m-2-3h0m-7 2h0m-1-2h0m-2-1h0m-5 4h0m-8-2h0m-1 3h0m-2-1h0m-4-2h0m-10 0h0m-3 1h0m-5 2h0m-2-3h0m-9 3h0m-4-2h0m-8-2h0m-8 4h0m-2 0h0m-27-4h0m-3 0h0m-28 4h0m500 18h0m13-1h0m10-1h0m2 1h0m1 1h0m2-3h0m1 3h0m11-1h0m1-3h0m0 0h0m6 2h0m2 0h0m0-1h0m2 2h0m2-1h0m0 0h0m3-1h0m0-1h0m2 2h0m1-2h0m1 0h0m1 1h0m3-1h0m2-1h0m2 1h0m0 0h0m2-1h0m1-1h0m4 1h0m2-1h0m3 2h0m6-1h0m3 1h0m3-3h0m5 1h0m2 1h0m5-2h0m2-1h0m2-1h0m8 0h0m0 0h0m3-1h0m1 0h0m4 0h0m0 1h0m2-1h0m2 0h0m0 1h0m3-2h0m0 0h0m2 1h0m1 0h0m7-1h0m7-1h0m0 0h0m2-1h0m4-1h0m0 0h0m7 0h0m3-1h0m5 0h0m-142 16h0m-6 0h0m-1 1h0m-16 1h0m-3-2h0m-17 3h0m-6-3h0m-2 4h0m-2-1h0m-2-3h0m-2 4h0m-4-4h0m-3 2h0m-1-1h0m-1 2h0m-1-2h0m-5 0h0m0 0h0m-1-1h0m-1 2h0m-1 2h0m0 0h0m-1-2h0m-13 2h0m-3 0h0m-6-3h0m-1 4h0m-1-4h0m-1 1h0m-1 3h0m0 0h0m-1 0h0m-1-1h0m-1-1h0m-7 0h0m-1 3h0m-6-3h0m-6 4h0m-3-4h0m0 2h0m-3 1h0m0 0h0m-1-1h0m-3 3h0m-6-4h0m-4 4h0m-2-3h0m-1 2h0m-2-1h0m-6-3h0m-1 4h0m-3 1h0m-2-2h0m-6-2h0m0 1h0m-1 3h0m-1 0h0m-1-2h0m-6-3h0m-3 5h0m0-5h0m-2 2h0m-7-1h0m-2 3h0m-2 1h0m-1-2h0m-8 0h0m-1 0h0m-1 2h0m-1-3h0m-9 5h0m-4-3h0m-8 1h0m-5-2h0m-4 3h0m-3 0h0m-1-4h0m-2-1h0m-3 5h0m0-5h0m-7 0h0m-4 1h0m-1 3h0m0-2h0m-9 1h0m-4 3h0m-1-4h0m-3 4h0m-2 0h0m-4 0h0m-2 0h0m-3-1h0m-8-1h0m-3 2h0m-1-4h0m-5 2h0m-9-3h0m-4 5h0m-1 0h0m-3 0h0m0 1h0m0-4h0m-2-2h0m-3 3h0m-3-2h0m-3 2h0m0 2h0m-1-4h0m-1-1h0m-3 2h0m-2 4h0m-2-2h0m-4-4h0m-1 0h0m-1 1h0m-6-1h0m-2 1h0m-4 3h0m-3-3h0m0 2h0m-1 3h0m-5-3h0m-1 0h0m0 2h0m0-2h0m-1 1h0m-6-1h0m0 2h0m-1-1h0m-2 0h0m-2-2h0m0 3h0m-3-2h0m0 0h0m-3-2h0m-3 4h0m-2-2h0m-4-1h0m-2 4h0m-1-3h0m-2 3h0m-15-3h0m-16-1h0m0 2h0m-44 0h0m-3 1h0m-8-3h0m-2 4h0m-16-2h0m-28 1h0" fill="none" stroke="#000082" stroke-opacity="0.55" stroke-width="9.5" stroke-linecap="round"/><g fill="#00007a"><ellipse cx="1494" cy="603.5" rx="8" ry="5.5"/><ellipse cx="2028" cy="647" rx="17" ry="10" transform="rotate(-18 2028 647)"/><ellipse cx="2047" cy="630" rx="11" ry="6.5" transform="rotate(-10 2047 630)"/></g></g><g fill="none" stroke="#4c4c4c" stroke-width="3.8" filter="url(#axb)"><rect x="161.3" y="91.8" width="1989.1" height="1057.3"/></g><path d="M195.8 1149.1v-9M195.8 91.8v9M526.9 1149.1v-9M526.9 91.8v9M858.0 1149.1v-9M858.0 91.8v9M1189.1 1149.1v-9M1189.1 91.8v9M1520.2 1149.1v-9M1520.2 91.8v9M1851.3 1149.1v-9M1851.3 91.8v9M161.3 1016.3h9M2150.4 1016.3h-9M161.3 884.2h9M2150.4 884.2h-9M161.3 752.1h9M2150.4 752.1h-9M161.3 620.0h9M2150.4 620.0h-9M161.3 487.9h9M2150.4 487.9h-9M161.3 355.8h9M2150.4 355.8h-9M161.3 223.7h9M2150.4 223.7h-9" stroke="#808080" stroke-width="2.4" fill="none" filter="url(#axb)"/><g class="tk" text-anchor="middle" filter="url(#txb)"><text x="191.8" y="1193">−1</text><text x="526.9" y="1193">0</text><text x="858.0" y="1193">1</text><text x="1189.1" y="1193">2</text><text x="1520.2" y="1193">3</text><text x="1851.3" y="1193">4</text></g><g class="tk" text-anchor="end" filter="url(#txb)"><text x="154.5" y="105.2">4</text><text x="154.5" y="237.3">3</text><text x="154.5" y="369.4">2</text><text x="154.5" y="501.5">1</text><text x="154.5" y="633.6">0</text><text x="154.5" y="765.7">−1</text><text x="154.5" y="897.8">−2</text><text x="154.5" y="1029.9">−3</text><text x="154.5" y="1162.0">−4</text></g><text class="ti" x="1157.5" y="80" text-anchor="middle" filter="url(#txb)">Diffusion Map of all the hits</text><text class="ph" x="1134.5" y="1249" font-size="51">ϕ<tspan font-style="normal" font-size="36" dy="10">1</tspan></text><text class="ph" transform="translate(66,642.5) rotate(-90)" font-size="50">ϕ<tspan font-style="normal" font-size="36" dy="10">2</tspan></text><polygon fill="#9c0a86" points="235.8,1060.5 235.8,791.0 250.9,791.0 230.4,751.0 209.9,791.0 225.0,791.0 225.0,1060.5"/><polygon fill="#76259a" points="1129.3,1092.1 957.1,952.6 967.3,940.1 923.3,930.8 941.5,971.9 951.6,959.4 1123.7,1098.9"/><polygon fill="#76259a" points="1152.7,368.7 954.1,567.2 943.4,556.5 930.3,597.2 971.0,584.1 960.3,573.4 1158.9,374.9"/><polygon fill="#76259a" points="1458.5,789.9 1282.3,666.9 1291.5,653.7 1247.0,647.6 1268.1,687.3 1277.3,674.1 1453.5,797.1"/><polygon fill="#76259a" points="2030.0,944.0 2030.0,732.0 2045.1,732.0 2024.6,692.0 2004.1,732.0 2019.2,732.0 2019.2,944.0"/><text class="an" x="166" y="1117.5" textLength="438" lengthAdjust="spacingAndGlyphs" filter="url(#txb)">(a) Single Particle</text><text class="an" x="1138" y="1121" textLength="509" lengthAdjust="spacingAndGlyphs" filter="url(#txb)">(b) Multiple Particles</text><text class="an" x="1081" y="359" textLength="226" lengthAdjust="spacingAndGlyphs" filter="url(#txb)">(c) Water</text><text class="an" x="1267" y="846.5" textLength="652" lengthAdjust="spacingAndGlyphs" filter="url(#txb)">(d) Background scattering</text><text class="an" x="1655" y="1006.5" textLength="475" lengthAdjust="spacingAndGlyphs" filter="url(#txb)">(e) Detector Defect</text><defs><clipPath id="cp0"><rect x="154.5" y="1275.8" width="353.1" height="354.7"/></clipPath><clipPath id="cp1"><rect x="566.4" y="1275.8" width="352.2" height="354.2"/></clipPath><clipPath id="cp2"><rect x="979.2" y="1275.8" width="350.8" height="351.8"/></clipPath><clipPath id="cp3"><rect x="1391.1" y="1275.8" width="349.4" height="354.2"/></clipPath><clipPath id="cp4"><rect x="1802.4" y="1275.8" width="349.4" height="354.2"/></clipPath><filter id="pb2" x="-20%" y="-20%" width="140%" height="140%"><feGaussianBlur stdDeviation="2"/></filter><filter id="pb4" x="-20%" y="-20%" width="140%" height="140%"><feGaussianBlur stdDeviation="3.5"/></filter><filter id="pb8" x="-30%" y="-30%" width="160%" height="160%"><feGaussianBlur stdDeviation="8"/></filter><filter id="pb1" x="-10%" y="-10%" width="120%" height="120%"><feGaussianBlur stdDeviation="1.1"/></filter><filter id="nz" x="0" y="0" width="100%" height="100%"><feTurbulence type="fractalNoise" baseFrequency="0.16" numOctaves="2" seed="7" result="t"/><feColorMatrix in="t" type="matrix" values="0 0 0 0 0.02  0 0 0 0 0.18  0 0 0 0 0.8  2.4 0 0 0 -1.2"/><feGaussianBlur stdDeviation="0.8"/></filter><filter id="nz2" x="0" y="0" width="100%" height="100%"><feTurbulence type="fractalNoise" baseFrequency="0.2" numOctaves="2" seed="3" result="t"/><feColorMatrix in="t" type="matrix" values="0 0 0 0 0  0 0 0 0 0  0 0 0 0 0.55  0 2.4 0 0 -1.0"/><feGaussianBlur stdDeviation="1"/></filter><radialGradient id="ga"><stop offset="0" stop-color="#e01000"/><stop offset="0.38" stop-color="#f01800"/><stop offset="0.56" stop-color="#ff3c00"/><stop offset="0.67" stop-color="#ff9000"/><stop offset="0.75" stop-color="#f4f010"/><stop offset="0.825" stop-color="#60ff90"/><stop offset="0.89" stop-color="#00dcff"/><stop offset="0.95" stop-color="#0060e8"/><stop offset="1" stop-color="#0028b8" stop-opacity="0"/></radialGradient><radialGradient id="gb"><stop offset="0" stop-color="#e81400"/><stop offset="0.45" stop-color="#f21c00"/><stop offset="0.62" stop-color="#ff5a00"/><stop offset="0.73" stop-color="#ffb000"/><stop offset="0.81" stop-color="#e8f010"/><stop offset="0.88" stop-color="#58ff98"/><stop offset="0.94" stop-color="#00d8ff"/><stop offset="0.98" stop-color="#0058e8"/><stop offset="1" stop-color="#0030c0" stop-opacity="0"/></radialGradient><radialGradient id="gb2"><stop offset="0" stop-color="#ff9800"/><stop offset="0.3" stop-color="#ffb400"/><stop offset="0.5" stop-color="#f0f010"/><stop offset="0.66" stop-color="#70ff80"/><stop offset="0.8" stop-color="#10e0f0"/><stop offset="0.92" stop-color="#0878e8"/><stop offset="1" stop-color="#0040d0" stop-opacity="0"/></radialGradient><radialGradient id="gb3"><stop offset="0" stop-color="#f8e800"/><stop offset="0.25" stop-color="#e0f020"/><stop offset="0.5" stop-color="#70ff80"/><stop offset="0.72" stop-color="#10e0f0"/><stop offset="0.9" stop-color="#0878e8"/><stop offset="1" stop-color="#0040d0" stop-opacity="0"/></radialGradient><radialGradient id="gcy"><stop offset="0" stop-color="#20e8e0"/><stop offset="0.45" stop-color="#18c0f0" stop-opacity="0.95"/><stop offset="0.8" stop-color="#1080e8" stop-opacity="0.7"/><stop offset="1" stop-color="#0848d0" stop-opacity="0"/></radialGradient><radialGradient id="gbl"><stop offset="0" stop-color="#18a0f0" stop-opacity="0.9"/><stop offset="0.5" stop-color="#1078e0" stop-opacity="0.7"/><stop offset="1" stop-color="#0848d0" stop-opacity="0"/></radialGradient><radialGradient id="gc"><stop offset="0" stop-color="#ff7000"/><stop offset="0.135" stop-color="#ff9000"/><stop offset="0.155" stop-color="#d0f030"/><stop offset="0.19" stop-color="#70ff80"/><stop offset="0.29" stop-color="#38fc98"/><stop offset="0.4" stop-color="#2cf4bc"/><stop offset="0.5" stop-color="#28e8e0"/><stop offset="0.6" stop-color="#2cd4f8"/><stop offset="0.7" stop-color="#28b4f4"/><stop offset="0.79" stop-color="#1c84e8"/><stop offset="0.88" stop-color="#0c48c8"/><stop offset="1" stop-color="#00008c" stop-opacity="0"/></radialGradient><radialGradient id="gd"><stop offset="0" stop-color="#ffb000"/><stop offset="0.125" stop-color="#d8e828"/><stop offset="0.155" stop-color="#50ff90"/><stop offset="0.2" stop-color="#18d8f0"/><stop offset="0.27" stop-color="#189cf0"/><stop offset="0.36" stop-color="#1268e0" stop-opacity="0.9"/><stop offset="0.5" stop-color="#0c48cc" stop-opacity="0.65"/><stop offset="0.7" stop-color="#0830b8" stop-opacity="0.35"/><stop offset="1" stop-color="#0020a8" stop-opacity="0"/></radialGradient><linearGradient id="ge1" x1="0" x2="1" y1="0" y2="0"><stop offset="0" stop-color="#0858d4"/><stop offset="0.05" stop-color="#1078e4"/><stop offset="0.09" stop-color="#14b8f0"/><stop offset="0.14" stop-color="#14e4cc"/><stop offset="0.21" stop-color="#0cf0a0"/><stop offset="0.45" stop-color="#04f080"/><stop offset="0.66" stop-color="#08f094"/><stop offset="0.73" stop-color="#10e4cc"/><stop offset="0.78" stop-color="#12b4f0"/><stop offset="0.84" stop-color="#0c70e0"/><stop offset="0.9" stop-color="#0a50cc"/><stop offset="0.95" stop-color="#0c70dc"/><stop offset="1" stop-color="#0a40bc"/></linearGradient><linearGradient id="ge2" x1="0" x2="1" y1="0" y2="0"><stop offset="0" stop-color="#0848c8"/><stop offset="0.15" stop-color="#1088e8"/><stop offset="0.35" stop-color="#18c0f0"/><stop offset="0.6" stop-color="#18c8f0"/><stop offset="0.85" stop-color="#1080e0"/><stop offset="1" stop-color="#0848c8"/></linearGradient><linearGradient id="ge3" x1="0" x2="1" y1="0" y2="0"><stop offset="0" stop-color="#10a0f0" stop-opacity="0.2"/><stop offset="0.12" stop-color="#20d8e8"/><stop offset="0.3" stop-color="#d0f020"/><stop offset="0.5" stop-color="#ffb000"/><stop offset="0.72" stop-color="#ff9800"/><stop offset="0.9" stop-color="#f0e010"/><stop offset="1" stop-color="#60f080"/></linearGradient><linearGradient id="ge4" x1="0" x2="1" y1="0" y2="0"><stop offset="0" stop-color="#1090e8"/><stop offset="0.3" stop-color="#18d0e0"/><stop offset="0.55" stop-color="#20e8c0"/><stop offset="0.8" stop-color="#18b0f0"/><stop offset="1" stop-color="#1070e0" stop-opacity="0"/></linearGradient><linearGradient id="gev" x1="0" x2="0" y1="0" y2="1"><stop offset="0" stop-color="#20d0f0" stop-opacity="0"/><stop offset="0.45" stop-color="#20d0f0" stop-opacity="0.05"/><stop offset="0.75" stop-color="#20d0f0" stop-opacity="0.3"/><stop offset="1" stop-color="#20c0f0" stop-opacity="0.35"/></linearGradient></defs><g clip-path="url(#cp0)"><rect x="154.5" y="1275.8" width="353.1" height="354.7" fill="#00008a"/><rect x="154.5" y="1275.8" width="353.1" height="354.7" filter="url(#nz)" opacity="0.32"/><g fill="none" stroke-linejoin="round" filter="url(#pb4)"><polygon points="512.0,1453.6 509.8,1463.7 503.3,1480.6 492.6,1500.8 478.4,1522.7 461.0,1545.1 441.3,1567.0 420.1,1587.2 398.2,1605.1 376.9,1619.7 357.2,1630.6 340.9,1637.3 331.0,1639.6 321.1,1637.3 304.8,1630.6 285.1,1619.7 263.8,1605.1 241.9,1587.2 220.7,1567.0 201.0,1545.1 183.6,1522.7 169.4,1500.8 158.7,1480.6 152.2,1463.7 150.0,1453.6 152.2,1443.5 158.7,1426.6 169.4,1406.4 183.6,1384.5 201.0,1362.1 220.7,1340.2 241.9,1320.0 263.8,1302.1 285.1,1287.5 304.8,1276.6 321.1,1269.9 331.0,1267.6 340.9,1269.9 357.2,1276.6 376.9,1287.5 398.2,1302.1 420.1,1320.0 441.3,1340.2 461.0,1362.1 478.4,1384.5 492.6,1406.4 503.3,1426.6 509.8,1443.5" stroke="#0a38bc" stroke-width="10" opacity="0.16"/><polygon points="482.0,1453.6 480.2,1462.1 474.7,1476.2 465.9,1493.2 454.0,1511.6 439.5,1530.4 423.0,1548.7 405.3,1565.7 387.1,1580.6 369.3,1592.9 352.9,1602.1 339.2,1607.7 331.0,1609.6 322.8,1607.7 309.1,1602.1 292.7,1592.9 274.9,1580.6 256.7,1565.7 239.0,1548.7 222.5,1530.4 208.0,1511.6 196.1,1493.2 187.3,1476.2 181.8,1462.1 180.0,1453.6 181.8,1445.1 187.3,1431.0 196.1,1414.0 208.0,1395.6 222.5,1376.8 239.0,1358.5 256.7,1341.5 274.9,1326.6 292.7,1314.3 309.1,1305.1 322.8,1299.5 331.0,1297.6 339.2,1299.5 352.9,1305.1 369.3,1314.3 387.1,1326.6 405.3,1341.5 423.0,1358.5 439.5,1376.8 454.0,1395.6 465.9,1414.0 474.7,1431.0 480.2,1445.1" stroke="#0a40c0" stroke-width="11" opacity="0.28"/><polygon points="451.0,1453.6 449.5,1460.5 445.2,1471.9 438.2,1485.5 428.7,1500.4 417.2,1515.6 404.1,1530.4 390.1,1544.1 375.6,1556.2 361.4,1566.1 348.4,1573.5 337.5,1578.1 331.0,1579.6 324.5,1578.1 313.6,1573.5 300.6,1566.1 286.4,1556.2 271.9,1544.1 257.9,1530.4 244.8,1515.6 233.3,1500.4 223.8,1485.5 216.8,1471.9 212.5,1460.5 211.0,1453.6 212.5,1446.7 216.8,1435.3 223.8,1421.7 233.3,1406.8 244.8,1391.6 257.9,1376.8 271.9,1363.1 286.4,1351.0 300.6,1341.1 313.6,1333.7 324.5,1329.1 331.0,1327.6 337.5,1329.1 348.4,1333.7 361.4,1341.1 375.6,1351.0 390.1,1363.1 404.1,1376.8 417.2,1391.6 428.7,1406.8 438.2,1421.7 445.2,1435.3 449.5,1446.7" stroke="#0c58cc" stroke-width="12" opacity="0.42"/><polygon points="421.0,1453.6 419.9,1458.9 416.7,1467.7 411.4,1478.2 404.3,1489.6 395.7,1501.3 385.9,1512.7 375.3,1523.3 364.4,1532.6 353.8,1540.2 344.1,1545.9 335.9,1549.4 331.0,1550.6 326.1,1549.4 317.9,1545.9 308.2,1540.2 297.6,1532.6 286.7,1523.3 276.1,1512.7 266.3,1501.3 257.7,1489.6 250.6,1478.2 245.3,1467.7 242.1,1458.9 241.0,1453.6 242.1,1448.3 245.3,1439.5 250.6,1429.0 257.7,1417.6 266.3,1405.9 276.1,1394.5 286.7,1383.9 297.6,1374.6 308.2,1367.0 317.9,1361.3 326.1,1357.8 331.0,1356.6 335.9,1357.8 344.1,1361.3 353.8,1367.0 364.4,1374.6 375.3,1383.9 385.9,1394.5 395.7,1405.9 404.3,1417.6 411.4,1429.0 416.7,1439.5 419.9,1448.3" stroke="#1078e0" stroke-width="14" opacity="0.62"/><path d="M353.0 1369.6L415.0 1433.6M311.0 1539.6L251.0 1477.6" stroke="#16a0f0" stroke-width="13" stroke-linecap="round" opacity="0.8"/><path d="M361.0 1341.6L441.0 1425.6M301.0 1565.6L225.0 1485.6" stroke="#1280e4" stroke-width="12" stroke-linecap="round" opacity="0.6"/></g><g filter="url(#pb2)"><polygon points="406.0,1453.6 405.1,1458.2 402.5,1465.4 398.2,1473.8 392.5,1482.8 385.5,1491.9 377.5,1500.7 368.8,1508.8 359.8,1515.9 350.9,1521.7 342.6,1526.1 335.5,1528.7 331.0,1529.6 326.5,1528.7 319.4,1526.1 311.1,1521.7 302.2,1515.9 293.2,1508.8 284.5,1500.7 276.5,1491.9 269.5,1482.8 263.8,1473.8 259.5,1465.4 256.9,1458.2 256.0,1453.6 256.9,1449.0 259.5,1441.8 263.8,1433.4 269.5,1424.4 276.5,1415.3 284.5,1406.5 293.2,1398.4 302.2,1391.3 311.1,1385.5 319.4,1381.1 326.5,1378.5 331.0,1377.6 335.5,1378.5 342.6,1381.1 350.9,1385.5 359.8,1391.3 368.8,1398.4 377.5,1406.5 385.5,1415.3 392.5,1424.4 398.2,1433.4 402.5,1441.8 405.1,1449.0" fill="#12bcf0"/><polygon points="397.0,1453.6 396.2,1458.0 394.0,1464.7 390.4,1472.2 385.5,1480.2 379.5,1488.2 372.6,1495.8 365.1,1502.8 357.2,1508.9 349.3,1513.9 341.9,1517.6 335.4,1519.8 331.0,1520.6 326.6,1519.8 320.1,1517.6 312.7,1513.9 304.8,1508.9 296.9,1502.8 289.4,1495.8 282.5,1488.2 276.5,1480.2 271.6,1472.2 268.0,1464.7 265.8,1458.0 265.0,1453.6 265.8,1449.2 268.0,1442.5 271.6,1435.0 276.5,1427.0 282.5,1419.0 289.4,1411.4 296.9,1404.4 304.8,1398.3 312.7,1393.3 320.1,1389.6 326.6,1387.4 331.0,1386.6 335.4,1387.4 341.9,1389.6 349.3,1393.3 357.2,1398.3 365.1,1404.4 372.6,1411.4 379.5,1419.0 385.5,1427.0 390.4,1435.0 394.0,1442.5 396.2,1449.2" fill="#18d8f4"/></g><g filter="url(#pb4)"><ellipse cx="275.0" cy="1451.6" rx="12" ry="17" fill="#30f8b0" opacity="0.9"/><ellipse cx="388.0" cy="1461.6" rx="12" ry="18" fill="#30f8b0" opacity="0.9"/><ellipse cx="313.0" cy="1398.6" rx="18" ry="9" fill="#28f0c8" opacity="0.8" transform="rotate(-40 313.0 1398.6)"/><ellipse cx="337.0" cy="1512.6" rx="24" ry="9" fill="#28f0c8" opacity="0.85"/></g><ellipse cx="331.0" cy="1455.3" rx="41.5" ry="47.5" fill="none" stroke="#0014a4" stroke-width="5" filter="url(#pb2)"/><rect x="154.5" y="1275.8" width="353.1" height="354.7" filter="url(#nz2)" opacity="0.3"/><ellipse cx="331.0" cy="1455.3" rx="38.5" ry="44.5" fill="url(#ga)" filter="url(#pb1)"/><rect x="231.0" y="1451.5" width="200" height="4.2" fill="#00008c" filter="url(#pb1)"/><rect x="320.5" y="1443.8" width="20.5" height="20.5" rx="2" fill="#00008c" filter="url(#pb1)"/></g><g clip-path="url(#cp1)"><rect x="566.4" y="1275.8" width="352.2" height="354.2" fill="#00008a"/><rect x="566.4" y="1275.8" width="352.2" height="354.2" filter="url(#nz)" opacity="0.32"/><g transform="translate(742.4 1453.5) rotate(-22)"><ellipse cx="0" cy="0" rx="100" ry="105" fill="#0c58d0" opacity="0.7" filter="url(#pb8)" transform="skewY(20)"/><ellipse cx="0" cy="0" rx="62" ry="66" fill="#14a8ec" opacity="0.7" filter="url(#pb8)" transform="skewY(20)"/><g filter="url(#pb2)"><ellipse cx="-64" cy="0" rx="13.5" ry="47.5" fill="url(#gcy)" opacity="0.95"/><ellipse cx="64" cy="0" rx="13.5" ry="47.5" fill="url(#gcy)" opacity="0.95"/><ellipse cx="-94" cy="4" rx="12.2" ry="42.5" fill="url(#gbl)" opacity="0.8"/><ellipse cx="94" cy="-4" rx="12.2" ry="42.5" fill="url(#gbl)" opacity="0.8"/><ellipse cx="-124" cy="8" rx="10.8" ry="35.0" fill="url(#gbl)" opacity="0.5"/><ellipse cx="124" cy="-8" rx="10.8" ry="35.0" fill="url(#gbl)" opacity="0.5"/><ellipse cx="0" cy="-72" rx="17.6" ry="21.2" fill="url(#gcy)" opacity="0.9"/><ellipse cx="0" cy="72" rx="17.6" ry="21.2" fill="url(#gcy)" opacity="0.9"/><ellipse cx="-32" cy="-70" rx="14.9" ry="21.2" fill="url(#gcy)" opacity="0.95"/><ellipse cx="32" cy="70" rx="14.9" ry="21.2" fill="url(#gcy)" opacity="0.95"/><ellipse cx="32" cy="-74" rx="13.5" ry="18.8" fill="url(#gcy)" opacity="0.7"/><ellipse cx="-32" cy="74" rx="13.5" ry="18.8" fill="url(#gcy)" opacity="0.7"/><ellipse cx="-64" cy="-66" rx="13.5" ry="20.0" fill="url(#gbl)" opacity="0.85"/><ellipse cx="64" cy="66" rx="13.5" ry="20.0" fill="url(#gbl)" opacity="0.85"/><ellipse cx="64" cy="-70" rx="12.2" ry="17.5" fill="url(#gbl)" opacity="0.6"/><ellipse cx="-64" cy="70" rx="12.2" ry="17.5" fill="url(#gbl)" opacity="0.6"/><ellipse cx="0" cy="-112" rx="14.9" ry="17.5" fill="url(#gbl)" opacity="0.8"/><ellipse cx="0" cy="112" rx="14.9" ry="17.5" fill="url(#gbl)" opacity="0.8"/><ellipse cx="-32" cy="-112" rx="13.5" ry="16.2" fill="url(#gbl)" opacity="0.7"/><ellipse cx="32" cy="112" rx="13.5" ry="16.2" fill="url(#gbl)" opacity="0.7"/><ellipse cx="32" cy="-114" rx="12.2" ry="15.0" fill="url(#gbl)" opacity="0.5"/><ellipse cx="-32" cy="114" rx="12.2" ry="15.0" fill="url(#gbl)" opacity="0.5"/><ellipse cx="-94" cy="-60" rx="12.2" ry="17.5" fill="url(#gbl)" opacity="0.6"/><ellipse cx="94" cy="60" rx="12.2" ry="17.5" fill="url(#gbl)" opacity="0.6"/><ellipse cx="0" cy="-150" rx="13.5" ry="15.0" fill="url(#gbl)" opacity="0.5"/><ellipse cx="0" cy="150" rx="13.5" ry="15.0" fill="url(#gbl)" opacity="0.5"/></g></g><rect x="566.4" y="1275.8" width="352.2" height="354.2" filter="url(#nz2)" opacity="0.3"/><g transform="translate(742.4 1453.5) rotate(-22)" filter="url(#pb1)"><ellipse cx="35" cy="-2" rx="15.5" ry="32" fill="url(#gb2)"/><ellipse cx="-35" cy="2" rx="15.5" ry="32" fill="url(#gb3)"/><ellipse cx="0" cy="0" rx="22" ry="45" fill="url(#gb)"/></g><rect x="627.4" y="1451.3" width="235" height="4.4" fill="#000090" filter="url(#pb1)"/><rect x="732.4" y="1443.5" width="20" height="20" rx="4" fill="#000090" filter="url(#pb1)"/></g><g clip-path="url(#cp2)"><rect x="979.2" y="1275.8" width="350.8" height="351.8" fill="#00008a"/><rect x="979.2" y="1275.8" width="350.8" height="351.8" filter="url(#nz)" opacity="0.28"/><ellipse cx="1154.2" cy="1452.8" rx="97" ry="93" fill="url(#gc)"/><rect x="979.2" y="1275.8" width="350.8" height="351.8" filter="url(#nz2)" opacity="0.22"/><rect x="1062.2" y="1450.3999999999999" width="184" height="4.8" fill="#000090" filter="url(#pb1)"/><circle cx="1154.2" cy="1452.8" r="11.5" fill="#000090" filter="url(#pb1)"/></g><g clip-path="url(#cp3)"><rect x="1391.1" y="1275.8" width="349.4" height="354.2" fill="#00008a"/><rect x="1391.1" y="1275.8" width="349.4" height="354.2" filter="url(#nz)" opacity="0.28"/><ellipse cx="1565.4" cy="1454.2" rx="92" ry="88" fill="url(#gd)"/><rect x="1391.1" y="1275.8" width="349.4" height="354.2" filter="url(#nz2)" opacity="0.22"/><rect x="1507.4" y="1452.0" width="116" height="4.4" fill="#000090" filter="url(#pb1)"/><circle cx="1565.4" cy="1454.2" r="10.5" fill="#000090" filter="url(#pb1)"/></g><g clip-path="url(#cp4)"><rect x="1802.4" y="1275.8" width="349.4" height="354.2" fill="#000082"/><g filter="url(#pb2)"><path d="M1857.4 1447.8V1411.8Q1858.4 1399.8 1874.4 1398.8H1914.4Q1930.4 1399.8 1932.4 1411.8V1447.8Z" fill="url(#ge2)"/><rect x="1864.4" y="1425.8" width="62" height="22" fill="#0860d8" opacity="0.6"/><rect x="1830.4" y="1454.8" width="144" height="176" fill="url(#ge1)"/><rect x="1830.4" y="1454.8" width="144" height="176" fill="url(#gev)"/><rect x="1935.4" y="1537.8" width="12" height="80" fill="#000088" opacity="0.75"/><rect x="1954.4" y="1537.8" width="9" height="80" fill="#000088" opacity="0.6"/><rect x="1830.4" y="1543.8" width="6" height="80" fill="#000088" opacity="0.6"/></g><g filter="url(#pb1)"><path d="M1857.4 1445.3H2032.4L2083.4 1447.8L2032.4 1449.8H1857.4Z" fill="url(#ge4)"/><rect x="1828.4" y="1450.8" width="150" height="4" fill="#000088"/><rect x="1973.4" y="1406.8" width="2.4" height="40" fill="#0850d0"/><path d="M1816.4 1630.8Q1842.4 1620.8 1872.4 1619.3Q1902.4 1616.8 1975.4 1619.3V1630.8Z" fill="url(#ge3)"/><rect x="1975.4" y="1626.8" width="90" height="4" fill="#0850d0" opacity="0.7"/></g></g><text class="pl" x="171.5" y="1336" filter="url(#pb1)">a</text><text class="pl" x="583.4" y="1336" filter="url(#pb1)">b</text><text class="pl" x="996.2" y="1336" filter="url(#pb1)">c</text><text class="pl" x="1408.1" y="1336" filter="url(#pb1)">d</text><text class="pl" x="1819.4" y="1336" filter="url(#pb1)">e</text></svg>
</body></html>
